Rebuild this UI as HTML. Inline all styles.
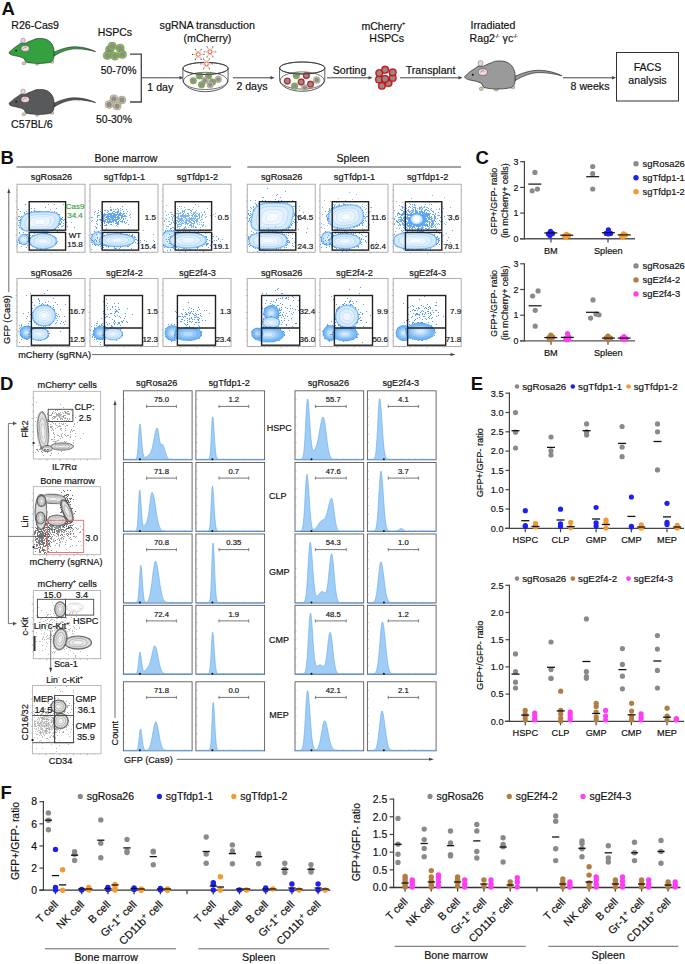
<!DOCTYPE html>
<html><head><meta charset="utf-8"><style>
html,body{margin:0;padding:0;background:#fff;}
svg{display:block;font-family:"Liberation Sans", sans-serif;}
</style></head><body>
<svg width="685" height="964" viewBox="0 0 685 964">
<defs><filter id="bl" x="-20%" y="-20%" width="140%" height="140%"><feGaussianBlur stdDeviation="0.7"/></filter></defs>
<rect width="685" height="964" fill="#fff"/>
<text x="1.4" y="14.5" font-size="18.5" text-anchor="start" fill="#111" font-weight="bold">A</text>
<g transform="translate(0,0)">
<path d="M53.5,52.4 C62,48.5 69,46.6 76,46.8 C84,47 90,49 95.6,51.6 C90,50.2 84,48.9 76,48.8 C69,48.8 62,51.2 54,56 Z" fill="#35a040" stroke="#222" stroke-width="0.6"/>
<ellipse cx="23.9" cy="63.3" rx="1.9" ry="1.5" fill="#d9c9a3" stroke="#666" stroke-width="0.4"/>
<ellipse cx="37.1" cy="63.8" rx="1.9" ry="1.5" fill="#d9c9a3" stroke="#666" stroke-width="0.4"/>
<ellipse cx="52" cy="61.8" rx="1.9" ry="1.5" fill="#d9c9a3" stroke="#666" stroke-width="0.4"/>
<path d="M9,52.3 C11,50.5 14,47.5 17,45.9 C18.5,45 19.8,44 20.7,43 C22.5,43.5 24,43.5 25.9,43 C28,42 29.5,41.3 31.5,40.6 C34,39.5 35.5,38.8 37.1,38.6 C39,38.4 40.5,38.4 42,38.5 C45,38.8 47,39.5 48.4,40.6 C50.5,42 51.8,43.5 52.4,45 C53.5,47 54,49 54,50.7 L54,56.3 C54,58 53.5,59.3 52.8,60.3 C51.5,62 50,62.5 48.4,62.7 C45,63.2 42,63.5 38.7,63.5 C35.5,63.5 33.5,63.3 31.5,63.1 C29,62.8 27.5,62.5 25.9,61.9 C25,61 24.6,59.6 24.3,58.7 C22.5,57.6 21,57.1 19.5,56.7 C17.5,56.2 15.5,55.9 13.8,55.5 C12,55.1 10.8,54.5 9.8,53.9 C9.3,53.5 8.9,52.9 9,52.3 Z" fill="#35a040" stroke="#222" stroke-width="0.6"/>
<ellipse cx="23.1" cy="40.4" rx="2.2" ry="2.3" fill="#f3d3da" stroke="#555" stroke-width="0.4"/>
<ellipse cx="25.2" cy="48.4" rx="4.1" ry="3" fill="#f3d3da" stroke="#444" stroke-width="0.45"/>
<path d="M23.2,48.8 C23.5,47.2 25.5,46.7 26.6,47.6" fill="none" stroke="#555" stroke-width="0.45"/>
<circle cx="16.2" cy="50.7" r="0.9" fill="#111"/>
</g>
<g transform="translate(0,51)">
<path d="M53.5,52.4 C62,48.5 69,46.6 76,46.8 C84,47 90,49 95.6,51.6 C90,50.2 84,48.9 76,48.8 C69,48.8 62,51.2 54,56 Z" fill="#58595b" stroke="#222" stroke-width="0.6"/>
<ellipse cx="23.9" cy="63.3" rx="1.9" ry="1.5" fill="#d9c9a3" stroke="#666" stroke-width="0.4"/>
<ellipse cx="37.1" cy="63.8" rx="1.9" ry="1.5" fill="#d9c9a3" stroke="#666" stroke-width="0.4"/>
<ellipse cx="52" cy="61.8" rx="1.9" ry="1.5" fill="#d9c9a3" stroke="#666" stroke-width="0.4"/>
<path d="M9,52.3 C11,50.5 14,47.5 17,45.9 C18.5,45 19.8,44 20.7,43 C22.5,43.5 24,43.5 25.9,43 C28,42 29.5,41.3 31.5,40.6 C34,39.5 35.5,38.8 37.1,38.6 C39,38.4 40.5,38.4 42,38.5 C45,38.8 47,39.5 48.4,40.6 C50.5,42 51.8,43.5 52.4,45 C53.5,47 54,49 54,50.7 L54,56.3 C54,58 53.5,59.3 52.8,60.3 C51.5,62 50,62.5 48.4,62.7 C45,63.2 42,63.5 38.7,63.5 C35.5,63.5 33.5,63.3 31.5,63.1 C29,62.8 27.5,62.5 25.9,61.9 C25,61 24.6,59.6 24.3,58.7 C22.5,57.6 21,57.1 19.5,56.7 C17.5,56.2 15.5,55.9 13.8,55.5 C12,55.1 10.8,54.5 9.8,53.9 C9.3,53.5 8.9,52.9 9,52.3 Z" fill="#58595b" stroke="#222" stroke-width="0.6"/>
<ellipse cx="23.1" cy="40.4" rx="2.2" ry="2.3" fill="#f3d3da" stroke="#555" stroke-width="0.4"/>
<ellipse cx="25.2" cy="48.4" rx="4.1" ry="3" fill="#f3d3da" stroke="#444" stroke-width="0.45"/>
<path d="M23.2,48.8 C23.5,47.2 25.5,46.7 26.6,47.6" fill="none" stroke="#555" stroke-width="0.45"/>
<circle cx="16.2" cy="50.7" r="0.9" fill="#111"/>
</g>
<g transform="translate(454.6,17.9) scale(1.12)">
<path d="M53.5,52.4 C62,48.5 69,46.6 76,46.8 C84,47 90,49 95.6,51.6 C90,50.2 84,48.9 76,48.8 C69,48.8 62,51.2 54,56 Z" fill="#9a9a9a" stroke="#222" stroke-width="0.6"/>
<ellipse cx="23.9" cy="63.3" rx="1.9" ry="1.5" fill="#d9c9a3" stroke="#666" stroke-width="0.4"/>
<ellipse cx="37.1" cy="63.8" rx="1.9" ry="1.5" fill="#d9c9a3" stroke="#666" stroke-width="0.4"/>
<ellipse cx="52" cy="61.8" rx="1.9" ry="1.5" fill="#d9c9a3" stroke="#666" stroke-width="0.4"/>
<path d="M9,52.3 C11,50.5 14,47.5 17,45.9 C18.5,45 19.8,44 20.7,43 C22.5,43.5 24,43.5 25.9,43 C28,42 29.5,41.3 31.5,40.6 C34,39.5 35.5,38.8 37.1,38.6 C39,38.4 40.5,38.4 42,38.5 C45,38.8 47,39.5 48.4,40.6 C50.5,42 51.8,43.5 52.4,45 C53.5,47 54,49 54,50.7 L54,56.3 C54,58 53.5,59.3 52.8,60.3 C51.5,62 50,62.5 48.4,62.7 C45,63.2 42,63.5 38.7,63.5 C35.5,63.5 33.5,63.3 31.5,63.1 C29,62.8 27.5,62.5 25.9,61.9 C25,61 24.6,59.6 24.3,58.7 C22.5,57.6 21,57.1 19.5,56.7 C17.5,56.2 15.5,55.9 13.8,55.5 C12,55.1 10.8,54.5 9.8,53.9 C9.3,53.5 8.9,52.9 9,52.3 Z" fill="#9a9a9a" stroke="#222" stroke-width="0.6"/>
<ellipse cx="23.1" cy="40.4" rx="2.2" ry="2.3" fill="#f3d3da" stroke="#555" stroke-width="0.4"/>
<ellipse cx="25.2" cy="48.4" rx="4.1" ry="3" fill="#f3d3da" stroke="#444" stroke-width="0.45"/>
<path d="M23.2,48.8 C23.5,47.2 25.5,46.7 26.6,47.6" fill="none" stroke="#555" stroke-width="0.45"/>
<circle cx="16.2" cy="50.7" r="0.9" fill="#111"/>
</g>
<circle cx="109.60" cy="49.70" r="4.10" fill="#86c440" stroke="#555" stroke-width="0.35"/>
<circle cx="109.60" cy="49.70" r="2.71" fill="#8c8d92" stroke="none" stroke-width="0"/>
<circle cx="120.10" cy="48.20" r="4.10" fill="#86c440" stroke="#555" stroke-width="0.35"/>
<circle cx="120.10" cy="48.20" r="2.71" fill="#8c8d92" stroke="none" stroke-width="0"/>
<circle cx="112.20" cy="46.20" r="4.10" fill="#86c440" stroke="#555" stroke-width="0.35"/>
<circle cx="112.20" cy="46.20" r="2.71" fill="#8c8d92" stroke="none" stroke-width="0"/>
<circle cx="107.30" cy="55.50" r="4.10" fill="#86c440" stroke="#555" stroke-width="0.35"/>
<circle cx="107.30" cy="55.50" r="2.71" fill="#8c8d92" stroke="none" stroke-width="0"/>
<circle cx="122.40" cy="54.40" r="4.10" fill="#86c440" stroke="#555" stroke-width="0.35"/>
<circle cx="122.40" cy="54.40" r="2.71" fill="#8c8d92" stroke="none" stroke-width="0"/>
<circle cx="114.90" cy="56.10" r="4.10" fill="#86c440" stroke="#555" stroke-width="0.35"/>
<circle cx="114.90" cy="56.10" r="2.71" fill="#8c8d92" stroke="none" stroke-width="0"/>
<circle cx="113.90" cy="98.80" r="4.00" fill="#d9cca6" stroke="#555" stroke-width="0.35"/>
<circle cx="113.90" cy="98.80" r="2.64" fill="#8c8d92" stroke="none" stroke-width="0"/>
<circle cx="121.90" cy="100.00" r="4.00" fill="#d9cca6" stroke="#555" stroke-width="0.35"/>
<circle cx="121.90" cy="100.00" r="2.64" fill="#8c8d92" stroke="none" stroke-width="0"/>
<circle cx="109.10" cy="104.50" r="4.00" fill="#d9cca6" stroke="#555" stroke-width="0.35"/>
<circle cx="109.10" cy="104.50" r="2.64" fill="#8c8d92" stroke="none" stroke-width="0"/>
<circle cx="117.10" cy="106.10" r="4.00" fill="#d9cca6" stroke="#555" stroke-width="0.35"/>
<circle cx="117.10" cy="106.10" r="2.64" fill="#8c8d92" stroke="none" stroke-width="0"/>
<text x="11.3" y="28.8" font-size="10.6" text-anchor="start" fill="#111" stroke="#111" stroke-width="0.18">R26-Cas9</text>
<text x="11.1" y="128.3" font-size="10.7" text-anchor="start" fill="#111" stroke="#111" stroke-width="0.18">C57BL/6</text>
<text x="114.9" y="36.0" font-size="10.5" text-anchor="middle" fill="#111" stroke="#111" stroke-width="0.18">HSPCs</text>
<text x="118.6" y="73.6" font-size="10.4" text-anchor="middle" fill="#111" stroke="#111" stroke-width="0.18">50-70%</text>
<text x="114.0" y="123.0" font-size="10.4" text-anchor="middle" fill="#111" stroke="#111" stroke-width="0.18">50-30%</text>
<path d="M130,54.2 L141.3,54.2 L141.3,102 L130,102" fill="none" stroke="#444" stroke-width="1.3"/>
<line x1="141.30" y1="77.80" x2="180.50" y2="77.80" stroke="#444" stroke-width="1.0"/>
<path d="M183.5,77.8 L179.5,76.0 L179.5,79.6 Z" fill="#444"/>
<text x="160.3" y="90.5" font-size="10.6" text-anchor="middle" fill="#111" stroke="#111" stroke-width="0.18">1 day</text>
<text x="207.2" y="29.1" font-size="10.8" text-anchor="middle" fill="#111" stroke="#111" stroke-width="0.18">sgRNA transduction</text>
<text x="207.4" y="41.8" font-size="10.6" text-anchor="middle" fill="#111" stroke="#111" stroke-width="0.18">(mCherry)</text>
<path d="M182.9,68.4 L182.9,79.9 A22.6,11.8 0 0 0 228.1,79.9 L228.1,68.4" fill="#fff" stroke="#333" stroke-width="0.8"/>
<ellipse cx="205.5" cy="80.9" rx="22" ry="8.6" fill="none" stroke="#333" stroke-width="0.7"/>
<ellipse cx="205.5" cy="68.4" rx="22.6" ry="6" fill="#fff" fill-opacity="0.0" stroke="#333" stroke-width="0.8"/>
<circle cx="199.50" cy="75.90" r="3.30" fill="#86c440" stroke="#555" stroke-width="0.35"/>
<circle cx="199.50" cy="75.90" r="2.18" fill="#8c8d92" stroke="none" stroke-width="0"/>
<circle cx="208.60" cy="75.90" r="3.30" fill="#86c440" stroke="#555" stroke-width="0.35"/>
<circle cx="208.60" cy="75.90" r="2.18" fill="#8c8d92" stroke="none" stroke-width="0"/>
<circle cx="193.30" cy="80.70" r="3.30" fill="#86c440" stroke="#555" stroke-width="0.35"/>
<circle cx="193.30" cy="80.70" r="2.18" fill="#8c8d92" stroke="none" stroke-width="0"/>
<circle cx="205.10" cy="80.30" r="3.30" fill="#d9cca6" stroke="#555" stroke-width="0.35"/>
<circle cx="205.10" cy="80.30" r="2.18" fill="#8c8d92" stroke="none" stroke-width="0"/>
<circle cx="218.30" cy="79.40" r="3.30" fill="#d9cca6" stroke="#555" stroke-width="0.35"/>
<circle cx="218.30" cy="79.40" r="2.18" fill="#8c8d92" stroke="none" stroke-width="0"/>
<circle cx="212.60" cy="82.00" r="3.30" fill="#86c440" stroke="#555" stroke-width="0.35"/>
<circle cx="212.60" cy="82.00" r="2.18" fill="#8c8d92" stroke="none" stroke-width="0"/>
<circle cx="201.60" cy="84.70" r="3.30" fill="#86c440" stroke="#555" stroke-width="0.35"/>
<circle cx="201.60" cy="84.70" r="2.18" fill="#8c8d92" stroke="none" stroke-width="0"/>
<circle cx="210.20" cy="84.70" r="3.30" fill="#d9cca6" stroke="#555" stroke-width="0.35"/>
<circle cx="210.20" cy="84.70" r="2.18" fill="#8c8d92" stroke="none" stroke-width="0"/>
<ellipse cx="205.5" cy="68.4" rx="22.6" ry="6" fill="none" stroke="#333" stroke-width="0.8"/>
<polygon points="201.50,54.40 199.90,57.17 196.70,57.17 195.10,54.40 196.70,51.63 199.90,51.63" fill="#fdf3ef" stroke="#c9a090" stroke-width="0.35"/>
<line x1="201.50" y1="54.40" x2="203.90" y2="54.40" stroke="#8a6a5a" stroke-width="0.45"/>
<circle cx="204.10" cy="54.40" r="0.60" fill="#6a4a40" stroke="none" stroke-width="0"/>
<line x1="199.90" y1="57.17" x2="201.10" y2="59.25" stroke="#8a6a5a" stroke-width="0.45"/>
<circle cx="201.20" cy="59.42" r="0.60" fill="#6a4a40" stroke="none" stroke-width="0"/>
<line x1="196.70" y1="57.17" x2="195.50" y2="59.25" stroke="#8a6a5a" stroke-width="0.45"/>
<circle cx="195.40" cy="59.42" r="0.60" fill="#6a4a40" stroke="none" stroke-width="0"/>
<line x1="195.10" y1="54.40" x2="192.70" y2="54.40" stroke="#8a6a5a" stroke-width="0.45"/>
<circle cx="192.50" cy="54.40" r="0.60" fill="#6a4a40" stroke="none" stroke-width="0"/>
<line x1="196.70" y1="51.63" x2="195.50" y2="49.55" stroke="#8a6a5a" stroke-width="0.45"/>
<circle cx="195.40" cy="49.38" r="0.60" fill="#6a4a40" stroke="none" stroke-width="0"/>
<line x1="199.90" y1="51.63" x2="201.10" y2="49.55" stroke="#8a6a5a" stroke-width="0.45"/>
<circle cx="201.20" cy="49.38" r="0.60" fill="#6a4a40" stroke="none" stroke-width="0"/>
<circle cx="198.30" cy="54.40" r="1.90" fill="#fff" stroke="#ee6a48" stroke-width="1.0"/>
<polygon points="213.20,51.80 211.60,54.57 208.40,54.57 206.80,51.80 208.40,49.03 211.60,49.03" fill="#fdf3ef" stroke="#c9a090" stroke-width="0.35"/>
<line x1="213.20" y1="51.80" x2="215.60" y2="51.80" stroke="#8a6a5a" stroke-width="0.45"/>
<circle cx="215.80" cy="51.80" r="0.60" fill="#6a4a40" stroke="none" stroke-width="0"/>
<line x1="211.60" y1="54.57" x2="212.80" y2="56.65" stroke="#8a6a5a" stroke-width="0.45"/>
<circle cx="212.90" cy="56.82" r="0.60" fill="#6a4a40" stroke="none" stroke-width="0"/>
<line x1="208.40" y1="54.57" x2="207.20" y2="56.65" stroke="#8a6a5a" stroke-width="0.45"/>
<circle cx="207.10" cy="56.82" r="0.60" fill="#6a4a40" stroke="none" stroke-width="0"/>
<line x1="206.80" y1="51.80" x2="204.40" y2="51.80" stroke="#8a6a5a" stroke-width="0.45"/>
<circle cx="204.20" cy="51.80" r="0.60" fill="#6a4a40" stroke="none" stroke-width="0"/>
<line x1="208.40" y1="49.03" x2="207.20" y2="46.95" stroke="#8a6a5a" stroke-width="0.45"/>
<circle cx="207.10" cy="46.78" r="0.60" fill="#6a4a40" stroke="none" stroke-width="0"/>
<line x1="211.60" y1="49.03" x2="212.80" y2="46.95" stroke="#8a6a5a" stroke-width="0.45"/>
<circle cx="212.90" cy="46.78" r="0.60" fill="#6a4a40" stroke="none" stroke-width="0"/>
<circle cx="210.00" cy="51.80" r="1.90" fill="#fff" stroke="#ee6a48" stroke-width="1.0"/>
<polygon points="209.70,63.80 208.10,66.57 204.90,66.57 203.30,63.80 204.90,61.03 208.10,61.03" fill="#fdf3ef" stroke="#c9a090" stroke-width="0.35"/>
<line x1="209.70" y1="63.80" x2="212.10" y2="63.80" stroke="#8a6a5a" stroke-width="0.45"/>
<circle cx="212.30" cy="63.80" r="0.60" fill="#6a4a40" stroke="none" stroke-width="0"/>
<line x1="208.10" y1="66.57" x2="209.30" y2="68.65" stroke="#8a6a5a" stroke-width="0.45"/>
<circle cx="209.40" cy="68.82" r="0.60" fill="#6a4a40" stroke="none" stroke-width="0"/>
<line x1="204.90" y1="66.57" x2="203.70" y2="68.65" stroke="#8a6a5a" stroke-width="0.45"/>
<circle cx="203.60" cy="68.82" r="0.60" fill="#6a4a40" stroke="none" stroke-width="0"/>
<line x1="203.30" y1="63.80" x2="200.90" y2="63.80" stroke="#8a6a5a" stroke-width="0.45"/>
<circle cx="200.70" cy="63.80" r="0.60" fill="#6a4a40" stroke="none" stroke-width="0"/>
<line x1="204.90" y1="61.03" x2="203.70" y2="58.95" stroke="#8a6a5a" stroke-width="0.45"/>
<circle cx="203.60" cy="58.78" r="0.60" fill="#6a4a40" stroke="none" stroke-width="0"/>
<line x1="208.10" y1="61.03" x2="209.30" y2="58.95" stroke="#8a6a5a" stroke-width="0.45"/>
<circle cx="209.40" cy="58.78" r="0.60" fill="#6a4a40" stroke="none" stroke-width="0"/>
<circle cx="206.50" cy="63.80" r="1.90" fill="#fff" stroke="#ee6a48" stroke-width="1.0"/>
<line x1="233.00" y1="77.80" x2="271.50" y2="77.80" stroke="#444" stroke-width="1.0"/>
<path d="M274.5,77.8 L270.5,76.0 L270.5,79.6 Z" fill="#444"/>
<text x="252.0" y="90.0" font-size="10.6" text-anchor="middle" fill="#111" stroke="#111" stroke-width="0.18">2 days</text>
<path d="M279.6,68.0 L279.6,79.5 A22.6,11.8 0 0 0 324.8,79.5 L324.8,68.0" fill="#fff" stroke="#333" stroke-width="0.8"/>
<ellipse cx="302.2" cy="80.5" rx="22" ry="8.6" fill="none" stroke="#333" stroke-width="0.7"/>
<ellipse cx="302.2" cy="68.0" rx="22.6" ry="6" fill="#fff" fill-opacity="0.0" stroke="#333" stroke-width="0.8"/>
<circle cx="296.30" cy="75.60" r="3.40" fill="#86c440" stroke="#555" stroke-width="0.35"/>
<circle cx="296.30" cy="75.60" r="2.24" fill="#8c8d92" stroke="none" stroke-width="0"/>
<circle cx="306.40" cy="75.60" r="3.40" fill="#e01818" stroke="#555" stroke-width="0.35"/>
<circle cx="306.40" cy="75.60" r="2.24" fill="#8c8d92" stroke="none" stroke-width="0"/>
<circle cx="287.30" cy="81.10" r="3.40" fill="#e01818" stroke="#555" stroke-width="0.35"/>
<circle cx="287.30" cy="81.10" r="2.24" fill="#8c8d92" stroke="none" stroke-width="0"/>
<circle cx="301.20" cy="82.00" r="3.40" fill="#e01818" stroke="#555" stroke-width="0.35"/>
<circle cx="301.20" cy="82.00" r="2.24" fill="#8c8d92" stroke="none" stroke-width="0"/>
<circle cx="316.70" cy="80.00" r="3.40" fill="#d9cca6" stroke="#555" stroke-width="0.35"/>
<circle cx="316.70" cy="80.00" r="2.24" fill="#8c8d92" stroke="none" stroke-width="0"/>
<circle cx="310.50" cy="84.20" r="3.40" fill="#e01818" stroke="#555" stroke-width="0.35"/>
<circle cx="310.50" cy="84.20" r="2.24" fill="#8c8d92" stroke="none" stroke-width="0"/>
<circle cx="294.60" cy="86.10" r="3.40" fill="#86c440" stroke="#555" stroke-width="0.35"/>
<circle cx="294.60" cy="86.10" r="2.24" fill="#8c8d92" stroke="none" stroke-width="0"/>
<circle cx="304.80" cy="87.80" r="3.40" fill="#d9cca6" stroke="#555" stroke-width="0.35"/>
<circle cx="304.80" cy="87.80" r="2.24" fill="#8c8d92" stroke="none" stroke-width="0"/>
<ellipse cx="302.2" cy="68" rx="22.6" ry="6" fill="none" stroke="#333" stroke-width="0.8"/>
<line x1="327.00" y1="77.80" x2="369.50" y2="77.80" stroke="#444" stroke-width="1.0"/>
<path d="M372.5,77.8 L368.5,76.0 L368.5,79.6 Z" fill="#444"/>
<text x="349.6" y="73.7" font-size="10.6" text-anchor="middle" fill="#111" stroke="#111" stroke-width="0.18">Sorting</text>
<circle cx="381.90" cy="85.70" r="3.90" fill="#e01818" stroke="#a00" stroke-width="0.35"/>
<circle cx="381.90" cy="85.70" r="2.57" fill="#8c8d92" stroke="none" stroke-width="0"/>
<circle cx="388.50" cy="83.10" r="3.90" fill="#e01818" stroke="#a00" stroke-width="0.35"/>
<circle cx="388.50" cy="83.10" r="2.57" fill="#8c8d92" stroke="none" stroke-width="0"/>
<circle cx="379.00" cy="79.40" r="3.90" fill="#e01818" stroke="#a00" stroke-width="0.35"/>
<circle cx="379.00" cy="79.40" r="2.57" fill="#8c8d92" stroke="none" stroke-width="0"/>
<circle cx="392.70" cy="77.90" r="3.90" fill="#e01818" stroke="#a00" stroke-width="0.35"/>
<circle cx="392.70" cy="77.90" r="2.57" fill="#8c8d92" stroke="none" stroke-width="0"/>
<circle cx="379.30" cy="73.10" r="3.90" fill="#e01818" stroke="#a00" stroke-width="0.35"/>
<circle cx="379.30" cy="73.10" r="2.57" fill="#8c8d92" stroke="none" stroke-width="0"/>
<circle cx="392.70" cy="72.30" r="3.90" fill="#e01818" stroke="#a00" stroke-width="0.35"/>
<circle cx="392.70" cy="72.30" r="2.57" fill="#8c8d92" stroke="none" stroke-width="0"/>
<circle cx="385.10" cy="69.70" r="3.90" fill="#e01818" stroke="#a00" stroke-width="0.35"/>
<circle cx="385.10" cy="69.70" r="2.57" fill="#8c8d92" stroke="none" stroke-width="0"/>
<circle cx="385.10" cy="78.90" r="3.90" fill="#e01818" stroke="#a00" stroke-width="0.35"/>
<circle cx="385.10" cy="78.90" r="2.57" fill="#8c8d92" stroke="none" stroke-width="0"/>
<text x="383.3" y="29.6" font-size="10.6" text-anchor="middle" fill="#111" stroke="#111" stroke-width="0.18">mCherry<tspan font-size="5.5" dy="-4.2">+</tspan></text>
<text x="386.7" y="42.2" font-size="10.6" text-anchor="middle" fill="#111" stroke="#111" stroke-width="0.18">HSPCs</text>
<line x1="400.00" y1="77.80" x2="459.50" y2="77.80" stroke="#444" stroke-width="1.0"/>
<path d="M462.5,77.8 L458.5,76.0 L458.5,79.6 Z" fill="#444"/>
<text x="430.6" y="73.7" font-size="10.6" text-anchor="middle" fill="#111" stroke="#111" stroke-width="0.18">Transplant</text>
<text x="493.0" y="29.2" font-size="10.6" text-anchor="middle" fill="#111" stroke="#111" stroke-width="0.18">Irradiated</text>
<text x="469.6" y="41.9" font-size="10.6" text-anchor="start" fill="#111" stroke="#111" stroke-width="0.18">Rag2<tspan font-size="5" dy="-4.3">-/-</tspan><tspan dy="4.3"> γc</tspan><tspan font-size="5" dy="-4.3">-/-</tspan></text>
<line x1="563.00" y1="77.80" x2="613.00" y2="77.80" stroke="#444" stroke-width="1.0"/>
<path d="M616.0,77.8 L612.0,76.0 L612.0,79.6 Z" fill="#444"/>
<text x="590.0" y="90.2" font-size="10.6" text-anchor="middle" fill="#111" stroke="#111" stroke-width="0.18">8 weeks</text>
<rect x="616.50" y="52.50" width="62.00" height="48.50" stroke="#333" stroke-width="1.0" fill="none"/>
<text x="647.5" y="71.3" font-size="10.6" text-anchor="middle" fill="#111" stroke="#111" stroke-width="0.18">FACS</text>
<text x="647.5" y="84.3" font-size="10.6" text-anchor="middle" fill="#111" stroke="#111" stroke-width="0.18">analysis</text>
<text x="0.6" y="163.8" font-size="18.5" text-anchor="start" fill="#111" font-weight="bold">B</text>
<rect x="17.00" y="184.20" width="68.00" height="68.00" stroke="#9a9a9a" stroke-width="0.8" fill="none"/>
<line x1="16.20" y1="189.87" x2="17.00" y2="189.87" stroke="#888" stroke-width="0.5"/>
<line x1="16.20" y1="195.53" x2="17.00" y2="195.53" stroke="#888" stroke-width="0.5"/>
<line x1="15.50" y1="201.20" x2="17.00" y2="201.20" stroke="#888" stroke-width="0.5"/>
<line x1="16.20" y1="206.87" x2="17.00" y2="206.87" stroke="#888" stroke-width="0.5"/>
<line x1="16.20" y1="212.53" x2="17.00" y2="212.53" stroke="#888" stroke-width="0.5"/>
<line x1="15.50" y1="218.20" x2="17.00" y2="218.20" stroke="#888" stroke-width="0.5"/>
<line x1="16.20" y1="223.87" x2="17.00" y2="223.87" stroke="#888" stroke-width="0.5"/>
<line x1="16.20" y1="229.53" x2="17.00" y2="229.53" stroke="#888" stroke-width="0.5"/>
<line x1="15.50" y1="235.20" x2="17.00" y2="235.20" stroke="#888" stroke-width="0.5"/>
<line x1="16.20" y1="240.87" x2="17.00" y2="240.87" stroke="#888" stroke-width="0.5"/>
<line x1="16.20" y1="246.53" x2="17.00" y2="246.53" stroke="#888" stroke-width="0.5"/>
<line x1="22.67" y1="252.20" x2="22.67" y2="253.00" stroke="#888" stroke-width="0.5"/>
<line x1="28.33" y1="252.20" x2="28.33" y2="253.00" stroke="#888" stroke-width="0.5"/>
<line x1="34.00" y1="252.20" x2="34.00" y2="253.70" stroke="#888" stroke-width="0.5"/>
<line x1="39.67" y1="252.20" x2="39.67" y2="253.00" stroke="#888" stroke-width="0.5"/>
<line x1="45.33" y1="252.20" x2="45.33" y2="253.00" stroke="#888" stroke-width="0.5"/>
<line x1="51.00" y1="252.20" x2="51.00" y2="253.70" stroke="#888" stroke-width="0.5"/>
<line x1="56.67" y1="252.20" x2="56.67" y2="253.00" stroke="#888" stroke-width="0.5"/>
<line x1="62.33" y1="252.20" x2="62.33" y2="253.00" stroke="#888" stroke-width="0.5"/>
<line x1="68.00" y1="252.20" x2="68.00" y2="253.70" stroke="#888" stroke-width="0.5"/>
<line x1="73.67" y1="252.20" x2="73.67" y2="253.00" stroke="#888" stroke-width="0.5"/>
<line x1="79.33" y1="252.20" x2="79.33" y2="253.00" stroke="#888" stroke-width="0.5"/>
<g clip-path="url(#cp17_184)">
<path d="M36 223h1v1h-1zM37 218h1v1h-1zM27 218h1v1h-1zM54 222h1v1h-1zM53 221h1v1h-1zM45 221h1v1h-1zM18 225h1v1h-1zM46 223h1v1h-1zM18 209h1v1h-1zM28 217h1v1h-1zM43 219h1v1h-1zM46 216h1v1h-1zM44 222h1v1h-1zM31 230h1v1h-1zM47 227h1v1h-1zM31 215h1v1h-1zM35 219h1v1h-1zM48 221h1v1h-1zM34 214h1v1h-1zM33 227h1v1h-1zM29 221h1v1h-1zM45 211h1v1h-1zM40 228h1v1h-1zM38 215h1v1h-1zM46 219h1v1h-1zM20 225h1v1h-1zM48 225h1v1h-1zM58 222h1v1h-1zM41 212h1v1h-1zM48 216h1v1h-1zM34 212h1v1h-1zM27 217h1v1h-1zM56 208h1v1h-1zM21 221h1v1h-1zM58 223h1v1h-1zM44 215h1v1h-1zM25 226h1v1h-1zM54 221h1v1h-1zM43 222h1v1h-1zM60 223h1v1h-1zM19 227h1v1h-1zM52 223h1v1h-1zM50 209h1v1h-1zM37 226h1v1h-1zM22 229h1v1h-1zM47 219h1v1h-1zM44 224h1v1h-1zM41 227h1v1h-1zM31 217h1v1h-1zM53 220h1v1h-1zM28 225h1v1h-1zM59 217h1v1h-1zM22 219h1v1h-1zM38 218h1v1h-1zM58 214h1v1h-1zM56 212h1v1h-1zM29 223h1v1h-1zM54 225h1v1h-1zM44 221h1v1h-1zM41 223h1v1h-1zM37 221h1v1h-1zM47 220h1v1h-1zM49 223h1v1h-1zM66 222h1v1h-1zM34 217h1v1h-1zM39 225h1v1h-1zM35 222h1v1h-1zM63 204h1v1h-1zM25 221h1v1h-1zM34 224h1v1h-1zM43 217h1v1h-1zM71 222h1v1h-1zM32 219h1v1h-1zM37 219h1v1h-1zM53 213h1v1h-1zM51 229h1v1h-1zM17 218h1v1h-1zM35 223h1v1h-1zM54 204h1v1h-1zM54 211h1v1h-1zM48 211h1v1h-1zM42 227h1v1h-1zM38 221h1v1h-1zM50 221h1v1h-1zM38 229h1v1h-1zM53 218h1v1h-1zM75 213h1v1h-1zM51 218h1v1h-1zM41 224h1v1h-1zM42 224h1v1h-1zM20 211h1v1h-1zM47 214h1v1h-1zM26 211h1v1h-1zM56 224h1v1h-1zM59 214h1v1h-1zM40 213h1v1h-1zM49 229h1v1h-1zM28 229h1v1h-1zM52 219h1v1h-1zM38 216h1v1h-1zM45 222h1v1h-1zM54 229h1v1h-1zM58 219h1v1h-1zM30 226h1v1h-1zM41 220h1v1h-1zM58 218h1v1h-1zM44 216h1v1h-1zM41 228h1v1h-1zM39 226h1v1h-1zM59 229h1v1h-1zM31 225h1v1h-1zM23 220h1v1h-1zM37 220h1v1h-1zM32 221h1v1h-1zM63 220h1v1h-1zM46 226h1v1h-1zM37 212h1v1h-1zM32 226h1v1h-1zM18 216h1v1h-1zM53 224h1v1h-1zM40 225h1v1h-1zM42 213h1v1h-1zM19 216h1v1h-1zM51 216h1v1h-1zM28 215h1v1h-1zM20 219h1v1h-1zM24 222h1v1h-1zM31 208h1v1h-1zM49 218h1v1h-1zM50 224h1v1h-1zM48 222h1v1h-1zM57 224h1v1h-1zM45 207h1v1h-1zM51 228h1v1h-1zM36 217h1v1h-1zM65 209h1v1h-1zM46 234h1v1h-1zM27 224h1v1h-1zM64 219h1v1h-1zM47 225h1v1h-1zM28 219h1v1h-1zM43 225h1v1h-1zM39 219h1v1h-1zM26 218h1v1h-1zM51 220h1v1h-1zM74 227h1v1h-1zM48 204h1v1h-1zM48 223h1v1h-1zM61 222h1v1h-1zM39 223h1v1h-1zM57 231h1v1h-1zM21 216h1v1h-1zM43 221h1v1h-1zM67 226h1v1h-1zM24 212h1v1h-1zM62 226h1v1h-1zM63 225h1v1h-1zM28 221h1v1h-1zM30 219h1v1h-1zM35 224h1v1h-1zM40 215h1v1h-1zM31 220h1v1h-1zM39 221h1v1h-1zM38 212h1v1h-1zM45 226h1v1h-1zM45 219h1v1h-1zM45 214h1v1h-1zM25 204h1v1h-1zM26 229h1v1h-1zM35 211h1v1h-1zM30 223h1v1h-1zM46 221h1v1h-1zM59 224h1v1h-1zM61 226h1v1h-1zM38 224h1v1h-1zM36 226h1v1h-1zM37 235h1v1h-1zM56 218h1v1h-1zM41 235h1v1h-1zM35 225h1v1h-1zM52 220h1v1h-1zM24 221h1v1h-1zM44 226h1v1h-1zM50 220h1v1h-1zM51 223h1v1h-1zM42 220h1v1h-1zM36 224h1v1h-1zM26 216h1v1h-1zM40 211h1v1h-1zM34 208h1v1h-1zM31 223h1v1h-1zM36 211h1v1h-1zM63 223h1v1h-1z" fill="#3d8ff0" fill-opacity="0.8"/>
<path d="M55 215h1v1h-1zM47 213h1v1h-1zM52 228h1v1h-1zM50 213h1v1h-1zM47 211h1v1h-1zM31 212h1v1h-1zM59 223h1v1h-1zM53 229h1v1h-1zM51 212h1v1h-1zM21 218h1v1h-1zM31 213h1v1h-1zM39 211h1v1h-1zM21 221h1v1h-1zM58 225h1v1h-1zM38 211h1v1h-1zM37 232h1v1h-1zM37 211h1v1h-1zM62 219h1v1h-1zM20 222h1v1h-1zM31 211h1v1h-1zM42 212h1v1h-1zM57 226h1v1h-1zM52 229h1v1h-1zM32 232h1v1h-1zM20 217h1v1h-1zM37 231h1v1h-1zM30 213h1v1h-1zM35 230h1v1h-1zM20 220h1v1h-1zM55 228h1v1h-1zM57 215h1v1h-1zM62 217h1v1h-1zM58 222h1v1h-1zM61 219h1v1h-1zM20 224h1v1h-1zM60 218h1v1h-1zM44 231h1v1h-1zM19 220h1v1h-1zM61 218h1v1h-1zM19 222h1v1h-1zM27 230h1v1h-1zM31 231h1v1h-1zM40 211h1v1h-1zM52 212h1v1h-1zM34 210h1v1h-1zM56 215h1v1h-1zM22 228h1v1h-1zM59 221h1v1h-1zM21 225h1v1h-1zM36 232h1v1h-1zM50 212h1v1h-1zM35 232h1v1h-1zM18 220h1v1h-1zM56 214h1v1h-1zM56 216h1v1h-1zM57 218h1v1h-1zM59 224h1v1h-1zM37 212h1v1h-1zM26 213h1v1h-1zM34 233h1v1h-1zM55 229h1v1h-1zM20 223h1v1h-1zM60 220h1v1h-1zM51 230h1v1h-1zM45 232h1v1h-1zM43 231h1v1h-1zM58 215h1v1h-1zM47 231h1v1h-1zM58 227h1v1h-1zM41 231h1v1h-1zM57 214h1v1h-1zM39 212h1v1h-1zM25 228h1v1h-1zM36 231h1v1h-1zM24 213h1v1h-1zM53 213h1v1h-1zM40 232h1v1h-1zM25 226h1v1h-1zM54 214h1v1h-1zM34 211h1v1h-1zM55 216h1v1h-1zM61 221h1v1h-1zM21 228h1v1h-1zM52 214h1v1h-1zM60 219h1v1h-1zM52 230h1v1h-1zM36 213h1v1h-1zM27 213h1v1h-1zM60 224h1v1h-1zM57 217h1v1h-1zM39 232h1v1h-1zM26 214h1v1h-1z" fill="#3d8ff0" fill-opacity="0.85"/>
<g>
<path d="M59.3,221.7 L58.2,225.0 L57.0,226.9 L55.4,228.3 L53.4,229.5 L50.9,230.4 L47.8,231.0 L44.1,231.4 L37.6,231.5 L31.1,231.4 L27.5,231.0 L24.8,230.4 L22.7,229.5 L21.3,228.3 L20.4,226.9 L20.1,225.0 L20.7,221.7 L21.8,218.4 L23.0,216.5 L24.6,215.1 L26.6,213.9 L29.1,213.0 L32.2,212.4 L35.9,212.0 L42.4,211.9 L48.9,212.0 L52.5,212.4 L55.2,213.0 L57.3,213.9 L58.7,215.1 L59.6,216.5 L59.9,218.4Z" fill="none" stroke="#5aa8f2" stroke-width="1.6" stroke-opacity="0.7" filter="url(#bl)"/>
<path d="M59.0,221.7 L58.0,224.9 L56.8,226.7 L55.2,228.1 L53.2,229.2 L50.7,230.1 L47.8,230.7 L44.0,231.1 L37.6,231.2 L31.3,231.1 L27.7,230.7 L25.1,230.1 L23.0,229.2 L21.6,228.1 L20.7,226.7 L20.4,224.9 L21.0,221.7 L22.0,218.5 L23.2,216.7 L24.8,215.3 L26.8,214.2 L29.3,213.3 L32.2,212.7 L36.0,212.3 L42.4,212.2 L48.7,212.3 L52.3,212.7 L54.9,213.3 L57.0,214.2 L58.4,215.3 L59.3,216.7 L59.6,218.5Z" fill="#d3e9fc" stroke="#6fb1f3" stroke-width="0.5"/>
<path d="M54.6,221.7 L53.8,224.2 L52.9,225.5 L51.7,226.6 L50.1,227.5 L48.2,228.1 L46.0,228.6 L43.1,228.9 L38.2,229.0 L33.3,228.9 L30.6,228.6 L28.5,228.1 L27.0,227.5 L25.9,226.6 L25.2,225.5 L25.0,224.2 L25.4,221.7 L26.2,219.2 L27.1,217.9 L28.3,216.8 L29.9,215.9 L31.8,215.3 L34.0,214.8 L36.9,214.5 L41.8,214.4 L46.7,214.5 L49.4,214.8 L51.5,215.3 L53.0,215.9 L54.1,216.8 L54.8,217.9 L55.0,219.2Z" fill="#e2f0fd" stroke="#93c6f6" stroke-width="0.5"/>
<path d="M50.2,221.7 L49.6,223.4 L49.0,224.4 L48.1,225.1 L47.1,225.7 L45.7,226.2 L44.2,226.5 L42.2,226.7 L38.7,226.8 L35.3,226.7 L33.4,226.5 L32.0,226.2 L30.9,225.7 L30.2,225.1 L29.7,224.4 L29.5,223.4 L29.8,221.7 L30.4,220.0 L31.0,219.0 L31.9,218.3 L32.9,217.7 L34.3,217.2 L35.8,216.9 L37.8,216.7 L41.3,216.6 L44.7,216.7 L46.6,216.9 L48.0,217.2 L49.1,217.7 L49.8,218.3 L50.3,219.0 L50.5,220.0Z" fill="#edf6fe" stroke="#a9d2f8" stroke-width="0.5"/>
<path d="M45.7,221.7 L45.4,222.7 L45.1,223.2 L44.6,223.6 L44.0,224.0 L43.2,224.2 L42.3,224.4 L41.2,224.5 L39.3,224.6 L37.4,224.5 L36.3,224.4 L35.5,224.2 L34.9,224.0 L34.4,223.6 L34.2,223.2 L34.1,222.7 L34.3,221.7 L34.6,220.7 L34.9,220.2 L35.4,219.8 L36.0,219.4 L36.8,219.2 L37.7,219.0 L38.8,218.9 L40.7,218.8 L42.6,218.9 L43.7,219.0 L44.5,219.2 L45.1,219.4 L45.6,219.8 L45.8,220.2 L45.9,220.7Z" fill="#f6fbff" stroke="#bddcf9" stroke-width="0.5"/>
</g>
<path d="M23 238h1v1h-1zM22 242h1v1h-1zM29 238h1v1h-1zM27 236h1v1h-1zM24 241h1v1h-1zM30 238h1v1h-1zM23 239h1v1h-1zM18 239h1v1h-1zM21 240h1v1h-1zM19 233h1v1h-1zM24 239h1v1h-1zM21 241h1v1h-1zM22 237h1v1h-1zM25 234h1v1h-1zM21 239h1v1h-1zM27 238h1v1h-1zM25 237h1v1h-1zM25 244h1v1h-1zM21 246h1v1h-1zM24 242h1v1h-1zM19 232h1v1h-1zM26 241h1v1h-1zM26 247h1v1h-1zM27 240h1v1h-1zM30 235h1v1h-1zM22 228h1v1h-1zM27 245h1v1h-1zM22 236h1v1h-1zM23 241h1v1h-1zM25 238h1v1h-1zM26 238h1v1h-1zM19 243h1v1h-1zM25 236h1v1h-1zM28 240h1v1h-1zM17 244h1v1h-1zM25 241h1v1h-1zM24 238h1v1h-1zM17 242h1v1h-1zM25 239h1v1h-1zM23 232h1v1h-1zM22 241h1v1h-1zM23 243h1v1h-1zM30 239h1v1h-1zM28 237h1v1h-1zM33 237h1v1h-1zM19 240h1v1h-1zM26 234h1v1h-1zM27 234h1v1h-1zM21 237h1v1h-1zM26 243h1v1h-1zM24 240h1v1h-1z" fill="#3d8ff0" fill-opacity="0.8"/>
<path d="M28 240h1v1h-1zM28 238h1v1h-1zM27 236h1v1h-1zM27 241h1v1h-1zM19 241h1v1h-1zM24 243h1v1h-1zM21 235h1v1h-1zM23 234h1v1h-1zM26 242h1v1h-1zM26 235h1v1h-1zM20 243h1v1h-1zM23 244h1v1h-1zM26 243h1v1h-1zM21 243h1v1h-1zM19 242h1v1h-1zM24 244h1v1h-1zM25 235h1v1h-1zM26 241h1v1h-1zM18 240h1v1h-1zM27 237h1v1h-1zM25 244h1v1h-1zM27 238h1v1h-1zM20 242h1v1h-1zM26 236h1v1h-1zM24 234h1v1h-1zM28 237h1v1h-1zM20 236h1v1h-1zM23 243h1v1h-1zM25 243h1v1h-1zM28 239h1v1h-1z" fill="#3d8ff0" fill-opacity="0.85"/>
<g>
<ellipse cx="23.8" cy="239.5" rx="4.90" ry="4.90" fill="none" stroke="#5aa8f2" stroke-width="1.6" stroke-opacity="0.7" filter="url(#bl)"/>
<ellipse cx="23.8" cy="239.5" rx="4.60" ry="4.60" fill="#d3e9fc" stroke="#6fb1f3" stroke-width="0.5"/>
<ellipse cx="23.8" cy="239.5" rx="3.53" ry="3.53" fill="#e2f0fd" stroke="#93c6f6" stroke-width="0.5"/>
<ellipse cx="23.8" cy="239.5" rx="2.46" ry="2.46" fill="#edf6fe" stroke="#a9d2f8" stroke-width="0.5"/>
<ellipse cx="23.8" cy="239.5" rx="1.39" ry="1.39" fill="#f6fbff" stroke="#bddcf9" stroke-width="0.5"/>
</g>
<path d="M37 248h1v1h-1zM28 238h1v1h-1zM55 244h1v1h-1zM29 238h1v1h-1zM34 235h1v1h-1zM38 234h1v1h-1zM31 245h1v1h-1zM56 238h1v1h-1zM38 247h1v1h-1zM31 244h1v1h-1zM52 235h1v1h-1zM47 248h1v1h-1zM41 233h1v1h-1zM53 236h1v1h-1zM30 244h1v1h-1zM52 236h1v1h-1zM30 242h1v1h-1zM30 238h1v1h-1zM33 236h1v1h-1zM34 246h1v1h-1zM40 248h1v1h-1zM29 240h1v1h-1zM29 241h1v1h-1zM47 233h1v1h-1zM52 246h1v1h-1zM55 243h1v1h-1zM53 238h1v1h-1zM32 235h1v1h-1zM49 234h1v1h-1zM45 249h1v1h-1zM47 247h1v1h-1zM45 247h1v1h-1zM32 246h1v1h-1zM54 236h1v1h-1zM54 242h1v1h-1zM55 242h1v1h-1zM50 234h1v1h-1zM30 237h1v1h-1zM31 243h1v1h-1zM44 248h1v1h-1zM44 233h1v1h-1zM48 247h1v1h-1zM29 242h1v1h-1zM53 244h1v1h-1zM56 243h1v1h-1zM33 235h1v1h-1zM45 233h1v1h-1zM28 240h1v1h-1zM33 246h1v1h-1zM57 241h1v1h-1zM55 240h1v1h-1zM27 241h1v1h-1zM49 247h1v1h-1zM46 233h1v1h-1zM35 247h1v1h-1zM43 233h1v1h-1zM40 249h1v1h-1zM48 234h1v1h-1zM55 237h1v1h-1zM46 248h1v1h-1zM36 248h1v1h-1zM56 242h1v1h-1zM55 238h1v1h-1zM37 234h1v1h-1zM45 234h1v1h-1zM51 245h1v1h-1zM51 236h1v1h-1z" fill="#3d8ff0" fill-opacity="0.85"/>
<g>
<ellipse cx="43.0" cy="241.2" rx="13.30" ry="7.50" fill="none" stroke="#5aa8f2" stroke-width="1.6" stroke-opacity="0.7" filter="url(#bl)"/>
<ellipse cx="43.0" cy="241.2" rx="13.00" ry="7.20" fill="#d3e9fc" stroke="#6fb1f3" stroke-width="0.5"/>
<ellipse cx="43.0" cy="241.2" rx="9.06" ry="5.02" fill="#e2f0fd" stroke="#93c6f6" stroke-width="0.5"/>
<ellipse cx="43.0" cy="241.2" rx="5.12" ry="2.84" fill="#edf6fe" stroke="#a9d2f8" stroke-width="0.5"/>
</g>
</g>
<clipPath id="cp17_184"><rect x="17" y="184.2" width="68" height="68"/></clipPath>
<rect x="29.20" y="201.70" width="36.40" height="28.50" stroke="#222" stroke-width="1.4" fill="none"/>
<rect x="29.20" y="232.40" width="36.40" height="17.70" stroke="#222" stroke-width="1.4" fill="none"/>
<rect x="17.00" y="278.50" width="68.00" height="68.00" stroke="#9a9a9a" stroke-width="0.8" fill="none"/>
<line x1="16.20" y1="284.17" x2="17.00" y2="284.17" stroke="#888" stroke-width="0.5"/>
<line x1="16.20" y1="289.83" x2="17.00" y2="289.83" stroke="#888" stroke-width="0.5"/>
<line x1="15.50" y1="295.50" x2="17.00" y2="295.50" stroke="#888" stroke-width="0.5"/>
<line x1="16.20" y1="301.17" x2="17.00" y2="301.17" stroke="#888" stroke-width="0.5"/>
<line x1="16.20" y1="306.83" x2="17.00" y2="306.83" stroke="#888" stroke-width="0.5"/>
<line x1="15.50" y1="312.50" x2="17.00" y2="312.50" stroke="#888" stroke-width="0.5"/>
<line x1="16.20" y1="318.17" x2="17.00" y2="318.17" stroke="#888" stroke-width="0.5"/>
<line x1="16.20" y1="323.83" x2="17.00" y2="323.83" stroke="#888" stroke-width="0.5"/>
<line x1="15.50" y1="329.50" x2="17.00" y2="329.50" stroke="#888" stroke-width="0.5"/>
<line x1="16.20" y1="335.17" x2="17.00" y2="335.17" stroke="#888" stroke-width="0.5"/>
<line x1="16.20" y1="340.83" x2="17.00" y2="340.83" stroke="#888" stroke-width="0.5"/>
<line x1="22.67" y1="346.50" x2="22.67" y2="347.30" stroke="#888" stroke-width="0.5"/>
<line x1="28.33" y1="346.50" x2="28.33" y2="347.30" stroke="#888" stroke-width="0.5"/>
<line x1="34.00" y1="346.50" x2="34.00" y2="348.00" stroke="#888" stroke-width="0.5"/>
<line x1="39.67" y1="346.50" x2="39.67" y2="347.30" stroke="#888" stroke-width="0.5"/>
<line x1="45.33" y1="346.50" x2="45.33" y2="347.30" stroke="#888" stroke-width="0.5"/>
<line x1="51.00" y1="346.50" x2="51.00" y2="348.00" stroke="#888" stroke-width="0.5"/>
<line x1="56.67" y1="346.50" x2="56.67" y2="347.30" stroke="#888" stroke-width="0.5"/>
<line x1="62.33" y1="346.50" x2="62.33" y2="347.30" stroke="#888" stroke-width="0.5"/>
<line x1="68.00" y1="346.50" x2="68.00" y2="348.00" stroke="#888" stroke-width="0.5"/>
<line x1="73.67" y1="346.50" x2="73.67" y2="347.30" stroke="#888" stroke-width="0.5"/>
<line x1="79.33" y1="346.50" x2="79.33" y2="347.30" stroke="#888" stroke-width="0.5"/>
<g clip-path="url(#cp17_278)">
<path d="M69 332h1v1h-1zM38 308h1v1h-1zM47 308h1v1h-1zM58 314h1v1h-1zM34 327h1v1h-1zM39 317h1v1h-1zM44 312h1v1h-1zM48 309h1v1h-1zM26 295h1v1h-1zM32 308h1v1h-1zM44 315h1v1h-1zM50 316h1v1h-1zM37 309h1v1h-1zM23 313h1v1h-1zM49 320h1v1h-1zM43 313h1v1h-1zM54 315h1v1h-1zM52 320h1v1h-1zM47 327h1v1h-1zM39 312h1v1h-1zM36 308h1v1h-1zM60 331h1v1h-1zM45 320h1v1h-1zM56 322h1v1h-1zM57 304h1v1h-1zM38 319h1v1h-1zM59 316h1v1h-1zM36 312h1v1h-1zM38 307h1v1h-1zM60 309h1v1h-1zM45 334h1v1h-1zM56 318h1v1h-1zM61 321h1v1h-1zM57 316h1v1h-1zM50 313h1v1h-1zM49 327h1v1h-1zM30 314h1v1h-1zM47 310h1v1h-1zM41 322h1v1h-1zM65 321h1v1h-1zM48 301h1v1h-1zM64 316h1v1h-1zM44 305h1v1h-1zM45 319h1v1h-1zM45 318h1v1h-1zM36 328h1v1h-1zM38 299h1v1h-1zM43 308h1v1h-1zM34 312h1v1h-1zM47 304h1v1h-1zM43 328h1v1h-1zM51 314h1v1h-1zM46 314h1v1h-1zM44 322h1v1h-1zM44 293h1v1h-1zM44 307h1v1h-1zM51 310h1v1h-1zM46 335h1v1h-1zM34 305h1v1h-1zM30 293h1v1h-1zM26 318h1v1h-1zM38 298h1v1h-1zM30 321h1v1h-1zM37 312h1v1h-1zM48 327h1v1h-1zM64 324h1v1h-1zM46 317h1v1h-1zM63 328h1v1h-1zM41 319h1v1h-1zM47 315h1v1h-1zM39 303h1v1h-1zM39 301h1v1h-1zM57 320h1v1h-1zM32 328h1v1h-1zM53 298h1v1h-1zM63 322h1v1h-1zM65 304h1v1h-1zM50 319h1v1h-1zM47 317h1v1h-1zM55 302h1v1h-1zM32 302h1v1h-1zM39 310h1v1h-1zM48 317h1v1h-1zM45 309h1v1h-1zM40 324h1v1h-1zM52 316h1v1h-1zM41 329h1v1h-1zM39 321h1v1h-1zM56 313h1v1h-1zM53 305h1v1h-1zM55 317h1v1h-1zM29 321h1v1h-1zM36 327h1v1h-1zM38 314h1v1h-1zM47 312h1v1h-1zM51 315h1v1h-1zM47 290h1v1h-1zM56 315h1v1h-1zM27 316h1v1h-1zM49 325h1v1h-1zM34 329h1v1h-1zM43 337h1v1h-1zM43 321h1v1h-1zM41 305h1v1h-1zM55 323h1v1h-1zM60 323h1v1h-1zM39 300h1v1h-1zM38 309h1v1h-1zM36 320h1v1h-1zM48 313h1v1h-1zM47 322h1v1h-1zM54 309h1v1h-1zM29 328h1v1h-1zM46 325h1v1h-1zM28 312h1v1h-1zM45 302h1v1h-1z" fill="#2f7ff0" fill-opacity="0.8"/>
<path d="M37 323h1v1h-1zM50 306h1v1h-1zM38 306h1v1h-1zM34 319h1v1h-1zM45 305h1v1h-1zM33 317h1v1h-1zM52 308h1v1h-1zM40 325h1v1h-1zM40 305h1v1h-1zM50 323h1v1h-1zM44 325h1v1h-1zM50 324h1v1h-1zM38 325h1v1h-1zM42 303h1v1h-1zM53 321h1v1h-1zM35 322h1v1h-1zM55 314h1v1h-1zM47 324h1v1h-1zM46 325h1v1h-1zM34 322h1v1h-1zM46 305h1v1h-1zM40 306h1v1h-1zM50 322h1v1h-1zM43 305h1v1h-1zM52 310h1v1h-1zM43 304h1v1h-1zM33 320h1v1h-1zM53 307h1v1h-1zM39 307h1v1h-1zM37 308h1v1h-1zM36 308h1v1h-1zM52 320h1v1h-1zM41 304h1v1h-1zM32 318h1v1h-1zM36 309h1v1h-1zM54 310h1v1h-1zM48 324h1v1h-1zM36 321h1v1h-1zM32 316h1v1h-1zM33 312h1v1h-1zM34 314h1v1h-1zM52 321h1v1h-1zM41 305h1v1h-1zM33 314h1v1h-1zM34 321h1v1h-1zM39 306h1v1h-1zM35 321h1v1h-1zM54 314h1v1h-1zM36 323h1v1h-1zM54 316h1v1h-1zM53 311h1v1h-1zM47 305h1v1h-1zM47 306h1v1h-1zM34 311h1v1h-1zM45 326h1v1h-1zM36 307h1v1h-1zM48 305h1v1h-1zM41 324h1v1h-1zM32 312h1v1h-1zM36 324h1v1h-1zM50 307h1v1h-1zM43 326h1v1h-1zM42 305h1v1h-1zM41 325h1v1h-1zM37 322h1v1h-1zM54 311h1v1h-1zM49 306h1v1h-1zM53 309h1v1h-1z" fill="#3d8ff0" fill-opacity="0.85"/>
<g>
<ellipse cx="44.0" cy="315.5" rx="11.30" ry="10.30" fill="none" stroke="#5aa8f2" stroke-width="1.6" stroke-opacity="0.7" filter="url(#bl)"/>
<ellipse cx="44.0" cy="315.5" rx="11.00" ry="10.00" fill="#d3e9fc" stroke="#6fb1f3" stroke-width="0.5"/>
<ellipse cx="44.0" cy="315.5" rx="8.44" ry="7.67" fill="#e2f0fd" stroke="#93c6f6" stroke-width="0.5"/>
<ellipse cx="44.0" cy="315.5" rx="5.88" ry="5.35" fill="#edf6fe" stroke="#a9d2f8" stroke-width="0.5"/>
<ellipse cx="44.0" cy="315.5" rx="3.33" ry="3.02" fill="#f6fbff" stroke="#bddcf9" stroke-width="0.5"/>
</g>
<path d="M25 331h1v1h-1zM38 333h1v1h-1zM24 329h1v1h-1zM28 333h1v1h-1zM27 339h1v1h-1zM24 334h1v1h-1zM33 328h1v1h-1zM31 339h1v1h-1zM19 328h1v1h-1zM21 325h1v1h-1zM28 325h1v1h-1zM28 338h1v1h-1zM18 331h1v1h-1zM22 331h1v1h-1zM26 334h1v1h-1zM24 332h1v1h-1zM23 332h1v1h-1zM20 332h1v1h-1zM36 332h1v1h-1zM20 333h1v1h-1zM22 335h1v1h-1zM28 332h1v1h-1zM21 328h1v1h-1zM33 333h1v1h-1zM21 324h1v1h-1zM19 342h1v1h-1zM27 331h1v1h-1zM25 327h1v1h-1zM21 339h1v1h-1zM27 336h1v1h-1zM20 334h1v1h-1zM28 329h1v1h-1zM28 328h1v1h-1zM22 332h1v1h-1zM21 326h1v1h-1zM24 335h1v1h-1zM24 337h1v1h-1zM20 327h1v1h-1zM34 334h1v1h-1zM31 329h1v1h-1zM30 333h1v1h-1zM29 332h1v1h-1zM32 329h1v1h-1zM24 327h1v1h-1zM25 329h1v1h-1zM23 328h1v1h-1zM26 330h1v1h-1zM27 333h1v1h-1zM28 323h1v1h-1zM23 329h1v1h-1zM30 326h1v1h-1zM24 336h1v1h-1zM19 325h1v1h-1zM32 334h1v1h-1zM28 327h1v1h-1zM31 330h1v1h-1zM31 332h1v1h-1zM32 331h1v1h-1zM24 333h1v1h-1zM24 330h1v1h-1zM34 332h1v1h-1zM35 339h1v1h-1zM35 336h1v1h-1z" fill="#3d8ff0" fill-opacity="0.8"/>
<path d="M25 326h1v1h-1zM27 326h1v1h-1zM31 335h1v1h-1zM22 328h1v1h-1zM31 330h1v1h-1zM26 339h1v1h-1zM32 332h1v1h-1zM32 333h1v1h-1zM24 338h1v1h-1zM30 328h1v1h-1zM20 333h1v1h-1zM20 329h1v1h-1zM20 334h1v1h-1zM28 326h1v1h-1zM22 336h1v1h-1zM21 335h1v1h-1zM21 336h1v1h-1zM27 327h1v1h-1zM20 330h1v1h-1zM32 331h1v1h-1zM24 326h1v1h-1zM21 328h1v1h-1zM24 337h1v1h-1zM20 335h1v1h-1zM24 327h1v1h-1zM25 338h1v1h-1zM29 326h1v1h-1zM29 327h1v1h-1zM30 327h1v1h-1zM31 329h1v1h-1zM22 337h1v1h-1zM28 338h1v1h-1zM27 337h1v1h-1zM28 337h1v1h-1zM26 338h1v1h-1zM21 333h1v1h-1z" fill="#3d8ff0" fill-opacity="0.85"/>
<g>
<ellipse cx="26.5" cy="332.5" rx="6.30" ry="6.30" fill="none" stroke="#5aa8f2" stroke-width="1.6" stroke-opacity="0.7" filter="url(#bl)"/>
<ellipse cx="26.5" cy="332.5" rx="6.00" ry="6.00" fill="#7dbcf5" stroke="#4a9ff0" stroke-width="0.5"/>
<ellipse cx="26.5" cy="332.5" rx="4.60" ry="4.60" fill="#98caf7" stroke="#6fb1f3" stroke-width="0.5"/>
<ellipse cx="26.5" cy="332.5" rx="3.21" ry="3.21" fill="#b8dbf9" stroke="#8cc3f6" stroke-width="0.5"/>
<ellipse cx="26.5" cy="332.5" rx="1.81" ry="1.81" fill="#d8ebfc" stroke="#a9d2f8" stroke-width="0.5"/>
</g>
<path d="M30 330h1v1h-1zM30 333h1v1h-1zM30 334h1v1h-1zM42 339h1v1h-1zM31 331h1v1h-1zM31 337h1v1h-1zM47 335h1v1h-1zM47 333h1v1h-1zM32 329h1v1h-1zM41 327h1v1h-1zM33 339h1v1h-1zM29 333h1v1h-1zM48 333h1v1h-1zM44 329h1v1h-1zM38 340h1v1h-1zM40 328h1v1h-1zM40 327h1v1h-1zM43 328h1v1h-1zM41 339h1v1h-1zM29 331h1v1h-1zM47 332h1v1h-1zM47 330h1v1h-1zM46 338h1v1h-1zM30 331h1v1h-1zM32 328h1v1h-1zM32 337h1v1h-1zM29 336h1v1h-1zM49 333h1v1h-1zM40 340h1v1h-1zM33 338h1v1h-1zM41 328h1v1h-1zM48 336h1v1h-1zM48 331h1v1h-1zM35 328h1v1h-1zM39 327h1v1h-1zM46 337h1v1h-1zM45 338h1v1h-1zM29 334h1v1h-1zM44 339h1v1h-1zM34 327h1v1h-1zM48 335h1v1h-1zM47 331h1v1h-1zM45 329h1v1h-1zM30 335h1v1h-1zM47 337h1v1h-1zM33 329h1v1h-1zM28 334h1v1h-1zM47 336h1v1h-1zM37 328h1v1h-1z" fill="#3d8ff0" fill-opacity="0.85"/>
<g>
<ellipse cx="39.0" cy="334.0" rx="9.30" ry="6.30" fill="none" stroke="#5aa8f2" stroke-width="1.6" stroke-opacity="0.7" filter="url(#bl)"/>
<ellipse cx="39.0" cy="334.0" rx="9.00" ry="6.00" fill="#d3e9fc" stroke="#6fb1f3" stroke-width="0.5"/>
<ellipse cx="39.0" cy="334.0" rx="6.27" ry="4.18" fill="#e2f0fd" stroke="#93c6f6" stroke-width="0.5"/>
<ellipse cx="39.0" cy="334.0" rx="3.55" ry="2.36" fill="#edf6fe" stroke="#a9d2f8" stroke-width="0.5"/>
</g>
</g>
<clipPath id="cp17_278"><rect x="17" y="278.5" width="68" height="68"/></clipPath>
<rect x="31.40" y="295.50" width="38.10" height="49.70" stroke="#222" stroke-width="1.4" fill="none"/>
<line x1="31.40" y1="328.00" x2="69.50" y2="328.00" stroke="#222" stroke-width="1.6"/>
<rect x="90.00" y="184.20" width="68.00" height="68.00" stroke="#9a9a9a" stroke-width="0.8" fill="none"/>
<line x1="89.20" y1="189.87" x2="90.00" y2="189.87" stroke="#888" stroke-width="0.5"/>
<line x1="89.20" y1="195.53" x2="90.00" y2="195.53" stroke="#888" stroke-width="0.5"/>
<line x1="88.50" y1="201.20" x2="90.00" y2="201.20" stroke="#888" stroke-width="0.5"/>
<line x1="89.20" y1="206.87" x2="90.00" y2="206.87" stroke="#888" stroke-width="0.5"/>
<line x1="89.20" y1="212.53" x2="90.00" y2="212.53" stroke="#888" stroke-width="0.5"/>
<line x1="88.50" y1="218.20" x2="90.00" y2="218.20" stroke="#888" stroke-width="0.5"/>
<line x1="89.20" y1="223.87" x2="90.00" y2="223.87" stroke="#888" stroke-width="0.5"/>
<line x1="89.20" y1="229.53" x2="90.00" y2="229.53" stroke="#888" stroke-width="0.5"/>
<line x1="88.50" y1="235.20" x2="90.00" y2="235.20" stroke="#888" stroke-width="0.5"/>
<line x1="89.20" y1="240.87" x2="90.00" y2="240.87" stroke="#888" stroke-width="0.5"/>
<line x1="89.20" y1="246.53" x2="90.00" y2="246.53" stroke="#888" stroke-width="0.5"/>
<line x1="95.67" y1="252.20" x2="95.67" y2="253.00" stroke="#888" stroke-width="0.5"/>
<line x1="101.33" y1="252.20" x2="101.33" y2="253.00" stroke="#888" stroke-width="0.5"/>
<line x1="107.00" y1="252.20" x2="107.00" y2="253.70" stroke="#888" stroke-width="0.5"/>
<line x1="112.67" y1="252.20" x2="112.67" y2="253.00" stroke="#888" stroke-width="0.5"/>
<line x1="118.33" y1="252.20" x2="118.33" y2="253.00" stroke="#888" stroke-width="0.5"/>
<line x1="124.00" y1="252.20" x2="124.00" y2="253.70" stroke="#888" stroke-width="0.5"/>
<line x1="129.67" y1="252.20" x2="129.67" y2="253.00" stroke="#888" stroke-width="0.5"/>
<line x1="135.33" y1="252.20" x2="135.33" y2="253.00" stroke="#888" stroke-width="0.5"/>
<line x1="141.00" y1="252.20" x2="141.00" y2="253.70" stroke="#888" stroke-width="0.5"/>
<line x1="146.67" y1="252.20" x2="146.67" y2="253.00" stroke="#888" stroke-width="0.5"/>
<line x1="152.33" y1="252.20" x2="152.33" y2="253.00" stroke="#888" stroke-width="0.5"/>
<g clip-path="url(#cp90_184)">
<path d="M111 221h1v1h-1zM115 219h1v1h-1zM115 214h1v1h-1zM116 221h1v1h-1zM104 225h1v1h-1zM128 224h1v1h-1zM127 220h1v1h-1zM109 214h1v1h-1zM105 217h1v1h-1zM111 219h1v1h-1zM95 226h1v1h-1zM130 217h1v1h-1zM117 219h1v1h-1zM114 216h1v1h-1zM111 213h1v1h-1zM113 217h1v1h-1zM114 213h1v1h-1zM112 217h1v1h-1zM116 212h1v1h-1zM115 221h1v1h-1zM116 215h1v1h-1zM108 216h1v1h-1zM117 223h1v1h-1zM110 214h1v1h-1zM115 218h1v1h-1zM104 214h1v1h-1zM102 213h1v1h-1zM115 212h1v1h-1zM112 218h1v1h-1zM111 215h1v1h-1zM120 210h1v1h-1zM110 217h1v1h-1zM119 214h1v1h-1zM116 214h1v1h-1zM117 224h1v1h-1zM108 218h1v1h-1zM104 221h1v1h-1zM121 217h1v1h-1zM102 218h1v1h-1zM121 221h1v1h-1zM118 209h1v1h-1zM106 222h1v1h-1zM102 221h1v1h-1zM120 215h1v1h-1zM102 216h1v1h-1zM117 216h1v1h-1zM113 218h1v1h-1zM111 224h1v1h-1zM115 217h1v1h-1zM122 217h1v1h-1zM103 214h1v1h-1zM110 215h1v1h-1zM120 212h1v1h-1zM102 217h1v1h-1zM98 212h1v1h-1zM118 221h1v1h-1zM111 214h1v1h-1zM120 208h1v1h-1zM105 219h1v1h-1zM117 213h1v1h-1zM96 223h1v1h-1zM113 213h1v1h-1zM112 220h1v1h-1zM91 221h1v1h-1zM117 208h1v1h-1zM118 210h1v1h-1zM121 218h1v1h-1zM130 214h1v1h-1zM112 221h1v1h-1zM106 214h1v1h-1zM109 216h1v1h-1zM103 219h1v1h-1zM116 217h1v1h-1zM125 215h1v1h-1zM122 215h1v1h-1zM113 216h1v1h-1zM108 214h1v1h-1zM94 214h1v1h-1zM107 215h1v1h-1zM103 216h1v1h-1zM118 216h1v1h-1zM108 222h1v1h-1zM119 220h1v1h-1zM121 215h1v1h-1zM110 221h1v1h-1zM107 216h1v1h-1zM109 221h1v1h-1zM110 220h1v1h-1zM120 219h1v1h-1zM117 212h1v1h-1zM101 214h1v1h-1zM115 223h1v1h-1zM105 214h1v1h-1zM109 219h1v1h-1zM113 221h1v1h-1zM104 220h1v1h-1zM119 217h1v1h-1zM103 215h1v1h-1zM106 228h1v1h-1zM108 223h1v1h-1zM117 214h1v1h-1zM119 218h1v1h-1zM99 219h1v1h-1zM116 219h1v1h-1zM124 215h1v1h-1zM116 220h1v1h-1zM100 211h1v1h-1zM111 210h1v1h-1zM112 212h1v1h-1zM114 211h1v1h-1zM115 216h1v1h-1zM112 216h1v1h-1zM113 211h1v1h-1zM91 217h1v1h-1zM104 215h1v1h-1zM115 209h1v1h-1zM103 218h1v1h-1zM110 213h1v1h-1zM106 219h1v1h-1zM103 217h1v1h-1zM114 220h1v1h-1zM118 215h1v1h-1zM96 221h1v1h-1zM114 217h1v1h-1zM124 213h1v1h-1zM108 213h1v1h-1zM105 221h1v1h-1zM100 225h1v1h-1zM107 212h1v1h-1zM118 219h1v1h-1zM103 220h1v1h-1zM97 213h1v1h-1zM121 216h1v1h-1zM101 219h1v1h-1zM97 215h1v1h-1zM115 220h1v1h-1zM126 216h1v1h-1zM108 217h1v1h-1zM121 213h1v1h-1zM122 206h1v1h-1zM118 214h1v1h-1zM113 219h1v1h-1zM104 213h1v1h-1zM96 227h1v1h-1zM110 216h1v1h-1zM100 220h1v1h-1zM107 222h1v1h-1zM118 217h1v1h-1zM101 217h1v1h-1zM110 222h1v1h-1zM112 215h1v1h-1zM97 216h1v1h-1zM101 212h1v1h-1zM112 213h1v1h-1zM126 222h1v1h-1zM105 215h1v1h-1zM104 218h1v1h-1zM94 212h1v1h-1zM126 213h1v1h-1zM105 225h1v1h-1zM114 214h1v1h-1zM95 211h1v1h-1zM92 217h1v1h-1zM106 224h1v1h-1zM97 217h1v1h-1zM112 219h1v1h-1zM108 219h1v1h-1zM104 216h1v1h-1zM109 218h1v1h-1zM122 222h1v1h-1zM118 222h1v1h-1zM117 218h1v1h-1zM114 215h1v1h-1zM97 219h1v1h-1zM113 214h1v1h-1zM104 222h1v1h-1zM97 224h1v1h-1zM117 226h1v1h-1zM106 217h1v1h-1zM107 217h1v1h-1zM120 214h1v1h-1zM107 219h1v1h-1zM110 224h1v1h-1zM103 221h1v1h-1zM118 224h1v1h-1zM105 220h1v1h-1zM111 218h1v1h-1zM120 221h1v1h-1zM123 213h1v1h-1zM123 211h1v1h-1zM123 218h1v1h-1zM101 220h1v1h-1zM108 215h1v1h-1zM125 223h1v1h-1zM110 210h1v1h-1zM114 219h1v1h-1zM109 220h1v1h-1zM118 218h1v1h-1zM100 219h1v1h-1zM111 217h1v1h-1zM118 211h1v1h-1zM118 212h1v1h-1zM122 221h1v1h-1zM116 225h1v1h-1zM109 213h1v1h-1zM111 209h1v1h-1zM119 215h1v1h-1zM123 214h1v1h-1zM110 209h1v1h-1zM123 219h1v1h-1zM107 210h1v1h-1zM111 222h1v1h-1zM123 216h1v1h-1zM106 216h1v1h-1zM107 218h1v1h-1zM110 219h1v1h-1zM108 211h1v1h-1zM106 225h1v1h-1zM104 223h1v1h-1zM99 215h1v1h-1zM117 222h1v1h-1zM113 209h1v1h-1zM116 223h1v1h-1zM107 221h1v1h-1zM125 216h1v1h-1zM122 220h1v1h-1zM122 216h1v1h-1zM122 214h1v1h-1zM98 210h1v1h-1zM125 218h1v1h-1zM116 222h1v1h-1zM122 209h1v1h-1zM118 223h1v1h-1zM101 222h1v1h-1zM117 211h1v1h-1zM127 211h1v1h-1zM92 220h1v1h-1zM111 216h1v1h-1zM109 222h1v1h-1zM107 220h1v1h-1zM104 210h1v1h-1zM115 215h1v1h-1zM108 221h1v1h-1zM129 215h1v1h-1zM126 209h1v1h-1zM113 215h1v1h-1zM107 214h1v1h-1zM102 224h1v1h-1zM117 217h1v1h-1zM119 213h1v1h-1zM124 222h1v1h-1zM113 222h1v1h-1zM97 220h1v1h-1zM124 216h1v1h-1zM124 221h1v1h-1zM113 220h1v1h-1zM120 213h1v1h-1zM105 210h1v1h-1zM110 207h1v1h-1zM98 215h1v1h-1z" fill="#3d8ff0" fill-opacity="0.8"/>
<path d="M96 235h1v1h-1zM99 242h1v1h-1zM101 234h1v1h-1zM98 239h1v1h-1zM104 243h1v1h-1zM100 243h1v1h-1zM96 244h1v1h-1zM95 240h1v1h-1zM102 235h1v1h-1zM94 231h1v1h-1zM98 238h1v1h-1zM96 240h1v1h-1zM98 237h1v1h-1zM101 245h1v1h-1zM95 235h1v1h-1zM94 239h1v1h-1zM100 235h1v1h-1zM102 234h1v1h-1zM101 240h1v1h-1zM100 246h1v1h-1zM96 238h1v1h-1zM100 242h1v1h-1zM91 239h1v1h-1zM94 241h1v1h-1zM104 238h1v1h-1zM97 239h1v1h-1zM100 239h1v1h-1zM97 243h1v1h-1zM99 238h1v1h-1zM103 233h1v1h-1zM93 234h1v1h-1zM95 241h1v1h-1zM100 230h1v1h-1zM104 236h1v1h-1zM95 245h1v1h-1zM97 233h1v1h-1zM94 235h1v1h-1zM93 237h1v1h-1zM102 240h1v1h-1zM91 249h1v1h-1zM93 239h1v1h-1zM98 241h1v1h-1zM108 239h1v1h-1zM92 239h1v1h-1zM94 237h1v1h-1zM96 241h1v1h-1zM96 233h1v1h-1zM102 237h1v1h-1zM103 236h1v1h-1zM92 244h1v1h-1zM103 240h1v1h-1zM101 236h1v1h-1zM99 241h1v1h-1zM96 236h1v1h-1zM95 236h1v1h-1zM96 228h1v1h-1zM96 237h1v1h-1zM101 231h1v1h-1zM100 237h1v1h-1zM94 244h1v1h-1zM104 240h1v1h-1zM94 242h1v1h-1zM94 236h1v1h-1zM97 238h1v1h-1zM91 234h1v1h-1zM99 240h1v1h-1zM98 236h1v1h-1z" fill="#3d8ff0" fill-opacity="0.8"/>
<path d="M100 233h1v1h-1zM92 235h1v1h-1zM92 236h1v1h-1zM95 243h1v1h-1zM97 232h1v1h-1zM98 231h1v1h-1zM98 232h1v1h-1zM104 237h1v1h-1zM92 240h1v1h-1zM104 235h1v1h-1zM102 243h1v1h-1zM94 233h1v1h-1zM98 233h1v1h-1zM98 245h1v1h-1zM103 240h1v1h-1zM100 243h1v1h-1zM103 236h1v1h-1zM100 244h1v1h-1zM103 239h1v1h-1zM90 238h1v1h-1zM94 234h1v1h-1zM91 240h1v1h-1zM95 244h1v1h-1zM101 234h1v1h-1zM103 235h1v1h-1zM97 244h1v1h-1zM99 244h1v1h-1zM103 238h1v1h-1zM101 233h1v1h-1zM102 233h1v1h-1zM100 232h1v1h-1zM96 244h1v1h-1zM102 234h1v1h-1zM101 243h1v1h-1z" fill="#3d8ff0" fill-opacity="0.85"/>
<g>
<ellipse cx="97.9" cy="238.4" rx="6.30" ry="6.30" fill="none" stroke="#5aa8f2" stroke-width="1.6" stroke-opacity="0.7" filter="url(#bl)"/>
<ellipse cx="97.9" cy="238.4" rx="6.00" ry="6.00" fill="#d3e9fc" stroke="#6fb1f3" stroke-width="0.5"/>
<ellipse cx="97.9" cy="238.4" rx="4.60" ry="4.60" fill="#e2f0fd" stroke="#93c6f6" stroke-width="0.5"/>
<ellipse cx="97.9" cy="238.4" rx="3.21" ry="3.21" fill="#edf6fe" stroke="#a9d2f8" stroke-width="0.5"/>
<ellipse cx="97.9" cy="238.4" rx="1.81" ry="1.81" fill="#f6fbff" stroke="#bddcf9" stroke-width="0.5"/>
</g>
<path d="M104 245h1v1h-1zM122 238h1v1h-1zM143 230h1v1h-1zM117 241h1v1h-1zM142 247h1v1h-1zM144 240h1v1h-1zM129 245h1v1h-1zM123 241h1v1h-1zM115 238h1v1h-1zM103 247h1v1h-1zM112 232h1v1h-1zM121 240h1v1h-1zM120 247h1v1h-1zM116 239h1v1h-1zM109 240h1v1h-1zM112 240h1v1h-1zM154 241h1v1h-1zM108 247h1v1h-1zM128 243h1v1h-1zM126 243h1v1h-1zM125 245h1v1h-1zM109 243h1v1h-1zM127 238h1v1h-1zM124 250h1v1h-1zM132 235h1v1h-1zM116 242h1v1h-1zM131 241h1v1h-1zM105 242h1v1h-1zM116 240h1v1h-1zM111 234h1v1h-1zM103 238h1v1h-1zM105 229h1v1h-1zM131 235h1v1h-1zM109 242h1v1h-1zM112 241h1v1h-1zM119 240h1v1h-1zM96 234h1v1h-1zM117 245h1v1h-1zM111 242h1v1h-1zM119 242h1v1h-1zM129 234h1v1h-1zM121 239h1v1h-1zM114 236h1v1h-1zM108 236h1v1h-1zM105 249h1v1h-1zM137 240h1v1h-1zM126 236h1v1h-1zM119 245h1v1h-1zM117 236h1v1h-1zM115 236h1v1h-1zM101 239h1v1h-1zM113 237h1v1h-1zM107 236h1v1h-1zM120 245h1v1h-1zM115 248h1v1h-1zM99 241h1v1h-1zM104 239h1v1h-1zM131 238h1v1h-1zM103 239h1v1h-1zM121 237h1v1h-1zM128 246h1v1h-1zM101 241h1v1h-1zM129 232h1v1h-1zM120 239h1v1h-1zM101 245h1v1h-1zM120 238h1v1h-1zM123 242h1v1h-1zM126 242h1v1h-1zM122 235h1v1h-1zM113 240h1v1h-1zM113 236h1v1h-1zM96 241h1v1h-1zM118 237h1v1h-1zM109 239h1v1h-1zM110 242h1v1h-1zM122 245h1v1h-1zM125 241h1v1h-1zM116 237h1v1h-1zM113 242h1v1h-1zM102 234h1v1h-1zM121 244h1v1h-1zM122 234h1v1h-1zM115 241h1v1h-1zM107 241h1v1h-1zM103 243h1v1h-1zM122 236h1v1h-1zM106 243h1v1h-1zM124 239h1v1h-1zM136 239h1v1h-1zM105 244h1v1h-1zM118 236h1v1h-1zM134 236h1v1h-1zM133 241h1v1h-1zM105 241h1v1h-1zM124 236h1v1h-1zM93 241h1v1h-1zM95 239h1v1h-1zM108 234h1v1h-1zM115 240h1v1h-1zM111 235h1v1h-1zM120 233h1v1h-1zM124 242h1v1h-1zM137 243h1v1h-1zM122 241h1v1h-1zM118 235h1v1h-1zM135 242h1v1h-1zM114 235h1v1h-1zM104 242h1v1h-1zM140 240h1v1h-1zM110 244h1v1h-1zM153 240h1v1h-1zM116 243h1v1h-1zM114 243h1v1h-1zM127 236h1v1h-1zM105 239h1v1h-1zM127 241h1v1h-1zM132 234h1v1h-1zM123 237h1v1h-1zM119 241h1v1h-1zM106 239h1v1h-1zM104 241h1v1h-1zM108 238h1v1h-1zM120 237h1v1h-1zM131 237h1v1h-1zM114 247h1v1h-1zM113 246h1v1h-1zM123 235h1v1h-1zM91 242h1v1h-1zM94 242h1v1h-1zM129 241h1v1h-1zM115 239h1v1h-1zM111 238h1v1h-1zM109 234h1v1h-1zM115 242h1v1h-1zM121 238h1v1h-1zM125 238h1v1h-1zM124 230h1v1h-1zM102 243h1v1h-1zM116 248h1v1h-1zM140 242h1v1h-1zM115 243h1v1h-1zM111 239h1v1h-1zM128 229h1v1h-1zM129 242h1v1h-1zM116 235h1v1h-1zM153 234h1v1h-1zM122 239h1v1h-1zM94 240h1v1h-1zM105 237h1v1h-1zM114 248h1v1h-1zM122 237h1v1h-1zM92 234h1v1h-1zM101 248h1v1h-1zM111 243h1v1h-1zM118 246h1v1h-1zM127 246h1v1h-1zM116 241h1v1h-1zM112 239h1v1h-1zM97 237h1v1h-1zM106 237h1v1h-1zM132 241h1v1h-1zM132 243h1v1h-1zM128 244h1v1h-1zM110 243h1v1h-1zM114 238h1v1h-1zM131 248h1v1h-1zM106 246h1v1h-1zM121 241h1v1h-1zM103 240h1v1h-1zM127 243h1v1h-1zM125 244h1v1h-1zM106 240h1v1h-1zM119 248h1v1h-1zM92 240h1v1h-1zM146 241h1v1h-1zM96 240h1v1h-1zM101 237h1v1h-1zM120 246h1v1h-1zM129 240h1v1h-1zM108 239h1v1h-1z" fill="#3d8ff0" fill-opacity="0.8"/>
<path d="M131 236h1v1h-1zM118 246h1v1h-1zM102 236h1v1h-1zM131 242h1v1h-1zM117 245h1v1h-1zM131 241h1v1h-1zM104 236h1v1h-1zM108 244h1v1h-1zM122 235h1v1h-1zM134 240h1v1h-1zM132 238h1v1h-1zM132 243h1v1h-1zM117 246h1v1h-1zM126 244h1v1h-1zM107 245h1v1h-1zM120 246h1v1h-1zM106 246h1v1h-1zM121 234h1v1h-1zM101 240h1v1h-1zM117 234h1v1h-1zM105 236h1v1h-1zM126 235h1v1h-1zM113 234h1v1h-1zM105 245h1v1h-1zM107 233h1v1h-1zM116 233h1v1h-1zM134 237h1v1h-1zM121 235h1v1h-1zM104 237h1v1h-1zM120 233h1v1h-1zM128 235h1v1h-1zM97 238h1v1h-1zM135 237h1v1h-1zM121 233h1v1h-1zM116 246h1v1h-1zM122 245h1v1h-1zM100 241h1v1h-1zM132 236h1v1h-1zM110 234h1v1h-1zM120 234h1v1h-1zM123 235h1v1h-1zM101 243h1v1h-1zM126 234h1v1h-1zM130 244h1v1h-1zM99 241h1v1h-1zM108 245h1v1h-1zM127 234h1v1h-1zM114 246h1v1h-1zM112 234h1v1h-1zM123 234h1v1h-1zM129 244h1v1h-1zM124 234h1v1h-1zM123 245h1v1h-1zM103 245h1v1h-1zM129 236h1v1h-1zM105 243h1v1h-1zM99 239h1v1h-1zM135 239h1v1h-1zM127 246h1v1h-1zM133 238h1v1h-1zM107 244h1v1h-1zM129 243h1v1h-1zM100 239h1v1h-1zM102 245h1v1h-1zM108 235h1v1h-1zM106 244h1v1h-1zM105 244h1v1h-1zM125 234h1v1h-1zM130 236h1v1h-1zM132 241h1v1h-1zM108 246h1v1h-1zM132 235h1v1h-1z" fill="#3d8ff0" fill-opacity="0.85"/>
<g>
<ellipse cx="117.0" cy="240.2" rx="17.30" ry="6.30" fill="none" stroke="#5aa8f2" stroke-width="1.6" stroke-opacity="0.7" filter="url(#bl)"/>
<ellipse cx="117.0" cy="240.2" rx="17.00" ry="6.00" fill="#d3e9fc" stroke="#6fb1f3" stroke-width="0.5"/>
<ellipse cx="117.0" cy="240.2" rx="11.85" ry="4.18" fill="#e2f0fd" stroke="#93c6f6" stroke-width="0.5"/>
<ellipse cx="117.0" cy="240.2" rx="6.70" ry="2.36" fill="#edf6fe" stroke="#a9d2f8" stroke-width="0.5"/>
</g>
</g>
<clipPath id="cp90_184"><rect x="90" y="184.2" width="68" height="68"/></clipPath>
<rect x="102.20" y="201.70" width="36.40" height="28.50" stroke="#222" stroke-width="1.4" fill="none"/>
<rect x="102.20" y="232.40" width="36.40" height="17.70" stroke="#222" stroke-width="1.4" fill="none"/>
<rect x="90.00" y="278.50" width="68.00" height="68.00" stroke="#9a9a9a" stroke-width="0.8" fill="none"/>
<line x1="89.20" y1="284.17" x2="90.00" y2="284.17" stroke="#888" stroke-width="0.5"/>
<line x1="89.20" y1="289.83" x2="90.00" y2="289.83" stroke="#888" stroke-width="0.5"/>
<line x1="88.50" y1="295.50" x2="90.00" y2="295.50" stroke="#888" stroke-width="0.5"/>
<line x1="89.20" y1="301.17" x2="90.00" y2="301.17" stroke="#888" stroke-width="0.5"/>
<line x1="89.20" y1="306.83" x2="90.00" y2="306.83" stroke="#888" stroke-width="0.5"/>
<line x1="88.50" y1="312.50" x2="90.00" y2="312.50" stroke="#888" stroke-width="0.5"/>
<line x1="89.20" y1="318.17" x2="90.00" y2="318.17" stroke="#888" stroke-width="0.5"/>
<line x1="89.20" y1="323.83" x2="90.00" y2="323.83" stroke="#888" stroke-width="0.5"/>
<line x1="88.50" y1="329.50" x2="90.00" y2="329.50" stroke="#888" stroke-width="0.5"/>
<line x1="89.20" y1="335.17" x2="90.00" y2="335.17" stroke="#888" stroke-width="0.5"/>
<line x1="89.20" y1="340.83" x2="90.00" y2="340.83" stroke="#888" stroke-width="0.5"/>
<line x1="95.67" y1="346.50" x2="95.67" y2="347.30" stroke="#888" stroke-width="0.5"/>
<line x1="101.33" y1="346.50" x2="101.33" y2="347.30" stroke="#888" stroke-width="0.5"/>
<line x1="107.00" y1="346.50" x2="107.00" y2="348.00" stroke="#888" stroke-width="0.5"/>
<line x1="112.67" y1="346.50" x2="112.67" y2="347.30" stroke="#888" stroke-width="0.5"/>
<line x1="118.33" y1="346.50" x2="118.33" y2="347.30" stroke="#888" stroke-width="0.5"/>
<line x1="124.00" y1="346.50" x2="124.00" y2="348.00" stroke="#888" stroke-width="0.5"/>
<line x1="129.67" y1="346.50" x2="129.67" y2="347.30" stroke="#888" stroke-width="0.5"/>
<line x1="135.33" y1="346.50" x2="135.33" y2="347.30" stroke="#888" stroke-width="0.5"/>
<line x1="141.00" y1="346.50" x2="141.00" y2="348.00" stroke="#888" stroke-width="0.5"/>
<line x1="146.67" y1="346.50" x2="146.67" y2="347.30" stroke="#888" stroke-width="0.5"/>
<line x1="152.33" y1="346.50" x2="152.33" y2="347.30" stroke="#888" stroke-width="0.5"/>
<g clip-path="url(#cp90_278)">
<path d="M105 326h1v1h-1zM111 313h1v1h-1zM115 311h1v1h-1zM107 316h1v1h-1zM125 316h1v1h-1zM118 307h1v1h-1zM101 332h1v1h-1zM112 306h1v1h-1zM114 323h1v1h-1zM103 311h1v1h-1zM116 311h1v1h-1zM120 325h1v1h-1zM117 315h1v1h-1zM114 313h1v1h-1zM114 320h1v1h-1zM112 326h1v1h-1zM132 314h1v1h-1zM117 324h1v1h-1zM119 316h1v1h-1zM111 326h1v1h-1zM119 322h1v1h-1zM109 323h1v1h-1zM120 317h1v1h-1zM119 335h1v1h-1zM102 323h1v1h-1zM107 307h1v1h-1zM113 322h1v1h-1zM115 309h1v1h-1zM105 314h1v1h-1zM115 312h1v1h-1zM104 332h1v1h-1zM109 317h1v1h-1zM115 316h1v1h-1zM119 309h1v1h-1zM104 333h1v1h-1zM114 324h1v1h-1zM122 322h1v1h-1zM115 306h1v1h-1zM104 326h1v1h-1zM103 301h1v1h-1zM107 309h1v1h-1zM116 310h1v1h-1zM125 313h1v1h-1zM111 325h1v1h-1zM117 311h1v1h-1zM120 333h1v1h-1zM106 316h1v1h-1zM107 303h1v1h-1zM119 323h1v1h-1zM121 321h1v1h-1zM101 318h1v1h-1zM110 309h1v1h-1zM107 324h1v1h-1zM112 333h1v1h-1zM118 303h1v1h-1zM121 328h1v1h-1zM127 308h1v1h-1zM114 303h1v1h-1zM106 305h1v1h-1zM122 327h1v1h-1zM112 307h1v1h-1zM114 321h1v1h-1zM104 309h1v1h-1zM115 322h1v1h-1zM106 299h1v1h-1zM114 315h1v1h-1zM118 312h1v1h-1zM124 318h1v1h-1zM118 323h1v1h-1zM122 321h1v1h-1zM103 313h1v1h-1zM127 322h1v1h-1zM118 322h1v1h-1zM110 313h1v1h-1zM110 327h1v1h-1zM117 332h1v1h-1zM118 333h1v1h-1zM118 309h1v1h-1zM126 321h1v1h-1zM123 320h1v1h-1zM112 319h1v1h-1zM108 314h1v1h-1zM105 317h1v1h-1zM117 334h1v1h-1z" fill="#2f7ff0" fill-opacity="0.8"/>
<path d="M107 332h1v1h-1zM103 332h1v1h-1zM101 332h1v1h-1zM97 333h1v1h-1zM94 334h1v1h-1zM98 328h1v1h-1zM98 335h1v1h-1zM97 334h1v1h-1zM102 339h1v1h-1zM95 332h1v1h-1zM102 338h1v1h-1zM101 335h1v1h-1zM94 330h1v1h-1zM106 331h1v1h-1zM108 330h1v1h-1zM98 326h1v1h-1zM102 334h1v1h-1zM107 333h1v1h-1zM99 327h1v1h-1zM99 336h1v1h-1zM102 337h1v1h-1zM102 333h1v1h-1zM94 339h1v1h-1zM101 328h1v1h-1zM101 334h1v1h-1zM103 338h1v1h-1zM106 329h1v1h-1zM92 334h1v1h-1zM95 331h1v1h-1zM100 335h1v1h-1zM108 334h1v1h-1zM97 323h1v1h-1zM104 332h1v1h-1zM99 329h1v1h-1zM102 325h1v1h-1zM100 333h1v1h-1zM101 338h1v1h-1zM99 333h1v1h-1zM103 326h1v1h-1zM98 333h1v1h-1zM103 329h1v1h-1zM103 334h1v1h-1zM94 327h1v1h-1zM94 333h1v1h-1zM103 330h1v1h-1zM104 336h1v1h-1zM95 328h1v1h-1zM99 331h1v1h-1zM96 333h1v1h-1zM97 327h1v1h-1zM100 338h1v1h-1zM105 339h1v1h-1zM98 332h1v1h-1zM100 344h1v1h-1zM100 336h1v1h-1zM101 325h1v1h-1zM101 333h1v1h-1zM107 331h1v1h-1zM100 342h1v1h-1zM105 330h1v1h-1zM102 331h1v1h-1zM100 331h1v1h-1zM105 337h1v1h-1zM106 327h1v1h-1zM93 330h1v1h-1zM94 332h1v1h-1zM94 328h1v1h-1zM96 332h1v1h-1zM99 332h1v1h-1zM98 330h1v1h-1zM98 334h1v1h-1zM99 325h1v1h-1zM101 331h1v1h-1zM97 335h1v1h-1zM100 330h1v1h-1zM91 326h1v1h-1zM100 332h1v1h-1zM98 327h1v1h-1zM95 336h1v1h-1zM94 325h1v1h-1zM96 325h1v1h-1zM92 336h1v1h-1zM104 341h1v1h-1zM94 335h1v1h-1zM103 335h1v1h-1zM105 332h1v1h-1zM106 330h1v1h-1zM106 322h1v1h-1zM100 329h1v1h-1zM100 337h1v1h-1zM96 339h1v1h-1zM101 324h1v1h-1zM97 338h1v1h-1zM96 336h1v1h-1zM102 332h1v1h-1zM94 331h1v1h-1zM90 330h1v1h-1zM92 337h1v1h-1zM96 323h1v1h-1zM97 341h1v1h-1zM103 333h1v1h-1zM97 321h1v1h-1zM101 336h1v1h-1zM99 326h1v1h-1zM106 334h1v1h-1zM105 331h1v1h-1zM95 329h1v1h-1zM94 329h1v1h-1zM99 334h1v1h-1zM103 336h1v1h-1z" fill="#3d8ff0" fill-opacity="0.8"/>
<path d="M99 339h1v1h-1zM104 336h1v1h-1zM98 338h1v1h-1zM93 335h1v1h-1zM99 326h1v1h-1zM96 338h1v1h-1zM103 327h1v1h-1zM100 339h1v1h-1zM103 328h1v1h-1zM99 338h1v1h-1zM106 333h1v1h-1zM103 338h1v1h-1zM96 328h1v1h-1zM102 338h1v1h-1zM104 338h1v1h-1zM94 337h1v1h-1zM105 335h1v1h-1zM105 331h1v1h-1zM96 337h1v1h-1zM101 327h1v1h-1zM104 337h1v1h-1zM95 336h1v1h-1zM100 326h1v1h-1zM101 339h1v1h-1zM93 334h1v1h-1zM104 328h1v1h-1zM94 334h1v1h-1zM93 333h1v1h-1zM94 335h1v1h-1zM105 330h1v1h-1zM101 338h1v1h-1zM99 327h1v1h-1zM104 327h1v1h-1zM93 331h1v1h-1z" fill="#3d8ff0" fill-opacity="0.85"/>
<g>
<ellipse cx="100.0" cy="333.0" rx="6.30" ry="6.30" fill="none" stroke="#5aa8f2" stroke-width="1.6" stroke-opacity="0.7" filter="url(#bl)"/>
<ellipse cx="100.0" cy="333.0" rx="6.00" ry="6.00" fill="#7dbcf5" stroke="#4a9ff0" stroke-width="0.5"/>
<ellipse cx="100.0" cy="333.0" rx="4.60" ry="4.60" fill="#98caf7" stroke="#6fb1f3" stroke-width="0.5"/>
<ellipse cx="100.0" cy="333.0" rx="3.21" ry="3.21" fill="#b8dbf9" stroke="#8cc3f6" stroke-width="0.5"/>
<ellipse cx="100.0" cy="333.0" rx="1.81" ry="1.81" fill="#d8ebfc" stroke="#a9d2f8" stroke-width="0.5"/>
</g>
<path d="M120 336h1v1h-1zM102 335h1v1h-1zM111 328h1v1h-1zM109 339h1v1h-1zM115 339h1v1h-1zM119 337h1v1h-1zM121 333h1v1h-1zM122 334h1v1h-1zM107 329h1v1h-1zM103 335h1v1h-1zM112 328h1v1h-1zM103 334h1v1h-1zM105 330h1v1h-1zM115 328h1v1h-1zM121 332h1v1h-1zM107 337h1v1h-1zM120 330h1v1h-1zM122 335h1v1h-1zM104 336h1v1h-1zM104 331h1v1h-1zM109 329h1v1h-1zM104 334h1v1h-1zM103 333h1v1h-1zM106 330h1v1h-1zM116 340h1v1h-1zM122 332h1v1h-1zM109 338h1v1h-1zM108 328h1v1h-1zM121 334h1v1h-1zM117 328h1v1h-1zM104 335h1v1h-1zM113 339h1v1h-1zM118 338h1v1h-1zM105 333h1v1h-1zM120 335h1v1h-1zM104 337h1v1h-1zM118 329h1v1h-1zM121 335h1v1h-1zM110 339h1v1h-1zM120 329h1v1h-1zM106 336h1v1h-1zM116 328h1v1h-1z" fill="#3d8ff0" fill-opacity="0.85"/>
<g>
<ellipse cx="113.0" cy="334.0" rx="9.30" ry="5.80" fill="none" stroke="#5aa8f2" stroke-width="1.6" stroke-opacity="0.7" filter="url(#bl)"/>
<ellipse cx="113.0" cy="334.0" rx="9.00" ry="5.50" fill="#d3e9fc" stroke="#6fb1f3" stroke-width="0.5"/>
<ellipse cx="113.0" cy="334.0" rx="6.27" ry="3.83" fill="#e2f0fd" stroke="#93c6f6" stroke-width="0.5"/>
<ellipse cx="113.0" cy="334.0" rx="3.55" ry="2.17" fill="#edf6fe" stroke="#a9d2f8" stroke-width="0.5"/>
</g>
</g>
<clipPath id="cp90_278"><rect x="90" y="278.5" width="68" height="68"/></clipPath>
<rect x="104.40" y="295.50" width="38.10" height="49.70" stroke="#222" stroke-width="1.4" fill="none"/>
<line x1="104.40" y1="328.00" x2="142.50" y2="328.00" stroke="#222" stroke-width="1.6"/>
<rect x="163.00" y="184.20" width="68.00" height="68.00" stroke="#9a9a9a" stroke-width="0.8" fill="none"/>
<line x1="162.20" y1="189.87" x2="163.00" y2="189.87" stroke="#888" stroke-width="0.5"/>
<line x1="162.20" y1="195.53" x2="163.00" y2="195.53" stroke="#888" stroke-width="0.5"/>
<line x1="161.50" y1="201.20" x2="163.00" y2="201.20" stroke="#888" stroke-width="0.5"/>
<line x1="162.20" y1="206.87" x2="163.00" y2="206.87" stroke="#888" stroke-width="0.5"/>
<line x1="162.20" y1="212.53" x2="163.00" y2="212.53" stroke="#888" stroke-width="0.5"/>
<line x1="161.50" y1="218.20" x2="163.00" y2="218.20" stroke="#888" stroke-width="0.5"/>
<line x1="162.20" y1="223.87" x2="163.00" y2="223.87" stroke="#888" stroke-width="0.5"/>
<line x1="162.20" y1="229.53" x2="163.00" y2="229.53" stroke="#888" stroke-width="0.5"/>
<line x1="161.50" y1="235.20" x2="163.00" y2="235.20" stroke="#888" stroke-width="0.5"/>
<line x1="162.20" y1="240.87" x2="163.00" y2="240.87" stroke="#888" stroke-width="0.5"/>
<line x1="162.20" y1="246.53" x2="163.00" y2="246.53" stroke="#888" stroke-width="0.5"/>
<line x1="168.67" y1="252.20" x2="168.67" y2="253.00" stroke="#888" stroke-width="0.5"/>
<line x1="174.33" y1="252.20" x2="174.33" y2="253.00" stroke="#888" stroke-width="0.5"/>
<line x1="180.00" y1="252.20" x2="180.00" y2="253.70" stroke="#888" stroke-width="0.5"/>
<line x1="185.67" y1="252.20" x2="185.67" y2="253.00" stroke="#888" stroke-width="0.5"/>
<line x1="191.33" y1="252.20" x2="191.33" y2="253.00" stroke="#888" stroke-width="0.5"/>
<line x1="197.00" y1="252.20" x2="197.00" y2="253.70" stroke="#888" stroke-width="0.5"/>
<line x1="202.67" y1="252.20" x2="202.67" y2="253.00" stroke="#888" stroke-width="0.5"/>
<line x1="208.33" y1="252.20" x2="208.33" y2="253.00" stroke="#888" stroke-width="0.5"/>
<line x1="214.00" y1="252.20" x2="214.00" y2="253.70" stroke="#888" stroke-width="0.5"/>
<line x1="219.67" y1="252.20" x2="219.67" y2="253.00" stroke="#888" stroke-width="0.5"/>
<line x1="225.33" y1="252.20" x2="225.33" y2="253.00" stroke="#888" stroke-width="0.5"/>
<g clip-path="url(#cp163_184)">
<path d="M179 213h1v1h-1zM192 209h1v1h-1zM191 218h1v1h-1zM203 224h1v1h-1zM181 217h1v1h-1zM183 215h1v1h-1zM186 223h1v1h-1zM172 218h1v1h-1zM199 222h1v1h-1zM178 215h1v1h-1zM178 211h1v1h-1zM196 219h1v1h-1zM180 212h1v1h-1zM182 216h1v1h-1zM201 216h1v1h-1zM187 224h1v1h-1zM192 218h1v1h-1zM166 226h1v1h-1zM191 217h1v1h-1zM185 214h1v1h-1zM190 221h1v1h-1zM187 223h1v1h-1zM190 219h1v1h-1zM178 222h1v1h-1zM196 222h1v1h-1zM197 216h1v1h-1zM177 225h1v1h-1zM181 220h1v1h-1zM184 219h1v1h-1zM183 216h1v1h-1zM170 228h1v1h-1zM187 209h1v1h-1zM178 213h1v1h-1zM179 206h1v1h-1zM191 227h1v1h-1zM184 222h1v1h-1zM191 213h1v1h-1zM196 210h1v1h-1zM197 219h1v1h-1zM185 215h1v1h-1zM186 219h1v1h-1zM192 226h1v1h-1zM192 219h1v1h-1zM184 227h1v1h-1zM187 219h1v1h-1zM202 226h1v1h-1zM180 224h1v1h-1zM182 223h1v1h-1zM179 219h1v1h-1zM189 219h1v1h-1zM188 221h1v1h-1zM176 213h1v1h-1zM184 228h1v1h-1zM180 219h1v1h-1zM196 216h1v1h-1zM191 220h1v1h-1zM183 214h1v1h-1zM184 215h1v1h-1zM190 210h1v1h-1zM191 226h1v1h-1zM191 210h1v1h-1zM186 221h1v1h-1zM180 213h1v1h-1zM182 218h1v1h-1zM181 216h1v1h-1zM185 224h1v1h-1zM172 217h1v1h-1zM200 220h1v1h-1zM177 213h1v1h-1zM171 212h1v1h-1zM188 223h1v1h-1zM182 215h1v1h-1zM189 222h1v1h-1zM188 209h1v1h-1zM181 206h1v1h-1zM188 215h1v1h-1zM180 226h1v1h-1zM197 221h1v1h-1zM188 220h1v1h-1zM181 218h1v1h-1zM202 214h1v1h-1zM194 223h1v1h-1zM177 218h1v1h-1zM183 213h1v1h-1zM186 216h1v1h-1zM194 221h1v1h-1zM181 224h1v1h-1zM182 210h1v1h-1zM179 223h1v1h-1zM205 214h1v1h-1zM183 217h1v1h-1zM173 221h1v1h-1zM185 220h1v1h-1zM205 217h1v1h-1zM193 223h1v1h-1zM180 216h1v1h-1zM187 213h1v1h-1zM193 221h1v1h-1zM205 226h1v1h-1zM193 220h1v1h-1zM191 224h1v1h-1zM188 216h1v1h-1zM193 226h1v1h-1zM178 221h1v1h-1zM190 218h1v1h-1zM185 227h1v1h-1zM201 212h1v1h-1zM164 221h1v1h-1zM172 220h1v1h-1zM185 216h1v1h-1zM194 231h1v1h-1zM199 224h1v1h-1zM182 222h1v1h-1zM191 219h1v1h-1zM191 215h1v1h-1zM183 221h1v1h-1zM171 223h1v1h-1zM193 214h1v1h-1zM201 219h1v1h-1zM193 217h1v1h-1zM195 211h1v1h-1zM185 223h1v1h-1zM180 222h1v1h-1zM183 220h1v1h-1zM189 230h1v1h-1zM175 222h1v1h-1zM197 213h1v1h-1zM186 230h1v1h-1zM195 204h1v1h-1zM184 210h1v1h-1zM181 215h1v1h-1zM178 218h1v1h-1zM189 215h1v1h-1zM189 217h1v1h-1zM199 216h1v1h-1zM203 222h1v1h-1zM176 217h1v1h-1zM177 226h1v1h-1zM189 209h1v1h-1zM189 220h1v1h-1zM177 220h1v1h-1zM193 207h1v1h-1zM181 225h1v1h-1zM194 215h1v1h-1zM198 214h1v1h-1zM179 228h1v1h-1zM171 214h1v1h-1zM175 218h1v1h-1zM170 224h1v1h-1zM199 217h1v1h-1zM200 227h1v1h-1zM197 220h1v1h-1zM173 222h1v1h-1zM182 220h1v1h-1zM169 217h1v1h-1zM188 214h1v1h-1zM188 227h1v1h-1zM207 208h1v1h-1zM181 208h1v1h-1zM179 226h1v1h-1zM190 225h1v1h-1zM172 219h1v1h-1zM200 229h1v1h-1zM187 216h1v1h-1zM195 215h1v1h-1zM173 227h1v1h-1zM186 220h1v1h-1zM166 219h1v1h-1zM204 211h1v1h-1zM165 218h1v1h-1zM175 212h1v1h-1zM176 222h1v1h-1zM182 219h1v1h-1zM194 219h1v1h-1zM183 211h1v1h-1zM180 218h1v1h-1zM170 212h1v1h-1zM189 225h1v1h-1zM182 211h1v1h-1zM183 228h1v1h-1zM188 218h1v1h-1zM195 217h1v1h-1zM190 212h1v1h-1zM192 223h1v1h-1zM166 205h1v1h-1zM178 226h1v1h-1zM186 222h1v1h-1zM191 223h1v1h-1zM190 224h1v1h-1zM163 224h1v1h-1zM164 220h1v1h-1zM187 220h1v1h-1zM179 221h1v1h-1zM182 214h1v1h-1zM196 227h1v1h-1zM185 218h1v1h-1zM194 212h1v1h-1zM178 224h1v1h-1zM194 216h1v1h-1zM179 220h1v1h-1zM173 216h1v1h-1zM184 207h1v1h-1zM191 222h1v1h-1zM195 212h1v1h-1zM174 215h1v1h-1zM174 229h1v1h-1zM177 217h1v1h-1zM199 213h1v1h-1zM175 219h1v1h-1zM179 224h1v1h-1zM178 219h1v1h-1zM176 223h1v1h-1zM187 215h1v1h-1zM179 218h1v1h-1zM177 227h1v1h-1zM193 225h1v1h-1zM201 222h1v1h-1zM190 222h1v1h-1zM192 220h1v1h-1zM184 211h1v1h-1zM204 212h1v1h-1zM166 215h1v1h-1zM203 225h1v1h-1zM180 220h1v1h-1zM185 209h1v1h-1zM196 213h1v1h-1zM165 211h1v1h-1zM182 212h1v1h-1zM191 225h1v1h-1zM175 207h1v1h-1zM170 229h1v1h-1zM177 221h1v1h-1zM215 216h1v1h-1zM184 216h1v1h-1zM196 221h1v1h-1zM171 222h1v1h-1zM177 216h1v1h-1zM195 214h1v1h-1zM181 223h1v1h-1zM202 215h1v1h-1zM196 215h1v1h-1zM189 221h1v1h-1zM175 224h1v1h-1zM202 219h1v1h-1zM188 213h1v1h-1zM174 223h1v1h-1zM173 215h1v1h-1zM167 226h1v1h-1zM206 216h1v1h-1zM181 221h1v1h-1zM199 214h1v1h-1zM199 218h1v1h-1zM185 226h1v1h-1zM195 227h1v1h-1zM189 218h1v1h-1zM199 215h1v1h-1zM195 226h1v1h-1zM168 214h1v1h-1zM178 216h1v1h-1zM185 221h1v1h-1zM192 215h1v1h-1zM184 212h1v1h-1zM194 222h1v1h-1zM172 227h1v1h-1zM215 213h1v1h-1zM191 211h1v1h-1zM168 221h1v1h-1zM168 226h1v1h-1zM181 219h1v1h-1zM184 217h1v1h-1zM197 218h1v1h-1zM180 215h1v1h-1zM186 228h1v1h-1zM196 220h1v1h-1zM201 224h1v1h-1zM176 220h1v1h-1zM174 228h1v1h-1zM195 216h1v1h-1zM201 217h1v1h-1zM178 214h1v1h-1zM192 214h1v1h-1zM202 225h1v1h-1zM169 221h1v1h-1zM175 220h1v1h-1zM171 216h1v1h-1zM192 216h1v1h-1zM210 215h1v1h-1zM193 224h1v1h-1zM194 218h1v1h-1zM178 217h1v1h-1zM171 228h1v1h-1zM194 213h1v1h-1zM178 231h1v1h-1zM187 232h1v1h-1zM193 212h1v1h-1zM177 208h1v1h-1zM186 218h1v1h-1zM195 220h1v1h-1zM193 218h1v1h-1zM169 224h1v1h-1zM193 227h1v1h-1zM184 229h1v1h-1zM195 218h1v1h-1zM185 217h1v1h-1zM198 206h1v1h-1zM197 224h1v1h-1zM185 222h1v1h-1zM177 224h1v1h-1zM213 214h1v1h-1zM198 218h1v1h-1zM172 214h1v1h-1zM175 216h1v1h-1zM186 215h1v1h-1zM177 210h1v1h-1zM197 223h1v1h-1zM183 223h1v1h-1zM198 215h1v1h-1zM193 213h1v1h-1z" fill="#5aa5f2" fill-opacity="0.8"/>
<path d="M176 241h1v1h-1zM168 241h1v1h-1zM169 231h1v1h-1zM166 238h1v1h-1zM166 234h1v1h-1zM168 237h1v1h-1zM170 238h1v1h-1zM171 244h1v1h-1zM170 241h1v1h-1zM167 242h1v1h-1zM167 236h1v1h-1zM166 240h1v1h-1zM183 238h1v1h-1zM175 242h1v1h-1zM166 239h1v1h-1zM171 235h1v1h-1zM180 235h1v1h-1zM166 232h1v1h-1zM179 241h1v1h-1zM170 236h1v1h-1zM169 240h1v1h-1zM164 245h1v1h-1zM163 245h1v1h-1zM169 239h1v1h-1zM178 243h1v1h-1zM175 233h1v1h-1zM176 247h1v1h-1zM169 236h1v1h-1zM171 239h1v1h-1zM175 239h1v1h-1zM178 234h1v1h-1zM175 234h1v1h-1zM178 237h1v1h-1zM177 237h1v1h-1zM172 244h1v1h-1zM164 239h1v1h-1zM164 243h1v1h-1zM166 237h1v1h-1zM168 245h1v1h-1zM163 239h1v1h-1zM168 236h1v1h-1zM165 238h1v1h-1zM171 231h1v1h-1zM171 233h1v1h-1zM170 250h1v1h-1zM164 238h1v1h-1zM168 244h1v1h-1zM167 230h1v1h-1zM166 242h1v1h-1zM169 235h1v1h-1zM171 247h1v1h-1zM164 233h1v1h-1zM163 233h1v1h-1zM172 231h1v1h-1zM169 244h1v1h-1zM166 228h1v1h-1zM177 231h1v1h-1zM164 241h1v1h-1zM163 251h1v1h-1zM171 241h1v1h-1zM167 250h1v1h-1zM173 235h1v1h-1zM177 230h1v1h-1zM170 234h1v1h-1zM179 246h1v1h-1zM165 245h1v1h-1zM178 240h1v1h-1zM166 236h1v1h-1zM173 248h1v1h-1zM173 237h1v1h-1zM166 245h1v1h-1zM164 235h1v1h-1zM172 241h1v1h-1zM167 244h1v1h-1zM183 248h1v1h-1zM170 249h1v1h-1zM170 245h1v1h-1zM168 240h1v1h-1zM173 230h1v1h-1zM168 247h1v1h-1z" fill="#3d8ff0" fill-opacity="0.8"/>
<path d="M177 241h1v1h-1zM163 233h1v1h-1zM171 230h1v1h-1zM164 244h1v1h-1zM172 231h1v1h-1zM169 230h1v1h-1zM171 247h1v1h-1zM176 243h1v1h-1zM167 247h1v1h-1zM167 232h1v1h-1zM173 246h1v1h-1zM175 232h1v1h-1zM165 245h1v1h-1zM163 234h1v1h-1zM177 236h1v1h-1zM165 232h1v1h-1zM174 232h1v1h-1zM166 245h1v1h-1zM164 245h1v1h-1zM165 231h1v1h-1zM171 231h1v1h-1zM169 231h1v1h-1zM178 240h1v1h-1zM165 230h1v1h-1zM166 232h1v1h-1zM172 246h1v1h-1zM173 245h1v1h-1zM169 246h1v1h-1zM164 232h1v1h-1zM175 245h1v1h-1zM166 246h1v1h-1zM174 231h1v1h-1zM178 237h1v1h-1zM175 243h1v1h-1zM168 231h1v1h-1zM173 247h1v1h-1zM173 232h1v1h-1zM176 234h1v1h-1zM164 247h1v1h-1zM177 240h1v1h-1zM177 242h1v1h-1z" fill="#3d8ff0" fill-opacity="0.85"/>
<g>
<ellipse cx="169.8" cy="239.2" rx="8.30" ry="8.30" fill="none" stroke="#5aa8f2" stroke-width="1.6" stroke-opacity="0.7" filter="url(#bl)"/>
<ellipse cx="169.8" cy="239.2" rx="8.00" ry="8.00" fill="#d3e9fc" stroke="#6fb1f3" stroke-width="0.5"/>
<ellipse cx="169.8" cy="239.2" rx="6.14" ry="6.14" fill="#e2f0fd" stroke="#93c6f6" stroke-width="0.5"/>
<ellipse cx="169.8" cy="239.2" rx="4.28" ry="4.28" fill="#edf6fe" stroke="#a9d2f8" stroke-width="0.5"/>
<ellipse cx="169.8" cy="239.2" rx="2.42" ry="2.42" fill="#f6fbff" stroke="#bddcf9" stroke-width="0.5"/>
</g>
<path d="M186 238h1v1h-1zM196 243h1v1h-1zM185 251h1v1h-1zM212 234h1v1h-1zM204 239h1v1h-1zM193 236h1v1h-1zM212 236h1v1h-1zM189 236h1v1h-1zM215 246h1v1h-1zM174 237h1v1h-1zM195 238h1v1h-1zM186 234h1v1h-1zM194 234h1v1h-1zM186 248h1v1h-1zM195 236h1v1h-1zM186 235h1v1h-1zM192 243h1v1h-1zM202 238h1v1h-1zM175 239h1v1h-1zM212 241h1v1h-1zM190 229h1v1h-1zM185 242h1v1h-1zM178 246h1v1h-1zM183 235h1v1h-1zM183 239h1v1h-1zM203 237h1v1h-1zM168 239h1v1h-1zM197 247h1v1h-1zM176 247h1v1h-1zM199 242h1v1h-1zM181 235h1v1h-1zM178 244h1v1h-1zM193 245h1v1h-1zM214 240h1v1h-1zM190 249h1v1h-1zM174 238h1v1h-1zM192 236h1v1h-1zM205 233h1v1h-1zM180 231h1v1h-1zM173 243h1v1h-1zM199 239h1v1h-1zM201 243h1v1h-1zM183 240h1v1h-1zM195 250h1v1h-1zM197 246h1v1h-1zM196 245h1v1h-1zM177 238h1v1h-1zM166 239h1v1h-1zM220 241h1v1h-1zM192 241h1v1h-1zM192 233h1v1h-1zM182 239h1v1h-1zM180 244h1v1h-1zM208 243h1v1h-1zM188 237h1v1h-1zM170 237h1v1h-1zM210 245h1v1h-1zM193 239h1v1h-1zM191 242h1v1h-1zM190 242h1v1h-1zM181 240h1v1h-1zM186 245h1v1h-1zM175 246h1v1h-1zM189 237h1v1h-1zM191 240h1v1h-1zM188 242h1v1h-1zM183 231h1v1h-1zM199 240h1v1h-1zM212 242h1v1h-1zM165 246h1v1h-1zM182 242h1v1h-1zM219 245h1v1h-1zM177 239h1v1h-1zM170 243h1v1h-1zM198 235h1v1h-1zM196 244h1v1h-1zM201 236h1v1h-1zM182 234h1v1h-1zM174 241h1v1h-1zM191 246h1v1h-1zM194 238h1v1h-1zM172 247h1v1h-1zM193 240h1v1h-1zM178 235h1v1h-1zM199 235h1v1h-1zM198 243h1v1h-1zM186 232h1v1h-1zM196 247h1v1h-1zM180 234h1v1h-1zM204 240h1v1h-1zM183 246h1v1h-1zM187 242h1v1h-1zM185 236h1v1h-1zM168 237h1v1h-1zM206 245h1v1h-1zM218 245h1v1h-1zM211 241h1v1h-1zM178 243h1v1h-1zM185 241h1v1h-1zM180 239h1v1h-1zM203 239h1v1h-1zM182 241h1v1h-1zM202 239h1v1h-1zM176 232h1v1h-1zM173 245h1v1h-1zM189 242h1v1h-1zM204 241h1v1h-1zM197 237h1v1h-1zM189 243h1v1h-1zM216 236h1v1h-1zM192 246h1v1h-1zM188 240h1v1h-1zM163 244h1v1h-1zM185 246h1v1h-1zM189 238h1v1h-1zM196 239h1v1h-1zM184 247h1v1h-1zM203 240h1v1h-1zM201 244h1v1h-1zM198 240h1v1h-1zM198 241h1v1h-1zM196 235h1v1h-1zM190 243h1v1h-1zM193 238h1v1h-1zM190 237h1v1h-1zM203 238h1v1h-1zM169 234h1v1h-1zM194 241h1v1h-1zM184 233h1v1h-1zM182 240h1v1h-1zM181 241h1v1h-1zM181 238h1v1h-1zM188 247h1v1h-1zM211 244h1v1h-1zM202 244h1v1h-1zM170 240h1v1h-1zM181 243h1v1h-1zM199 237h1v1h-1zM218 238h1v1h-1zM222 239h1v1h-1zM189 249h1v1h-1zM184 238h1v1h-1zM209 240h1v1h-1zM197 234h1v1h-1zM213 244h1v1h-1zM195 243h1v1h-1zM171 242h1v1h-1zM206 244h1v1h-1zM202 243h1v1h-1zM179 234h1v1h-1zM199 241h1v1h-1zM179 242h1v1h-1zM183 232h1v1h-1zM183 236h1v1h-1zM176 237h1v1h-1zM203 251h1v1h-1zM212 238h1v1h-1zM205 239h1v1h-1zM196 237h1v1h-1zM190 232h1v1h-1zM213 236h1v1h-1zM198 237h1v1h-1zM186 244h1v1h-1zM198 231h1v1h-1zM201 234h1v1h-1zM194 242h1v1h-1zM182 238h1v1h-1zM202 246h1v1h-1zM195 249h1v1h-1zM178 248h1v1h-1zM187 243h1v1h-1zM189 240h1v1h-1zM216 240h1v1h-1zM190 240h1v1h-1zM200 239h1v1h-1zM190 241h1v1h-1zM207 244h1v1h-1zM177 237h1v1h-1zM191 244h1v1h-1zM218 239h1v1h-1zM208 247h1v1h-1zM198 233h1v1h-1zM200 245h1v1h-1zM189 245h1v1h-1zM198 247h1v1h-1zM170 236h1v1h-1zM211 235h1v1h-1zM180 238h1v1h-1zM200 242h1v1h-1zM182 229h1v1h-1zM211 236h1v1h-1zM177 242h1v1h-1zM191 235h1v1h-1zM204 244h1v1h-1zM194 236h1v1h-1zM179 230h1v1h-1zM195 242h1v1h-1zM179 240h1v1h-1zM169 243h1v1h-1z" fill="#3d8ff0" fill-opacity="0.8"/>
<path d="M174 234h1v1h-1zM197 248h1v1h-1zM204 243h1v1h-1zM169 241h1v1h-1zM171 244h1v1h-1zM198 234h1v1h-1zM191 233h1v1h-1zM181 247h1v1h-1zM171 240h1v1h-1zM168 239h1v1h-1zM181 245h1v1h-1zM192 246h1v1h-1zM178 246h1v1h-1zM205 242h1v1h-1zM170 243h1v1h-1zM204 238h1v1h-1zM196 234h1v1h-1zM205 240h1v1h-1zM174 245h1v1h-1zM206 243h1v1h-1zM171 238h1v1h-1zM172 244h1v1h-1zM202 244h1v1h-1zM174 236h1v1h-1zM200 244h1v1h-1zM204 239h1v1h-1zM189 231h1v1h-1zM178 233h1v1h-1zM184 248h1v1h-1zM201 235h1v1h-1zM188 247h1v1h-1zM182 247h1v1h-1zM189 232h1v1h-1zM202 237h1v1h-1zM172 237h1v1h-1zM207 239h1v1h-1zM170 237h1v1h-1zM185 231h1v1h-1zM170 241h1v1h-1zM177 235h1v1h-1zM204 237h1v1h-1zM207 243h1v1h-1zM193 232h1v1h-1zM189 247h1v1h-1zM182 232h1v1h-1zM170 238h1v1h-1zM172 236h1v1h-1zM206 237h1v1h-1zM188 246h1v1h-1zM170 239h1v1h-1zM194 232h1v1h-1zM195 246h1v1h-1zM206 241h1v1h-1zM206 236h1v1h-1zM197 246h1v1h-1zM205 236h1v1h-1zM198 246h1v1h-1zM199 245h1v1h-1zM170 236h1v1h-1zM201 245h1v1h-1zM198 245h1v1h-1zM196 233h1v1h-1zM194 233h1v1h-1zM200 234h1v1h-1zM197 232h1v1h-1zM190 232h1v1h-1zM174 233h1v1h-1zM180 245h1v1h-1zM197 233h1v1h-1zM180 233h1v1h-1zM180 232h1v1h-1zM185 247h1v1h-1zM187 247h1v1h-1zM199 234h1v1h-1zM202 235h1v1h-1zM178 232h1v1h-1zM182 246h1v1h-1zM167 241h1v1h-1zM195 233h1v1h-1zM177 246h1v1h-1zM201 234h1v1h-1zM188 232h1v1h-1zM203 244h1v1h-1zM171 242h1v1h-1zM205 241h1v1h-1zM192 232h1v1h-1zM183 232h1v1h-1zM182 233h1v1h-1zM200 245h1v1h-1zM184 247h1v1h-1zM186 232h1v1h-1z" fill="#3d8ff0" fill-opacity="0.85"/>
<g>
<ellipse cx="188.0" cy="240.2" rx="18.30" ry="7.80" fill="none" stroke="#5aa8f2" stroke-width="1.6" stroke-opacity="0.7" filter="url(#bl)"/>
<ellipse cx="188.0" cy="240.2" rx="18.00" ry="7.50" fill="#d3e9fc" stroke="#6fb1f3" stroke-width="0.5"/>
<ellipse cx="188.0" cy="240.2" rx="12.55" ry="5.23" fill="#e2f0fd" stroke="#93c6f6" stroke-width="0.5"/>
<ellipse cx="188.0" cy="240.2" rx="7.09" ry="2.95" fill="#edf6fe" stroke="#a9d2f8" stroke-width="0.5"/>
</g>
</g>
<clipPath id="cp163_184"><rect x="163" y="184.2" width="68" height="68"/></clipPath>
<rect x="175.20" y="201.70" width="36.40" height="28.50" stroke="#222" stroke-width="1.4" fill="none"/>
<rect x="175.20" y="232.40" width="36.40" height="17.70" stroke="#222" stroke-width="1.4" fill="none"/>
<rect x="163.00" y="278.50" width="68.00" height="68.00" stroke="#9a9a9a" stroke-width="0.8" fill="none"/>
<line x1="162.20" y1="284.17" x2="163.00" y2="284.17" stroke="#888" stroke-width="0.5"/>
<line x1="162.20" y1="289.83" x2="163.00" y2="289.83" stroke="#888" stroke-width="0.5"/>
<line x1="161.50" y1="295.50" x2="163.00" y2="295.50" stroke="#888" stroke-width="0.5"/>
<line x1="162.20" y1="301.17" x2="163.00" y2="301.17" stroke="#888" stroke-width="0.5"/>
<line x1="162.20" y1="306.83" x2="163.00" y2="306.83" stroke="#888" stroke-width="0.5"/>
<line x1="161.50" y1="312.50" x2="163.00" y2="312.50" stroke="#888" stroke-width="0.5"/>
<line x1="162.20" y1="318.17" x2="163.00" y2="318.17" stroke="#888" stroke-width="0.5"/>
<line x1="162.20" y1="323.83" x2="163.00" y2="323.83" stroke="#888" stroke-width="0.5"/>
<line x1="161.50" y1="329.50" x2="163.00" y2="329.50" stroke="#888" stroke-width="0.5"/>
<line x1="162.20" y1="335.17" x2="163.00" y2="335.17" stroke="#888" stroke-width="0.5"/>
<line x1="162.20" y1="340.83" x2="163.00" y2="340.83" stroke="#888" stroke-width="0.5"/>
<line x1="168.67" y1="346.50" x2="168.67" y2="347.30" stroke="#888" stroke-width="0.5"/>
<line x1="174.33" y1="346.50" x2="174.33" y2="347.30" stroke="#888" stroke-width="0.5"/>
<line x1="180.00" y1="346.50" x2="180.00" y2="348.00" stroke="#888" stroke-width="0.5"/>
<line x1="185.67" y1="346.50" x2="185.67" y2="347.30" stroke="#888" stroke-width="0.5"/>
<line x1="191.33" y1="346.50" x2="191.33" y2="347.30" stroke="#888" stroke-width="0.5"/>
<line x1="197.00" y1="346.50" x2="197.00" y2="348.00" stroke="#888" stroke-width="0.5"/>
<line x1="202.67" y1="346.50" x2="202.67" y2="347.30" stroke="#888" stroke-width="0.5"/>
<line x1="208.33" y1="346.50" x2="208.33" y2="347.30" stroke="#888" stroke-width="0.5"/>
<line x1="214.00" y1="346.50" x2="214.00" y2="348.00" stroke="#888" stroke-width="0.5"/>
<line x1="219.67" y1="346.50" x2="219.67" y2="347.30" stroke="#888" stroke-width="0.5"/>
<line x1="225.33" y1="346.50" x2="225.33" y2="347.30" stroke="#888" stroke-width="0.5"/>
<g clip-path="url(#cp163_278)">
<path d="M197 310h1v1h-1zM182 319h1v1h-1zM206 310h1v1h-1zM180 321h1v1h-1zM193 314h1v1h-1zM189 321h1v1h-1zM176 318h1v1h-1zM194 324h1v1h-1zM199 318h1v1h-1zM178 327h1v1h-1zM196 314h1v1h-1zM198 325h1v1h-1zM188 302h1v1h-1zM186 313h1v1h-1zM183 317h1v1h-1zM181 321h1v1h-1zM204 310h1v1h-1zM198 314h1v1h-1zM194 317h1v1h-1zM200 313h1v1h-1zM195 313h1v1h-1zM191 318h1v1h-1zM198 307h1v1h-1zM179 327h1v1h-1zM193 329h1v1h-1zM181 319h1v1h-1zM194 330h1v1h-1zM189 315h1v1h-1zM195 317h1v1h-1zM184 323h1v1h-1zM175 311h1v1h-1zM200 315h1v1h-1zM187 320h1v1h-1zM198 322h1v1h-1zM182 314h1v1h-1zM198 317h1v1h-1zM185 324h1v1h-1zM198 333h1v1h-1zM181 313h1v1h-1zM184 320h1v1h-1zM186 325h1v1h-1zM168 324h1v1h-1zM184 316h1v1h-1zM194 319h1v1h-1zM182 328h1v1h-1zM194 315h1v1h-1zM191 311h1v1h-1zM180 316h1v1h-1zM192 319h1v1h-1zM183 309h1v1h-1zM176 329h1v1h-1zM192 313h1v1h-1zM199 322h1v1h-1zM186 314h1v1h-1zM198 320h1v1h-1zM202 320h1v1h-1zM185 314h1v1h-1zM191 322h1v1h-1zM193 311h1v1h-1zM188 312h1v1h-1zM193 309h1v1h-1zM185 312h1v1h-1zM185 316h1v1h-1zM201 316h1v1h-1zM178 316h1v1h-1zM195 322h1v1h-1zM191 331h1v1h-1zM198 319h1v1h-1zM199 309h1v1h-1zM191 329h1v1h-1zM186 329h1v1h-1zM176 312h1v1h-1zM197 317h1v1h-1zM191 317h1v1h-1zM182 316h1v1h-1zM190 312h1v1h-1zM193 330h1v1h-1zM177 314h1v1h-1zM187 318h1v1h-1zM190 313h1v1h-1zM189 318h1v1h-1zM189 328h1v1h-1zM191 308h1v1h-1zM177 322h1v1h-1zM187 314h1v1h-1zM179 316h1v1h-1zM189 313h1v1h-1zM187 324h1v1h-1zM196 322h1v1h-1zM188 309h1v1h-1zM196 328h1v1h-1zM199 326h1v1h-1zM192 321h1v1h-1zM189 326h1v1h-1zM187 332h1v1h-1zM196 316h1v1h-1zM189 307h1v1h-1zM209 313h1v1h-1zM197 319h1v1h-1zM187 322h1v1h-1zM174 324h1v1h-1zM205 320h1v1h-1zM189 319h1v1h-1zM195 315h1v1h-1zM190 321h1v1h-1z" fill="#2f7ff0" fill-opacity="0.8"/>
<path d="M167 338h1v1h-1zM172 340h1v1h-1zM166 329h1v1h-1zM165 331h1v1h-1zM173 326h1v1h-1zM178 329h1v1h-1zM174 326h1v1h-1zM169 339h1v1h-1zM177 338h1v1h-1zM177 336h1v1h-1zM170 326h1v1h-1zM172 339h1v1h-1zM168 338h1v1h-1zM165 333h1v1h-1zM167 328h1v1h-1zM165 336h1v1h-1zM179 334h1v1h-1zM176 338h1v1h-1zM179 337h1v1h-1zM167 327h1v1h-1zM173 339h1v1h-1zM173 327h1v1h-1zM168 339h1v1h-1zM166 337h1v1h-1zM179 331h1v1h-1zM178 328h1v1h-1zM179 330h1v1h-1zM178 338h1v1h-1zM172 326h1v1h-1zM165 328h1v1h-1zM178 337h1v1h-1zM169 326h1v1h-1zM166 336h1v1h-1zM178 330h1v1h-1zM167 337h1v1h-1zM175 326h1v1h-1zM170 339h1v1h-1zM179 336h1v1h-1zM166 335h1v1h-1zM180 331h1v1h-1zM178 336h1v1h-1zM178 333h1v1h-1zM171 341h1v1h-1zM171 340h1v1h-1zM180 335h1v1h-1zM171 324h1v1h-1zM174 340h1v1h-1zM168 326h1v1h-1z" fill="#3d8ff0" fill-opacity="0.85"/>
<g>
<ellipse cx="172.5" cy="333.0" rx="7.30" ry="7.30" fill="none" stroke="#5aa8f2" stroke-width="1.6" stroke-opacity="0.7" filter="url(#bl)"/>
<ellipse cx="172.5" cy="333.0" rx="7.00" ry="7.00" fill="#7dbcf5" stroke="#4a9ff0" stroke-width="0.5"/>
<ellipse cx="172.5" cy="333.0" rx="5.37" ry="5.37" fill="#98caf7" stroke="#6fb1f3" stroke-width="0.5"/>
<ellipse cx="172.5" cy="333.0" rx="3.74" ry="3.74" fill="#b8dbf9" stroke="#8cc3f6" stroke-width="0.5"/>
<ellipse cx="172.5" cy="333.0" rx="2.12" ry="2.12" fill="#d8ebfc" stroke="#a9d2f8" stroke-width="0.5"/>
</g>
<path d="M175 330h1v1h-1zM201 331h1v1h-1zM200 334h1v1h-1zM201 333h1v1h-1zM199 338h1v1h-1zM186 328h1v1h-1zM200 335h1v1h-1zM175 334h1v1h-1zM195 338h1v1h-1zM196 338h1v1h-1zM196 329h1v1h-1zM188 340h1v1h-1zM175 335h1v1h-1zM197 330h1v1h-1zM177 333h1v1h-1zM190 339h1v1h-1zM197 338h1v1h-1zM174 337h1v1h-1zM174 334h1v1h-1zM197 329h1v1h-1zM188 328h1v1h-1zM183 339h1v1h-1zM176 332h1v1h-1zM176 330h1v1h-1zM180 338h1v1h-1zM194 328h1v1h-1zM196 337h1v1h-1zM191 340h1v1h-1zM187 327h1v1h-1zM179 329h1v1h-1zM176 331h1v1h-1zM198 331h1v1h-1zM177 331h1v1h-1zM176 336h1v1h-1zM175 331h1v1h-1zM179 338h1v1h-1zM178 338h1v1h-1zM201 332h1v1h-1zM185 327h1v1h-1zM178 337h1v1h-1zM189 340h1v1h-1zM200 331h1v1h-1zM185 339h1v1h-1zM200 336h1v1h-1zM198 330h1v1h-1zM187 339h1v1h-1zM183 328h1v1h-1zM195 329h1v1h-1zM185 328h1v1h-1zM174 335h1v1h-1zM186 327h1v1h-1zM176 334h1v1h-1zM199 329h1v1h-1zM198 337h1v1h-1zM177 330h1v1h-1zM180 339h1v1h-1zM193 327h1v1h-1zM193 339h1v1h-1zM199 332h1v1h-1zM200 332h1v1h-1zM177 337h1v1h-1zM181 338h1v1h-1zM201 335h1v1h-1zM194 339h1v1h-1z" fill="#3d8ff0" fill-opacity="0.85"/>
<g>
<ellipse cx="188.0" cy="334.0" rx="13.30" ry="6.30" fill="none" stroke="#5aa8f2" stroke-width="1.6" stroke-opacity="0.7" filter="url(#bl)"/>
<ellipse cx="188.0" cy="334.0" rx="13.00" ry="6.00" fill="#7dbcf5" stroke="#4a9ff0" stroke-width="0.5"/>
<ellipse cx="188.0" cy="334.0" rx="9.06" ry="4.18" fill="#98caf7" stroke="#6fb1f3" stroke-width="0.5"/>
<ellipse cx="188.0" cy="334.0" rx="5.12" ry="2.36" fill="#b8dbf9" stroke="#8cc3f6" stroke-width="0.5"/>
</g>
</g>
<clipPath id="cp163_278"><rect x="163" y="278.5" width="68" height="68"/></clipPath>
<rect x="177.40" y="295.50" width="38.10" height="49.70" stroke="#222" stroke-width="1.4" fill="none"/>
<line x1="177.40" y1="328.00" x2="215.50" y2="328.00" stroke="#222" stroke-width="1.6"/>
<rect x="247.20" y="184.20" width="68.00" height="68.00" stroke="#9a9a9a" stroke-width="0.8" fill="none"/>
<line x1="246.40" y1="189.87" x2="247.20" y2="189.87" stroke="#888" stroke-width="0.5"/>
<line x1="246.40" y1="195.53" x2="247.20" y2="195.53" stroke="#888" stroke-width="0.5"/>
<line x1="245.70" y1="201.20" x2="247.20" y2="201.20" stroke="#888" stroke-width="0.5"/>
<line x1="246.40" y1="206.87" x2="247.20" y2="206.87" stroke="#888" stroke-width="0.5"/>
<line x1="246.40" y1="212.53" x2="247.20" y2="212.53" stroke="#888" stroke-width="0.5"/>
<line x1="245.70" y1="218.20" x2="247.20" y2="218.20" stroke="#888" stroke-width="0.5"/>
<line x1="246.40" y1="223.87" x2="247.20" y2="223.87" stroke="#888" stroke-width="0.5"/>
<line x1="246.40" y1="229.53" x2="247.20" y2="229.53" stroke="#888" stroke-width="0.5"/>
<line x1="245.70" y1="235.20" x2="247.20" y2="235.20" stroke="#888" stroke-width="0.5"/>
<line x1="246.40" y1="240.87" x2="247.20" y2="240.87" stroke="#888" stroke-width="0.5"/>
<line x1="246.40" y1="246.53" x2="247.20" y2="246.53" stroke="#888" stroke-width="0.5"/>
<line x1="252.87" y1="252.20" x2="252.87" y2="253.00" stroke="#888" stroke-width="0.5"/>
<line x1="258.53" y1="252.20" x2="258.53" y2="253.00" stroke="#888" stroke-width="0.5"/>
<line x1="264.20" y1="252.20" x2="264.20" y2="253.70" stroke="#888" stroke-width="0.5"/>
<line x1="269.87" y1="252.20" x2="269.87" y2="253.00" stroke="#888" stroke-width="0.5"/>
<line x1="275.53" y1="252.20" x2="275.53" y2="253.00" stroke="#888" stroke-width="0.5"/>
<line x1="281.20" y1="252.20" x2="281.20" y2="253.70" stroke="#888" stroke-width="0.5"/>
<line x1="286.87" y1="252.20" x2="286.87" y2="253.00" stroke="#888" stroke-width="0.5"/>
<line x1="292.53" y1="252.20" x2="292.53" y2="253.00" stroke="#888" stroke-width="0.5"/>
<line x1="298.20" y1="252.20" x2="298.20" y2="253.70" stroke="#888" stroke-width="0.5"/>
<line x1="303.87" y1="252.20" x2="303.87" y2="253.00" stroke="#888" stroke-width="0.5"/>
<line x1="309.53" y1="252.20" x2="309.53" y2="253.00" stroke="#888" stroke-width="0.5"/>
<g clip-path="url(#cp247_184)">
<path d="M265 230h1v1h-1zM285 210h1v1h-1zM271 230h1v1h-1zM268 234h1v1h-1zM278 223h1v1h-1zM276 222h1v1h-1zM278 222h1v1h-1zM265 225h1v1h-1zM273 207h1v1h-1zM258 218h1v1h-1zM276 195h1v1h-1zM272 244h1v1h-1zM251 214h1v1h-1zM264 222h1v1h-1zM291 232h1v1h-1zM258 229h1v1h-1zM255 220h1v1h-1zM274 223h1v1h-1zM261 230h1v1h-1zM271 217h1v1h-1zM268 206h1v1h-1zM282 220h1v1h-1zM278 235h1v1h-1zM260 214h1v1h-1zM272 225h1v1h-1zM269 226h1v1h-1zM278 200h1v1h-1zM262 197h1v1h-1zM268 213h1v1h-1zM280 218h1v1h-1zM271 229h1v1h-1zM280 205h1v1h-1zM262 220h1v1h-1zM295 215h1v1h-1zM269 219h1v1h-1zM282 216h1v1h-1zM276 213h1v1h-1zM264 209h1v1h-1zM281 211h1v1h-1zM279 221h1v1h-1zM285 191h1v1h-1zM259 205h1v1h-1zM269 225h1v1h-1zM306 232h1v1h-1zM290 220h1v1h-1zM266 222h1v1h-1zM272 223h1v1h-1zM258 206h1v1h-1zM263 216h1v1h-1zM276 223h1v1h-1zM256 216h1v1h-1zM250 211h1v1h-1zM284 210h1v1h-1zM297 222h1v1h-1zM284 218h1v1h-1zM284 227h1v1h-1zM273 212h1v1h-1zM264 235h1v1h-1zM269 212h1v1h-1zM262 200h1v1h-1zM265 220h1v1h-1zM265 209h1v1h-1zM277 221h1v1h-1zM266 220h1v1h-1zM258 225h1v1h-1zM258 213h1v1h-1zM274 213h1v1h-1zM256 237h1v1h-1zM292 200h1v1h-1zM273 204h1v1h-1zM276 204h1v1h-1zM280 222h1v1h-1zM295 228h1v1h-1zM265 226h1v1h-1zM265 216h1v1h-1zM265 200h1v1h-1zM280 197h1v1h-1zM268 222h1v1h-1zM273 201h1v1h-1zM263 223h1v1h-1zM287 232h1v1h-1zM265 224h1v1h-1zM249 215h1v1h-1zM281 210h1v1h-1zM267 207h1v1h-1zM287 204h1v1h-1zM259 213h1v1h-1zM267 237h1v1h-1zM275 209h1v1h-1zM280 220h1v1h-1zM276 216h1v1h-1zM278 205h1v1h-1zM255 213h1v1h-1zM257 224h1v1h-1zM298 229h1v1h-1zM278 220h1v1h-1zM262 204h1v1h-1zM279 202h1v1h-1zM276 215h1v1h-1zM282 217h1v1h-1zM273 211h1v1h-1zM248 213h1v1h-1zM281 227h1v1h-1zM291 207h1v1h-1zM259 224h1v1h-1zM265 242h1v1h-1zM276 202h1v1h-1zM264 232h1v1h-1zM253 232h1v1h-1zM266 207h1v1h-1zM248 210h1v1h-1zM302 218h1v1h-1zM268 205h1v1h-1zM276 212h1v1h-1zM260 230h1v1h-1zM278 208h1v1h-1zM292 216h1v1h-1zM279 218h1v1h-1zM288 223h1v1h-1zM267 224h1v1h-1zM266 218h1v1h-1zM294 206h1v1h-1zM265 229h1v1h-1zM250 239h1v1h-1zM293 212h1v1h-1zM281 223h1v1h-1zM282 224h1v1h-1zM298 215h1v1h-1zM281 215h1v1h-1zM272 219h1v1h-1zM271 220h1v1h-1zM260 215h1v1h-1zM263 205h1v1h-1zM262 212h1v1h-1zM270 201h1v1h-1zM261 219h1v1h-1zM287 219h1v1h-1zM265 212h1v1h-1zM290 201h1v1h-1zM287 202h1v1h-1zM263 217h1v1h-1zM269 233h1v1h-1zM278 216h1v1h-1zM285 217h1v1h-1zM261 228h1v1h-1zM292 229h1v1h-1zM256 235h1v1h-1zM266 224h1v1h-1zM288 240h1v1h-1zM250 207h1v1h-1zM288 222h1v1h-1zM267 188h1v1h-1zM278 215h1v1h-1zM282 214h1v1h-1zM299 210h1v1h-1zM271 235h1v1h-1zM286 218h1v1h-1zM259 226h1v1h-1zM274 232h1v1h-1zM267 208h1v1h-1zM275 220h1v1h-1zM297 216h1v1h-1zM248 221h1v1h-1zM303 212h1v1h-1zM261 215h1v1h-1zM269 202h1v1h-1zM280 208h1v1h-1zM280 235h1v1h-1zM289 219h1v1h-1zM265 214h1v1h-1zM285 212h1v1h-1zM277 226h1v1h-1zM259 211h1v1h-1zM278 217h1v1h-1zM270 212h1v1h-1zM272 218h1v1h-1zM272 203h1v1h-1zM270 218h1v1h-1zM273 221h1v1h-1zM274 227h1v1h-1zM284 216h1v1h-1zM265 227h1v1h-1zM279 225h1v1h-1zM268 208h1v1h-1zM274 211h1v1h-1zM287 225h1v1h-1zM290 227h1v1h-1zM265 208h1v1h-1zM285 227h1v1h-1zM273 205h1v1h-1zM251 219h1v1h-1zM260 210h1v1h-1zM278 227h1v1h-1zM290 216h1v1h-1zM267 223h1v1h-1zM256 205h1v1h-1zM272 232h1v1h-1zM286 217h1v1h-1zM286 213h1v1h-1zM255 200h1v1h-1zM275 226h1v1h-1zM277 216h1v1h-1zM266 227h1v1h-1zM271 203h1v1h-1zM291 210h1v1h-1zM277 217h1v1h-1zM286 219h1v1h-1zM281 209h1v1h-1zM284 214h1v1h-1zM259 208h1v1h-1zM270 234h1v1h-1zM259 235h1v1h-1zM268 217h1v1h-1zM266 230h1v1h-1zM274 212h1v1h-1zM274 207h1v1h-1zM257 215h1v1h-1zM299 206h1v1h-1zM274 219h1v1h-1zM282 204h1v1h-1zM263 210h1v1h-1zM268 239h1v1h-1zM269 216h1v1h-1zM307 228h1v1h-1zM293 206h1v1h-1zM289 227h1v1h-1zM281 200h1v1h-1zM286 201h1v1h-1zM262 216h1v1h-1zM286 216h1v1h-1zM275 199h1v1h-1zM277 194h1v1h-1zM272 210h1v1h-1zM266 225h1v1h-1zM265 219h1v1h-1zM288 217h1v1h-1zM267 205h1v1h-1zM273 208h1v1h-1zM252 225h1v1h-1zM263 197h1v1h-1zM262 235h1v1h-1zM270 204h1v1h-1zM277 219h1v1h-1zM269 221h1v1h-1zM293 221h1v1h-1zM269 203h1v1h-1zM278 232h1v1h-1zM281 204h1v1h-1zM274 229h1v1h-1zM263 222h1v1h-1zM288 233h1v1h-1zM250 200h1v1h-1zM277 224h1v1h-1zM267 216h1v1h-1zM266 228h1v1h-1zM254 210h1v1h-1zM251 208h1v1h-1zM296 215h1v1h-1zM276 220h1v1h-1zM275 231h1v1h-1zM274 218h1v1h-1zM270 217h1v1h-1zM271 226h1v1h-1zM272 217h1v1h-1zM271 224h1v1h-1zM264 224h1v1h-1zM298 219h1v1h-1zM270 205h1v1h-1z" fill="#3d8ff0" fill-opacity="0.8"/>
<path d="M278 232h1v1h-1zM285 226h1v1h-1zM250 217h1v1h-1zM263 230h1v1h-1zM256 207h1v1h-1zM257 207h1v1h-1zM256 227h1v1h-1zM283 204h1v1h-1zM287 205h1v1h-1zM274 202h1v1h-1zM282 230h1v1h-1zM286 205h1v1h-1zM281 203h1v1h-1zM291 211h1v1h-1zM270 230h1v1h-1zM274 231h1v1h-1zM254 228h1v1h-1zM281 231h1v1h-1zM286 228h1v1h-1zM256 204h1v1h-1zM248 214h1v1h-1zM277 230h1v1h-1zM250 213h1v1h-1zM286 229h1v1h-1zM290 223h1v1h-1zM258 203h1v1h-1zM291 225h1v1h-1zM295 219h1v1h-1zM253 207h1v1h-1zM291 224h1v1h-1zM254 209h1v1h-1zM252 214h1v1h-1zM252 227h1v1h-1zM255 223h1v1h-1zM293 216h1v1h-1zM274 203h1v1h-1zM258 206h1v1h-1zM295 212h1v1h-1zM276 231h1v1h-1zM253 211h1v1h-1zM276 202h1v1h-1zM253 223h1v1h-1zM266 203h1v1h-1zM289 217h1v1h-1zM278 203h1v1h-1zM247 217h1v1h-1zM291 212h1v1h-1zM294 219h1v1h-1zM251 219h1v1h-1zM289 226h1v1h-1zM249 218h1v1h-1zM251 222h1v1h-1zM260 228h1v1h-1zM255 226h1v1h-1zM288 229h1v1h-1zM294 214h1v1h-1zM268 231h1v1h-1zM271 201h1v1h-1zM254 227h1v1h-1zM291 214h1v1h-1zM294 213h1v1h-1zM259 206h1v1h-1zM261 229h1v1h-1zM295 220h1v1h-1zM253 209h1v1h-1zM292 223h1v1h-1zM267 232h1v1h-1zM289 207h1v1h-1zM294 215h1v1h-1zM278 202h1v1h-1zM289 223h1v1h-1zM266 201h1v1h-1zM278 201h1v1h-1zM257 230h1v1h-1zM279 205h1v1h-1zM249 219h1v1h-1zM271 232h1v1h-1zM294 222h1v1h-1zM284 230h1v1h-1zM285 206h1v1h-1zM284 228h1v1h-1zM270 233h1v1h-1zM251 216h1v1h-1zM253 206h1v1h-1zM256 209h1v1h-1zM293 221h1v1h-1zM273 231h1v1h-1zM285 227h1v1h-1zM251 220h1v1h-1zM249 220h1v1h-1zM248 213h1v1h-1zM263 232h1v1h-1zM288 211h1v1h-1zM295 215h1v1h-1zM250 221h1v1h-1zM284 226h1v1h-1zM251 221h1v1h-1zM288 225h1v1h-1zM277 202h1v1h-1zM280 230h1v1h-1zM298 218h1v1h-1zM251 224h1v1h-1zM292 210h1v1h-1zM275 234h1v1h-1zM292 214h1v1h-1zM250 215h1v1h-1zM253 210h1v1h-1zM252 221h1v1h-1zM263 201h1v1h-1zM288 227h1v1h-1zM270 232h1v1h-1zM255 203h1v1h-1zM286 206h1v1h-1zM288 228h1v1h-1zM252 219h1v1h-1zM286 227h1v1h-1z" fill="#3d8ff0" fill-opacity="0.85"/>
<g>
<path d="M292.5,217.2 L291.2,222.3 L290.0,225.0 L288.3,227.1 L286.2,228.7 L283.7,229.9 L280.6,230.8 L276.7,231.3 L269.3,231.5 L262.1,231.3 L258.3,230.8 L255.6,229.9 L253.6,228.7 L252.1,227.1 L251.3,225.0 L251.1,222.3 L251.9,217.2 L253.2,212.1 L254.4,209.4 L256.1,207.3 L258.2,205.7 L260.7,204.5 L263.8,203.6 L267.7,203.1 L275.1,202.9 L282.3,203.1 L286.1,203.6 L288.8,204.5 L290.8,205.7 L292.3,207.3 L293.1,209.4 L293.3,212.1Z" fill="none" stroke="#5aa8f2" stroke-width="1.6" stroke-opacity="0.7" filter="url(#bl)"/>
<path d="M292.2,217.2 L291.0,222.2 L289.7,224.9 L288.1,226.9 L286.1,228.5 L283.6,229.7 L280.5,230.5 L276.6,231.0 L269.4,231.2 L262.2,231.0 L258.6,230.5 L255.9,229.7 L253.8,228.5 L252.4,226.9 L251.6,224.9 L251.4,222.2 L252.2,217.2 L253.4,212.2 L254.7,209.5 L256.3,207.5 L258.3,205.9 L260.8,204.7 L263.9,203.9 L267.8,203.4 L275.0,203.2 L282.2,203.4 L285.8,203.9 L288.5,204.7 L290.6,205.9 L292.0,207.5 L292.8,209.5 L293.0,212.2Z" fill="#d3e9fc" stroke="#6fb1f3" stroke-width="0.5"/>
<path d="M287.5,217.2 L286.6,221.1 L285.6,223.1 L284.4,224.6 L282.8,225.9 L280.9,226.8 L278.6,227.4 L275.6,227.8 L270.1,227.9 L264.6,227.8 L261.7,227.4 L259.7,226.8 L258.1,225.9 L257.0,224.6 L256.4,223.1 L256.3,221.1 L256.9,217.2 L257.8,213.3 L258.8,211.3 L260.0,209.8 L261.6,208.5 L263.5,207.6 L265.8,207.0 L268.8,206.6 L274.3,206.5 L279.8,206.6 L282.7,207.0 L284.7,207.6 L286.3,208.5 L287.4,209.8 L288.0,211.3 L288.1,213.3Z" fill="#e2f0fd" stroke="#93c6f6" stroke-width="0.5"/>
<path d="M282.9,217.2 L282.2,219.9 L281.6,221.3 L280.7,222.4 L279.6,223.2 L278.3,223.9 L276.6,224.3 L274.6,224.6 L270.7,224.7 L266.9,224.6 L264.9,224.3 L263.5,223.9 L262.4,223.2 L261.6,222.4 L261.2,221.3 L261.1,219.9 L261.5,217.2 L262.2,214.5 L262.8,213.1 L263.7,212.0 L264.8,211.2 L266.1,210.5 L267.8,210.1 L269.8,209.8 L273.7,209.7 L277.5,209.8 L279.5,210.1 L280.9,210.5 L282.0,211.2 L282.8,212.0 L283.2,213.1 L283.3,214.5Z" fill="#edf6fe" stroke="#a9d2f8" stroke-width="0.5"/>
<path d="M278.2,217.2 L277.9,218.7 L277.5,219.5 L277.0,220.1 L276.4,220.6 L275.6,221.0 L274.7,221.2 L273.5,221.4 L271.4,221.4 L269.2,221.4 L268.1,221.2 L267.3,221.0 L266.6,220.6 L266.2,220.1 L266.0,219.5 L265.9,218.7 L266.2,217.2 L266.5,215.7 L266.9,214.9 L267.4,214.3 L268.0,213.8 L268.8,213.4 L269.7,213.2 L270.9,213.0 L273.0,213.0 L275.2,213.0 L276.3,213.2 L277.1,213.4 L277.8,213.8 L278.2,214.3 L278.4,214.9 L278.5,215.7Z" fill="#f6fbff" stroke="#bddcf9" stroke-width="0.5"/>
</g>
<path d="M286 247h1v1h-1zM281 235h1v1h-1zM266 239h1v1h-1zM252 235h1v1h-1zM269 233h1v1h-1zM274 242h1v1h-1zM263 238h1v1h-1zM275 243h1v1h-1zM272 232h1v1h-1zM258 238h1v1h-1zM257 244h1v1h-1zM261 237h1v1h-1zM256 237h1v1h-1zM283 241h1v1h-1zM259 247h1v1h-1zM273 234h1v1h-1zM259 236h1v1h-1zM266 247h1v1h-1zM257 239h1v1h-1zM268 233h1v1h-1zM260 243h1v1h-1zM282 229h1v1h-1zM276 238h1v1h-1zM285 243h1v1h-1zM294 242h1v1h-1zM261 235h1v1h-1zM274 245h1v1h-1zM272 231h1v1h-1zM261 238h1v1h-1zM269 244h1v1h-1zM286 241h1v1h-1zM250 241h1v1h-1zM264 246h1v1h-1zM282 237h1v1h-1zM280 240h1v1h-1zM273 248h1v1h-1zM251 239h1v1h-1zM288 235h1v1h-1zM270 240h1v1h-1zM261 232h1v1h-1zM257 234h1v1h-1zM282 241h1v1h-1zM276 233h1v1h-1zM274 241h1v1h-1zM278 248h1v1h-1zM292 234h1v1h-1zM251 231h1v1h-1zM280 243h1v1h-1zM271 235h1v1h-1zM284 249h1v1h-1zM283 243h1v1h-1zM285 237h1v1h-1zM271 238h1v1h-1zM259 238h1v1h-1zM263 243h1v1h-1zM263 240h1v1h-1zM256 232h1v1h-1zM286 234h1v1h-1zM292 245h1v1h-1zM261 240h1v1h-1zM264 236h1v1h-1zM284 239h1v1h-1zM280 236h1v1h-1zM257 248h1v1h-1zM263 233h1v1h-1zM264 235h1v1h-1zM276 245h1v1h-1zM264 238h1v1h-1zM264 250h1v1h-1zM265 242h1v1h-1zM267 238h1v1h-1zM258 239h1v1h-1zM264 237h1v1h-1zM257 251h1v1h-1zM251 237h1v1h-1zM253 245h1v1h-1zM312 245h1v1h-1zM284 235h1v1h-1zM282 250h1v1h-1zM261 250h1v1h-1zM256 233h1v1h-1zM266 235h1v1h-1zM268 228h1v1h-1zM266 246h1v1h-1zM263 242h1v1h-1zM282 233h1v1h-1zM249 240h1v1h-1zM253 247h1v1h-1zM251 238h1v1h-1zM266 244h1v1h-1zM295 235h1v1h-1zM278 239h1v1h-1zM260 239h1v1h-1zM268 234h1v1h-1zM292 243h1v1h-1zM270 238h1v1h-1zM286 237h1v1h-1zM255 244h1v1h-1zM253 235h1v1h-1zM287 230h1v1h-1zM266 240h1v1h-1zM270 231h1v1h-1zM293 246h1v1h-1zM256 245h1v1h-1zM276 239h1v1h-1zM280 248h1v1h-1zM292 238h1v1h-1zM275 226h1v1h-1z" fill="#3d8ff0" fill-opacity="0.8"/>
<path d="M264 233h1v1h-1zM274 233h1v1h-1zM254 234h1v1h-1zM257 247h1v1h-1zM257 248h1v1h-1zM263 247h1v1h-1zM288 240h1v1h-1zM258 247h1v1h-1zM287 244h1v1h-1zM252 245h1v1h-1zM279 234h1v1h-1zM249 243h1v1h-1zM248 239h1v1h-1zM274 232h1v1h-1zM286 237h1v1h-1zM281 246h1v1h-1zM256 234h1v1h-1zM280 247h1v1h-1zM268 231h1v1h-1zM250 243h1v1h-1zM263 249h1v1h-1zM249 238h1v1h-1zM289 242h1v1h-1zM259 233h1v1h-1zM260 249h1v1h-1zM258 234h1v1h-1zM262 249h1v1h-1zM250 242h1v1h-1zM248 244h1v1h-1zM276 248h1v1h-1zM255 248h1v1h-1zM285 236h1v1h-1zM280 246h1v1h-1zM267 248h1v1h-1zM275 233h1v1h-1zM253 235h1v1h-1zM256 233h1v1h-1zM254 246h1v1h-1zM285 238h1v1h-1zM286 245h1v1h-1zM271 232h1v1h-1zM282 246h1v1h-1zM261 234h1v1h-1zM287 238h1v1h-1zM284 234h1v1h-1zM287 241h1v1h-1zM284 247h1v1h-1zM254 235h1v1h-1zM248 238h1v1h-1zM282 234h1v1h-1zM248 236h1v1h-1zM250 236h1v1h-1zM264 248h1v1h-1zM248 237h1v1h-1zM275 247h1v1h-1zM260 248h1v1h-1zM281 245h1v1h-1zM251 245h1v1h-1zM250 237h1v1h-1zM288 242h1v1h-1zM282 235h1v1h-1zM263 248h1v1h-1zM276 249h1v1h-1zM253 246h1v1h-1zM252 235h1v1h-1zM287 242h1v1h-1zM266 232h1v1h-1zM289 241h1v1h-1zM251 234h1v1h-1zM287 240h1v1h-1zM286 241h1v1h-1zM277 233h1v1h-1zM250 245h1v1h-1zM285 244h1v1h-1zM262 232h1v1h-1zM277 247h1v1h-1zM263 233h1v1h-1zM286 238h1v1h-1zM249 246h1v1h-1zM284 235h1v1h-1zM253 236h1v1h-1zM266 250h1v1h-1z" fill="#3d8ff0" fill-opacity="0.85"/>
<g>
<path d="M286.9,240.6 L286.6,242.9 L285.8,244.4 L284.4,245.7 L282.5,246.7 L280.0,247.5 L277.0,248.1 L273.4,248.5 L268.0,248.6 L262.6,248.5 L259.0,248.1 L256.0,247.5 L253.5,246.7 L251.6,245.7 L250.2,244.4 L249.4,242.9 L249.1,240.6 L249.4,238.3 L250.2,236.8 L251.6,235.5 L253.5,234.5 L256.0,233.7 L259.0,233.1 L262.6,232.7 L268.0,232.6 L273.4,232.7 L277.0,233.1 L280.0,233.7 L282.5,234.5 L284.4,235.5 L285.8,236.8 L286.6,238.3Z" fill="none" stroke="#5aa8f2" stroke-width="1.6" stroke-opacity="0.7" filter="url(#bl)"/>
<path d="M286.6,240.6 L286.3,242.8 L285.5,244.3 L284.1,245.5 L282.2,246.5 L279.8,247.3 L276.9,247.8 L273.3,248.2 L268.0,248.3 L262.7,248.2 L259.1,247.8 L256.2,247.3 L253.8,246.5 L251.9,245.5 L250.5,244.3 L249.7,242.8 L249.4,240.6 L249.7,238.4 L250.5,236.9 L251.9,235.7 L253.8,234.7 L256.2,233.9 L259.1,233.4 L262.7,233.0 L268.0,232.9 L273.3,233.0 L276.9,233.4 L279.8,233.9 L282.2,234.7 L284.1,235.7 L285.5,236.9 L286.3,238.4Z" fill="#d3e9fc" stroke="#6fb1f3" stroke-width="0.5"/>
<path d="M282.3,240.6 L282.1,242.3 L281.4,243.4 L280.4,244.4 L278.9,245.1 L277.1,245.7 L274.8,246.2 L272.1,246.4 L268.0,246.5 L263.9,246.4 L261.2,246.2 L258.9,245.7 L257.1,245.1 L255.6,244.4 L254.6,243.4 L253.9,242.3 L253.7,240.6 L253.9,238.9 L254.6,237.8 L255.6,236.8 L257.1,236.1 L258.9,235.5 L261.2,235.0 L263.9,234.8 L268.0,234.7 L272.1,234.8 L274.8,235.0 L277.1,235.5 L278.9,236.1 L280.4,236.8 L281.4,237.8 L282.1,238.9Z" fill="#e2f0fd" stroke="#93c6f6" stroke-width="0.5"/>
<path d="M277.9,240.6 L277.8,241.8 L277.4,242.6 L276.6,243.2 L275.6,243.8 L274.3,244.2 L272.8,244.5 L270.8,244.7 L268.0,244.7 L265.2,244.7 L263.2,244.5 L261.7,244.2 L260.4,243.8 L259.4,243.2 L258.6,242.6 L258.2,241.8 L258.1,240.6 L258.2,239.4 L258.6,238.6 L259.4,238.0 L260.4,237.4 L261.7,237.0 L263.2,236.7 L265.2,236.5 L268.0,236.5 L270.8,236.5 L272.8,236.7 L274.3,237.0 L275.6,237.4 L276.6,238.0 L277.4,238.6 L277.8,239.4Z" fill="#edf6fe" stroke="#a9d2f8" stroke-width="0.5"/>
<path d="M273.6,240.6 L273.5,241.3 L273.3,241.7 L272.9,242.1 L272.3,242.4 L271.6,242.6 L270.7,242.8 L269.6,242.9 L268.0,242.9 L266.4,242.9 L265.3,242.8 L264.4,242.6 L263.7,242.4 L263.1,242.1 L262.7,241.7 L262.5,241.3 L262.4,240.6 L262.5,239.9 L262.7,239.5 L263.1,239.1 L263.7,238.8 L264.4,238.6 L265.3,238.4 L266.4,238.3 L268.0,238.3 L269.6,238.3 L270.7,238.4 L271.6,238.6 L272.3,238.8 L272.9,239.1 L273.3,239.5 L273.5,239.9Z" fill="#f6fbff" stroke="#bddcf9" stroke-width="0.5"/>
</g>
</g>
<clipPath id="cp247_184"><rect x="247.2" y="184.2" width="68" height="68"/></clipPath>
<rect x="259.40" y="201.70" width="36.40" height="28.50" stroke="#222" stroke-width="1.4" fill="none"/>
<rect x="259.40" y="232.40" width="36.40" height="17.70" stroke="#222" stroke-width="1.4" fill="none"/>
<rect x="247.20" y="278.50" width="68.00" height="68.00" stroke="#9a9a9a" stroke-width="0.8" fill="none"/>
<line x1="246.40" y1="284.17" x2="247.20" y2="284.17" stroke="#888" stroke-width="0.5"/>
<line x1="246.40" y1="289.83" x2="247.20" y2="289.83" stroke="#888" stroke-width="0.5"/>
<line x1="245.70" y1="295.50" x2="247.20" y2="295.50" stroke="#888" stroke-width="0.5"/>
<line x1="246.40" y1="301.17" x2="247.20" y2="301.17" stroke="#888" stroke-width="0.5"/>
<line x1="246.40" y1="306.83" x2="247.20" y2="306.83" stroke="#888" stroke-width="0.5"/>
<line x1="245.70" y1="312.50" x2="247.20" y2="312.50" stroke="#888" stroke-width="0.5"/>
<line x1="246.40" y1="318.17" x2="247.20" y2="318.17" stroke="#888" stroke-width="0.5"/>
<line x1="246.40" y1="323.83" x2="247.20" y2="323.83" stroke="#888" stroke-width="0.5"/>
<line x1="245.70" y1="329.50" x2="247.20" y2="329.50" stroke="#888" stroke-width="0.5"/>
<line x1="246.40" y1="335.17" x2="247.20" y2="335.17" stroke="#888" stroke-width="0.5"/>
<line x1="246.40" y1="340.83" x2="247.20" y2="340.83" stroke="#888" stroke-width="0.5"/>
<line x1="252.87" y1="346.50" x2="252.87" y2="347.30" stroke="#888" stroke-width="0.5"/>
<line x1="258.53" y1="346.50" x2="258.53" y2="347.30" stroke="#888" stroke-width="0.5"/>
<line x1="264.20" y1="346.50" x2="264.20" y2="348.00" stroke="#888" stroke-width="0.5"/>
<line x1="269.87" y1="346.50" x2="269.87" y2="347.30" stroke="#888" stroke-width="0.5"/>
<line x1="275.53" y1="346.50" x2="275.53" y2="347.30" stroke="#888" stroke-width="0.5"/>
<line x1="281.20" y1="346.50" x2="281.20" y2="348.00" stroke="#888" stroke-width="0.5"/>
<line x1="286.87" y1="346.50" x2="286.87" y2="347.30" stroke="#888" stroke-width="0.5"/>
<line x1="292.53" y1="346.50" x2="292.53" y2="347.30" stroke="#888" stroke-width="0.5"/>
<line x1="298.20" y1="346.50" x2="298.20" y2="348.00" stroke="#888" stroke-width="0.5"/>
<line x1="303.87" y1="346.50" x2="303.87" y2="347.30" stroke="#888" stroke-width="0.5"/>
<line x1="309.53" y1="346.50" x2="309.53" y2="347.30" stroke="#888" stroke-width="0.5"/>
<g clip-path="url(#cp247_278)">
<path d="M266 322h1v1h-1zM276 320h1v1h-1zM266 323h1v1h-1zM265 303h1v1h-1zM281 317h1v1h-1zM266 293h1v1h-1zM274 315h1v1h-1zM279 309h1v1h-1zM280 315h1v1h-1zM275 318h1v1h-1zM274 324h1v1h-1zM290 308h1v1h-1zM270 303h1v1h-1zM272 324h1v1h-1zM275 302h1v1h-1zM276 300h1v1h-1zM286 325h1v1h-1zM288 328h1v1h-1zM272 304h1v1h-1zM276 317h1v1h-1zM281 293h1v1h-1zM274 317h1v1h-1zM274 313h1v1h-1zM262 293h1v1h-1zM286 297h1v1h-1zM277 305h1v1h-1zM281 320h1v1h-1zM272 307h1v1h-1zM282 297h1v1h-1zM280 303h1v1h-1zM289 311h1v1h-1zM279 321h1v1h-1zM277 289h1v1h-1zM272 314h1v1h-1zM282 315h1v1h-1zM284 320h1v1h-1zM270 321h1v1h-1zM281 307h1v1h-1zM278 305h1v1h-1zM297 306h1v1h-1zM281 309h1v1h-1zM276 299h1v1h-1zM277 324h1v1h-1zM285 307h1v1h-1zM293 297h1v1h-1zM266 308h1v1h-1zM275 319h1v1h-1zM292 314h1v1h-1zM276 306h1v1h-1zM282 293h1v1h-1zM282 298h1v1h-1zM273 314h1v1h-1zM271 306h1v1h-1zM273 301h1v1h-1zM280 310h1v1h-1zM274 316h1v1h-1zM274 305h1v1h-1zM295 323h1v1h-1zM278 316h1v1h-1zM278 319h1v1h-1zM277 330h1v1h-1zM282 322h1v1h-1zM291 318h1v1h-1zM279 310h1v1h-1zM282 304h1v1h-1zM280 312h1v1h-1zM268 332h1v1h-1zM275 324h1v1h-1zM296 323h1v1h-1zM278 310h1v1h-1zM284 318h1v1h-1zM290 305h1v1h-1zM292 296h1v1h-1zM271 330h1v1h-1zM288 299h1v1h-1zM278 314h1v1h-1zM293 300h1v1h-1zM287 308h1v1h-1zM276 308h1v1h-1zM293 327h1v1h-1zM280 298h1v1h-1zM275 308h1v1h-1zM288 297h1v1h-1zM281 324h1v1h-1zM283 312h1v1h-1zM291 313h1v1h-1zM285 315h1v1h-1zM298 300h1v1h-1zM293 312h1v1h-1zM272 312h1v1h-1zM278 326h1v1h-1zM273 322h1v1h-1zM286 298h1v1h-1zM279 308h1v1h-1zM298 310h1v1h-1zM276 322h1v1h-1zM262 308h1v1h-1zM292 326h1v1h-1zM264 330h1v1h-1zM286 313h1v1h-1zM295 309h1v1h-1zM269 328h1v1h-1zM269 338h1v1h-1zM278 298h1v1h-1zM272 308h1v1h-1zM271 301h1v1h-1zM279 315h1v1h-1zM286 324h1v1h-1zM264 308h1v1h-1zM266 300h1v1h-1zM278 312h1v1h-1zM278 288h1v1h-1zM287 316h1v1h-1zM288 320h1v1h-1zM282 314h1v1h-1zM277 318h1v1h-1zM263 318h1v1h-1zM274 322h1v1h-1zM275 290h1v1h-1zM285 298h1v1h-1zM275 314h1v1h-1zM279 313h1v1h-1zM283 316h1v1h-1zM273 328h1v1h-1zM292 308h1v1h-1zM289 330h1v1h-1z" fill="#2f7ff0" fill-opacity="0.8"/>
<path d="M268 307h1v1h-1zM267 319h1v1h-1zM270 305h1v1h-1zM264 310h1v1h-1zM263 314h1v1h-1zM278 313h1v1h-1zM276 318h1v1h-1zM277 308h1v1h-1zM273 305h1v1h-1zM268 318h1v1h-1zM266 308h1v1h-1zM265 318h1v1h-1zM278 311h1v1h-1zM268 319h1v1h-1zM266 307h1v1h-1zM276 308h1v1h-1zM278 312h1v1h-1zM270 307h1v1h-1zM276 317h1v1h-1zM265 308h1v1h-1zM277 315h1v1h-1zM265 317h1v1h-1zM264 309h1v1h-1zM274 320h1v1h-1zM277 318h1v1h-1zM275 317h1v1h-1zM266 319h1v1h-1zM277 312h1v1h-1zM271 320h1v1h-1zM263 313h1v1h-1zM264 314h1v1h-1zM268 306h1v1h-1zM277 317h1v1h-1zM273 306h1v1h-1zM276 307h1v1h-1zM275 307h1v1h-1zM267 307h1v1h-1zM278 317h1v1h-1zM278 315h1v1h-1zM277 309h1v1h-1zM271 305h1v1h-1zM275 318h1v1h-1zM271 319h1v1h-1zM265 307h1v1h-1zM272 306h1v1h-1zM264 313h1v1h-1zM271 306h1v1h-1z" fill="#3d8ff0" fill-opacity="0.85"/>
<g>
<ellipse cx="271.2" cy="313.2" rx="7.30" ry="7.30" fill="none" stroke="#5aa8f2" stroke-width="1.6" stroke-opacity="0.7" filter="url(#bl)"/>
<ellipse cx="271.2" cy="313.2" rx="7.00" ry="7.00" fill="#7dbcf5" stroke="#4a9ff0" stroke-width="0.5"/>
<ellipse cx="271.2" cy="313.2" rx="5.37" ry="5.37" fill="#98caf7" stroke="#6fb1f3" stroke-width="0.5"/>
<ellipse cx="271.2" cy="313.2" rx="3.74" ry="3.74" fill="#b8dbf9" stroke="#8cc3f6" stroke-width="0.5"/>
<ellipse cx="271.2" cy="313.2" rx="2.12" ry="2.12" fill="#d8ebfc" stroke="#a9d2f8" stroke-width="0.5"/>
</g>
<path d="M263 321h1v1h-1zM273 327h1v1h-1zM276 318h1v1h-1zM269 317h1v1h-1zM263 319h1v1h-1zM264 320h1v1h-1zM268 317h1v1h-1zM276 319h1v1h-1zM267 317h1v1h-1zM277 325h1v1h-1zM265 326h1v1h-1zM263 322h1v1h-1zM270 316h1v1h-1zM274 326h1v1h-1zM265 318h1v1h-1zM273 317h1v1h-1zM274 317h1v1h-1zM264 324h1v1h-1zM270 317h1v1h-1zM278 319h1v1h-1zM266 326h1v1h-1zM266 318h1v1h-1zM264 325h1v1h-1zM266 327h1v1h-1zM279 323h1v1h-1zM269 327h1v1h-1zM276 326h1v1h-1zM278 321h1v1h-1zM278 324h1v1h-1zM269 326h1v1h-1zM271 316h1v1h-1zM271 327h1v1h-1zM278 323h1v1h-1zM274 327h1v1h-1zM275 327h1v1h-1zM279 321h1v1h-1zM262 321h1v1h-1zM269 318h1v1h-1z" fill="#3d8ff0" fill-opacity="0.85"/>
<g>
<ellipse cx="271.2" cy="322.5" rx="8.30" ry="5.30" fill="none" stroke="#5aa8f2" stroke-width="1.6" stroke-opacity="0.7" filter="url(#bl)"/>
<ellipse cx="271.2" cy="322.5" rx="8.00" ry="5.00" fill="#d3e9fc" stroke="#6fb1f3" stroke-width="0.5"/>
<ellipse cx="271.2" cy="322.5" rx="5.58" ry="3.48" fill="#e2f0fd" stroke="#93c6f6" stroke-width="0.5"/>
<ellipse cx="271.2" cy="322.5" rx="3.15" ry="1.97" fill="#edf6fe" stroke="#a9d2f8" stroke-width="0.5"/>
</g>
<path d="M273 341h1v1h-1zM265 341h1v1h-1zM263 326h1v1h-1zM276 340h1v1h-1zM253 335h1v1h-1zM267 341h1v1h-1zM262 328h1v1h-1zM262 327h1v1h-1zM284 334h1v1h-1zM259 339h1v1h-1zM254 333h1v1h-1zM260 329h1v1h-1zM252 333h1v1h-1zM281 335h1v1h-1zM254 332h1v1h-1zM255 339h1v1h-1zM270 341h1v1h-1zM280 329h1v1h-1zM253 336h1v1h-1zM253 333h1v1h-1zM267 327h1v1h-1zM275 340h1v1h-1zM281 332h1v1h-1zM260 340h1v1h-1zM279 338h1v1h-1zM279 330h1v1h-1zM260 328h1v1h-1zM268 327h1v1h-1zM279 340h1v1h-1zM255 330h1v1h-1zM274 341h1v1h-1zM265 327h1v1h-1zM270 326h1v1h-1zM258 328h1v1h-1zM270 327h1v1h-1zM282 335h1v1h-1zM281 337h1v1h-1zM255 337h1v1h-1zM280 337h1v1h-1zM252 334h1v1h-1zM282 331h1v1h-1zM277 340h1v1h-1zM270 340h1v1h-1zM283 331h1v1h-1zM252 331h1v1h-1zM259 328h1v1h-1zM283 334h1v1h-1zM278 339h1v1h-1zM273 327h1v1h-1zM261 328h1v1h-1zM254 338h1v1h-1zM257 339h1v1h-1zM282 337h1v1h-1zM255 332h1v1h-1zM256 330h1v1h-1zM254 337h1v1h-1zM282 333h1v1h-1zM274 327h1v1h-1zM264 328h1v1h-1zM272 341h1v1h-1zM274 340h1v1h-1zM284 335h1v1h-1zM280 328h1v1h-1zM284 332h1v1h-1zM255 329h1v1h-1zM255 336h1v1h-1zM278 328h1v1h-1zM254 331h1v1h-1zM283 333h1v1h-1z" fill="#3d8ff0" fill-opacity="0.85"/>
<g>
<ellipse cx="268.2" cy="334.5" rx="15.30" ry="7.30" fill="none" stroke="#5aa8f2" stroke-width="1.6" stroke-opacity="0.7" filter="url(#bl)"/>
<ellipse cx="268.2" cy="334.5" rx="15.00" ry="7.00" fill="#7dbcf5" stroke="#4a9ff0" stroke-width="0.5"/>
<ellipse cx="268.2" cy="334.5" rx="11.51" ry="5.37" fill="#98caf7" stroke="#6fb1f3" stroke-width="0.5"/>
<ellipse cx="268.2" cy="334.5" rx="8.02" ry="3.74" fill="#b8dbf9" stroke="#8cc3f6" stroke-width="0.5"/>
<ellipse cx="268.2" cy="334.5" rx="4.53" ry="2.12" fill="#d8ebfc" stroke="#a9d2f8" stroke-width="0.5"/>
</g>
<path d="M252 334h1v1h-1zM260 337h1v1h-1zM259 338h1v1h-1zM260 330h1v1h-1zM251 331h1v1h-1zM261 330h1v1h-1zM252 335h1v1h-1zM257 338h1v1h-1zM259 329h1v1h-1zM261 334h1v1h-1zM254 337h1v1h-1zM262 332h1v1h-1zM252 331h1v1h-1zM258 338h1v1h-1zM257 328h1v1h-1zM261 331h1v1h-1zM252 332h1v1h-1zM261 335h1v1h-1zM253 329h1v1h-1zM256 328h1v1h-1zM253 331h1v1h-1zM262 333h1v1h-1zM254 338h1v1h-1zM258 329h1v1h-1zM252 333h1v1h-1zM260 336h1v1h-1zM261 336h1v1h-1z" fill="#3d8ff0" fill-opacity="0.85"/>
<g>
<ellipse cx="257.2" cy="333.5" rx="5.30" ry="5.30" fill="none" stroke="#5aa8f2" stroke-width="1.6" stroke-opacity="0.7" filter="url(#bl)"/>
<ellipse cx="257.2" cy="333.5" rx="5.00" ry="5.00" fill="#7dbcf5" stroke="#4a9ff0" stroke-width="0.5"/>
<ellipse cx="257.2" cy="333.5" rx="3.48" ry="3.48" fill="#98caf7" stroke="#6fb1f3" stroke-width="0.5"/>
<ellipse cx="257.2" cy="333.5" rx="1.97" ry="1.97" fill="#b8dbf9" stroke="#8cc3f6" stroke-width="0.5"/>
</g>
</g>
<clipPath id="cp247_278"><rect x="247.2" y="278.5" width="68" height="68"/></clipPath>
<rect x="261.60" y="295.50" width="38.10" height="49.70" stroke="#222" stroke-width="1.4" fill="none"/>
<line x1="261.60" y1="328.00" x2="299.70" y2="328.00" stroke="#222" stroke-width="1.6"/>
<rect x="320.00" y="184.20" width="68.00" height="68.00" stroke="#9a9a9a" stroke-width="0.8" fill="none"/>
<line x1="319.20" y1="189.87" x2="320.00" y2="189.87" stroke="#888" stroke-width="0.5"/>
<line x1="319.20" y1="195.53" x2="320.00" y2="195.53" stroke="#888" stroke-width="0.5"/>
<line x1="318.50" y1="201.20" x2="320.00" y2="201.20" stroke="#888" stroke-width="0.5"/>
<line x1="319.20" y1="206.87" x2="320.00" y2="206.87" stroke="#888" stroke-width="0.5"/>
<line x1="319.20" y1="212.53" x2="320.00" y2="212.53" stroke="#888" stroke-width="0.5"/>
<line x1="318.50" y1="218.20" x2="320.00" y2="218.20" stroke="#888" stroke-width="0.5"/>
<line x1="319.20" y1="223.87" x2="320.00" y2="223.87" stroke="#888" stroke-width="0.5"/>
<line x1="319.20" y1="229.53" x2="320.00" y2="229.53" stroke="#888" stroke-width="0.5"/>
<line x1="318.50" y1="235.20" x2="320.00" y2="235.20" stroke="#888" stroke-width="0.5"/>
<line x1="319.20" y1="240.87" x2="320.00" y2="240.87" stroke="#888" stroke-width="0.5"/>
<line x1="319.20" y1="246.53" x2="320.00" y2="246.53" stroke="#888" stroke-width="0.5"/>
<line x1="325.67" y1="252.20" x2="325.67" y2="253.00" stroke="#888" stroke-width="0.5"/>
<line x1="331.33" y1="252.20" x2="331.33" y2="253.00" stroke="#888" stroke-width="0.5"/>
<line x1="337.00" y1="252.20" x2="337.00" y2="253.70" stroke="#888" stroke-width="0.5"/>
<line x1="342.67" y1="252.20" x2="342.67" y2="253.00" stroke="#888" stroke-width="0.5"/>
<line x1="348.33" y1="252.20" x2="348.33" y2="253.00" stroke="#888" stroke-width="0.5"/>
<line x1="354.00" y1="252.20" x2="354.00" y2="253.70" stroke="#888" stroke-width="0.5"/>
<line x1="359.67" y1="252.20" x2="359.67" y2="253.00" stroke="#888" stroke-width="0.5"/>
<line x1="365.33" y1="252.20" x2="365.33" y2="253.00" stroke="#888" stroke-width="0.5"/>
<line x1="371.00" y1="252.20" x2="371.00" y2="253.70" stroke="#888" stroke-width="0.5"/>
<line x1="376.67" y1="252.20" x2="376.67" y2="253.00" stroke="#888" stroke-width="0.5"/>
<line x1="382.33" y1="252.20" x2="382.33" y2="253.00" stroke="#888" stroke-width="0.5"/>
<g clip-path="url(#cp320_184)">
<path d="M332 223h1v1h-1zM368 220h1v1h-1zM349 192h1v1h-1zM352 219h1v1h-1zM354 217h1v1h-1zM336 217h1v1h-1zM345 216h1v1h-1zM357 218h1v1h-1zM342 209h1v1h-1zM324 228h1v1h-1zM343 223h1v1h-1zM351 216h1v1h-1zM352 216h1v1h-1zM366 212h1v1h-1zM344 215h1v1h-1zM351 226h1v1h-1zM338 198h1v1h-1zM352 220h1v1h-1zM354 209h1v1h-1zM335 204h1v1h-1zM344 210h1v1h-1zM345 207h1v1h-1zM321 223h1v1h-1zM351 223h1v1h-1zM362 204h1v1h-1zM356 207h1v1h-1zM339 228h1v1h-1zM343 214h1v1h-1zM351 218h1v1h-1zM344 230h1v1h-1zM334 207h1v1h-1zM322 207h1v1h-1zM334 212h1v1h-1zM342 226h1v1h-1zM356 212h1v1h-1zM348 211h1v1h-1zM343 215h1v1h-1zM371 207h1v1h-1zM333 219h1v1h-1zM335 209h1v1h-1zM350 208h1v1h-1zM363 220h1v1h-1zM340 215h1v1h-1zM338 226h1v1h-1zM347 217h1v1h-1zM336 227h1v1h-1zM346 211h1v1h-1zM365 218h1v1h-1zM341 222h1v1h-1zM358 207h1v1h-1zM351 208h1v1h-1zM333 213h1v1h-1zM335 217h1v1h-1zM345 217h1v1h-1zM348 208h1v1h-1zM342 217h1v1h-1zM361 218h1v1h-1zM347 230h1v1h-1zM341 225h1v1h-1zM354 207h1v1h-1zM346 221h1v1h-1zM332 226h1v1h-1zM340 219h1v1h-1zM343 218h1v1h-1zM337 227h1v1h-1zM356 216h1v1h-1zM342 207h1v1h-1zM336 207h1v1h-1zM334 208h1v1h-1zM359 221h1v1h-1zM340 208h1v1h-1zM344 219h1v1h-1zM338 214h1v1h-1zM358 213h1v1h-1zM341 224h1v1h-1zM345 215h1v1h-1zM334 223h1v1h-1zM349 213h1v1h-1zM344 225h1v1h-1zM345 214h1v1h-1zM347 216h1v1h-1zM357 213h1v1h-1zM341 210h1v1h-1zM347 206h1v1h-1zM339 204h1v1h-1zM344 214h1v1h-1zM343 211h1v1h-1zM365 217h1v1h-1zM364 229h1v1h-1zM347 208h1v1h-1zM351 209h1v1h-1zM365 214h1v1h-1zM374 215h1v1h-1zM356 210h1v1h-1zM341 235h1v1h-1zM335 219h1v1h-1zM353 219h1v1h-1zM364 218h1v1h-1zM343 219h1v1h-1zM347 214h1v1h-1zM352 210h1v1h-1zM351 213h1v1h-1zM345 213h1v1h-1zM341 205h1v1h-1zM331 219h1v1h-1zM342 223h1v1h-1zM369 212h1v1h-1zM327 225h1v1h-1zM353 227h1v1h-1zM349 217h1v1h-1zM347 225h1v1h-1zM346 212h1v1h-1zM354 223h1v1h-1zM353 223h1v1h-1zM346 210h1v1h-1zM350 213h1v1h-1zM351 210h1v1h-1zM354 222h1v1h-1zM328 223h1v1h-1zM323 224h1v1h-1zM342 215h1v1h-1zM347 209h1v1h-1zM345 238h1v1h-1zM347 210h1v1h-1zM373 222h1v1h-1zM348 218h1v1h-1zM329 212h1v1h-1zM334 227h1v1h-1zM359 216h1v1h-1zM333 204h1v1h-1zM338 208h1v1h-1zM347 204h1v1h-1zM348 215h1v1h-1zM335 213h1v1h-1zM336 229h1v1h-1zM330 217h1v1h-1zM335 211h1v1h-1zM357 214h1v1h-1zM345 200h1v1h-1zM339 229h1v1h-1zM356 194h1v1h-1zM328 214h1v1h-1zM328 216h1v1h-1zM334 226h1v1h-1zM362 224h1v1h-1zM333 217h1v1h-1zM360 209h1v1h-1zM345 208h1v1h-1zM344 231h1v1h-1zM343 221h1v1h-1zM365 209h1v1h-1zM357 205h1v1h-1zM339 212h1v1h-1zM364 207h1v1h-1zM362 206h1v1h-1zM347 221h1v1h-1zM346 231h1v1h-1zM344 223h1v1h-1zM324 200h1v1h-1zM370 207h1v1h-1zM359 219h1v1h-1zM337 210h1v1h-1zM352 212h1v1h-1zM357 217h1v1h-1zM343 228h1v1h-1zM345 206h1v1h-1zM340 212h1v1h-1zM366 221h1v1h-1zM338 211h1v1h-1zM370 211h1v1h-1zM336 213h1v1h-1zM347 212h1v1h-1zM343 210h1v1h-1zM366 208h1v1h-1zM362 216h1v1h-1zM335 229h1v1h-1zM351 207h1v1h-1zM341 212h1v1h-1zM333 216h1v1h-1zM346 225h1v1h-1zM343 203h1v1h-1zM361 223h1v1h-1zM337 225h1v1h-1zM355 218h1v1h-1zM341 219h1v1h-1zM338 216h1v1h-1zM350 220h1v1h-1zM352 199h1v1h-1zM341 218h1v1h-1zM355 209h1v1h-1zM359 209h1v1h-1zM361 217h1v1h-1zM349 206h1v1h-1zM337 217h1v1h-1zM349 214h1v1h-1zM343 225h1v1h-1zM338 220h1v1h-1zM357 219h1v1h-1zM348 207h1v1h-1zM366 226h1v1h-1zM336 210h1v1h-1zM334 205h1v1h-1zM345 209h1v1h-1zM347 219h1v1h-1zM338 207h1v1h-1zM357 222h1v1h-1zM344 209h1v1h-1zM351 217h1v1h-1zM339 210h1v1h-1zM348 205h1v1h-1zM337 222h1v1h-1zM356 220h1v1h-1zM362 214h1v1h-1zM339 216h1v1h-1zM357 209h1v1h-1zM369 224h1v1h-1zM331 210h1v1h-1zM345 212h1v1h-1zM351 219h1v1h-1zM338 213h1v1h-1zM347 213h1v1h-1zM337 216h1v1h-1zM363 231h1v1h-1zM355 214h1v1h-1zM333 214h1v1h-1zM350 204h1v1h-1zM340 218h1v1h-1zM334 218h1v1h-1zM335 230h1v1h-1zM344 212h1v1h-1zM340 220h1v1h-1zM329 218h1v1h-1zM346 215h1v1h-1zM345 219h1v1h-1zM366 205h1v1h-1zM330 218h1v1h-1zM353 212h1v1h-1zM348 220h1v1h-1zM360 208h1v1h-1zM350 224h1v1h-1zM348 216h1v1h-1zM349 212h1v1h-1zM351 212h1v1h-1zM348 214h1v1h-1zM322 214h1v1h-1zM330 201h1v1h-1zM349 222h1v1h-1zM362 228h1v1h-1zM332 220h1v1h-1zM336 202h1v1h-1zM353 220h1v1h-1zM348 226h1v1h-1zM368 213h1v1h-1zM357 226h1v1h-1zM344 213h1v1h-1zM345 230h1v1h-1zM354 227h1v1h-1z" fill="#6ab0f3" fill-opacity="0.8"/>
<path d="M329 209h1v1h-1zM341 228h1v1h-1zM363 215h1v1h-1zM325 211h1v1h-1zM333 224h1v1h-1zM339 205h1v1h-1zM362 218h1v1h-1zM338 205h1v1h-1zM360 223h1v1h-1zM362 221h1v1h-1zM356 207h1v1h-1zM328 223h1v1h-1zM329 221h1v1h-1zM353 226h1v1h-1zM358 207h1v1h-1zM360 209h1v1h-1zM336 206h1v1h-1zM339 206h1v1h-1zM352 206h1v1h-1zM332 208h1v1h-1zM363 212h1v1h-1zM333 207h1v1h-1zM339 228h1v1h-1zM327 217h1v1h-1zM326 216h1v1h-1zM343 206h1v1h-1zM358 209h1v1h-1zM345 205h1v1h-1zM349 228h1v1h-1zM334 206h1v1h-1zM334 226h1v1h-1zM330 224h1v1h-1zM345 206h1v1h-1zM331 219h1v1h-1zM361 211h1v1h-1zM329 208h1v1h-1zM365 220h1v1h-1zM359 224h1v1h-1zM346 205h1v1h-1zM367 216h1v1h-1zM334 205h1v1h-1zM327 218h1v1h-1zM355 205h1v1h-1zM361 222h1v1h-1zM333 225h1v1h-1zM354 226h1v1h-1zM327 220h1v1h-1zM362 223h1v1h-1zM343 204h1v1h-1zM362 225h1v1h-1zM333 208h1v1h-1zM328 213h1v1h-1zM328 218h1v1h-1zM355 206h1v1h-1zM336 226h1v1h-1zM360 207h1v1h-1zM326 215h1v1h-1zM328 221h1v1h-1zM356 206h1v1h-1zM328 219h1v1h-1zM363 222h1v1h-1zM351 226h1v1h-1zM337 228h1v1h-1zM346 206h1v1h-1zM364 216h1v1h-1zM328 211h1v1h-1zM337 206h1v1h-1zM359 225h1v1h-1zM363 220h1v1h-1zM363 216h1v1h-1zM344 204h1v1h-1zM349 205h1v1h-1zM362 210h1v1h-1zM331 208h1v1h-1zM366 216h1v1h-1zM327 219h1v1h-1zM327 214h1v1h-1zM331 210h1v1h-1zM338 227h1v1h-1zM331 222h1v1h-1zM356 226h1v1h-1zM330 212h1v1h-1zM345 204h1v1h-1zM352 205h1v1h-1zM337 229h1v1h-1zM361 214h1v1h-1zM329 210h1v1h-1zM351 207h1v1h-1zM350 229h1v1h-1zM362 219h1v1h-1zM331 223h1v1h-1zM350 206h1v1h-1zM336 227h1v1h-1zM357 207h1v1h-1zM357 225h1v1h-1z" fill="#3d8ff0" fill-opacity="0.85"/>
<g transform="rotate(-8 346.0 216.7)">
<path d="M363.3,216.7 L363.0,219.9 L362.3,222.1 L361.0,223.9 L359.3,225.4 L357.0,226.5 L354.3,227.3 L350.9,227.8 L346.0,228.0 L341.1,227.8 L337.7,227.3 L335.0,226.5 L332.7,225.4 L331.0,223.9 L329.7,222.1 L329.0,219.9 L328.7,216.7 L329.0,213.5 L329.7,211.3 L331.0,209.5 L332.7,208.0 L335.0,206.9 L337.7,206.1 L341.1,205.6 L346.0,205.4 L350.9,205.6 L354.3,206.1 L357.0,206.9 L359.3,208.0 L361.0,209.5 L362.3,211.3 L363.0,213.5Z" fill="none" stroke="#5aa8f2" stroke-width="1.6" stroke-opacity="0.7" filter="url(#bl)"/>
<path d="M363.0,216.7 L362.7,219.8 L362.0,222.0 L360.8,223.7 L359.0,225.1 L356.8,226.2 L354.1,227.1 L350.8,227.5 L346.0,227.7 L341.2,227.5 L337.9,227.1 L335.2,226.2 L333.0,225.1 L331.2,223.7 L330.0,222.0 L329.3,219.8 L329.0,216.7 L329.3,213.6 L330.0,211.4 L331.2,209.7 L333.0,208.3 L335.2,207.2 L337.9,206.3 L341.2,205.9 L346.0,205.7 L350.8,205.9 L354.1,206.3 L356.8,207.2 L359.0,208.3 L360.8,209.7 L362.0,211.4 L362.7,213.6Z" fill="#d3e9fc" stroke="#6fb1f3" stroke-width="0.5"/>
<path d="M359.0,216.7 L358.9,219.1 L358.3,220.7 L357.3,222.1 L356.0,223.2 L354.3,224.0 L352.2,224.6 L349.7,225.0 L346.0,225.1 L342.3,225.0 L339.8,224.6 L337.7,224.0 L336.0,223.2 L334.7,222.1 L333.7,220.7 L333.1,219.1 L333.0,216.7 L333.1,214.3 L333.7,212.7 L334.7,211.3 L336.0,210.2 L337.7,209.4 L339.8,208.8 L342.3,208.4 L346.0,208.3 L349.7,208.4 L352.2,208.8 L354.3,209.4 L356.0,210.2 L357.3,211.3 L358.3,212.7 L358.9,214.3Z" fill="#e2f0fd" stroke="#93c6f6" stroke-width="0.5"/>
<path d="M355.1,216.7 L355.0,218.4 L354.6,219.5 L353.9,220.4 L353.0,221.2 L351.8,221.8 L350.3,222.2 L348.6,222.5 L346.0,222.6 L343.4,222.5 L341.7,222.2 L340.2,221.8 L339.0,221.2 L338.1,220.4 L337.4,219.5 L337.0,218.4 L336.9,216.7 L337.0,215.0 L337.4,213.9 L338.1,213.0 L339.0,212.2 L340.2,211.6 L341.7,211.2 L343.4,210.9 L346.0,210.8 L348.6,210.9 L350.3,211.2 L351.8,211.6 L353.0,212.2 L353.9,213.0 L354.6,213.9 L355.0,215.0Z" fill="#edf6fe" stroke="#a9d2f8" stroke-width="0.5"/>
<path d="M351.1,216.7 L351.1,217.6 L350.8,218.3 L350.5,218.8 L349.9,219.2 L349.3,219.6 L348.5,219.8 L347.5,220.0 L346.0,220.0 L344.5,220.0 L343.5,219.8 L342.7,219.6 L342.1,219.2 L341.5,218.8 L341.2,218.3 L340.9,217.6 L340.9,216.7 L340.9,215.8 L341.2,215.1 L341.5,214.6 L342.1,214.2 L342.7,213.8 L343.5,213.6 L344.5,213.4 L346.0,213.4 L347.5,213.4 L348.5,213.6 L349.3,213.8 L349.9,214.2 L350.5,214.6 L350.8,215.1 L351.1,215.8Z" fill="#f6fbff" stroke="#bddcf9" stroke-width="0.5"/>
</g>
<path d="M326 244h1v1h-1zM327 237h1v1h-1zM332 230h1v1h-1zM326 245h1v1h-1zM334 235h1v1h-1zM322 234h1v1h-1zM330 232h1v1h-1zM332 232h1v1h-1zM330 239h1v1h-1zM326 247h1v1h-1zM329 240h1v1h-1zM336 235h1v1h-1zM330 242h1v1h-1zM328 237h1v1h-1zM327 241h1v1h-1zM328 243h1v1h-1zM322 238h1v1h-1zM333 232h1v1h-1zM331 237h1v1h-1zM332 235h1v1h-1zM327 232h1v1h-1zM331 236h1v1h-1zM327 235h1v1h-1zM333 238h1v1h-1zM332 234h1v1h-1zM326 241h1v1h-1zM337 246h1v1h-1zM332 242h1v1h-1zM331 234h1v1h-1zM326 232h1v1h-1zM320 237h1v1h-1zM337 232h1v1h-1zM323 235h1v1h-1zM330 236h1v1h-1zM321 240h1v1h-1zM326 234h1v1h-1zM334 241h1v1h-1zM324 238h1v1h-1zM325 235h1v1h-1zM324 237h1v1h-1zM324 239h1v1h-1zM325 244h1v1h-1zM335 233h1v1h-1zM328 241h1v1h-1zM328 238h1v1h-1zM322 243h1v1h-1zM321 227h1v1h-1zM324 242h1v1h-1zM328 236h1v1h-1zM327 239h1v1h-1zM330 235h1v1h-1zM321 247h1v1h-1zM334 240h1v1h-1zM330 237h1v1h-1zM332 229h1v1h-1zM328 242h1v1h-1zM332 243h1v1h-1z" fill="#3d8ff0" fill-opacity="0.8"/>
<path d="M322 239h1v1h-1zM333 240h1v1h-1zM321 241h1v1h-1zM323 242h1v1h-1zM324 233h1v1h-1zM325 232h1v1h-1zM331 233h1v1h-1zM327 244h1v1h-1zM322 236h1v1h-1zM323 241h1v1h-1zM325 231h1v1h-1zM333 238h1v1h-1zM323 243h1v1h-1zM331 234h1v1h-1zM330 244h1v1h-1zM333 236h1v1h-1zM333 235h1v1h-1zM323 233h1v1h-1zM321 237h1v1h-1zM324 244h1v1h-1zM332 235h1v1h-1zM322 238h1v1h-1zM334 240h1v1h-1zM323 235h1v1h-1zM321 239h1v1h-1zM323 234h1v1h-1zM332 234h1v1h-1zM334 238h1v1h-1zM330 233h1v1h-1zM333 239h1v1h-1zM333 242h1v1h-1zM325 243h1v1h-1zM328 244h1v1h-1zM324 234h1v1h-1zM332 241h1v1h-1zM326 244h1v1h-1z" fill="#3d8ff0" fill-opacity="0.85"/>
<g>
<ellipse cx="327.9" cy="238.4" rx="6.30" ry="6.30" fill="none" stroke="#5aa8f2" stroke-width="1.6" stroke-opacity="0.7" filter="url(#bl)"/>
<ellipse cx="327.9" cy="238.4" rx="6.00" ry="6.00" fill="#d3e9fc" stroke="#6fb1f3" stroke-width="0.5"/>
<ellipse cx="327.9" cy="238.4" rx="4.18" ry="4.18" fill="#e2f0fd" stroke="#93c6f6" stroke-width="0.5"/>
<ellipse cx="327.9" cy="238.4" rx="2.36" ry="2.36" fill="#edf6fe" stroke="#a9d2f8" stroke-width="0.5"/>
</g>
<path d="M350 241h1v1h-1zM347 242h1v1h-1zM335 240h1v1h-1zM323 241h1v1h-1zM342 232h1v1h-1zM332 236h1v1h-1zM332 232h1v1h-1zM355 236h1v1h-1zM342 235h1v1h-1zM345 244h1v1h-1zM361 244h1v1h-1zM329 246h1v1h-1zM345 241h1v1h-1zM338 233h1v1h-1zM344 236h1v1h-1zM342 248h1v1h-1zM346 244h1v1h-1zM359 233h1v1h-1zM342 251h1v1h-1zM365 241h1v1h-1zM320 244h1v1h-1zM362 235h1v1h-1zM357 239h1v1h-1zM333 246h1v1h-1zM340 233h1v1h-1zM348 247h1v1h-1zM365 236h1v1h-1zM366 242h1v1h-1zM349 238h1v1h-1zM340 238h1v1h-1zM347 239h1v1h-1zM325 240h1v1h-1zM339 247h1v1h-1zM349 248h1v1h-1zM354 230h1v1h-1zM336 244h1v1h-1zM329 243h1v1h-1zM332 240h1v1h-1zM349 239h1v1h-1zM327 237h1v1h-1zM334 230h1v1h-1zM352 239h1v1h-1zM349 249h1v1h-1zM323 238h1v1h-1zM347 235h1v1h-1zM345 234h1v1h-1zM358 241h1v1h-1zM376 242h1v1h-1zM354 242h1v1h-1zM337 240h1v1h-1zM335 236h1v1h-1zM352 241h1v1h-1zM335 241h1v1h-1zM347 233h1v1h-1zM352 229h1v1h-1zM336 248h1v1h-1zM343 240h1v1h-1zM357 245h1v1h-1zM349 241h1v1h-1zM334 243h1v1h-1zM358 246h1v1h-1zM334 245h1v1h-1zM353 242h1v1h-1zM366 236h1v1h-1zM351 244h1v1h-1zM337 227h1v1h-1zM355 239h1v1h-1zM359 238h1v1h-1zM336 237h1v1h-1zM335 244h1v1h-1zM331 240h1v1h-1zM329 239h1v1h-1zM333 244h1v1h-1zM354 240h1v1h-1zM346 241h1v1h-1zM330 233h1v1h-1zM347 243h1v1h-1zM347 240h1v1h-1zM341 245h1v1h-1zM334 250h1v1h-1zM340 237h1v1h-1zM351 233h1v1h-1zM353 233h1v1h-1zM343 232h1v1h-1zM343 234h1v1h-1zM345 230h1v1h-1zM358 247h1v1h-1zM343 239h1v1h-1zM342 230h1v1h-1zM333 241h1v1h-1zM365 240h1v1h-1zM363 239h1v1h-1zM360 241h1v1h-1zM341 244h1v1h-1zM332 241h1v1h-1zM355 233h1v1h-1zM338 242h1v1h-1zM349 242h1v1h-1zM361 234h1v1h-1zM356 240h1v1h-1zM333 238h1v1h-1zM341 235h1v1h-1zM334 241h1v1h-1zM362 249h1v1h-1zM369 230h1v1h-1zM336 239h1v1h-1zM328 235h1v1h-1zM357 241h1v1h-1zM326 243h1v1h-1zM375 245h1v1h-1zM328 239h1v1h-1zM351 241h1v1h-1zM358 243h1v1h-1zM342 237h1v1h-1zM346 251h1v1h-1zM347 238h1v1h-1zM352 245h1v1h-1zM325 244h1v1h-1zM340 243h1v1h-1zM347 237h1v1h-1zM332 235h1v1h-1zM358 242h1v1h-1zM361 238h1v1h-1zM348 241h1v1h-1z" fill="#3d8ff0" fill-opacity="0.8"/>
<path d="M349 234h1v1h-1zM345 234h1v1h-1zM349 248h1v1h-1zM354 246h1v1h-1zM331 238h1v1h-1zM334 246h1v1h-1zM346 233h1v1h-1zM329 244h1v1h-1zM354 247h1v1h-1zM347 248h1v1h-1zM347 233h1v1h-1zM361 242h1v1h-1zM352 235h1v1h-1zM331 244h1v1h-1zM343 248h1v1h-1zM355 236h1v1h-1zM353 234h1v1h-1zM359 237h1v1h-1zM339 247h1v1h-1zM329 239h1v1h-1zM330 238h1v1h-1zM334 235h1v1h-1zM352 247h1v1h-1zM333 244h1v1h-1zM356 245h1v1h-1zM341 234h1v1h-1zM345 248h1v1h-1zM342 233h1v1h-1zM332 237h1v1h-1zM347 247h1v1h-1zM339 248h1v1h-1zM333 236h1v1h-1zM356 246h1v1h-1zM331 245h1v1h-1zM331 236h1v1h-1zM333 235h1v1h-1zM346 234h1v1h-1zM357 246h1v1h-1zM333 237h1v1h-1zM351 235h1v1h-1zM330 242h1v1h-1zM355 237h1v1h-1zM328 240h1v1h-1zM359 242h1v1h-1zM332 244h1v1h-1zM346 248h1v1h-1zM353 235h1v1h-1zM357 238h1v1h-1zM335 247h1v1h-1zM334 245h1v1h-1zM341 248h1v1h-1zM339 234h1v1h-1zM357 237h1v1h-1zM344 248h1v1h-1zM340 234h1v1h-1zM337 246h1v1h-1zM359 241h1v1h-1zM360 243h1v1h-1zM356 244h1v1h-1zM361 239h1v1h-1zM334 247h1v1h-1zM342 247h1v1h-1zM333 245h1v1h-1zM346 235h1v1h-1zM331 243h1v1h-1zM330 243h1v1h-1zM356 235h1v1h-1zM343 249h1v1h-1zM332 238h1v1h-1z" fill="#3d8ff0" fill-opacity="0.85"/>
<g>
<ellipse cx="345.0" cy="241.2" rx="15.30" ry="7.30" fill="none" stroke="#5aa8f2" stroke-width="1.6" stroke-opacity="0.7" filter="url(#bl)"/>
<ellipse cx="345.0" cy="241.2" rx="15.00" ry="7.00" fill="#d3e9fc" stroke="#6fb1f3" stroke-width="0.5"/>
<ellipse cx="345.0" cy="241.2" rx="10.45" ry="4.88" fill="#e2f0fd" stroke="#93c6f6" stroke-width="0.5"/>
<ellipse cx="345.0" cy="241.2" rx="5.91" ry="2.76" fill="#edf6fe" stroke="#a9d2f8" stroke-width="0.5"/>
</g>
</g>
<clipPath id="cp320_184"><rect x="320" y="184.2" width="68" height="68"/></clipPath>
<rect x="332.20" y="201.70" width="36.40" height="28.50" stroke="#222" stroke-width="1.4" fill="none"/>
<rect x="332.20" y="232.40" width="36.40" height="17.70" stroke="#222" stroke-width="1.4" fill="none"/>
<rect x="320.00" y="278.50" width="68.00" height="68.00" stroke="#9a9a9a" stroke-width="0.8" fill="none"/>
<line x1="319.20" y1="284.17" x2="320.00" y2="284.17" stroke="#888" stroke-width="0.5"/>
<line x1="319.20" y1="289.83" x2="320.00" y2="289.83" stroke="#888" stroke-width="0.5"/>
<line x1="318.50" y1="295.50" x2="320.00" y2="295.50" stroke="#888" stroke-width="0.5"/>
<line x1="319.20" y1="301.17" x2="320.00" y2="301.17" stroke="#888" stroke-width="0.5"/>
<line x1="319.20" y1="306.83" x2="320.00" y2="306.83" stroke="#888" stroke-width="0.5"/>
<line x1="318.50" y1="312.50" x2="320.00" y2="312.50" stroke="#888" stroke-width="0.5"/>
<line x1="319.20" y1="318.17" x2="320.00" y2="318.17" stroke="#888" stroke-width="0.5"/>
<line x1="319.20" y1="323.83" x2="320.00" y2="323.83" stroke="#888" stroke-width="0.5"/>
<line x1="318.50" y1="329.50" x2="320.00" y2="329.50" stroke="#888" stroke-width="0.5"/>
<line x1="319.20" y1="335.17" x2="320.00" y2="335.17" stroke="#888" stroke-width="0.5"/>
<line x1="319.20" y1="340.83" x2="320.00" y2="340.83" stroke="#888" stroke-width="0.5"/>
<line x1="325.67" y1="346.50" x2="325.67" y2="347.30" stroke="#888" stroke-width="0.5"/>
<line x1="331.33" y1="346.50" x2="331.33" y2="347.30" stroke="#888" stroke-width="0.5"/>
<line x1="337.00" y1="346.50" x2="337.00" y2="348.00" stroke="#888" stroke-width="0.5"/>
<line x1="342.67" y1="346.50" x2="342.67" y2="347.30" stroke="#888" stroke-width="0.5"/>
<line x1="348.33" y1="346.50" x2="348.33" y2="347.30" stroke="#888" stroke-width="0.5"/>
<line x1="354.00" y1="346.50" x2="354.00" y2="348.00" stroke="#888" stroke-width="0.5"/>
<line x1="359.67" y1="346.50" x2="359.67" y2="347.30" stroke="#888" stroke-width="0.5"/>
<line x1="365.33" y1="346.50" x2="365.33" y2="347.30" stroke="#888" stroke-width="0.5"/>
<line x1="371.00" y1="346.50" x2="371.00" y2="348.00" stroke="#888" stroke-width="0.5"/>
<line x1="376.67" y1="346.50" x2="376.67" y2="347.30" stroke="#888" stroke-width="0.5"/>
<line x1="382.33" y1="346.50" x2="382.33" y2="347.30" stroke="#888" stroke-width="0.5"/>
<g clip-path="url(#cp320_278)">
<path d="M350 328h1v1h-1zM327 324h1v1h-1zM348 326h1v1h-1zM345 301h1v1h-1zM366 322h1v1h-1zM336 315h1v1h-1zM354 319h1v1h-1zM357 321h1v1h-1zM362 313h1v1h-1zM356 323h1v1h-1zM343 317h1v1h-1zM350 314h1v1h-1zM349 314h1v1h-1zM349 302h1v1h-1zM352 309h1v1h-1zM348 330h1v1h-1zM327 325h1v1h-1zM328 325h1v1h-1zM348 306h1v1h-1zM347 317h1v1h-1zM344 318h1v1h-1zM360 287h1v1h-1zM341 316h1v1h-1zM350 300h1v1h-1zM363 326h1v1h-1zM356 301h1v1h-1zM338 310h1v1h-1zM362 342h1v1h-1zM342 308h1v1h-1zM346 307h1v1h-1zM336 310h1v1h-1zM336 304h1v1h-1zM360 312h1v1h-1zM355 326h1v1h-1zM357 320h1v1h-1zM357 313h1v1h-1zM359 293h1v1h-1zM363 304h1v1h-1zM347 306h1v1h-1zM338 307h1v1h-1zM349 319h1v1h-1zM354 326h1v1h-1zM352 312h1v1h-1zM347 316h1v1h-1zM339 308h1v1h-1zM342 320h1v1h-1zM335 325h1v1h-1zM358 314h1v1h-1zM366 311h1v1h-1zM355 345h1v1h-1zM356 322h1v1h-1zM355 319h1v1h-1zM348 307h1v1h-1zM355 309h1v1h-1zM334 325h1v1h-1zM348 322h1v1h-1zM353 324h1v1h-1zM350 301h1v1h-1zM335 322h1v1h-1zM341 313h1v1h-1zM352 323h1v1h-1zM352 313h1v1h-1zM347 298h1v1h-1zM349 324h1v1h-1zM350 304h1v1h-1zM357 315h1v1h-1zM334 308h1v1h-1zM353 308h1v1h-1zM342 327h1v1h-1zM344 303h1v1h-1zM342 304h1v1h-1zM351 309h1v1h-1zM338 325h1v1h-1zM349 289h1v1h-1zM350 321h1v1h-1zM338 314h1v1h-1zM355 307h1v1h-1zM353 303h1v1h-1zM351 328h1v1h-1zM343 316h1v1h-1zM352 301h1v1h-1zM352 305h1v1h-1zM357 314h1v1h-1zM348 327h1v1h-1zM353 330h1v1h-1zM342 309h1v1h-1zM352 326h1v1h-1zM360 317h1v1h-1zM340 323h1v1h-1zM354 311h1v1h-1zM333 299h1v1h-1zM362 314h1v1h-1zM351 322h1v1h-1zM370 315h1v1h-1zM345 314h1v1h-1zM359 314h1v1h-1zM350 327h1v1h-1zM344 316h1v1h-1zM352 295h1v1h-1zM339 312h1v1h-1zM330 326h1v1h-1zM339 324h1v1h-1zM353 307h1v1h-1zM344 317h1v1h-1zM353 326h1v1h-1zM338 313h1v1h-1zM360 320h1v1h-1zM345 311h1v1h-1zM344 331h1v1h-1zM339 325h1v1h-1zM349 301h1v1h-1zM343 326h1v1h-1zM343 304h1v1h-1zM331 296h1v1h-1zM359 318h1v1h-1zM342 306h1v1h-1zM361 320h1v1h-1zM356 318h1v1h-1zM354 345h1v1h-1zM331 321h1v1h-1zM339 316h1v1h-1zM334 305h1v1h-1zM354 321h1v1h-1z" fill="#2f7ff0" fill-opacity="0.8"/>
<path d="M340 326h1v1h-1zM340 325h1v1h-1zM347 327h1v1h-1zM355 308h1v1h-1zM348 307h1v1h-1zM350 325h1v1h-1zM350 305h1v1h-1zM348 326h1v1h-1zM358 317h1v1h-1zM337 319h1v1h-1zM337 311h1v1h-1zM356 322h1v1h-1zM346 305h1v1h-1zM348 306h1v1h-1zM352 307h1v1h-1zM356 314h1v1h-1zM358 319h1v1h-1zM348 305h1v1h-1zM346 304h1v1h-1zM357 322h1v1h-1zM345 305h1v1h-1zM345 328h1v1h-1zM350 306h1v1h-1zM351 327h1v1h-1zM337 308h1v1h-1zM336 319h1v1h-1zM338 310h1v1h-1zM343 326h1v1h-1zM343 307h1v1h-1zM336 316h1v1h-1zM339 306h1v1h-1zM357 312h1v1h-1zM345 326h1v1h-1zM357 319h1v1h-1zM338 322h1v1h-1zM356 319h1v1h-1zM345 327h1v1h-1zM357 314h1v1h-1zM336 315h1v1h-1zM338 307h1v1h-1zM341 325h1v1h-1zM351 326h1v1h-1zM354 309h1v1h-1zM349 327h1v1h-1zM335 318h1v1h-1zM336 309h1v1h-1zM338 323h1v1h-1zM342 306h1v1h-1zM338 324h1v1h-1zM335 319h1v1h-1zM337 322h1v1h-1zM348 328h1v1h-1zM339 307h1v1h-1zM355 323h1v1h-1zM337 309h1v1h-1zM338 308h1v1h-1zM351 304h1v1h-1zM358 309h1v1h-1zM340 324h1v1h-1zM341 326h1v1h-1zM339 324h1v1h-1zM337 320h1v1h-1zM336 311h1v1h-1zM343 327h1v1h-1zM351 325h1v1h-1zM336 314h1v1h-1zM357 315h1v1h-1zM349 328h1v1h-1zM343 305h1v1h-1zM339 323h1v1h-1zM347 328h1v1h-1zM337 312h1v1h-1z" fill="#3d8ff0" fill-opacity="0.85"/>
<g>
<ellipse cx="347.0" cy="316.5" rx="11.30" ry="11.30" fill="none" stroke="#5aa8f2" stroke-width="1.6" stroke-opacity="0.7" filter="url(#bl)"/>
<ellipse cx="347.0" cy="316.5" rx="11.00" ry="11.00" fill="#d3e9fc" stroke="#6fb1f3" stroke-width="0.5"/>
<ellipse cx="347.0" cy="316.5" rx="7.67" ry="7.67" fill="#e2f0fd" stroke="#93c6f6" stroke-width="0.5"/>
<ellipse cx="347.0" cy="316.5" rx="4.33" ry="4.33" fill="#edf6fe" stroke="#a9d2f8" stroke-width="0.5"/>
</g>
<path d="M323 331h1v1h-1zM338 332h1v1h-1zM330 339h1v1h-1zM336 337h1v1h-1zM327 326h1v1h-1zM333 339h1v1h-1zM336 336h1v1h-1zM335 328h1v1h-1zM337 331h1v1h-1zM332 325h1v1h-1zM324 338h1v1h-1zM323 334h1v1h-1zM328 340h1v1h-1zM329 340h1v1h-1zM323 330h1v1h-1zM334 338h1v1h-1zM338 330h1v1h-1zM327 338h1v1h-1zM334 326h1v1h-1zM325 337h1v1h-1zM328 327h1v1h-1zM332 326h1v1h-1zM336 329h1v1h-1zM337 333h1v1h-1zM323 333h1v1h-1zM323 335h1v1h-1zM331 340h1v1h-1zM322 331h1v1h-1zM329 341h1v1h-1zM329 338h1v1h-1zM333 326h1v1h-1zM337 335h1v1h-1zM325 338h1v1h-1zM337 334h1v1h-1zM334 327h1v1h-1zM326 326h1v1h-1zM329 339h1v1h-1zM324 329h1v1h-1zM332 339h1v1h-1zM326 338h1v1h-1zM330 326h1v1h-1z" fill="#3d8ff0" fill-opacity="0.85"/>
<g>
<ellipse cx="330.6" cy="333.0" rx="7.30" ry="7.30" fill="none" stroke="#5aa8f2" stroke-width="1.6" stroke-opacity="0.7" filter="url(#bl)"/>
<ellipse cx="330.6" cy="333.0" rx="7.00" ry="7.00" fill="#7dbcf5" stroke="#4a9ff0" stroke-width="0.5"/>
<ellipse cx="330.6" cy="333.0" rx="5.37" ry="5.37" fill="#98caf7" stroke="#6fb1f3" stroke-width="0.5"/>
<ellipse cx="330.6" cy="333.0" rx="3.74" ry="3.74" fill="#b8dbf9" stroke="#8cc3f6" stroke-width="0.5"/>
<ellipse cx="330.6" cy="333.0" rx="2.12" ry="2.12" fill="#d8ebfc" stroke="#a9d2f8" stroke-width="0.5"/>
</g>
<path d="M343 341h1v1h-1zM342 327h1v1h-1zM333 336h1v1h-1zM358 334h1v1h-1zM356 337h1v1h-1zM335 337h1v1h-1zM355 331h1v1h-1zM348 340h1v1h-1zM334 330h1v1h-1zM334 329h1v1h-1zM344 327h1v1h-1zM347 327h1v1h-1zM352 338h1v1h-1zM334 337h1v1h-1zM346 327h1v1h-1zM354 337h1v1h-1zM351 339h1v1h-1zM355 332h1v1h-1zM336 330h1v1h-1zM333 331h1v1h-1zM336 338h1v1h-1zM347 340h1v1h-1zM355 330h1v1h-1zM346 340h1v1h-1zM342 326h1v1h-1zM334 336h1v1h-1zM352 339h1v1h-1zM357 337h1v1h-1zM348 328h1v1h-1zM333 337h1v1h-1zM353 339h1v1h-1zM345 340h1v1h-1zM344 340h1v1h-1zM332 332h1v1h-1zM330 334h1v1h-1zM356 334h1v1h-1zM337 328h1v1h-1zM354 330h1v1h-1zM343 340h1v1h-1zM333 333h1v1h-1zM332 334h1v1h-1zM345 328h1v1h-1zM333 332h1v1h-1zM355 329h1v1h-1zM353 329h1v1h-1zM350 327h1v1h-1zM331 334h1v1h-1zM351 328h1v1h-1zM348 327h1v1h-1zM338 339h1v1h-1zM335 329h1v1h-1zM356 336h1v1h-1zM350 339h1v1h-1z" fill="#3d8ff0" fill-opacity="0.85"/>
<g>
<ellipse cx="345.0" cy="334.0" rx="12.30" ry="6.80" fill="none" stroke="#5aa8f2" stroke-width="1.6" stroke-opacity="0.7" filter="url(#bl)"/>
<ellipse cx="345.0" cy="334.0" rx="12.00" ry="6.50" fill="#7dbcf5" stroke="#4a9ff0" stroke-width="0.5"/>
<ellipse cx="345.0" cy="334.0" rx="9.21" ry="4.99" fill="#98caf7" stroke="#6fb1f3" stroke-width="0.5"/>
<ellipse cx="345.0" cy="334.0" rx="6.42" ry="3.48" fill="#b8dbf9" stroke="#8cc3f6" stroke-width="0.5"/>
<ellipse cx="345.0" cy="334.0" rx="3.63" ry="1.97" fill="#d8ebfc" stroke="#a9d2f8" stroke-width="0.5"/>
</g>
</g>
<clipPath id="cp320_278"><rect x="320" y="278.5" width="68" height="68"/></clipPath>
<rect x="334.40" y="295.50" width="38.10" height="49.70" stroke="#222" stroke-width="1.4" fill="none"/>
<line x1="334.40" y1="328.00" x2="372.50" y2="328.00" stroke="#222" stroke-width="1.6"/>
<rect x="393.20" y="184.20" width="68.00" height="68.00" stroke="#9a9a9a" stroke-width="0.8" fill="none"/>
<line x1="392.40" y1="189.87" x2="393.20" y2="189.87" stroke="#888" stroke-width="0.5"/>
<line x1="392.40" y1="195.53" x2="393.20" y2="195.53" stroke="#888" stroke-width="0.5"/>
<line x1="391.70" y1="201.20" x2="393.20" y2="201.20" stroke="#888" stroke-width="0.5"/>
<line x1="392.40" y1="206.87" x2="393.20" y2="206.87" stroke="#888" stroke-width="0.5"/>
<line x1="392.40" y1="212.53" x2="393.20" y2="212.53" stroke="#888" stroke-width="0.5"/>
<line x1="391.70" y1="218.20" x2="393.20" y2="218.20" stroke="#888" stroke-width="0.5"/>
<line x1="392.40" y1="223.87" x2="393.20" y2="223.87" stroke="#888" stroke-width="0.5"/>
<line x1="392.40" y1="229.53" x2="393.20" y2="229.53" stroke="#888" stroke-width="0.5"/>
<line x1="391.70" y1="235.20" x2="393.20" y2="235.20" stroke="#888" stroke-width="0.5"/>
<line x1="392.40" y1="240.87" x2="393.20" y2="240.87" stroke="#888" stroke-width="0.5"/>
<line x1="392.40" y1="246.53" x2="393.20" y2="246.53" stroke="#888" stroke-width="0.5"/>
<line x1="398.87" y1="252.20" x2="398.87" y2="253.00" stroke="#888" stroke-width="0.5"/>
<line x1="404.53" y1="252.20" x2="404.53" y2="253.00" stroke="#888" stroke-width="0.5"/>
<line x1="410.20" y1="252.20" x2="410.20" y2="253.70" stroke="#888" stroke-width="0.5"/>
<line x1="415.87" y1="252.20" x2="415.87" y2="253.00" stroke="#888" stroke-width="0.5"/>
<line x1="421.53" y1="252.20" x2="421.53" y2="253.00" stroke="#888" stroke-width="0.5"/>
<line x1="427.20" y1="252.20" x2="427.20" y2="253.70" stroke="#888" stroke-width="0.5"/>
<line x1="432.87" y1="252.20" x2="432.87" y2="253.00" stroke="#888" stroke-width="0.5"/>
<line x1="438.53" y1="252.20" x2="438.53" y2="253.00" stroke="#888" stroke-width="0.5"/>
<line x1="444.20" y1="252.20" x2="444.20" y2="253.70" stroke="#888" stroke-width="0.5"/>
<line x1="449.87" y1="252.20" x2="449.87" y2="253.00" stroke="#888" stroke-width="0.5"/>
<line x1="455.53" y1="252.20" x2="455.53" y2="253.00" stroke="#888" stroke-width="0.5"/>
<g clip-path="url(#cp393_184)">
<path d="M415 216h1v1h-1zM416 215h1v1h-1zM425 224h1v1h-1zM422 223h1v1h-1zM406 224h1v1h-1zM425 221h1v1h-1zM419 225h1v1h-1zM417 221h1v1h-1zM423 227h1v1h-1zM429 224h1v1h-1zM427 221h1v1h-1zM407 214h1v1h-1zM412 222h1v1h-1zM404 226h1v1h-1zM423 223h1v1h-1zM424 221h1v1h-1zM426 214h1v1h-1zM404 218h1v1h-1zM419 207h1v1h-1zM422 211h1v1h-1zM412 219h1v1h-1zM403 232h1v1h-1zM409 218h1v1h-1zM400 221h1v1h-1zM422 217h1v1h-1zM405 225h1v1h-1zM404 217h1v1h-1zM421 217h1v1h-1zM413 214h1v1h-1zM416 212h1v1h-1zM424 214h1v1h-1zM407 230h1v1h-1zM423 215h1v1h-1zM397 213h1v1h-1zM408 226h1v1h-1zM407 218h1v1h-1zM414 227h1v1h-1zM418 222h1v1h-1zM409 220h1v1h-1zM426 224h1v1h-1zM404 221h1v1h-1zM421 221h1v1h-1zM431 219h1v1h-1zM435 216h1v1h-1zM419 216h1v1h-1zM419 220h1v1h-1zM415 214h1v1h-1zM421 222h1v1h-1zM418 230h1v1h-1zM415 209h1v1h-1zM425 228h1v1h-1zM405 210h1v1h-1zM415 207h1v1h-1zM402 224h1v1h-1zM434 219h1v1h-1zM406 221h1v1h-1zM410 213h1v1h-1zM424 223h1v1h-1zM415 223h1v1h-1zM405 223h1v1h-1zM413 213h1v1h-1zM400 225h1v1h-1zM407 223h1v1h-1zM405 215h1v1h-1zM414 204h1v1h-1zM413 220h1v1h-1zM415 217h1v1h-1zM422 221h1v1h-1zM411 219h1v1h-1zM410 211h1v1h-1zM437 224h1v1h-1zM425 217h1v1h-1zM431 226h1v1h-1zM422 218h1v1h-1zM439 215h1v1h-1zM428 232h1v1h-1zM420 211h1v1h-1zM401 219h1v1h-1zM413 218h1v1h-1zM407 222h1v1h-1zM434 216h1v1h-1zM409 226h1v1h-1zM422 222h1v1h-1zM419 222h1v1h-1zM418 219h1v1h-1zM409 223h1v1h-1zM416 221h1v1h-1zM402 214h1v1h-1zM407 225h1v1h-1zM429 225h1v1h-1zM411 220h1v1h-1zM420 218h1v1h-1zM440 217h1v1h-1zM423 217h1v1h-1zM401 218h1v1h-1zM418 227h1v1h-1zM407 219h1v1h-1zM410 226h1v1h-1zM413 234h1v1h-1zM421 218h1v1h-1zM411 224h1v1h-1zM408 218h1v1h-1zM415 221h1v1h-1zM432 222h1v1h-1zM417 225h1v1h-1zM421 225h1v1h-1zM428 210h1v1h-1zM421 231h1v1h-1zM424 220h1v1h-1zM408 223h1v1h-1zM413 216h1v1h-1zM411 218h1v1h-1zM409 211h1v1h-1zM423 220h1v1h-1zM412 220h1v1h-1zM422 220h1v1h-1zM403 217h1v1h-1zM400 219h1v1h-1zM427 224h1v1h-1zM421 220h1v1h-1zM429 217h1v1h-1zM418 225h1v1h-1zM424 222h1v1h-1zM404 224h1v1h-1zM399 213h1v1h-1zM410 221h1v1h-1zM418 215h1v1h-1zM421 209h1v1h-1zM410 217h1v1h-1zM435 221h1v1h-1zM411 216h1v1h-1zM413 222h1v1h-1zM419 219h1v1h-1zM417 229h1v1h-1zM419 226h1v1h-1zM403 220h1v1h-1zM417 222h1v1h-1zM409 214h1v1h-1zM428 214h1v1h-1zM415 220h1v1h-1zM420 216h1v1h-1zM397 222h1v1h-1zM418 214h1v1h-1zM415 212h1v1h-1zM417 218h1v1h-1zM421 210h1v1h-1zM405 211h1v1h-1zM433 222h1v1h-1zM426 209h1v1h-1zM421 214h1v1h-1zM408 207h1v1h-1zM414 217h1v1h-1zM420 221h1v1h-1zM422 231h1v1h-1zM430 209h1v1h-1zM411 212h1v1h-1zM435 214h1v1h-1zM398 225h1v1h-1zM416 210h1v1h-1zM424 215h1v1h-1zM419 214h1v1h-1zM432 214h1v1h-1zM426 218h1v1h-1zM401 217h1v1h-1zM404 222h1v1h-1zM403 212h1v1h-1zM415 219h1v1h-1zM425 216h1v1h-1zM403 227h1v1h-1zM423 222h1v1h-1zM422 230h1v1h-1zM430 213h1v1h-1zM411 230h1v1h-1zM423 219h1v1h-1zM432 220h1v1h-1zM428 218h1v1h-1zM410 223h1v1h-1zM422 216h1v1h-1zM420 225h1v1h-1zM426 213h1v1h-1zM406 214h1v1h-1zM435 213h1v1h-1zM414 218h1v1h-1zM412 215h1v1h-1zM424 212h1v1h-1zM424 210h1v1h-1zM426 225h1v1h-1zM431 210h1v1h-1zM422 215h1v1h-1zM394 218h1v1h-1zM422 226h1v1h-1zM410 207h1v1h-1zM427 220h1v1h-1zM423 214h1v1h-1zM417 215h1v1h-1zM425 225h1v1h-1zM409 229h1v1h-1zM410 218h1v1h-1zM416 225h1v1h-1zM409 225h1v1h-1zM427 213h1v1h-1zM414 224h1v1h-1zM424 211h1v1h-1zM410 220h1v1h-1zM414 221h1v1h-1zM407 224h1v1h-1zM421 219h1v1h-1zM417 224h1v1h-1zM416 226h1v1h-1zM431 204h1v1h-1zM409 206h1v1h-1zM408 222h1v1h-1zM418 221h1v1h-1zM403 218h1v1h-1zM421 211h1v1h-1zM447 215h1v1h-1zM415 222h1v1h-1zM429 222h1v1h-1zM414 219h1v1h-1zM419 217h1v1h-1zM426 220h1v1h-1zM414 207h1v1h-1zM419 215h1v1h-1zM411 214h1v1h-1zM420 220h1v1h-1zM424 225h1v1h-1zM426 216h1v1h-1zM406 218h1v1h-1zM401 215h1v1h-1zM419 224h1v1h-1zM410 225h1v1h-1zM402 219h1v1h-1zM412 208h1v1h-1zM404 213h1v1h-1zM418 229h1v1h-1zM411 226h1v1h-1zM410 219h1v1h-1zM419 231h1v1h-1zM419 208h1v1h-1zM411 223h1v1h-1zM414 223h1v1h-1zM423 232h1v1h-1zM402 223h1v1h-1zM427 226h1v1h-1zM411 221h1v1h-1zM412 206h1v1h-1zM415 210h1v1h-1zM409 221h1v1h-1zM407 216h1v1h-1zM403 213h1v1h-1zM420 223h1v1h-1zM399 224h1v1h-1zM411 215h1v1h-1zM403 221h1v1h-1zM416 223h1v1h-1zM426 219h1v1h-1zM408 225h1v1h-1zM422 214h1v1h-1zM433 212h1v1h-1zM426 215h1v1h-1zM429 227h1v1h-1zM401 221h1v1h-1zM420 212h1v1h-1zM410 222h1v1h-1zM423 221h1v1h-1zM422 213h1v1h-1zM423 225h1v1h-1zM408 215h1v1h-1zM431 227h1v1h-1zM417 226h1v1h-1zM417 219h1v1h-1zM410 214h1v1h-1zM398 213h1v1h-1zM399 214h1v1h-1zM397 221h1v1h-1zM394 219h1v1h-1zM430 219h1v1h-1zM434 217h1v1h-1zM424 233h1v1h-1zM405 219h1v1h-1zM408 220h1v1h-1zM413 221h1v1h-1zM416 217h1v1h-1zM409 222h1v1h-1zM422 224h1v1h-1zM419 233h1v1h-1zM402 220h1v1h-1zM416 216h1v1h-1zM401 220h1v1h-1zM419 228h1v1h-1zM414 222h1v1h-1zM412 216h1v1h-1zM418 224h1v1h-1zM422 208h1v1h-1zM412 224h1v1h-1zM414 215h1v1h-1zM405 221h1v1h-1zM429 221h1v1h-1zM412 221h1v1h-1zM426 221h1v1h-1zM427 225h1v1h-1zM413 211h1v1h-1zM411 228h1v1h-1zM398 217h1v1h-1zM413 219h1v1h-1zM420 215h1v1h-1zM423 212h1v1h-1zM398 212h1v1h-1zM431 221h1v1h-1zM416 213h1v1h-1zM417 214h1v1h-1zM421 228h1v1h-1zM405 217h1v1h-1zM438 223h1v1h-1zM425 214h1v1h-1zM417 223h1v1h-1zM412 210h1v1h-1zM413 225h1v1h-1zM417 211h1v1h-1zM402 215h1v1h-1zM400 217h1v1h-1zM411 222h1v1h-1zM402 206h1v1h-1zM425 220h1v1h-1zM416 232h1v1h-1zM426 228h1v1h-1zM431 208h1v1h-1zM415 218h1v1h-1zM428 217h1v1h-1zM428 229h1v1h-1zM438 212h1v1h-1zM406 227h1v1h-1zM403 214h1v1h-1zM434 215h1v1h-1zM429 223h1v1h-1zM444 216h1v1h-1zM403 225h1v1h-1zM417 236h1v1h-1zM441 225h1v1h-1zM424 216h1v1h-1zM415 225h1v1h-1zM418 213h1v1h-1zM416 219h1v1h-1zM427 217h1v1h-1zM409 219h1v1h-1zM421 215h1v1h-1zM429 219h1v1h-1zM413 217h1v1h-1zM407 226h1v1h-1zM398 222h1v1h-1zM428 226h1v1h-1zM439 220h1v1h-1zM420 224h1v1h-1zM421 223h1v1h-1zM418 216h1v1h-1zM420 214h1v1h-1zM424 206h1v1h-1zM414 225h1v1h-1zM420 213h1v1h-1zM424 218h1v1h-1zM407 215h1v1h-1zM409 228h1v1h-1zM416 224h1v1h-1zM418 217h1v1h-1zM407 217h1v1h-1zM430 226h1v1h-1zM428 219h1v1h-1zM408 214h1v1h-1zM408 217h1v1h-1zM409 224h1v1h-1zM440 221h1v1h-1zM435 217h1v1h-1zM412 226h1v1h-1zM421 224h1v1h-1zM433 223h1v1h-1zM417 232h1v1h-1zM420 208h1v1h-1zM416 220h1v1h-1zM401 210h1v1h-1zM425 226h1v1h-1zM430 222h1v1h-1zM436 231h1v1h-1zM430 232h1v1h-1zM414 220h1v1h-1zM419 211h1v1h-1zM434 220h1v1h-1zM408 219h1v1h-1zM415 213h1v1h-1zM414 230h1v1h-1zM425 209h1v1h-1zM424 224h1v1h-1zM409 215h1v1h-1zM433 211h1v1h-1zM431 223h1v1h-1zM409 212h1v1h-1zM405 206h1v1h-1zM407 213h1v1h-1zM418 223h1v1h-1zM418 218h1v1h-1zM414 213h1v1h-1zM419 213h1v1h-1zM408 221h1v1h-1zM427 229h1v1h-1zM406 217h1v1h-1zM408 210h1v1h-1zM410 215h1v1h-1zM428 221h1v1h-1zM401 214h1v1h-1zM405 213h1v1h-1zM417 216h1v1h-1zM424 219h1v1h-1zM423 229h1v1h-1zM435 218h1v1h-1zM408 230h1v1h-1zM432 221h1v1h-1zM422 219h1v1h-1zM420 217h1v1h-1zM431 224h1v1h-1zM432 218h1v1h-1zM415 211h1v1h-1zM425 215h1v1h-1zM432 223h1v1h-1zM414 226h1v1h-1zM433 220h1v1h-1zM411 225h1v1h-1zM422 227h1v1h-1zM425 219h1v1h-1zM435 226h1v1h-1zM408 211h1v1h-1zM425 213h1v1h-1zM413 209h1v1h-1zM422 228h1v1h-1zM419 209h1v1h-1zM396 220h1v1h-1zM432 224h1v1h-1zM402 213h1v1h-1zM415 228h1v1h-1zM412 204h1v1h-1zM405 224h1v1h-1zM429 214h1v1h-1zM412 232h1v1h-1zM427 214h1v1h-1zM421 229h1v1h-1zM416 218h1v1h-1zM404 220h1v1h-1zM414 216h1v1h-1zM422 225h1v1h-1zM426 230h1v1h-1zM418 228h1v1h-1zM427 216h1v1h-1zM396 221h1v1h-1zM406 223h1v1h-1zM434 225h1v1h-1zM425 218h1v1h-1zM431 225h1v1h-1zM433 226h1v1h-1zM413 226h1v1h-1zM410 227h1v1h-1zM431 218h1v1h-1zM431 220h1v1h-1zM402 210h1v1h-1zM419 218h1v1h-1zM399 219h1v1h-1zM412 212h1v1h-1zM402 222h1v1h-1zM420 219h1v1h-1zM400 209h1v1h-1zM417 212h1v1h-1zM427 215h1v1h-1zM429 218h1v1h-1zM415 208h1v1h-1zM402 207h1v1h-1zM394 224h1v1h-1zM431 216h1v1h-1zM415 215h1v1h-1zM429 216h1v1h-1zM412 218h1v1h-1zM413 230h1v1h-1zM423 231h1v1h-1zM407 228h1v1h-1zM427 210h1v1h-1zM404 216h1v1h-1zM409 217h1v1h-1zM407 210h1v1h-1zM428 215h1v1h-1zM404 219h1v1h-1zM404 228h1v1h-1zM412 227h1v1h-1zM439 224h1v1h-1zM402 231h1v1h-1zM426 212h1v1h-1zM413 224h1v1h-1zM417 228h1v1h-1zM432 225h1v1h-1zM416 211h1v1h-1zM420 226h1v1h-1zM421 207h1v1h-1zM424 217h1v1h-1zM420 231h1v1h-1zM412 214h1v1h-1zM422 212h1v1h-1zM423 224h1v1h-1zM417 213h1v1h-1zM428 213h1v1h-1zM419 212h1v1h-1zM428 208h1v1h-1zM411 213h1v1h-1zM408 209h1v1h-1zM418 220h1v1h-1zM406 211h1v1h-1zM418 226h1v1h-1zM429 211h1v1h-1zM410 204h1v1h-1zM421 227h1v1h-1zM399 217h1v1h-1z" fill="#3d8ff0" fill-opacity="0.8"/>
<path d="M418 215h1v1h-1zM410 221h1v1h-1zM436 223h1v1h-1zM416 214h1v1h-1zM403 223h1v1h-1zM435 224h1v1h-1zM426 209h1v1h-1zM401 234h1v1h-1zM416 222h1v1h-1zM432 211h1v1h-1zM406 212h1v1h-1zM409 220h1v1h-1zM435 227h1v1h-1zM402 208h1v1h-1zM433 224h1v1h-1zM399 228h1v1h-1zM416 221h1v1h-1zM408 201h1v1h-1zM439 209h1v1h-1zM421 206h1v1h-1zM402 202h1v1h-1zM424 216h1v1h-1zM404 214h1v1h-1zM409 227h1v1h-1zM421 225h1v1h-1zM419 230h1v1h-1zM424 213h1v1h-1zM428 228h1v1h-1zM430 217h1v1h-1zM435 226h1v1h-1zM426 220h1v1h-1zM414 220h1v1h-1zM400 220h1v1h-1zM444 223h1v1h-1zM399 221h1v1h-1zM418 226h1v1h-1zM445 224h1v1h-1zM410 230h1v1h-1zM422 224h1v1h-1zM442 231h1v1h-1zM405 221h1v1h-1zM394 223h1v1h-1zM405 218h1v1h-1zM414 216h1v1h-1zM403 233h1v1h-1zM414 207h1v1h-1zM422 209h1v1h-1zM407 224h1v1h-1zM417 218h1v1h-1zM436 228h1v1h-1zM407 219h1v1h-1zM398 222h1v1h-1zM424 207h1v1h-1zM406 208h1v1h-1zM426 215h1v1h-1zM426 223h1v1h-1zM428 215h1v1h-1zM413 220h1v1h-1zM415 218h1v1h-1zM404 225h1v1h-1zM412 231h1v1h-1zM419 208h1v1h-1zM433 214h1v1h-1zM404 212h1v1h-1zM400 216h1v1h-1zM402 223h1v1h-1zM418 216h1v1h-1zM419 211h1v1h-1zM414 215h1v1h-1zM437 218h1v1h-1zM411 198h1v1h-1zM425 216h1v1h-1zM425 222h1v1h-1zM425 204h1v1h-1zM416 219h1v1h-1zM398 219h1v1h-1zM418 221h1v1h-1zM411 219h1v1h-1zM427 224h1v1h-1zM403 224h1v1h-1zM404 224h1v1h-1zM419 221h1v1h-1zM421 223h1v1h-1zM425 225h1v1h-1zM420 222h1v1h-1zM409 203h1v1h-1zM415 232h1v1h-1zM418 217h1v1h-1zM415 230h1v1h-1zM402 235h1v1h-1zM436 209h1v1h-1zM408 219h1v1h-1zM419 215h1v1h-1zM396 220h1v1h-1zM419 213h1v1h-1zM411 210h1v1h-1zM438 215h1v1h-1zM396 201h1v1h-1zM403 207h1v1h-1zM419 225h1v1h-1zM420 216h1v1h-1zM429 215h1v1h-1zM416 218h1v1h-1zM412 219h1v1h-1zM433 226h1v1h-1zM418 223h1v1h-1zM397 215h1v1h-1zM422 219h1v1h-1zM423 207h1v1h-1zM410 223h1v1h-1zM439 208h1v1h-1zM401 230h1v1h-1zM410 215h1v1h-1zM407 218h1v1h-1zM429 223h1v1h-1zM444 197h1v1h-1zM412 211h1v1h-1zM399 205h1v1h-1zM450 207h1v1h-1zM427 207h1v1h-1zM427 222h1v1h-1zM423 213h1v1h-1zM405 220h1v1h-1zM414 205h1v1h-1zM425 219h1v1h-1zM404 211h1v1h-1zM415 222h1v1h-1zM442 221h1v1h-1zM426 207h1v1h-1zM409 215h1v1h-1zM404 217h1v1h-1zM425 214h1v1h-1zM417 217h1v1h-1zM422 222h1v1h-1zM431 217h1v1h-1zM422 221h1v1h-1zM413 213h1v1h-1zM422 225h1v1h-1zM420 207h1v1h-1zM423 218h1v1h-1zM429 228h1v1h-1zM405 213h1v1h-1zM419 223h1v1h-1zM442 212h1v1h-1zM427 225h1v1h-1zM418 219h1v1h-1zM425 228h1v1h-1zM437 215h1v1h-1zM432 225h1v1h-1zM443 208h1v1h-1zM415 221h1v1h-1zM401 206h1v1h-1zM417 208h1v1h-1zM419 217h1v1h-1zM423 222h1v1h-1zM450 217h1v1h-1zM415 223h1v1h-1zM432 195h1v1h-1zM413 221h1v1h-1zM413 227h1v1h-1zM429 213h1v1h-1zM395 216h1v1h-1zM436 202h1v1h-1zM397 214h1v1h-1zM432 227h1v1h-1zM399 217h1v1h-1zM409 223h1v1h-1zM426 218h1v1h-1zM413 217h1v1h-1zM411 221h1v1h-1zM410 224h1v1h-1zM413 232h1v1h-1zM429 204h1v1h-1zM401 218h1v1h-1zM423 212h1v1h-1zM395 231h1v1h-1zM394 218h1v1h-1zM404 209h1v1h-1zM400 214h1v1h-1zM420 221h1v1h-1zM405 216h1v1h-1zM403 217h1v1h-1zM406 229h1v1h-1zM425 210h1v1h-1zM420 228h1v1h-1zM403 211h1v1h-1zM422 215h1v1h-1zM412 215h1v1h-1zM433 229h1v1h-1zM449 220h1v1h-1zM407 217h1v1h-1zM419 219h1v1h-1zM407 225h1v1h-1zM398 220h1v1h-1zM400 219h1v1h-1zM420 218h1v1h-1zM415 205h1v1h-1zM414 224h1v1h-1zM427 214h1v1h-1zM414 222h1v1h-1zM433 221h1v1h-1zM446 222h1v1h-1zM410 225h1v1h-1zM418 218h1v1h-1zM414 225h1v1h-1zM413 207h1v1h-1zM421 212h1v1h-1zM418 214h1v1h-1zM412 226h1v1h-1zM420 224h1v1h-1zM405 224h1v1h-1zM420 220h1v1h-1zM428 214h1v1h-1zM434 218h1v1h-1zM412 228h1v1h-1zM435 229h1v1h-1zM400 224h1v1h-1zM434 229h1v1h-1zM425 221h1v1h-1zM441 224h1v1h-1zM404 216h1v1h-1zM408 217h1v1h-1zM418 229h1v1h-1zM420 225h1v1h-1zM413 210h1v1h-1zM412 229h1v1h-1zM454 220h1v1h-1zM443 235h1v1h-1zM400 221h1v1h-1zM419 218h1v1h-1zM429 218h1v1h-1zM405 234h1v1h-1zM431 225h1v1h-1zM429 202h1v1h-1zM394 210h1v1h-1zM429 224h1v1h-1zM424 238h1v1h-1zM399 223h1v1h-1zM430 209h1v1h-1zM426 214h1v1h-1zM411 225h1v1h-1zM406 221h1v1h-1zM396 228h1v1h-1zM404 219h1v1h-1zM420 223h1v1h-1zM442 206h1v1h-1zM407 223h1v1h-1z" fill="#5aa5f2" fill-opacity="0.8"/>
<path d="M410 217h1v1h-1zM413 214h1v1h-1zM421 215h1v1h-1zM422 221h1v1h-1zM415 214h1v1h-1zM411 216h1v1h-1zM417 224h1v1h-1zM410 218h1v1h-1zM415 224h1v1h-1zM421 222h1v1h-1zM422 217h1v1h-1zM411 222h1v1h-1zM422 215h1v1h-1zM412 222h1v1h-1zM422 219h1v1h-1zM414 224h1v1h-1zM412 215h1v1h-1zM412 223h1v1h-1zM422 220h1v1h-1zM410 219h1v1h-1zM411 221h1v1h-1zM422 218h1v1h-1zM418 214h1v1h-1zM423 216h1v1h-1zM410 220h1v1h-1zM414 223h1v1h-1zM420 222h1v1h-1zM416 214h1v1h-1zM423 218h1v1h-1zM411 220h1v1h-1zM409 218h1v1h-1z" fill="#3d8ff0" fill-opacity="0.85"/>
<g>
<ellipse cx="416.7" cy="219.2" rx="6.30" ry="5.30" fill="none" stroke="#5aa8f2" stroke-width="1.6" stroke-opacity="0.7" filter="url(#bl)"/>
<ellipse cx="416.7" cy="219.2" rx="6.00" ry="5.00" fill="#d3e9fc" stroke="#6fb1f3" stroke-width="0.5"/>
</g>
<circle cx="416.70" cy="219.20" r="3.25" fill="#fff" stroke="none" stroke-width="0"/>
<path d="M427 241h1v1h-1zM415 239h1v1h-1zM411 241h1v1h-1zM430 243h1v1h-1zM409 247h1v1h-1zM407 249h1v1h-1zM402 248h1v1h-1zM404 232h1v1h-1zM408 245h1v1h-1zM430 237h1v1h-1zM425 239h1v1h-1zM420 243h1v1h-1zM416 246h1v1h-1zM417 246h1v1h-1zM448 237h1v1h-1zM431 239h1v1h-1zM447 244h1v1h-1zM415 241h1v1h-1zM439 233h1v1h-1zM436 238h1v1h-1zM422 238h1v1h-1zM416 243h1v1h-1zM410 242h1v1h-1zM431 234h1v1h-1zM420 238h1v1h-1zM407 242h1v1h-1zM415 242h1v1h-1zM426 236h1v1h-1zM446 233h1v1h-1zM417 241h1v1h-1zM436 230h1v1h-1zM425 243h1v1h-1zM414 241h1v1h-1zM410 237h1v1h-1zM420 235h1v1h-1zM403 241h1v1h-1zM418 233h1v1h-1zM419 235h1v1h-1zM424 235h1v1h-1zM397 238h1v1h-1zM400 244h1v1h-1zM441 243h1v1h-1zM417 242h1v1h-1zM433 238h1v1h-1zM410 233h1v1h-1zM413 239h1v1h-1zM409 239h1v1h-1zM403 238h1v1h-1zM397 242h1v1h-1zM398 244h1v1h-1zM424 242h1v1h-1zM418 240h1v1h-1zM418 241h1v1h-1zM418 243h1v1h-1zM413 234h1v1h-1zM456 244h1v1h-1zM408 235h1v1h-1zM415 234h1v1h-1zM431 245h1v1h-1zM411 236h1v1h-1zM423 239h1v1h-1zM413 250h1v1h-1zM395 240h1v1h-1zM422 241h1v1h-1zM404 240h1v1h-1zM425 236h1v1h-1zM426 243h1v1h-1zM447 240h1v1h-1zM402 240h1v1h-1zM427 234h1v1h-1zM428 242h1v1h-1zM420 231h1v1h-1zM440 232h1v1h-1zM421 242h1v1h-1zM400 234h1v1h-1zM433 230h1v1h-1zM452 230h1v1h-1zM417 236h1v1h-1zM400 241h1v1h-1zM410 239h1v1h-1zM432 241h1v1h-1zM406 240h1v1h-1zM408 236h1v1h-1zM428 238h1v1h-1zM397 244h1v1h-1zM396 235h1v1h-1zM427 232h1v1h-1zM434 239h1v1h-1zM424 240h1v1h-1zM426 242h1v1h-1zM393 240h1v1h-1zM430 250h1v1h-1zM434 234h1v1h-1zM448 247h1v1h-1zM419 248h1v1h-1zM402 237h1v1h-1zM450 242h1v1h-1zM407 236h1v1h-1zM432 239h1v1h-1zM425 241h1v1h-1zM409 236h1v1h-1zM403 230h1v1h-1zM420 239h1v1h-1zM439 244h1v1h-1zM401 241h1v1h-1zM411 239h1v1h-1zM442 241h1v1h-1zM404 235h1v1h-1zM408 239h1v1h-1zM400 236h1v1h-1zM438 238h1v1h-1zM401 239h1v1h-1zM403 236h1v1h-1zM415 237h1v1h-1zM428 243h1v1h-1z" fill="#3d8ff0" fill-opacity="0.8"/>
<path d="M400 247h1v1h-1zM406 247h1v1h-1zM428 233h1v1h-1zM408 249h1v1h-1zM432 234h1v1h-1zM416 232h1v1h-1zM399 244h1v1h-1zM426 248h1v1h-1zM417 231h1v1h-1zM434 244h1v1h-1zM420 249h1v1h-1zM395 238h1v1h-1zM417 249h1v1h-1zM438 242h1v1h-1zM439 240h1v1h-1zM433 236h1v1h-1zM429 247h1v1h-1zM407 231h1v1h-1zM403 247h1v1h-1zM410 249h1v1h-1zM430 248h1v1h-1zM438 239h1v1h-1zM436 239h1v1h-1zM421 249h1v1h-1zM433 246h1v1h-1zM422 232h1v1h-1zM421 247h1v1h-1zM438 240h1v1h-1zM434 236h1v1h-1zM407 233h1v1h-1zM402 233h1v1h-1zM423 248h1v1h-1zM395 245h1v1h-1zM398 235h1v1h-1zM420 248h1v1h-1zM394 234h1v1h-1zM408 248h1v1h-1zM420 232h1v1h-1zM422 248h1v1h-1zM395 241h1v1h-1zM431 245h1v1h-1zM429 246h1v1h-1zM398 246h1v1h-1zM424 247h1v1h-1zM436 244h1v1h-1zM394 238h1v1h-1zM405 232h1v1h-1zM400 246h1v1h-1zM437 236h1v1h-1zM406 250h1v1h-1zM403 249h1v1h-1zM426 232h1v1h-1zM437 243h1v1h-1zM394 240h1v1h-1zM437 239h1v1h-1zM412 249h1v1h-1zM397 235h1v1h-1zM439 238h1v1h-1zM429 234h1v1h-1zM394 241h1v1h-1zM397 236h1v1h-1zM425 248h1v1h-1zM393 243h1v1h-1zM436 243h1v1h-1zM425 233h1v1h-1zM438 241h1v1h-1zM436 238h1v1h-1zM403 248h1v1h-1zM416 249h1v1h-1zM423 233h1v1h-1zM395 236h1v1h-1zM419 249h1v1h-1zM411 248h1v1h-1zM441 241h1v1h-1zM397 245h1v1h-1zM426 234h1v1h-1zM432 236h1v1h-1zM404 248h1v1h-1zM397 246h1v1h-1zM433 237h1v1h-1zM434 235h1v1h-1zM436 237h1v1h-1zM437 237h1v1h-1zM434 243h1v1h-1zM401 233h1v1h-1zM428 247h1v1h-1z" fill="#3d8ff0" fill-opacity="0.85"/>
<g>
<path d="M436.5,240.7 L436.2,243.1 L435.2,244.7 L433.7,246.0 L431.5,247.1 L428.8,247.9 L425.4,248.5 L421.3,248.9 L415.2,249.0 L409.1,248.9 L405.0,248.5 L401.6,247.9 L398.9,247.1 L396.7,246.0 L395.2,244.7 L394.2,243.1 L393.9,240.7 L394.2,238.3 L395.2,236.7 L396.7,235.4 L398.9,234.3 L401.6,233.5 L405.0,232.9 L409.1,232.5 L415.2,232.4 L421.3,232.5 L425.4,232.9 L428.8,233.5 L431.5,234.3 L433.7,235.4 L435.2,236.7 L436.2,238.3Z" fill="none" stroke="#5aa8f2" stroke-width="1.6" stroke-opacity="0.7" filter="url(#bl)"/>
<path d="M436.2,240.7 L435.9,243.0 L435.0,244.5 L433.4,245.8 L431.3,246.8 L428.6,247.6 L425.2,248.2 L421.2,248.6 L415.2,248.7 L409.2,248.6 L405.2,248.2 L401.8,247.6 L399.1,246.8 L397.0,245.8 L395.4,244.5 L394.5,243.0 L394.2,240.7 L394.5,238.4 L395.4,236.9 L397.0,235.6 L399.1,234.6 L401.8,233.8 L405.2,233.2 L409.2,232.8 L415.2,232.7 L421.2,232.8 L425.2,233.2 L428.6,233.8 L431.3,234.6 L433.4,235.6 L435.0,236.9 L435.9,238.4Z" fill="#d3e9fc" stroke="#6fb1f3" stroke-width="0.5"/>
<path d="M431.3,240.7 L431.1,242.4 L430.4,243.6 L429.2,244.6 L427.5,245.4 L425.5,246.0 L422.9,246.5 L419.8,246.7 L415.2,246.8 L410.6,246.7 L407.5,246.5 L404.9,246.0 L402.9,245.4 L401.2,244.6 L400.0,243.6 L399.3,242.4 L399.1,240.7 L399.3,239.0 L400.0,237.8 L401.2,236.8 L402.9,236.0 L404.9,235.4 L407.5,234.9 L410.6,234.7 L415.2,234.6 L419.8,234.7 L422.9,234.9 L425.5,235.4 L427.5,236.0 L429.2,236.8 L430.4,237.8 L431.1,239.0Z" fill="#e2f0fd" stroke="#93c6f6" stroke-width="0.5"/>
<path d="M426.4,240.7 L426.3,241.9 L425.8,242.7 L424.9,243.4 L423.8,244.0 L422.3,244.4 L420.6,244.7 L418.4,244.9 L415.2,245.0 L412.0,244.9 L409.8,244.7 L408.1,244.4 L406.6,244.0 L405.5,243.4 L404.6,242.7 L404.1,241.9 L404.0,240.7 L404.1,239.5 L404.6,238.7 L405.5,238.0 L406.6,237.4 L408.1,237.0 L409.8,236.7 L412.0,236.5 L415.2,236.4 L418.4,236.5 L420.6,236.7 L422.3,237.0 L423.8,237.4 L424.9,238.0 L425.8,238.7 L426.3,239.5Z" fill="#edf6fe" stroke="#a9d2f8" stroke-width="0.5"/>
<path d="M421.5,240.7 L421.5,241.4 L421.2,241.9 L420.7,242.2 L420.1,242.6 L419.2,242.8 L418.2,243.0 L417.0,243.1 L415.2,243.1 L413.4,243.1 L412.2,243.0 L411.2,242.8 L410.3,242.6 L409.7,242.2 L409.2,241.9 L408.9,241.4 L408.9,240.7 L408.9,240.0 L409.2,239.5 L409.7,239.2 L410.3,238.8 L411.2,238.6 L412.2,238.4 L413.4,238.3 L415.2,238.3 L417.0,238.3 L418.2,238.4 L419.2,238.6 L420.1,238.8 L420.7,239.2 L421.2,239.5 L421.5,240.0Z" fill="#f6fbff" stroke="#bddcf9" stroke-width="0.5"/>
</g>
</g>
<clipPath id="cp393_184"><rect x="393.2" y="184.2" width="68" height="68"/></clipPath>
<rect x="405.40" y="201.70" width="36.40" height="28.50" stroke="#222" stroke-width="1.4" fill="none"/>
<rect x="405.40" y="232.40" width="36.40" height="17.70" stroke="#222" stroke-width="1.4" fill="none"/>
<rect x="393.20" y="278.50" width="68.00" height="68.00" stroke="#9a9a9a" stroke-width="0.8" fill="none"/>
<line x1="392.40" y1="284.17" x2="393.20" y2="284.17" stroke="#888" stroke-width="0.5"/>
<line x1="392.40" y1="289.83" x2="393.20" y2="289.83" stroke="#888" stroke-width="0.5"/>
<line x1="391.70" y1="295.50" x2="393.20" y2="295.50" stroke="#888" stroke-width="0.5"/>
<line x1="392.40" y1="301.17" x2="393.20" y2="301.17" stroke="#888" stroke-width="0.5"/>
<line x1="392.40" y1="306.83" x2="393.20" y2="306.83" stroke="#888" stroke-width="0.5"/>
<line x1="391.70" y1="312.50" x2="393.20" y2="312.50" stroke="#888" stroke-width="0.5"/>
<line x1="392.40" y1="318.17" x2="393.20" y2="318.17" stroke="#888" stroke-width="0.5"/>
<line x1="392.40" y1="323.83" x2="393.20" y2="323.83" stroke="#888" stroke-width="0.5"/>
<line x1="391.70" y1="329.50" x2="393.20" y2="329.50" stroke="#888" stroke-width="0.5"/>
<line x1="392.40" y1="335.17" x2="393.20" y2="335.17" stroke="#888" stroke-width="0.5"/>
<line x1="392.40" y1="340.83" x2="393.20" y2="340.83" stroke="#888" stroke-width="0.5"/>
<line x1="398.87" y1="346.50" x2="398.87" y2="347.30" stroke="#888" stroke-width="0.5"/>
<line x1="404.53" y1="346.50" x2="404.53" y2="347.30" stroke="#888" stroke-width="0.5"/>
<line x1="410.20" y1="346.50" x2="410.20" y2="348.00" stroke="#888" stroke-width="0.5"/>
<line x1="415.87" y1="346.50" x2="415.87" y2="347.30" stroke="#888" stroke-width="0.5"/>
<line x1="421.53" y1="346.50" x2="421.53" y2="347.30" stroke="#888" stroke-width="0.5"/>
<line x1="427.20" y1="346.50" x2="427.20" y2="348.00" stroke="#888" stroke-width="0.5"/>
<line x1="432.87" y1="346.50" x2="432.87" y2="347.30" stroke="#888" stroke-width="0.5"/>
<line x1="438.53" y1="346.50" x2="438.53" y2="347.30" stroke="#888" stroke-width="0.5"/>
<line x1="444.20" y1="346.50" x2="444.20" y2="348.00" stroke="#888" stroke-width="0.5"/>
<line x1="449.87" y1="346.50" x2="449.87" y2="347.30" stroke="#888" stroke-width="0.5"/>
<line x1="455.53" y1="346.50" x2="455.53" y2="347.30" stroke="#888" stroke-width="0.5"/>
<g clip-path="url(#cp393_278)">
<path d="M422 310h1v1h-1zM424 314h1v1h-1zM429 306h1v1h-1zM412 305h1v1h-1zM427 304h1v1h-1zM413 313h1v1h-1zM406 320h1v1h-1zM422 322h1v1h-1zM432 321h1v1h-1zM438 312h1v1h-1zM425 313h1v1h-1zM415 310h1v1h-1zM428 309h1v1h-1zM413 309h1v1h-1zM407 322h1v1h-1zM418 308h1v1h-1zM425 307h1v1h-1zM435 305h1v1h-1zM417 318h1v1h-1zM408 319h1v1h-1zM414 310h1v1h-1zM403 303h1v1h-1zM422 313h1v1h-1zM426 319h1v1h-1zM412 322h1v1h-1zM418 314h1v1h-1zM425 318h1v1h-1zM430 312h1v1h-1zM409 324h1v1h-1zM425 312h1v1h-1zM414 320h1v1h-1zM416 314h1v1h-1zM417 310h1v1h-1zM435 310h1v1h-1zM408 314h1v1h-1zM419 315h1v1h-1zM419 314h1v1h-1zM428 311h1v1h-1zM421 311h1v1h-1zM423 311h1v1h-1zM428 322h1v1h-1zM431 318h1v1h-1zM422 319h1v1h-1zM415 319h1v1h-1zM418 307h1v1h-1zM419 299h1v1h-1zM436 305h1v1h-1zM430 308h1v1h-1zM420 322h1v1h-1zM404 322h1v1h-1zM422 314h1v1h-1zM410 306h1v1h-1zM429 318h1v1h-1zM438 315h1v1h-1zM412 316h1v1h-1zM410 311h1v1h-1zM415 315h1v1h-1zM421 305h1v1h-1zM430 313h1v1h-1zM436 316h1v1h-1zM416 313h1v1h-1zM429 316h1v1h-1zM408 307h1v1h-1zM430 315h1v1h-1zM413 306h1v1h-1zM407 316h1v1h-1zM431 314h1v1h-1zM419 308h1v1h-1zM428 307h1v1h-1zM424 316h1v1h-1zM417 313h1v1h-1zM428 317h1v1h-1zM429 327h1v1h-1zM443 316h1v1h-1zM430 307h1v1h-1zM413 322h1v1h-1zM433 312h1v1h-1zM423 306h1v1h-1zM426 308h1v1h-1zM432 310h1v1h-1zM436 324h1v1h-1zM424 308h1v1h-1zM419 317h1v1h-1zM432 317h1v1h-1zM424 296h1v1h-1zM436 302h1v1h-1zM436 310h1v1h-1zM409 321h1v1h-1zM415 314h1v1h-1zM411 317h1v1h-1zM403 328h1v1h-1zM421 322h1v1h-1zM423 323h1v1h-1zM427 311h1v1h-1zM423 316h1v1h-1zM416 308h1v1h-1zM417 314h1v1h-1zM412 310h1v1h-1zM420 312h1v1h-1zM428 313h1v1h-1z" fill="#2f7ff0" fill-opacity="0.8"/>
<path d="M407 338h1v1h-1zM410 331h1v1h-1zM408 327h1v1h-1zM403 326h1v1h-1zM397 331h1v1h-1zM408 338h1v1h-1zM396 334h1v1h-1zM396 330h1v1h-1zM409 336h1v1h-1zM408 336h1v1h-1zM405 325h1v1h-1zM410 334h1v1h-1zM404 339h1v1h-1zM400 339h1v1h-1zM404 340h1v1h-1zM399 338h1v1h-1zM402 326h1v1h-1zM402 340h1v1h-1zM405 338h1v1h-1zM397 328h1v1h-1zM402 325h1v1h-1zM401 326h1v1h-1zM410 332h1v1h-1zM410 333h1v1h-1zM409 330h1v1h-1zM410 330h1v1h-1zM399 327h1v1h-1zM408 337h1v1h-1zM401 339h1v1h-1zM410 335h1v1h-1zM403 340h1v1h-1zM404 326h1v1h-1zM398 327h1v1h-1zM403 339h1v1h-1zM406 340h1v1h-1zM410 329h1v1h-1zM409 337h1v1h-1zM407 327h1v1h-1zM396 332h1v1h-1zM396 336h1v1h-1zM406 327h1v1h-1zM396 333h1v1h-1z" fill="#3d8ff0" fill-opacity="0.85"/>
<g>
<ellipse cx="403.6" cy="333.0" rx="7.30" ry="7.30" fill="none" stroke="#5aa8f2" stroke-width="1.6" stroke-opacity="0.7" filter="url(#bl)"/>
<ellipse cx="403.6" cy="333.0" rx="7.00" ry="7.00" fill="#7dbcf5" stroke="#4a9ff0" stroke-width="0.5"/>
<ellipse cx="403.6" cy="333.0" rx="5.37" ry="5.37" fill="#98caf7" stroke="#6fb1f3" stroke-width="0.5"/>
<ellipse cx="403.6" cy="333.0" rx="3.74" ry="3.74" fill="#b8dbf9" stroke="#8cc3f6" stroke-width="0.5"/>
<ellipse cx="403.6" cy="333.0" rx="2.12" ry="2.12" fill="#d8ebfc" stroke="#a9d2f8" stroke-width="0.5"/>
</g>
<path d="M433 331h1v1h-1zM407 332h1v1h-1zM417 339h1v1h-1zM434 330h1v1h-1zM410 337h1v1h-1zM431 326h1v1h-1zM422 323h1v1h-1zM430 333h1v1h-1zM414 323h1v1h-1zM408 335h1v1h-1zM424 339h1v1h-1zM426 324h1v1h-1zM420 338h1v1h-1zM412 337h1v1h-1zM418 340h1v1h-1zM407 336h1v1h-1zM430 337h1v1h-1zM407 326h1v1h-1zM410 338h1v1h-1zM427 325h1v1h-1zM432 328h1v1h-1zM409 324h1v1h-1zM405 328h1v1h-1zM412 325h1v1h-1zM434 331h1v1h-1zM418 324h1v1h-1zM419 339h1v1h-1zM435 332h1v1h-1zM432 336h1v1h-1zM406 334h1v1h-1zM424 338h1v1h-1zM426 325h1v1h-1zM406 329h1v1h-1zM415 338h1v1h-1zM420 339h1v1h-1zM431 336h1v1h-1zM412 339h1v1h-1zM408 327h1v1h-1zM423 339h1v1h-1zM423 323h1v1h-1zM426 338h1v1h-1zM431 325h1v1h-1zM407 330h1v1h-1zM415 339h1v1h-1zM407 328h1v1h-1zM432 334h1v1h-1zM407 327h1v1h-1zM434 329h1v1h-1zM418 322h1v1h-1zM421 323h1v1h-1zM428 325h1v1h-1zM418 339h1v1h-1zM410 336h1v1h-1zM426 339h1v1h-1zM422 340h1v1h-1zM421 340h1v1h-1zM422 339h1v1h-1zM406 331h1v1h-1zM424 323h1v1h-1zM417 322h1v1h-1zM412 323h1v1h-1zM407 334h1v1h-1zM420 324h1v1h-1zM406 328h1v1h-1zM428 338h1v1h-1zM405 329h1v1h-1zM434 335h1v1h-1zM411 337h1v1h-1z" fill="#3d8ff0" fill-opacity="0.85"/>
<g>
<ellipse cx="420.2" cy="331.5" rx="14.30" ry="8.30" fill="none" stroke="#5aa8f2" stroke-width="1.6" stroke-opacity="0.7" filter="url(#bl)"/>
<ellipse cx="420.2" cy="331.5" rx="14.00" ry="8.00" fill="#7dbcf5" stroke="#4a9ff0" stroke-width="0.5"/>
<ellipse cx="420.2" cy="331.5" rx="10.74" ry="6.14" fill="#98caf7" stroke="#6fb1f3" stroke-width="0.5"/>
<ellipse cx="420.2" cy="331.5" rx="7.49" ry="4.28" fill="#b8dbf9" stroke="#8cc3f6" stroke-width="0.5"/>
<ellipse cx="420.2" cy="331.5" rx="4.23" ry="2.42" fill="#d8ebfc" stroke="#a9d2f8" stroke-width="0.5"/>
</g>
</g>
<clipPath id="cp393_278"><rect x="393.2" y="278.5" width="68" height="68"/></clipPath>
<rect x="407.60" y="295.50" width="38.10" height="49.70" stroke="#222" stroke-width="1.4" fill="none"/>
<line x1="407.60" y1="328.00" x2="445.70" y2="328.00" stroke="#222" stroke-width="1.6"/>
<text x="51.5" y="179.8" font-size="9.2" text-anchor="middle" fill="#111" stroke="#111" stroke-width="0.18">sgRosa26</text>
<text x="51.5" y="275.5" font-size="9.2" text-anchor="middle" fill="#111" stroke="#111" stroke-width="0.18">sgRosa26</text>
<text x="124.5" y="179.8" font-size="9.2" text-anchor="middle" fill="#111" stroke="#111" stroke-width="0.18">sgTfdp1-1</text>
<text x="124.5" y="275.5" font-size="9.2" text-anchor="middle" fill="#111" stroke="#111" stroke-width="0.18">sgE2f4-2</text>
<text x="197.5" y="179.8" font-size="9.2" text-anchor="middle" fill="#111" stroke="#111" stroke-width="0.18">sgTfdp1-2</text>
<text x="197.5" y="275.5" font-size="9.2" text-anchor="middle" fill="#111" stroke="#111" stroke-width="0.18">sgE2f4-3</text>
<text x="281.7" y="179.8" font-size="9.2" text-anchor="middle" fill="#111" stroke="#111" stroke-width="0.18">sgRosa26</text>
<text x="281.7" y="275.5" font-size="9.2" text-anchor="middle" fill="#111" stroke="#111" stroke-width="0.18">sgRosa26</text>
<text x="354.5" y="179.8" font-size="9.2" text-anchor="middle" fill="#111" stroke="#111" stroke-width="0.18">sgTfdp1-1</text>
<text x="354.5" y="275.5" font-size="9.2" text-anchor="middle" fill="#111" stroke="#111" stroke-width="0.18">sgE2f4-2</text>
<text x="427.7" y="179.8" font-size="9.2" text-anchor="middle" fill="#111" stroke="#111" stroke-width="0.18">sgTfdp1-2</text>
<text x="427.7" y="275.5" font-size="9.2" text-anchor="middle" fill="#111" stroke="#111" stroke-width="0.18">sgE2f4-3</text>
<text x="155.9" y="220.0" font-size="8" text-anchor="end" fill="#111" stroke="#111" stroke-width="0.18">1.5</text>
<text x="155.9" y="248.8" font-size="8" text-anchor="end" fill="#111" stroke="#111" stroke-width="0.18">15.4</text>
<text x="228.9" y="220.0" font-size="8" text-anchor="end" fill="#111" stroke="#111" stroke-width="0.18">0.5</text>
<text x="228.9" y="248.8" font-size="8" text-anchor="end" fill="#111" stroke="#111" stroke-width="0.18">19.1</text>
<text x="313.1" y="220.0" font-size="8" text-anchor="end" fill="#111" stroke="#111" stroke-width="0.18">64.5</text>
<text x="313.1" y="248.8" font-size="8" text-anchor="end" fill="#111" stroke="#111" stroke-width="0.18">24.3</text>
<text x="385.9" y="220.0" font-size="8" text-anchor="end" fill="#111" stroke="#111" stroke-width="0.18">11.6</text>
<text x="385.9" y="248.8" font-size="8" text-anchor="end" fill="#111" stroke="#111" stroke-width="0.18">62.4</text>
<text x="459.1" y="220.0" font-size="8" text-anchor="end" fill="#111" stroke="#111" stroke-width="0.18">3.6</text>
<text x="459.1" y="248.8" font-size="8" text-anchor="end" fill="#111" stroke="#111" stroke-width="0.18">79.1</text>
<text x="75.0" y="209.0" font-size="8" text-anchor="middle" fill="#3aa040" stroke="#3aa040" stroke-width="0.18">Cas9</text>
<text x="75.0" y="218.2" font-size="8" text-anchor="middle" fill="#3aa040" stroke="#3aa040" stroke-width="0.18">34.4</text>
<text x="75.0" y="238.0" font-size="8" text-anchor="middle" fill="#111" stroke="#111" stroke-width="0.18">WT</text>
<text x="75.0" y="247.2" font-size="8" text-anchor="middle" fill="#111" stroke="#111" stroke-width="0.18">15.8</text>
<text x="85.0" y="314.0" font-size="8" text-anchor="end" fill="#111" stroke="#111" stroke-width="0.18">16.7</text>
<text x="85.0" y="341.7" font-size="8" text-anchor="end" fill="#111" stroke="#111" stroke-width="0.18">12.5</text>
<text x="158.0" y="314.0" font-size="8" text-anchor="end" fill="#111" stroke="#111" stroke-width="0.18">1.5</text>
<text x="158.0" y="341.7" font-size="8" text-anchor="end" fill="#111" stroke="#111" stroke-width="0.18">12.3</text>
<text x="231.0" y="314.0" font-size="8" text-anchor="end" fill="#111" stroke="#111" stroke-width="0.18">1.3</text>
<text x="231.0" y="341.7" font-size="8" text-anchor="end" fill="#111" stroke="#111" stroke-width="0.18">23.4</text>
<text x="315.2" y="314.0" font-size="8" text-anchor="end" fill="#111" stroke="#111" stroke-width="0.18">32.4</text>
<text x="315.2" y="341.7" font-size="8" text-anchor="end" fill="#111" stroke="#111" stroke-width="0.18">36.0</text>
<text x="388.0" y="314.0" font-size="8" text-anchor="end" fill="#111" stroke="#111" stroke-width="0.18">9.9</text>
<text x="388.0" y="341.7" font-size="8" text-anchor="end" fill="#111" stroke="#111" stroke-width="0.18">50.6</text>
<text x="461.2" y="314.0" font-size="8" text-anchor="end" fill="#111" stroke="#111" stroke-width="0.18">7.9</text>
<text x="461.2" y="341.7" font-size="8" text-anchor="end" fill="#111" stroke="#111" stroke-width="0.18">71.8</text>
<text x="126.0" y="161.8" font-size="10.6" text-anchor="middle" fill="#111" stroke="#111" stroke-width="0.18">Bone marrow</text>
<line x1="16.50" y1="167.00" x2="231.00" y2="167.00" stroke="#333" stroke-width="0.9"/>
<text x="353.0" y="161.8" font-size="10.6" text-anchor="middle" fill="#111" stroke="#111" stroke-width="0.18">Spleen</text>
<line x1="247.30" y1="167.00" x2="461.00" y2="167.00" stroke="#333" stroke-width="0.9"/>
<line x1="8.80" y1="192.00" x2="8.80" y2="292.00" stroke="#444" stroke-width="0.8"/>
<path d="M8.8,188.2 L7.3,193 L10.3,193 Z" fill="#444"/>
<text x="10.3" y="319.5" font-size="9.2" text-anchor="middle" fill="#111" stroke="#111" stroke-width="0.18" transform="rotate(-90 10.3 319.5)">GFP (Cas9)</text>
<text x="18.2" y="358.3" font-size="9.2" text-anchor="start" fill="#111" stroke="#111" stroke-width="0.18">mCherry (sgRNA)</text>
<line x1="92.00" y1="354.60" x2="452.00" y2="354.60" stroke="#444" stroke-width="0.8"/>
<path d="M455.5,354.6 L450.5,353.1 L450.5,356.1 Z" fill="#444"/>
<text x="475.4" y="163.5" font-size="18.5" text-anchor="start" fill="#111" font-weight="bold">C</text>
<line x1="524.40" y1="161.10" x2="524.40" y2="239.40" stroke="#444" stroke-width="1.2"/>
<line x1="520.20" y1="161.70" x2="524.40" y2="161.70" stroke="#444" stroke-width="1.2"/>
<text x="518.4" y="164.9" font-size="8.9" text-anchor="end" fill="#111" stroke="#111" stroke-width="0.18">3</text>
<line x1="520.20" y1="187.40" x2="524.40" y2="187.40" stroke="#444" stroke-width="1.2"/>
<text x="518.4" y="190.6" font-size="8.9" text-anchor="end" fill="#111" stroke="#111" stroke-width="0.18">2</text>
<line x1="520.20" y1="213.10" x2="524.40" y2="213.10" stroke="#444" stroke-width="1.2"/>
<text x="518.4" y="216.3" font-size="8.9" text-anchor="end" fill="#111" stroke="#111" stroke-width="0.18">1</text>
<line x1="520.20" y1="238.80" x2="524.40" y2="238.80" stroke="#444" stroke-width="1.2"/>
<text x="518.4" y="242.0" font-size="8.9" text-anchor="end" fill="#111" stroke="#111" stroke-width="0.18">0</text>
<line x1="520.00" y1="238.80" x2="635.00" y2="238.80" stroke="#555" stroke-width="1.4"/>
<line x1="551.00" y1="238.80" x2="551.00" y2="242.60" stroke="#444" stroke-width="1.2"/>
<line x1="608.00" y1="238.80" x2="608.00" y2="242.60" stroke="#444" stroke-width="1.2"/>
<text x="550.8" y="254.2" font-size="9.2" text-anchor="middle" fill="#111" stroke="#111" stroke-width="0.18">BM</text>
<text x="608.2" y="254.2" font-size="9.2" text-anchor="middle" fill="#111" stroke="#111" stroke-width="0.18">Spleen</text>
<text x="497.3" y="201.2" font-size="8.9" text-anchor="middle" fill="#111" stroke="#111" stroke-width="0.18" transform="rotate(-90 497.3 201.25)">GFP+/GFP- ratio</text>
<text x="507.5" y="200.8" font-size="8.9" text-anchor="middle" fill="#111" stroke="#111" stroke-width="0.18" transform="rotate(-90 507.5 200.75)">(in mCherry+ cells)</text>
<circle cx="534.90" cy="172.40" r="2.60" fill="#8a8a8a" stroke="none" stroke-width="0"/>
<circle cx="532.20" cy="190.80" r="2.60" fill="#8a8a8a" stroke="none" stroke-width="0"/>
<circle cx="537.40" cy="189.10" r="2.60" fill="#8a8a8a" stroke="none" stroke-width="0"/>
<line x1="528.30" y1="184.10" x2="541.30" y2="184.10" stroke="#111" stroke-width="1.2"/>
<circle cx="548.50" cy="233.90" r="2.60" fill="#1f1ff5" stroke="none" stroke-width="0"/>
<circle cx="552.50" cy="233.40" r="2.60" fill="#1f1ff5" stroke="none" stroke-width="0"/>
<circle cx="550.50" cy="231.40" r="2.60" fill="#1f1ff5" stroke="none" stroke-width="0"/>
<circle cx="550.00" cy="235.40" r="2.60" fill="#1f1ff5" stroke="none" stroke-width="0"/>
<line x1="544.30" y1="232.90" x2="557.30" y2="232.90" stroke="#111" stroke-width="1.2"/>
<circle cx="564.50" cy="235.90" r="2.60" fill="#f39a30" stroke="none" stroke-width="0"/>
<circle cx="568.50" cy="235.40" r="2.60" fill="#f39a30" stroke="none" stroke-width="0"/>
<circle cx="566.50" cy="234.40" r="2.60" fill="#f39a30" stroke="none" stroke-width="0"/>
<circle cx="566.00" cy="236.90" r="2.60" fill="#f39a30" stroke="none" stroke-width="0"/>
<line x1="560.30" y1="235.20" x2="573.30" y2="235.20" stroke="#111" stroke-width="1.2"/>
<circle cx="592.70" cy="166.50" r="2.60" fill="#8a8a8a" stroke="none" stroke-width="0"/>
<circle cx="592.70" cy="173.70" r="2.60" fill="#8a8a8a" stroke="none" stroke-width="0"/>
<circle cx="592.70" cy="189.00" r="2.60" fill="#8a8a8a" stroke="none" stroke-width="0"/>
<line x1="586.20" y1="176.70" x2="599.20" y2="176.70" stroke="#111" stroke-width="1.2"/>
<circle cx="606.20" cy="233.40" r="2.60" fill="#1f1ff5" stroke="none" stroke-width="0"/>
<circle cx="610.60" cy="233.40" r="2.60" fill="#1f1ff5" stroke="none" stroke-width="0"/>
<circle cx="608.40" cy="229.90" r="2.60" fill="#1f1ff5" stroke="none" stroke-width="0"/>
<circle cx="608.40" cy="233.90" r="2.60" fill="#1f1ff5" stroke="none" stroke-width="0"/>
<line x1="601.90" y1="232.70" x2="614.90" y2="232.70" stroke="#111" stroke-width="1.2"/>
<circle cx="621.50" cy="235.90" r="2.60" fill="#f39a30" stroke="none" stroke-width="0"/>
<circle cx="625.50" cy="234.90" r="2.60" fill="#f39a30" stroke="none" stroke-width="0"/>
<circle cx="623.50" cy="233.90" r="2.60" fill="#f39a30" stroke="none" stroke-width="0"/>
<circle cx="623.00" cy="236.90" r="2.60" fill="#f39a30" stroke="none" stroke-width="0"/>
<line x1="617.70" y1="234.90" x2="630.70" y2="234.90" stroke="#111" stroke-width="1.2"/>
<circle cx="636.00" cy="163.80" r="2.70" fill="#8a8a8a" stroke="none" stroke-width="0"/>
<text x="642.6" y="166.9" font-size="9.4" text-anchor="start" fill="#111" stroke="#111" stroke-width="0.18">sgRosa26</text>
<circle cx="636.00" cy="177.80" r="2.70" fill="#1f1ff5" stroke="none" stroke-width="0"/>
<text x="642.6" y="180.9" font-size="9.4" text-anchor="start" fill="#111" stroke="#111" stroke-width="0.18">sgTfdp1-1</text>
<circle cx="636.00" cy="191.80" r="2.70" fill="#f39a30" stroke="none" stroke-width="0"/>
<text x="642.6" y="194.9" font-size="9.4" text-anchor="start" fill="#111" stroke="#111" stroke-width="0.18">sgTfdp1-2</text>
<line x1="524.40" y1="263.20" x2="524.40" y2="341.50" stroke="#444" stroke-width="1.2"/>
<line x1="520.20" y1="263.80" x2="524.40" y2="263.80" stroke="#444" stroke-width="1.2"/>
<text x="518.4" y="267.0" font-size="8.9" text-anchor="end" fill="#111" stroke="#111" stroke-width="0.18">3</text>
<line x1="520.20" y1="289.50" x2="524.40" y2="289.50" stroke="#444" stroke-width="1.2"/>
<text x="518.4" y="292.7" font-size="8.9" text-anchor="end" fill="#111" stroke="#111" stroke-width="0.18">2</text>
<line x1="520.20" y1="315.20" x2="524.40" y2="315.20" stroke="#444" stroke-width="1.2"/>
<text x="518.4" y="318.4" font-size="8.9" text-anchor="end" fill="#111" stroke="#111" stroke-width="0.18">1</text>
<line x1="520.20" y1="340.90" x2="524.40" y2="340.90" stroke="#444" stroke-width="1.2"/>
<text x="518.4" y="344.1" font-size="8.9" text-anchor="end" fill="#111" stroke="#111" stroke-width="0.18">0</text>
<line x1="520.00" y1="340.90" x2="635.00" y2="340.90" stroke="#555" stroke-width="1.4"/>
<line x1="551.00" y1="340.90" x2="551.00" y2="344.70" stroke="#444" stroke-width="1.2"/>
<line x1="608.00" y1="340.90" x2="608.00" y2="344.70" stroke="#444" stroke-width="1.2"/>
<text x="550.8" y="356.3" font-size="9.2" text-anchor="middle" fill="#111" stroke="#111" stroke-width="0.18">BM</text>
<text x="608.2" y="356.3" font-size="9.2" text-anchor="middle" fill="#111" stroke="#111" stroke-width="0.18">Spleen</text>
<text x="497.3" y="303.4" font-size="8.9" text-anchor="middle" fill="#111" stroke="#111" stroke-width="0.18" transform="rotate(-90 497.3 303.35)">GFP+/GFP- ratio</text>
<text x="507.5" y="302.9" font-size="8.9" text-anchor="middle" fill="#111" stroke="#111" stroke-width="0.18" transform="rotate(-90 507.5 302.85)">(in mCherry+ cells)</text>
<circle cx="538.10" cy="290.90" r="2.60" fill="#8a8a8a" stroke="none" stroke-width="0"/>
<circle cx="532.60" cy="296.00" r="2.60" fill="#8a8a8a" stroke="none" stroke-width="0"/>
<circle cx="535.20" cy="310.30" r="2.60" fill="#8a8a8a" stroke="none" stroke-width="0"/>
<circle cx="535.20" cy="326.20" r="2.60" fill="#8a8a8a" stroke="none" stroke-width="0"/>
<line x1="528.60" y1="305.80" x2="541.60" y2="305.80" stroke="#111" stroke-width="1.2"/>
<circle cx="548.80" cy="337.60" r="2.60" fill="#b07d42" stroke="none" stroke-width="0"/>
<circle cx="552.80" cy="337.10" r="2.60" fill="#b07d42" stroke="none" stroke-width="0"/>
<circle cx="550.80" cy="335.10" r="2.60" fill="#b07d42" stroke="none" stroke-width="0"/>
<circle cx="551.00" cy="339.10" r="2.60" fill="#b07d42" stroke="none" stroke-width="0"/>
<circle cx="549.50" cy="339.60" r="2.60" fill="#b07d42" stroke="none" stroke-width="0"/>
<line x1="544.30" y1="337.60" x2="557.30" y2="337.60" stroke="#111" stroke-width="1.2"/>
<circle cx="566.00" cy="338.10" r="2.60" fill="#ff3df5" stroke="none" stroke-width="0"/>
<circle cx="569.00" cy="337.10" r="2.60" fill="#ff3df5" stroke="none" stroke-width="0"/>
<circle cx="567.50" cy="333.60" r="2.60" fill="#ff3df5" stroke="none" stroke-width="0"/>
<circle cx="566.00" cy="339.60" r="2.60" fill="#ff3df5" stroke="none" stroke-width="0"/>
<circle cx="568.50" cy="339.60" r="2.60" fill="#ff3df5" stroke="none" stroke-width="0"/>
<line x1="560.80" y1="337.40" x2="573.80" y2="337.40" stroke="#111" stroke-width="1.2"/>
<circle cx="593.00" cy="299.90" r="2.60" fill="#8a8a8a" stroke="none" stroke-width="0"/>
<circle cx="599.00" cy="314.80" r="2.60" fill="#8a8a8a" stroke="none" stroke-width="0"/>
<circle cx="590.60" cy="318.10" r="2.60" fill="#8a8a8a" stroke="none" stroke-width="0"/>
<circle cx="596.00" cy="314.10" r="2.60" fill="#8a8a8a" stroke="none" stroke-width="0"/>
<line x1="586.00" y1="312.30" x2="599.00" y2="312.30" stroke="#111" stroke-width="1.2"/>
<circle cx="606.00" cy="338.10" r="2.60" fill="#b07d42" stroke="none" stroke-width="0"/>
<circle cx="610.50" cy="338.10" r="2.60" fill="#b07d42" stroke="none" stroke-width="0"/>
<circle cx="608.00" cy="336.10" r="2.60" fill="#b07d42" stroke="none" stroke-width="0"/>
<circle cx="608.30" cy="339.60" r="2.60" fill="#b07d42" stroke="none" stroke-width="0"/>
<line x1="601.90" y1="338.10" x2="614.90" y2="338.10" stroke="#111" stroke-width="1.2"/>
<circle cx="622.00" cy="338.10" r="2.60" fill="#ff3df5" stroke="none" stroke-width="0"/>
<circle cx="626.00" cy="338.60" r="2.60" fill="#ff3df5" stroke="none" stroke-width="0"/>
<circle cx="624.00" cy="336.60" r="2.60" fill="#ff3df5" stroke="none" stroke-width="0"/>
<circle cx="624.00" cy="339.60" r="2.60" fill="#ff3df5" stroke="none" stroke-width="0"/>
<line x1="617.70" y1="338.10" x2="630.70" y2="338.10" stroke="#111" stroke-width="1.2"/>
<circle cx="636.00" cy="265.90" r="2.70" fill="#8a8a8a" stroke="none" stroke-width="0"/>
<text x="642.6" y="269.0" font-size="9.4" text-anchor="start" fill="#111" stroke="#111" stroke-width="0.18">sgRosa26</text>
<circle cx="636.00" cy="279.90" r="2.70" fill="#b07d42" stroke="none" stroke-width="0"/>
<text x="642.6" y="283.0" font-size="9.4" text-anchor="start" fill="#111" stroke="#111" stroke-width="0.18">sgE2f4-2</text>
<circle cx="636.00" cy="293.90" r="2.70" fill="#ff3df5" stroke="none" stroke-width="0"/>
<text x="642.6" y="297.0" font-size="9.4" text-anchor="start" fill="#111" stroke="#111" stroke-width="0.18">sgE2f4-3</text>
<text x="0.0" y="390.1" font-size="18.5" text-anchor="start" fill="#111" font-weight="bold">D</text>
<rect x="33.30" y="391.30" width="67.40" height="67.70" stroke="#aaa" stroke-width="0.8" fill="none"/>
<line x1="32.50" y1="398.07" x2="33.30" y2="398.07" stroke="#777" stroke-width="0.5"/>
<line x1="31.70" y1="404.84" x2="33.30" y2="404.84" stroke="#777" stroke-width="0.5"/>
<line x1="32.50" y1="411.61" x2="33.30" y2="411.61" stroke="#777" stroke-width="0.5"/>
<line x1="31.70" y1="418.38" x2="33.30" y2="418.38" stroke="#777" stroke-width="0.5"/>
<line x1="32.50" y1="425.15" x2="33.30" y2="425.15" stroke="#777" stroke-width="0.5"/>
<line x1="31.70" y1="431.92" x2="33.30" y2="431.92" stroke="#777" stroke-width="0.5"/>
<line x1="32.50" y1="438.69" x2="33.30" y2="438.69" stroke="#777" stroke-width="0.5"/>
<line x1="31.70" y1="445.46" x2="33.30" y2="445.46" stroke="#777" stroke-width="0.5"/>
<line x1="32.50" y1="452.23" x2="33.30" y2="452.23" stroke="#777" stroke-width="0.5"/>
<line x1="40.04" y1="459.00" x2="40.04" y2="459.80" stroke="#777" stroke-width="0.5"/>
<line x1="46.78" y1="459.00" x2="46.78" y2="460.60" stroke="#777" stroke-width="0.5"/>
<line x1="53.52" y1="459.00" x2="53.52" y2="459.80" stroke="#777" stroke-width="0.5"/>
<line x1="60.26" y1="459.00" x2="60.26" y2="460.60" stroke="#777" stroke-width="0.5"/>
<line x1="67.00" y1="459.00" x2="67.00" y2="459.80" stroke="#777" stroke-width="0.5"/>
<line x1="73.74" y1="459.00" x2="73.74" y2="460.60" stroke="#777" stroke-width="0.5"/>
<line x1="80.48" y1="459.00" x2="80.48" y2="459.80" stroke="#777" stroke-width="0.5"/>
<line x1="87.22" y1="459.00" x2="87.22" y2="460.60" stroke="#777" stroke-width="0.5"/>
<line x1="93.96" y1="459.00" x2="93.96" y2="459.80" stroke="#777" stroke-width="0.5"/>
<path d="M42 411h1v1h-1zM73 442h1v1h-1zM52 428h1v1h-1zM65 430h1v1h-1zM57 427h1v1h-1zM54 437h1v1h-1zM71 429h1v1h-1zM61 443h1v1h-1zM72 417h1v1h-1zM70 431h1v1h-1zM59 423h1v1h-1zM70 432h1v1h-1zM64 441h1v1h-1zM59 425h1v1h-1zM51 439h1v1h-1zM59 447h1v1h-1zM62 424h1v1h-1zM43 437h1v1h-1zM63 423h1v1h-1zM61 436h1v1h-1zM63 443h1v1h-1zM62 433h1v1h-1zM61 446h1v1h-1zM67 425h1v1h-1zM53 433h1v1h-1zM57 409h1v1h-1zM70 437h1v1h-1zM61 421h1v1h-1zM61 451h1v1h-1zM67 435h1v1h-1zM48 419h1v1h-1zM65 417h1v1h-1zM74 423h1v1h-1zM59 415h1v1h-1zM52 422h1v1h-1zM60 415h1v1h-1zM56 441h1v1h-1zM77 422h1v1h-1zM65 413h1v1h-1zM58 435h1v1h-1zM60 426h1v1h-1zM61 435h1v1h-1zM68 444h1v1h-1zM52 429h1v1h-1zM72 431h1v1h-1zM59 416h1v1h-1zM65 442h1v1h-1zM38 445h1v1h-1zM61 423h1v1h-1zM66 436h1v1h-1zM51 414h1v1h-1zM55 441h1v1h-1zM51 426h1v1h-1zM59 426h1v1h-1zM64 434h1v1h-1zM46 441h1v1h-1zM68 447h1v1h-1zM47 424h1v1h-1zM66 420h1v1h-1zM58 453h1v1h-1zM35 452h1v1h-1zM73 426h1v1h-1zM65 423h1v1h-1zM54 439h1v1h-1zM83 433h1v1h-1zM63 415h1v1h-1zM70 436h1v1h-1zM50 427h1v1h-1zM62 437h1v1h-1zM45 435h1v1h-1zM73 440h1v1h-1zM54 434h1v1h-1zM74 424h1v1h-1zM53 441h1v1h-1zM60 429h1v1h-1zM54 413h1v1h-1zM61 428h1v1h-1zM63 424h1v1h-1zM47 413h1v1h-1zM47 422h1v1h-1zM67 411h1v1h-1zM65 428h1v1h-1zM65 418h1v1h-1zM54 445h1v1h-1zM35 421h1v1h-1zM48 432h1v1h-1zM60 438h1v1h-1zM54 441h1v1h-1zM44 443h1v1h-1zM48 428h1v1h-1zM43 455h1v1h-1zM52 439h1v1h-1zM54 436h1v1h-1zM58 440h1v1h-1zM76 405h1v1h-1zM53 430h1v1h-1zM62 445h1v1h-1zM75 436h1v1h-1zM51 430h1v1h-1zM57 440h1v1h-1zM57 435h1v1h-1zM69 419h1v1h-1zM61 430h1v1h-1zM52 413h1v1h-1zM71 430h1v1h-1zM50 424h1v1h-1zM68 435h1v1h-1zM55 428h1v1h-1zM50 448h1v1h-1zM55 442h1v1h-1zM55 423h1v1h-1zM61 434h1v1h-1zM72 415h1v1h-1zM53 432h1v1h-1zM36 417h1v1h-1zM57 419h1v1h-1zM58 426h1v1h-1zM66 425h1v1h-1zM69 418h1v1h-1zM63 416h1v1h-1zM36 402h1v1h-1zM46 425h1v1h-1zM71 421h1v1h-1zM55 424h1v1h-1zM59 436h1v1h-1zM50 426h1v1h-1zM66 441h1v1h-1zM57 421h1v1h-1zM60 428h1v1h-1zM74 430h1v1h-1zM66 421h1v1h-1zM48 445h1v1h-1zM40 428h1v1h-1zM52 426h1v1h-1zM56 425h1v1h-1zM64 420h1v1h-1zM40 423h1v1h-1zM67 419h1v1h-1zM48 426h1v1h-1zM65 426h1v1h-1zM53 416h1v1h-1zM60 404h1v1h-1zM51 427h1v1h-1zM65 412h1v1h-1zM70 434h1v1h-1zM65 435h1v1h-1zM73 445h1v1h-1zM47 420h1v1h-1zM73 430h1v1h-1zM80 438h1v1h-1zM75 433h1v1h-1zM48 423h1v1h-1z" fill="#777" fill-opacity="0.6"/>
<path d="M58 414h1v1h-1zM58 413h1v1h-1zM42 411h1v1h-1zM62 412h1v1h-1zM56 416h1v1h-1zM57 410h1v1h-1zM60 414h1v1h-1zM54 418h1v1h-1zM67 418h1v1h-1zM69 421h1v1h-1zM61 416h1v1h-1zM52 419h1v1h-1zM52 413h1v1h-1zM55 416h1v1h-1zM61 418h1v1h-1zM65 412h1v1h-1zM43 412h1v1h-1zM64 418h1v1h-1zM50 415h1v1h-1zM59 417h1v1h-1zM57 415h1v1h-1zM55 410h1v1h-1zM56 414h1v1h-1zM49 420h1v1h-1zM68 420h1v1h-1zM64 411h1v1h-1zM56 415h1v1h-1zM72 415h1v1h-1zM54 417h1v1h-1zM56 413h1v1h-1zM63 416h1v1h-1zM60 417h1v1h-1zM66 413h1v1h-1zM60 418h1v1h-1zM55 412h1v1h-1zM59 409h1v1h-1zM67 411h1v1h-1zM63 417h1v1h-1zM57 414h1v1h-1zM62 419h1v1h-1zM49 415h1v1h-1zM52 417h1v1h-1zM65 418h1v1h-1zM53 423h1v1h-1zM57 419h1v1h-1zM61 414h1v1h-1zM59 414h1v1h-1zM60 419h1v1h-1zM64 415h1v1h-1zM53 416h1v1h-1zM68 414h1v1h-1zM75 417h1v1h-1zM60 412h1v1h-1zM63 413h1v1h-1zM69 413h1v1h-1zM53 418h1v1h-1zM62 416h1v1h-1zM58 416h1v1h-1zM58 415h1v1h-1zM47 414h1v1h-1zM66 412h1v1h-1zM68 413h1v1h-1zM67 413h1v1h-1zM55 417h1v1h-1zM67 414h1v1h-1zM65 411h1v1h-1zM54 416h1v1h-1zM59 413h1v1h-1zM62 418h1v1h-1zM52 412h1v1h-1zM69 414h1v1h-1zM68 411h1v1h-1zM51 415h1v1h-1zM71 410h1v1h-1zM57 418h1v1h-1zM65 415h1v1h-1zM53 411h1v1h-1zM63 407h1v1h-1z" fill="#777" fill-opacity="0.6"/>
<g>
<ellipse cx="62.0" cy="446.5" rx="11.40" ry="3.60" fill="none" stroke="#444" stroke-width="0.91" stroke-opacity="0.8" filter="url(#bl)"/>
<ellipse cx="62.0" cy="446.5" rx="11.00" ry="3.20" fill="#dedede" stroke="#6a6a6a" stroke-width="0.55"/>
<ellipse cx="62.0" cy="446.5" rx="7.67" ry="2.23" fill="#e9e9e9" stroke="#8a8a8a" stroke-width="0.55"/>
<ellipse cx="62.0" cy="446.5" rx="4.33" ry="1.26" fill="#f2f2f2" stroke="#a0a0a0" stroke-width="0.55"/>
</g>
<g transform="rotate(-4 43.0 431.0)">
<ellipse cx="43.0" cy="431.0" rx="5.40" ry="18.90" fill="none" stroke="#444" stroke-width="1.04" stroke-opacity="0.8" filter="url(#bl)"/>
<ellipse cx="43.0" cy="431.0" rx="5.00" ry="18.50" fill="#dedede" stroke="#6a6a6a" stroke-width="0.55"/>
<ellipse cx="43.0" cy="431.0" rx="3.48" ry="12.89" fill="#e9e9e9" stroke="#8a8a8a" stroke-width="0.55"/>
<ellipse cx="43.0" cy="431.0" rx="1.97" ry="7.29" fill="#f2f2f2" stroke="#a0a0a0" stroke-width="0.55"/>
</g>
<g>
<ellipse cx="47.0" cy="448.5" rx="5.40" ry="2.90" fill="none" stroke="#444" stroke-width="0.91" stroke-opacity="0.8" filter="url(#bl)"/>
<ellipse cx="47.0" cy="448.5" rx="5.00" ry="2.50" fill="#dedede" stroke="#6a6a6a" stroke-width="0.55"/>
<ellipse cx="47.0" cy="448.5" rx="2.83" ry="1.41" fill="#e9e9e9" stroke="#8a8a8a" stroke-width="0.55"/>
</g>
<path d="M38 451h1v1h-1zM37 449h1v1h-1zM45 449h1v1h-1zM40 449h1v1h-1zM37 450h1v1h-1zM42 448h1v1h-1zM44 449h1v1h-1zM47 451h1v1h-1zM39 449h1v1h-1zM43 447h1v1h-1zM41 451h1v1h-1zM47 449h1v1h-1zM50 455h1v1h-1zM50 446h1v1h-1zM51 453h1v1h-1zM45 451h1v1h-1zM40 448h1v1h-1zM48 449h1v1h-1zM47 452h1v1h-1zM40 447h1v1h-1zM44 450h1v1h-1zM36 449h1v1h-1zM42 452h1v1h-1z" fill="#666" fill-opacity="0.7"/>
<rect x="48.20" y="409.30" width="24.70" height="12.20" stroke="#444" stroke-width="0.9" fill="none"/>
<circle cx="33.60" cy="443.00" r="1.10" fill="#111" stroke="none" stroke-width="0"/>
<text x="67.2" y="388.4" font-size="9.2" text-anchor="middle" fill="#111" stroke="#111" stroke-width="0.18">mCherry<tspan font-size="5.5" dy="-3.5">+</tspan><tspan dy="3.5"> cells</tspan></text>
<text x="84.6" y="409.6" font-size="9" text-anchor="middle" fill="#111" stroke="#111" stroke-width="0.18">CLP:</text>
<text x="85.1" y="420.7" font-size="9" text-anchor="middle" fill="#111" stroke="#111" stroke-width="0.18">2.5</text>
<text x="28.4" y="429.1" font-size="9.2" text-anchor="middle" fill="#111" stroke="#111" stroke-width="0.18" transform="rotate(-90 28.4 429.1)">Flk2</text>
<text x="64.4" y="469.9" font-size="9.2" text-anchor="middle" fill="#111" stroke="#111" stroke-width="0.18">IL7Rα</text>
<rect x="33.30" y="486.70" width="67.40" height="68.00" stroke="#aaa" stroke-width="0.8" fill="none"/>
<line x1="32.50" y1="493.50" x2="33.30" y2="493.50" stroke="#777" stroke-width="0.5"/>
<line x1="31.70" y1="500.30" x2="33.30" y2="500.30" stroke="#777" stroke-width="0.5"/>
<line x1="32.50" y1="507.10" x2="33.30" y2="507.10" stroke="#777" stroke-width="0.5"/>
<line x1="31.70" y1="513.90" x2="33.30" y2="513.90" stroke="#777" stroke-width="0.5"/>
<line x1="32.50" y1="520.70" x2="33.30" y2="520.70" stroke="#777" stroke-width="0.5"/>
<line x1="31.70" y1="527.50" x2="33.30" y2="527.50" stroke="#777" stroke-width="0.5"/>
<line x1="32.50" y1="534.30" x2="33.30" y2="534.30" stroke="#777" stroke-width="0.5"/>
<line x1="31.70" y1="541.10" x2="33.30" y2="541.10" stroke="#777" stroke-width="0.5"/>
<line x1="32.50" y1="547.90" x2="33.30" y2="547.90" stroke="#777" stroke-width="0.5"/>
<line x1="40.04" y1="554.70" x2="40.04" y2="555.50" stroke="#777" stroke-width="0.5"/>
<line x1="46.78" y1="554.70" x2="46.78" y2="556.30" stroke="#777" stroke-width="0.5"/>
<line x1="53.52" y1="554.70" x2="53.52" y2="555.50" stroke="#777" stroke-width="0.5"/>
<line x1="60.26" y1="554.70" x2="60.26" y2="556.30" stroke="#777" stroke-width="0.5"/>
<line x1="67.00" y1="554.70" x2="67.00" y2="555.50" stroke="#777" stroke-width="0.5"/>
<line x1="73.74" y1="554.70" x2="73.74" y2="556.30" stroke="#777" stroke-width="0.5"/>
<line x1="80.48" y1="554.70" x2="80.48" y2="555.50" stroke="#777" stroke-width="0.5"/>
<line x1="87.22" y1="554.70" x2="87.22" y2="556.30" stroke="#777" stroke-width="0.5"/>
<line x1="93.96" y1="554.70" x2="93.96" y2="555.50" stroke="#777" stroke-width="0.5"/>
<path d="M40 543h1v1h-1zM42 537h1v1h-1zM38 522h1v1h-1zM46 540h1v1h-1zM40 531h1v1h-1zM36 539h1v1h-1zM43 520h1v1h-1zM40 532h1v1h-1zM48 551h1v1h-1zM48 543h1v1h-1zM39 535h1v1h-1zM46 544h1v1h-1zM43 549h1v1h-1zM48 537h1v1h-1zM38 532h1v1h-1zM36 530h1v1h-1zM39 528h1v1h-1zM39 534h1v1h-1zM46 543h1v1h-1zM48 540h1v1h-1zM38 531h1v1h-1zM39 539h1v1h-1zM43 550h1v1h-1zM43 542h1v1h-1zM45 532h1v1h-1zM41 530h1v1h-1zM39 540h1v1h-1zM49 525h1v1h-1zM49 530h1v1h-1zM37 544h1v1h-1zM42 535h1v1h-1zM42 550h1v1h-1zM47 545h1v1h-1zM46 538h1v1h-1zM48 533h1v1h-1zM44 531h1v1h-1zM43 546h1v1h-1zM40 547h1v1h-1zM47 544h1v1h-1zM49 540h1v1h-1zM41 541h1v1h-1zM35 537h1v1h-1zM37 527h1v1h-1zM49 544h1v1h-1zM39 550h1v1h-1zM37 535h1v1h-1zM37 536h1v1h-1zM46 534h1v1h-1zM36 538h1v1h-1zM44 539h1v1h-1zM38 542h1v1h-1zM51 529h1v1h-1zM40 536h1v1h-1zM42 548h1v1h-1zM42 541h1v1h-1zM39 541h1v1h-1zM41 527h1v1h-1zM45 550h1v1h-1zM41 531h1v1h-1zM43 540h1v1h-1zM47 535h1v1h-1zM47 530h1v1h-1zM39 531h1v1h-1zM42 547h1v1h-1zM44 536h1v1h-1zM39 547h1v1h-1zM40 551h1v1h-1zM38 541h1v1h-1zM39 536h1v1h-1zM50 546h1v1h-1zM40 552h1v1h-1zM37 542h1v1h-1zM40 529h1v1h-1zM47 525h1v1h-1zM46 527h1v1h-1zM55 540h1v1h-1zM43 528h1v1h-1zM41 539h1v1h-1zM41 540h1v1h-1zM45 524h1v1h-1zM45 534h1v1h-1zM38 527h1v1h-1zM47 534h1v1h-1zM41 536h1v1h-1zM42 532h1v1h-1zM40 541h1v1h-1zM43 530h1v1h-1zM44 549h1v1h-1zM38 537h1v1h-1zM44 523h1v1h-1zM50 524h1v1h-1zM51 542h1v1h-1zM35 530h1v1h-1zM45 545h1v1h-1zM38 529h1v1h-1zM39 551h1v1h-1zM43 551h1v1h-1zM48 548h1v1h-1zM49 528h1v1h-1zM36 548h1v1h-1zM44 519h1v1h-1zM43 533h1v1h-1zM41 550h1v1h-1zM46 523h1v1h-1zM44 543h1v1h-1zM48 527h1v1h-1zM44 546h1v1h-1zM47 540h1v1h-1zM56 533h1v1h-1zM42 540h1v1h-1zM34 534h1v1h-1zM40 540h1v1h-1zM46 545h1v1h-1zM42 536h1v1h-1zM36 544h1v1h-1zM45 535h1v1h-1zM35 531h1v1h-1zM44 525h1v1h-1zM35 532h1v1h-1zM43 537h1v1h-1zM40 544h1v1h-1zM49 531h1v1h-1zM43 519h1v1h-1zM42 533h1v1h-1zM38 543h1v1h-1zM40 548h1v1h-1zM46 542h1v1h-1zM46 539h1v1h-1zM45 552h1v1h-1zM38 547h1v1h-1zM37 523h1v1h-1zM36 545h1v1h-1zM45 546h1v1h-1zM46 532h1v1h-1zM35 551h1v1h-1zM43 545h1v1h-1zM34 532h1v1h-1zM35 536h1v1h-1zM45 538h1v1h-1zM39 542h1v1h-1zM50 541h1v1h-1zM40 546h1v1h-1zM39 545h1v1h-1zM49 527h1v1h-1zM37 532h1v1h-1zM34 548h1v1h-1zM35 518h1v1h-1zM42 543h1v1h-1zM48 529h1v1h-1zM42 528h1v1h-1zM44 524h1v1h-1zM50 538h1v1h-1zM46 541h1v1h-1zM39 543h1v1h-1zM36 546h1v1h-1zM42 534h1v1h-1zM46 520h1v1h-1zM43 525h1v1h-1zM48 534h1v1h-1zM49 543h1v1h-1zM47 537h1v1h-1zM52 532h1v1h-1zM51 550h1v1h-1zM54 532h1v1h-1zM49 545h1v1h-1zM42 526h1v1h-1zM40 537h1v1h-1zM41 535h1v1h-1zM45 521h1v1h-1zM42 542h1v1h-1zM54 529h1v1h-1zM36 542h1v1h-1zM47 538h1v1h-1zM40 538h1v1h-1zM42 515h1v1h-1zM39 544h1v1h-1zM44 527h1v1h-1zM39 552h1v1h-1zM42 539h1v1h-1zM37 548h1v1h-1zM38 535h1v1h-1zM42 531h1v1h-1zM44 542h1v1h-1zM36 528h1v1h-1zM41 542h1v1h-1zM48 536h1v1h-1zM37 528h1v1h-1zM41 526h1v1h-1zM44 530h1v1h-1zM39 532h1v1h-1zM42 538h1v1h-1zM52 536h1v1h-1zM36 541h1v1h-1zM43 544h1v1h-1zM35 540h1v1h-1zM37 534h1v1h-1zM39 538h1v1h-1zM41 533h1v1h-1zM48 541h1v1h-1zM34 544h1v1h-1zM45 533h1v1h-1zM51 538h1v1h-1zM41 544h1v1h-1zM46 519h1v1h-1zM45 536h1v1h-1zM37 545h1v1h-1zM48 544h1v1h-1zM42 544h1v1h-1zM44 553h1v1h-1zM35 548h1v1h-1zM46 553h1v1h-1zM44 552h1v1h-1zM48 546h1v1h-1zM43 532h1v1h-1zM39 549h1v1h-1zM37 530h1v1h-1zM37 529h1v1h-1zM47 539h1v1h-1zM40 533h1v1h-1zM43 535h1v1h-1zM43 543h1v1h-1zM46 517h1v1h-1zM37 533h1v1h-1zM44 535h1v1h-1zM42 549h1v1h-1zM41 538h1v1h-1zM50 536h1v1h-1zM39 537h1v1h-1zM47 531h1v1h-1zM41 537h1v1h-1zM41 534h1v1h-1zM37 539h1v1h-1zM37 538h1v1h-1zM36 522h1v1h-1zM47 536h1v1h-1zM43 538h1v1h-1zM38 540h1v1h-1zM44 540h1v1h-1zM34 533h1v1h-1zM47 532h1v1h-1zM40 534h1v1h-1zM35 527h1v1h-1zM43 534h1v1h-1zM35 539h1v1h-1zM40 524h1v1h-1zM44 516h1v1h-1zM35 533h1v1h-1zM40 535h1v1h-1zM44 550h1v1h-1zM38 536h1v1h-1zM42 518h1v1h-1zM45 519h1v1h-1zM41 515h1v1h-1zM49 536h1v1h-1z" fill="#222" fill-opacity="0.6"/>
<path d="M57 525h1v1h-1zM61 530h1v1h-1zM51 527h1v1h-1zM52 524h1v1h-1zM54 530h1v1h-1zM56 524h1v1h-1zM43 525h1v1h-1zM66 524h1v1h-1zM38 526h1v1h-1zM50 529h1v1h-1zM34 531h1v1h-1zM45 533h1v1h-1zM65 519h1v1h-1zM54 529h1v1h-1zM51 537h1v1h-1zM56 528h1v1h-1zM51 518h1v1h-1zM58 522h1v1h-1zM47 528h1v1h-1zM53 525h1v1h-1zM57 532h1v1h-1zM51 526h1v1h-1zM70 531h1v1h-1zM49 529h1v1h-1zM52 521h1v1h-1zM66 531h1v1h-1zM39 526h1v1h-1zM61 531h1v1h-1zM60 529h1v1h-1zM48 529h1v1h-1zM49 520h1v1h-1zM56 531h1v1h-1zM36 524h1v1h-1zM60 527h1v1h-1zM39 527h1v1h-1zM47 531h1v1h-1zM43 523h1v1h-1zM50 526h1v1h-1zM45 527h1v1h-1zM43 524h1v1h-1zM59 524h1v1h-1zM53 526h1v1h-1zM65 530h1v1h-1zM70 523h1v1h-1zM52 528h1v1h-1zM59 525h1v1h-1zM56 522h1v1h-1zM73 536h1v1h-1zM47 533h1v1h-1zM50 533h1v1h-1zM51 524h1v1h-1zM56 520h1v1h-1zM37 538h1v1h-1zM45 520h1v1h-1zM58 534h1v1h-1zM53 532h1v1h-1zM41 518h1v1h-1zM48 521h1v1h-1zM65 524h1v1h-1zM56 530h1v1h-1zM41 523h1v1h-1zM47 526h1v1h-1zM69 523h1v1h-1zM43 527h1v1h-1zM52 529h1v1h-1zM38 527h1v1h-1zM55 529h1v1h-1zM49 516h1v1h-1zM50 528h1v1h-1zM62 535h1v1h-1zM59 530h1v1h-1zM47 527h1v1h-1zM40 526h1v1h-1zM51 525h1v1h-1zM65 529h1v1h-1zM45 525h1v1h-1zM45 523h1v1h-1zM60 524h1v1h-1zM53 523h1v1h-1zM56 523h1v1h-1zM58 535h1v1h-1zM58 524h1v1h-1zM51 523h1v1h-1zM63 532h1v1h-1zM50 525h1v1h-1zM62 524h1v1h-1zM63 530h1v1h-1zM58 519h1v1h-1zM46 529h1v1h-1zM67 522h1v1h-1zM41 531h1v1h-1zM57 531h1v1h-1zM64 525h1v1h-1zM48 536h1v1h-1zM57 527h1v1h-1zM48 523h1v1h-1zM59 520h1v1h-1zM46 515h1v1h-1zM54 531h1v1h-1zM64 524h1v1h-1zM57 524h1v1h-1zM60 521h1v1h-1zM40 520h1v1h-1zM62 526h1v1h-1zM52 531h1v1h-1zM39 523h1v1h-1zM46 537h1v1h-1zM41 525h1v1h-1zM52 523h1v1h-1zM53 521h1v1h-1zM56 527h1v1h-1zM54 518h1v1h-1zM51 539h1v1h-1zM53 524h1v1h-1zM61 524h1v1h-1zM51 534h1v1h-1zM48 531h1v1h-1zM53 529h1v1h-1zM57 521h1v1h-1zM38 530h1v1h-1zM58 526h1v1h-1zM56 526h1v1h-1zM46 523h1v1h-1zM54 525h1v1h-1zM40 527h1v1h-1zM63 518h1v1h-1zM71 527h1v1h-1zM72 521h1v1h-1zM45 519h1v1h-1zM54 522h1v1h-1zM42 532h1v1h-1zM49 528h1v1h-1zM64 523h1v1h-1zM70 533h1v1h-1zM62 531h1v1h-1zM51 529h1v1h-1zM63 529h1v1h-1zM58 529h1v1h-1zM47 530h1v1h-1zM47 525h1v1h-1zM62 519h1v1h-1zM70 529h1v1h-1zM55 528h1v1h-1zM63 525h1v1h-1zM56 519h1v1h-1zM55 521h1v1h-1zM63 519h1v1h-1zM62 529h1v1h-1zM58 530h1v1h-1zM66 529h1v1h-1zM46 524h1v1h-1zM49 525h1v1h-1zM39 517h1v1h-1zM50 523h1v1h-1zM58 531h1v1h-1zM54 527h1v1h-1zM40 522h1v1h-1zM52 518h1v1h-1zM51 528h1v1h-1zM54 523h1v1h-1zM59 540h1v1h-1zM43 529h1v1h-1zM59 532h1v1h-1zM52 530h1v1h-1zM60 535h1v1h-1zM55 527h1v1h-1zM52 526h1v1h-1zM42 517h1v1h-1zM67 523h1v1h-1zM56 517h1v1h-1zM59 526h1v1h-1zM67 528h1v1h-1zM60 528h1v1h-1zM43 528h1v1h-1zM44 533h1v1h-1zM69 521h1v1h-1zM47 523h1v1h-1zM39 531h1v1h-1zM37 528h1v1h-1zM48 526h1v1h-1zM46 527h1v1h-1zM52 527h1v1h-1zM57 534h1v1h-1zM50 521h1v1h-1zM62 523h1v1h-1zM64 522h1v1h-1zM50 518h1v1h-1zM52 520h1v1h-1zM61 519h1v1h-1zM45 529h1v1h-1zM58 528h1v1h-1zM70 522h1v1h-1zM50 522h1v1h-1zM54 532h1v1h-1zM52 525h1v1h-1zM61 529h1v1h-1zM44 526h1v1h-1zM44 535h1v1h-1zM46 531h1v1h-1zM62 534h1v1h-1zM49 522h1v1h-1zM51 530h1v1h-1zM57 528h1v1h-1zM44 522h1v1h-1zM63 522h1v1h-1zM70 527h1v1h-1zM59 529h1v1h-1zM73 529h1v1h-1zM64 527h1v1h-1zM63 526h1v1h-1zM45 534h1v1h-1zM44 528h1v1h-1zM59 531h1v1h-1zM57 530h1v1h-1zM60 526h1v1h-1zM72 528h1v1h-1zM46 525h1v1h-1zM53 534h1v1h-1zM58 527h1v1h-1zM59 527h1v1h-1zM49 535h1v1h-1zM46 516h1v1h-1zM37 525h1v1h-1zM42 523h1v1h-1zM66 528h1v1h-1zM42 527h1v1h-1zM56 525h1v1h-1zM59 522h1v1h-1zM58 525h1v1h-1zM48 534h1v1h-1zM40 528h1v1h-1zM48 527h1v1h-1zM51 520h1v1h-1zM62 525h1v1h-1zM54 535h1v1h-1zM68 527h1v1h-1zM50 524h1v1h-1z" fill="#333" fill-opacity="0.55"/>
<path d="M80 531h1v1h-1zM54 538h1v1h-1zM68 528h1v1h-1zM73 524h1v1h-1zM47 530h1v1h-1zM52 522h1v1h-1zM61 537h1v1h-1zM64 525h1v1h-1zM61 539h1v1h-1zM58 531h1v1h-1zM70 525h1v1h-1zM49 542h1v1h-1zM69 528h1v1h-1zM49 535h1v1h-1zM58 533h1v1h-1zM53 539h1v1h-1zM59 545h1v1h-1zM45 530h1v1h-1zM60 530h1v1h-1zM71 539h1v1h-1zM59 527h1v1h-1zM68 520h1v1h-1zM60 541h1v1h-1zM65 544h1v1h-1zM69 525h1v1h-1zM49 534h1v1h-1zM58 536h1v1h-1zM63 539h1v1h-1zM77 529h1v1h-1zM56 530h1v1h-1zM54 531h1v1h-1zM72 531h1v1h-1zM66 533h1v1h-1zM58 516h1v1h-1zM53 541h1v1h-1zM46 541h1v1h-1zM80 541h1v1h-1zM64 532h1v1h-1zM78 541h1v1h-1zM63 527h1v1h-1zM64 534h1v1h-1zM62 541h1v1h-1zM59 542h1v1h-1zM80 532h1v1h-1zM46 542h1v1h-1zM56 520h1v1h-1zM71 528h1v1h-1zM64 527h1v1h-1zM56 536h1v1h-1zM43 535h1v1h-1zM60 525h1v1h-1zM60 542h1v1h-1zM66 549h1v1h-1zM64 536h1v1h-1zM70 539h1v1h-1zM58 529h1v1h-1zM50 532h1v1h-1zM61 538h1v1h-1zM82 529h1v1h-1zM69 532h1v1h-1zM64 531h1v1h-1zM47 542h1v1h-1zM62 527h1v1h-1zM42 541h1v1h-1zM55 545h1v1h-1zM60 524h1v1h-1zM58 538h1v1h-1zM73 519h1v1h-1zM60 538h1v1h-1zM63 538h1v1h-1zM72 545h1v1h-1zM62 521h1v1h-1zM74 536h1v1h-1zM81 545h1v1h-1zM70 546h1v1h-1zM58 535h1v1h-1zM70 537h1v1h-1zM56 543h1v1h-1zM59 546h1v1h-1zM73 534h1v1h-1zM49 543h1v1h-1zM64 515h1v1h-1zM65 542h1v1h-1zM69 527h1v1h-1zM75 527h1v1h-1zM66 523h1v1h-1zM66 534h1v1h-1zM72 530h1v1h-1zM75 537h1v1h-1zM88 541h1v1h-1zM67 533h1v1h-1zM49 532h1v1h-1zM71 533h1v1h-1zM54 541h1v1h-1zM43 542h1v1h-1zM76 536h1v1h-1zM76 545h1v1h-1zM55 540h1v1h-1zM57 532h1v1h-1zM76 528h1v1h-1zM70 531h1v1h-1zM60 535h1v1h-1zM68 533h1v1h-1zM58 532h1v1h-1zM83 524h1v1h-1zM62 529h1v1h-1zM68 531h1v1h-1zM53 540h1v1h-1zM61 532h1v1h-1zM54 532h1v1h-1zM79 532h1v1h-1zM70 526h1v1h-1zM78 528h1v1h-1zM69 538h1v1h-1zM68 536h1v1h-1zM67 522h1v1h-1zM59 539h1v1h-1zM57 539h1v1h-1zM48 540h1v1h-1zM66 540h1v1h-1zM83 534h1v1h-1zM56 551h1v1h-1zM57 533h1v1h-1zM71 525h1v1h-1zM63 536h1v1h-1zM57 543h1v1h-1zM54 516h1v1h-1zM80 526h1v1h-1zM77 553h1v1h-1zM59 544h1v1h-1zM62 537h1v1h-1z" fill="#555" fill-opacity="0.5"/>
<path d="M61 506h1v1h-1zM70 525h1v1h-1zM64 504h1v1h-1zM71 517h1v1h-1zM68 502h1v1h-1zM65 523h1v1h-1zM67 498h1v1h-1zM64 511h1v1h-1zM67 522h1v1h-1zM68 516h1v1h-1zM67 500h1v1h-1zM67 507h1v1h-1zM65 499h1v1h-1zM66 517h1v1h-1zM73 533h1v1h-1zM63 509h1v1h-1zM67 502h1v1h-1zM60 505h1v1h-1zM69 514h1v1h-1zM63 496h1v1h-1zM64 491h1v1h-1zM66 494h1v1h-1zM65 521h1v1h-1zM67 519h1v1h-1zM65 505h1v1h-1zM63 513h1v1h-1zM66 508h1v1h-1zM68 528h1v1h-1zM61 512h1v1h-1zM69 510h1v1h-1zM71 508h1v1h-1zM64 515h1v1h-1zM64 500h1v1h-1zM67 535h1v1h-1zM68 507h1v1h-1zM69 518h1v1h-1zM66 526h1v1h-1zM70 498h1v1h-1zM69 508h1v1h-1zM68 513h1v1h-1zM72 495h1v1h-1zM65 508h1v1h-1zM63 507h1v1h-1zM65 514h1v1h-1zM69 513h1v1h-1zM65 513h1v1h-1zM61 509h1v1h-1zM65 522h1v1h-1zM70 510h1v1h-1zM67 496h1v1h-1zM64 517h1v1h-1zM62 502h1v1h-1zM65 517h1v1h-1zM66 523h1v1h-1zM68 526h1v1h-1zM68 495h1v1h-1zM62 500h1v1h-1zM62 505h1v1h-1zM73 499h1v1h-1zM65 495h1v1h-1zM70 501h1v1h-1zM64 496h1v1h-1zM63 516h1v1h-1zM66 495h1v1h-1zM64 505h1v1h-1zM70 499h1v1h-1zM67 509h1v1h-1zM67 518h1v1h-1zM64 514h1v1h-1zM68 505h1v1h-1zM68 523h1v1h-1zM70 504h1v1h-1zM67 494h1v1h-1zM66 515h1v1h-1zM64 510h1v1h-1zM67 499h1v1h-1zM66 521h1v1h-1zM64 508h1v1h-1zM68 517h1v1h-1zM63 508h1v1h-1zM69 509h1v1h-1zM62 506h1v1h-1zM69 517h1v1h-1zM66 503h1v1h-1zM60 504h1v1h-1zM71 498h1v1h-1zM74 513h1v1h-1zM68 506h1v1h-1zM68 504h1v1h-1zM65 503h1v1h-1zM63 526h1v1h-1zM66 511h1v1h-1zM64 530h1v1h-1zM62 507h1v1h-1zM64 506h1v1h-1zM68 527h1v1h-1zM62 504h1v1h-1zM60 507h1v1h-1zM68 494h1v1h-1zM63 503h1v1h-1zM64 502h1v1h-1zM67 490h1v1h-1zM71 522h1v1h-1zM65 507h1v1h-1zM61 534h1v1h-1zM70 511h1v1h-1zM67 520h1v1h-1zM64 525h1v1h-1zM71 513h1v1h-1zM71 527h1v1h-1zM68 501h1v1h-1zM70 520h1v1h-1zM70 534h1v1h-1zM68 500h1v1h-1zM71 515h1v1h-1zM63 490h1v1h-1zM61 492h1v1h-1zM67 515h1v1h-1zM66 525h1v1h-1zM65 519h1v1h-1zM72 525h1v1h-1zM64 507h1v1h-1zM60 518h1v1h-1zM69 527h1v1h-1zM70 518h1v1h-1zM69 502h1v1h-1zM65 506h1v1h-1zM68 518h1v1h-1zM70 514h1v1h-1zM67 528h1v1h-1zM66 501h1v1h-1zM68 534h1v1h-1zM66 497h1v1h-1zM67 503h1v1h-1zM70 490h1v1h-1zM63 500h1v1h-1zM66 512h1v1h-1zM67 524h1v1h-1zM62 510h1v1h-1zM65 498h1v1h-1zM66 507h1v1h-1zM61 517h1v1h-1zM66 500h1v1h-1zM72 508h1v1h-1zM65 511h1v1h-1zM60 512h1v1h-1zM66 520h1v1h-1zM63 512h1v1h-1zM70 531h1v1h-1zM70 519h1v1h-1zM62 516h1v1h-1zM67 521h1v1h-1zM64 518h1v1h-1zM69 498h1v1h-1zM69 507h1v1h-1zM69 515h1v1h-1zM75 511h1v1h-1zM61 511h1v1h-1zM64 495h1v1h-1zM63 519h1v1h-1zM69 519h1v1h-1zM63 506h1v1h-1zM68 509h1v1h-1zM65 504h1v1h-1z" fill="#222" fill-opacity="0.65"/>
<g>
<ellipse cx="57.0" cy="520.5" rx="9.40" ry="5.40" fill="none" stroke="#444" stroke-width="1.17" stroke-opacity="0.8" filter="url(#bl)"/>
<ellipse cx="57.0" cy="520.5" rx="9.00" ry="5.00" fill="#dedede" stroke="#6a6a6a" stroke-width="0.55"/>
<ellipse cx="57.0" cy="520.5" rx="6.27" ry="3.48" fill="#e9e9e9" stroke="#8a8a8a" stroke-width="0.55"/>
<ellipse cx="57.0" cy="520.5" rx="3.55" ry="1.97" fill="#f2f2f2" stroke="#a0a0a0" stroke-width="0.55"/>
</g>
<g transform="rotate(3 53.0 499.0)">
<ellipse cx="53.0" cy="499.0" rx="12.90" ry="4.60" fill="none" stroke="#444" stroke-width="1.17" stroke-opacity="0.8" filter="url(#bl)"/>
<ellipse cx="53.0" cy="499.0" rx="12.50" ry="4.20" fill="#dedede" stroke="#6a6a6a" stroke-width="0.55"/>
<ellipse cx="53.0" cy="499.0" rx="8.71" ry="2.93" fill="#e9e9e9" stroke="#8a8a8a" stroke-width="0.55"/>
<ellipse cx="53.0" cy="499.0" rx="4.92" ry="1.65" fill="#f2f2f2" stroke="#a0a0a0" stroke-width="0.55"/>
</g>
<g transform="rotate(-22 67.0 511.0)">
<ellipse cx="67.0" cy="511.0" rx="4.00" ry="11.40" fill="none" stroke="#444" stroke-width="2.08" stroke-opacity="0.8" filter="url(#bl)"/>
<ellipse cx="67.0" cy="511.0" rx="3.60" ry="11.00" fill="#dedede" stroke="#6a6a6a" stroke-width="0.55"/>
<ellipse cx="67.0" cy="511.0" rx="2.03" ry="6.22" fill="#e9e9e9" stroke="#8a8a8a" stroke-width="0.55"/>
</g>
<g>
<ellipse cx="41.0" cy="512.0" rx="5.90" ry="17.40" fill="none" stroke="#444" stroke-width="1.17" stroke-opacity="0.8" filter="url(#bl)"/>
<ellipse cx="41.0" cy="512.0" rx="5.50" ry="17.00" fill="#dedede" stroke="#6a6a6a" stroke-width="0.55"/>
</g>
<g>
<ellipse cx="41.5" cy="501.0" rx="4.20" ry="5.20" fill="none" stroke="#444" stroke-width="1.43" stroke-opacity="0.8" filter="url(#bl)"/>
<ellipse cx="41.5" cy="501.0" rx="3.80" ry="4.80" fill="#dedede" stroke="#6a6a6a" stroke-width="0.55"/>
<ellipse cx="41.5" cy="501.0" rx="2.65" ry="3.35" fill="#e9e9e9" stroke="#8a8a8a" stroke-width="0.55"/>
<ellipse cx="41.5" cy="501.0" rx="1.50" ry="1.89" fill="#f2f2f2" stroke="#a0a0a0" stroke-width="0.55"/>
</g>
<g>
<ellipse cx="40.5" cy="518.0" rx="4.20" ry="5.90" fill="none" stroke="#444" stroke-width="1.43" stroke-opacity="0.8" filter="url(#bl)"/>
<ellipse cx="40.5" cy="518.0" rx="3.80" ry="5.50" fill="#dedede" stroke="#6a6a6a" stroke-width="0.55"/>
<ellipse cx="40.5" cy="518.0" rx="2.65" ry="3.83" fill="#e9e9e9" stroke="#8a8a8a" stroke-width="0.55"/>
<ellipse cx="40.5" cy="518.0" rx="1.50" ry="2.17" fill="#f2f2f2" stroke="#a0a0a0" stroke-width="0.55"/>
</g>
<ellipse cx="53.5" cy="509" rx="6.5" ry="4.8" fill="#fff"/>
<rect x="47.40" y="520.30" width="36.30" height="32.20" stroke="#e46a6a" stroke-width="0.9" fill="none"/>
<circle cx="33.60" cy="547.00" r="1.10" fill="#111" stroke="none" stroke-width="0"/>
<text x="67.5" y="484.2" font-size="9.2" text-anchor="middle" fill="#111" stroke="#111" stroke-width="0.18">Bone marrow</text>
<text x="91.7" y="541.3" font-size="9.2" text-anchor="middle" fill="#111" stroke="#111" stroke-width="0.18">3.0</text>
<text x="28.4" y="521.6" font-size="9.2" text-anchor="middle" fill="#111" stroke="#111" stroke-width="0.18" transform="rotate(-90 28.4 521.6)">Lin</text>
<text x="66.0" y="565.3" font-size="9.2" text-anchor="middle" fill="#111" stroke="#111" stroke-width="0.18">mCherry (sgRNA)</text>
<rect x="33.30" y="590.40" width="67.40" height="68.30" stroke="#aaa" stroke-width="0.8" fill="none"/>
<line x1="32.50" y1="597.23" x2="33.30" y2="597.23" stroke="#777" stroke-width="0.5"/>
<line x1="31.70" y1="604.06" x2="33.30" y2="604.06" stroke="#777" stroke-width="0.5"/>
<line x1="32.50" y1="610.89" x2="33.30" y2="610.89" stroke="#777" stroke-width="0.5"/>
<line x1="31.70" y1="617.72" x2="33.30" y2="617.72" stroke="#777" stroke-width="0.5"/>
<line x1="32.50" y1="624.55" x2="33.30" y2="624.55" stroke="#777" stroke-width="0.5"/>
<line x1="31.70" y1="631.38" x2="33.30" y2="631.38" stroke="#777" stroke-width="0.5"/>
<line x1="32.50" y1="638.21" x2="33.30" y2="638.21" stroke="#777" stroke-width="0.5"/>
<line x1="31.70" y1="645.04" x2="33.30" y2="645.04" stroke="#777" stroke-width="0.5"/>
<line x1="32.50" y1="651.87" x2="33.30" y2="651.87" stroke="#777" stroke-width="0.5"/>
<line x1="40.04" y1="658.70" x2="40.04" y2="659.50" stroke="#777" stroke-width="0.5"/>
<line x1="46.78" y1="658.70" x2="46.78" y2="660.30" stroke="#777" stroke-width="0.5"/>
<line x1="53.52" y1="658.70" x2="53.52" y2="659.50" stroke="#777" stroke-width="0.5"/>
<line x1="60.26" y1="658.70" x2="60.26" y2="660.30" stroke="#777" stroke-width="0.5"/>
<line x1="67.00" y1="658.70" x2="67.00" y2="659.50" stroke="#777" stroke-width="0.5"/>
<line x1="73.74" y1="658.70" x2="73.74" y2="660.30" stroke="#777" stroke-width="0.5"/>
<line x1="80.48" y1="658.70" x2="80.48" y2="659.50" stroke="#777" stroke-width="0.5"/>
<line x1="87.22" y1="658.70" x2="87.22" y2="660.30" stroke="#777" stroke-width="0.5"/>
<line x1="93.96" y1="658.70" x2="93.96" y2="659.50" stroke="#777" stroke-width="0.5"/>
<path d="M55 617h1v1h-1zM54 628h1v1h-1zM53 627h1v1h-1zM73 634h1v1h-1zM63 616h1v1h-1zM55 625h1v1h-1zM65 615h1v1h-1zM57 644h1v1h-1zM71 636h1v1h-1zM51 619h1v1h-1zM47 638h1v1h-1zM82 647h1v1h-1zM70 628h1v1h-1zM77 621h1v1h-1zM41 633h1v1h-1zM47 614h1v1h-1zM64 628h1v1h-1zM45 620h1v1h-1zM72 646h1v1h-1zM66 614h1v1h-1zM69 629h1v1h-1zM61 627h1v1h-1zM47 635h1v1h-1zM59 647h1v1h-1zM53 635h1v1h-1zM61 618h1v1h-1zM53 648h1v1h-1zM62 613h1v1h-1zM57 633h1v1h-1zM58 631h1v1h-1zM57 618h1v1h-1zM57 643h1v1h-1zM46 636h1v1h-1zM63 636h1v1h-1zM49 621h1v1h-1zM51 627h1v1h-1zM69 622h1v1h-1zM49 625h1v1h-1zM68 654h1v1h-1zM36 615h1v1h-1zM72 612h1v1h-1zM58 610h1v1h-1zM56 616h1v1h-1zM89 638h1v1h-1zM75 656h1v1h-1zM71 642h1v1h-1zM69 647h1v1h-1zM74 627h1v1h-1zM57 648h1v1h-1zM55 651h1v1h-1zM34 619h1v1h-1zM50 624h1v1h-1zM44 632h1v1h-1zM58 634h1v1h-1zM42 638h1v1h-1zM48 627h1v1h-1zM80 645h1v1h-1zM46 612h1v1h-1zM54 620h1v1h-1zM66 648h1v1h-1zM65 636h1v1h-1zM46 625h1v1h-1zM37 628h1v1h-1zM50 614h1v1h-1zM63 634h1v1h-1zM56 639h1v1h-1zM50 620h1v1h-1zM55 626h1v1h-1zM45 629h1v1h-1zM73 653h1v1h-1zM41 610h1v1h-1zM53 651h1v1h-1zM48 614h1v1h-1zM42 645h1v1h-1zM69 630h1v1h-1zM73 641h1v1h-1zM63 606h1v1h-1zM53 613h1v1h-1zM41 626h1v1h-1zM62 624h1v1h-1zM76 625h1v1h-1zM55 636h1v1h-1zM77 646h1v1h-1zM52 602h1v1h-1zM54 630h1v1h-1zM38 607h1v1h-1zM51 629h1v1h-1zM61 639h1v1h-1zM76 616h1v1h-1zM61 638h1v1h-1zM38 616h1v1h-1zM51 616h1v1h-1zM76 637h1v1h-1zM57 629h1v1h-1zM80 622h1v1h-1zM36 641h1v1h-1zM68 629h1v1h-1zM58 624h1v1h-1zM54 608h1v1h-1zM74 631h1v1h-1zM45 649h1v1h-1zM76 613h1v1h-1zM64 623h1v1h-1zM62 621h1v1h-1zM57 627h1v1h-1zM48 654h1v1h-1zM65 601h1v1h-1zM78 646h1v1h-1zM70 639h1v1h-1zM49 623h1v1h-1zM61 610h1v1h-1zM58 605h1v1h-1zM59 628h1v1h-1zM66 618h1v1h-1zM65 634h1v1h-1zM58 637h1v1h-1zM64 642h1v1h-1zM56 618h1v1h-1zM87 655h1v1h-1zM40 619h1v1h-1zM72 631h1v1h-1zM54 641h1v1h-1zM61 628h1v1h-1zM73 626h1v1h-1zM69 613h1v1h-1zM58 623h1v1h-1zM67 614h1v1h-1zM49 630h1v1h-1zM39 641h1v1h-1zM66 617h1v1h-1zM42 650h1v1h-1zM46 616h1v1h-1zM47 629h1v1h-1zM74 623h1v1h-1zM66 638h1v1h-1zM90 643h1v1h-1zM57 637h1v1h-1zM48 638h1v1h-1zM50 610h1v1h-1zM56 606h1v1h-1zM41 630h1v1h-1zM43 621h1v1h-1zM66 606h1v1h-1zM64 643h1v1h-1zM60 629h1v1h-1zM52 636h1v1h-1zM46 639h1v1h-1zM51 635h1v1h-1zM72 637h1v1h-1zM36 636h1v1h-1zM71 617h1v1h-1zM46 646h1v1h-1zM68 647h1v1h-1zM50 637h1v1h-1zM68 644h1v1h-1zM50 641h1v1h-1zM63 624h1v1h-1zM54 615h1v1h-1zM58 626h1v1h-1zM49 637h1v1h-1zM71 639h1v1h-1zM73 610h1v1h-1zM73 638h1v1h-1zM72 630h1v1h-1zM70 612h1v1h-1zM55 629h1v1h-1zM52 631h1v1h-1zM65 633h1v1h-1zM52 624h1v1h-1zM49 639h1v1h-1zM56 624h1v1h-1zM58 647h1v1h-1zM72 633h1v1h-1zM50 639h1v1h-1zM57 628h1v1h-1zM67 631h1v1h-1zM75 657h1v1h-1zM59 646h1v1h-1zM52 630h1v1h-1zM64 649h1v1h-1zM50 626h1v1h-1zM36 632h1v1h-1zM61 621h1v1h-1zM57 623h1v1h-1zM75 655h1v1h-1zM69 644h1v1h-1zM65 638h1v1h-1zM52 622h1v1h-1zM56 646h1v1h-1zM69 643h1v1h-1zM50 642h1v1h-1zM52 619h1v1h-1zM34 641h1v1h-1zM76 629h1v1h-1zM70 650h1v1h-1zM79 628h1v1h-1zM70 640h1v1h-1zM47 615h1v1h-1zM49 635h1v1h-1zM44 639h1v1h-1zM51 634h1v1h-1zM57 638h1v1h-1zM43 637h1v1h-1zM52 652h1v1h-1zM63 642h1v1h-1zM43 636h1v1h-1zM74 628h1v1h-1zM55 613h1v1h-1zM55 643h1v1h-1zM83 619h1v1h-1zM69 625h1v1h-1zM70 645h1v1h-1zM56 621h1v1h-1zM60 622h1v1h-1zM50 646h1v1h-1zM75 648h1v1h-1zM46 642h1v1h-1zM54 652h1v1h-1zM44 626h1v1h-1zM60 628h1v1h-1zM54 653h1v1h-1zM42 639h1v1h-1zM51 639h1v1h-1zM63 646h1v1h-1zM80 651h1v1h-1zM44 634h1v1h-1zM66 637h1v1h-1zM74 648h1v1h-1zM65 620h1v1h-1zM58 644h1v1h-1zM64 645h1v1h-1zM40 629h1v1h-1zM47 643h1v1h-1zM77 645h1v1h-1zM65 626h1v1h-1zM61 617h1v1h-1zM40 641h1v1h-1zM55 627h1v1h-1zM69 639h1v1h-1zM57 625h1v1h-1zM79 627h1v1h-1zM53 605h1v1h-1zM41 618h1v1h-1zM80 608h1v1h-1zM57 634h1v1h-1zM47 619h1v1h-1zM54 646h1v1h-1zM72 613h1v1h-1zM61 643h1v1h-1zM69 614h1v1h-1zM63 614h1v1h-1zM60 638h1v1h-1zM61 634h1v1h-1zM60 631h1v1h-1zM58 635h1v1h-1z" fill="#888" fill-opacity="0.55"/>
<rect x="33.6" y="636" width="1.9" height="15" fill="#333" filter="url(#bl)"/>
<ellipse cx="75" cy="607.5" rx="8" ry="4.5" fill="none" stroke="#bbb" stroke-width="0.6"/><ellipse cx="75" cy="607.5" rx="5" ry="2.8" fill="none" stroke="#ccc" stroke-width="0.5"/>
<g>
<ellipse cx="78.0" cy="642.6" rx="13.40" ry="6.40" fill="none" stroke="#444" stroke-width="1.30" stroke-opacity="0.8" filter="url(#bl)"/>
<ellipse cx="78.0" cy="642.6" rx="13.00" ry="6.00" fill="#dedede" stroke="#6a6a6a" stroke-width="0.55"/>
<ellipse cx="78.0" cy="642.6" rx="9.06" ry="4.18" fill="#e9e9e9" stroke="#8a8a8a" stroke-width="0.55"/>
<ellipse cx="78.0" cy="642.6" rx="5.12" ry="2.36" fill="#f2f2f2" stroke="#a0a0a0" stroke-width="0.55"/>
</g>
<g transform="rotate(10 60.2 639.3)">
<ellipse cx="60.2" cy="639.3" rx="6.40" ry="10.40" fill="none" stroke="#444" stroke-width="1.69" stroke-opacity="0.8" filter="url(#bl)"/>
<ellipse cx="60.2" cy="639.3" rx="6.00" ry="10.00" fill="#dedede" stroke="#6a6a6a" stroke-width="0.55"/>
<ellipse cx="60.2" cy="639.3" rx="4.18" ry="6.97" fill="#e9e9e9" stroke="#8a8a8a" stroke-width="0.55"/>
<ellipse cx="60.2" cy="639.3" rx="2.36" ry="3.94" fill="#f2f2f2" stroke="#a0a0a0" stroke-width="0.55"/>
</g>
<g>
<ellipse cx="60.2" cy="609.3" rx="5.40" ry="7.40" fill="none" stroke="#444" stroke-width="1.43" stroke-opacity="0.8" filter="url(#bl)"/>
<ellipse cx="60.2" cy="609.3" rx="5.00" ry="7.00" fill="#dedede" stroke="#6a6a6a" stroke-width="0.55"/>
<ellipse cx="60.2" cy="609.3" rx="3.48" ry="4.88" fill="#e9e9e9" stroke="#8a8a8a" stroke-width="0.55"/>
<ellipse cx="60.2" cy="609.3" rx="1.97" ry="2.76" fill="#f2f2f2" stroke="#a0a0a0" stroke-width="0.55"/>
</g>
<rect x="37.40" y="599.30" width="28.10" height="18.30" stroke="#444" stroke-width="0.9" fill="none"/>
<rect x="65.50" y="599.30" width="28.20" height="15.80" stroke="#444" stroke-width="0.9" fill="none"/>
<text x="67.2" y="586.9" font-size="9.2" text-anchor="middle" fill="#111" stroke="#111" stroke-width="0.18">mCherry<tspan font-size="5.5" dy="-3.5">+</tspan><tspan dy="3.5"> cells</tspan></text>
<text x="52.4" y="597.6" font-size="9.2" text-anchor="middle" fill="#111" stroke="#111" stroke-width="0.18">15.0</text>
<text x="81.8" y="597.6" font-size="9.2" text-anchor="middle" fill="#111" stroke="#111" stroke-width="0.18">3.4</text>
<text x="85.7" y="623.7" font-size="9.2" text-anchor="middle" fill="#111" stroke="#111" stroke-width="0.18">HSPC</text>
<text x="51.6" y="628.7" font-size="9.2" text-anchor="middle" fill="#111" stroke="#111" stroke-width="0.18">Lin<tspan font-size="5.5" dy="-3.5">-</tspan><tspan dy="3.5">c-Kit</tspan><tspan font-size="5.5" dy="-3.5">+</tspan></text>
<text x="28.4" y="626.3" font-size="9.2" text-anchor="middle" fill="#111" stroke="#111" stroke-width="0.18" transform="rotate(-90 28.4 626.3)">c-Kit</text>
<text x="65.9" y="667.0" font-size="9.2" text-anchor="middle" fill="#111" stroke="#111" stroke-width="0.18">Sca-1</text>
<line x1="50.70" y1="630.40" x2="50.70" y2="668.50" stroke="#555" stroke-width="0.8"/>
<path d="M50.7,672.5 L49.1,667.8 L52.3,667.8 Z" fill="#444"/>
<rect x="32.40" y="685.50" width="68.60" height="68.30" stroke="#aaa" stroke-width="0.8" fill="none"/>
<line x1="31.60" y1="692.33" x2="32.40" y2="692.33" stroke="#777" stroke-width="0.5"/>
<line x1="30.80" y1="699.16" x2="32.40" y2="699.16" stroke="#777" stroke-width="0.5"/>
<line x1="31.60" y1="705.99" x2="32.40" y2="705.99" stroke="#777" stroke-width="0.5"/>
<line x1="30.80" y1="712.82" x2="32.40" y2="712.82" stroke="#777" stroke-width="0.5"/>
<line x1="31.60" y1="719.65" x2="32.40" y2="719.65" stroke="#777" stroke-width="0.5"/>
<line x1="30.80" y1="726.48" x2="32.40" y2="726.48" stroke="#777" stroke-width="0.5"/>
<line x1="31.60" y1="733.31" x2="32.40" y2="733.31" stroke="#777" stroke-width="0.5"/>
<line x1="30.80" y1="740.14" x2="32.40" y2="740.14" stroke="#777" stroke-width="0.5"/>
<line x1="31.60" y1="746.97" x2="32.40" y2="746.97" stroke="#777" stroke-width="0.5"/>
<line x1="39.26" y1="753.80" x2="39.26" y2="754.60" stroke="#777" stroke-width="0.5"/>
<line x1="46.12" y1="753.80" x2="46.12" y2="755.40" stroke="#777" stroke-width="0.5"/>
<line x1="52.98" y1="753.80" x2="52.98" y2="754.60" stroke="#777" stroke-width="0.5"/>
<line x1="59.84" y1="753.80" x2="59.84" y2="755.40" stroke="#777" stroke-width="0.5"/>
<line x1="66.70" y1="753.80" x2="66.70" y2="754.60" stroke="#777" stroke-width="0.5"/>
<line x1="73.56" y1="753.80" x2="73.56" y2="755.40" stroke="#777" stroke-width="0.5"/>
<line x1="80.42" y1="753.80" x2="80.42" y2="754.60" stroke="#777" stroke-width="0.5"/>
<line x1="87.28" y1="753.80" x2="87.28" y2="755.40" stroke="#777" stroke-width="0.5"/>
<line x1="94.14" y1="753.80" x2="94.14" y2="754.60" stroke="#777" stroke-width="0.5"/>
<path d="M54 727h1v1h-1zM45 715h1v1h-1zM53 726h1v1h-1zM53 720h1v1h-1zM50 737h1v1h-1zM47 728h1v1h-1zM40 733h1v1h-1zM48 729h1v1h-1zM50 725h1v1h-1zM34 737h1v1h-1zM34 720h1v1h-1zM58 716h1v1h-1zM37 731h1v1h-1zM53 735h1v1h-1zM37 738h1v1h-1zM39 732h1v1h-1zM49 732h1v1h-1zM34 714h1v1h-1zM46 717h1v1h-1zM51 717h1v1h-1zM54 719h1v1h-1zM43 730h1v1h-1zM57 714h1v1h-1zM41 715h1v1h-1zM44 731h1v1h-1zM45 716h1v1h-1zM44 717h1v1h-1zM41 721h1v1h-1zM47 718h1v1h-1zM54 712h1v1h-1zM35 731h1v1h-1zM48 724h1v1h-1zM55 741h1v1h-1zM45 733h1v1h-1zM56 722h1v1h-1zM57 725h1v1h-1zM56 709h1v1h-1zM57 708h1v1h-1zM43 723h1v1h-1zM56 716h1v1h-1zM44 722h1v1h-1zM46 728h1v1h-1zM52 718h1v1h-1zM35 723h1v1h-1zM42 728h1v1h-1zM66 727h1v1h-1zM50 714h1v1h-1zM42 736h1v1h-1zM41 699h1v1h-1zM55 731h1v1h-1zM52 725h1v1h-1zM55 737h1v1h-1zM62 724h1v1h-1zM47 719h1v1h-1zM35 726h1v1h-1zM47 714h1v1h-1zM33 715h1v1h-1zM42 718h1v1h-1zM42 748h1v1h-1zM45 723h1v1h-1zM59 724h1v1h-1zM35 721h1v1h-1zM54 733h1v1h-1zM59 689h1v1h-1zM41 729h1v1h-1zM70 717h1v1h-1zM36 726h1v1h-1zM48 719h1v1h-1zM46 719h1v1h-1zM41 735h1v1h-1zM39 741h1v1h-1zM51 721h1v1h-1zM40 714h1v1h-1zM40 731h1v1h-1zM42 725h1v1h-1zM42 719h1v1h-1zM60 713h1v1h-1zM59 718h1v1h-1zM56 720h1v1h-1zM42 731h1v1h-1zM50 712h1v1h-1zM51 744h1v1h-1zM56 726h1v1h-1zM48 739h1v1h-1zM57 721h1v1h-1zM35 712h1v1h-1zM40 732h1v1h-1zM44 723h1v1h-1zM44 726h1v1h-1zM47 702h1v1h-1zM56 729h1v1h-1zM53 721h1v1h-1zM54 725h1v1h-1zM54 728h1v1h-1zM45 731h1v1h-1zM49 697h1v1h-1zM50 729h1v1h-1zM34 726h1v1h-1zM45 712h1v1h-1zM36 734h1v1h-1zM33 711h1v1h-1zM57 729h1v1h-1zM42 724h1v1h-1zM36 748h1v1h-1zM44 716h1v1h-1zM41 725h1v1h-1zM46 716h1v1h-1zM51 729h1v1h-1zM49 733h1v1h-1zM34 721h1v1h-1zM49 741h1v1h-1zM37 725h1v1h-1zM39 723h1v1h-1zM45 721h1v1h-1zM51 735h1v1h-1zM55 716h1v1h-1zM48 726h1v1h-1zM52 724h1v1h-1zM43 722h1v1h-1zM34 724h1v1h-1zM59 740h1v1h-1zM38 722h1v1h-1zM38 728h1v1h-1zM40 740h1v1h-1zM45 728h1v1h-1zM56 730h1v1h-1zM50 722h1v1h-1zM51 707h1v1h-1zM50 720h1v1h-1zM62 720h1v1h-1zM53 732h1v1h-1zM37 709h1v1h-1zM57 727h1v1h-1zM50 716h1v1h-1zM38 717h1v1h-1zM40 722h1v1h-1zM39 730h1v1h-1zM53 733h1v1h-1zM54 704h1v1h-1zM64 707h1v1h-1zM48 728h1v1h-1zM34 722h1v1h-1zM42 743h1v1h-1zM44 725h1v1h-1zM53 727h1v1h-1zM52 733h1v1h-1zM52 729h1v1h-1zM37 723h1v1h-1zM58 723h1v1h-1zM45 730h1v1h-1zM45 708h1v1h-1zM44 719h1v1h-1zM46 742h1v1h-1zM46 731h1v1h-1zM46 738h1v1h-1zM56 732h1v1h-1zM51 726h1v1h-1zM45 700h1v1h-1zM45 732h1v1h-1zM43 710h1v1h-1zM42 737h1v1h-1zM52 710h1v1h-1zM46 725h1v1h-1zM39 725h1v1h-1zM49 724h1v1h-1zM43 733h1v1h-1zM46 732h1v1h-1zM49 729h1v1h-1zM61 720h1v1h-1zM40 734h1v1h-1zM47 724h1v1h-1zM41 741h1v1h-1zM66 714h1v1h-1zM39 719h1v1h-1zM64 718h1v1h-1zM53 713h1v1h-1zM64 712h1v1h-1zM40 723h1v1h-1zM42 711h1v1h-1zM36 742h1v1h-1zM46 733h1v1h-1zM44 735h1v1h-1zM47 716h1v1h-1zM46 721h1v1h-1zM37 714h1v1h-1zM47 725h1v1h-1zM34 710h1v1h-1zM57 697h1v1h-1zM48 717h1v1h-1zM48 722h1v1h-1zM41 732h1v1h-1zM37 719h1v1h-1zM50 715h1v1h-1zM60 729h1v1h-1zM39 726h1v1h-1zM70 732h1v1h-1zM48 712h1v1h-1zM53 737h1v1h-1zM47 709h1v1h-1zM51 728h1v1h-1zM58 729h1v1h-1zM46 722h1v1h-1zM49 728h1v1h-1zM34 728h1v1h-1zM37 721h1v1h-1zM42 713h1v1h-1zM41 718h1v1h-1zM55 712h1v1h-1zM38 730h1v1h-1zM34 723h1v1h-1zM61 726h1v1h-1zM38 725h1v1h-1zM48 723h1v1h-1zM43 718h1v1h-1zM54 723h1v1h-1zM42 717h1v1h-1zM57 715h1v1h-1zM55 732h1v1h-1zM53 736h1v1h-1zM46 724h1v1h-1zM56 751h1v1h-1zM46 713h1v1h-1zM46 730h1v1h-1zM51 722h1v1h-1zM47 738h1v1h-1zM42 721h1v1h-1zM58 707h1v1h-1z" fill="#888" fill-opacity="0.5"/>
<path d="M61 715h1v1h-1zM77 712h1v1h-1zM50 698h1v1h-1zM55 738h1v1h-1zM62 706h1v1h-1zM60 701h1v1h-1zM68 715h1v1h-1zM55 687h1v1h-1zM73 725h1v1h-1zM62 732h1v1h-1zM56 700h1v1h-1zM59 732h1v1h-1zM64 711h1v1h-1zM62 719h1v1h-1zM59 695h1v1h-1zM62 702h1v1h-1zM58 713h1v1h-1zM54 710h1v1h-1zM53 736h1v1h-1zM57 718h1v1h-1zM74 703h1v1h-1zM62 718h1v1h-1zM63 722h1v1h-1zM61 700h1v1h-1zM66 729h1v1h-1zM53 742h1v1h-1zM56 720h1v1h-1zM55 729h1v1h-1zM62 691h1v1h-1zM74 742h1v1h-1zM62 710h1v1h-1zM70 712h1v1h-1zM52 717h1v1h-1zM46 729h1v1h-1zM69 736h1v1h-1zM58 700h1v1h-1zM54 726h1v1h-1zM65 711h1v1h-1zM64 722h1v1h-1zM57 721h1v1h-1zM73 690h1v1h-1zM56 725h1v1h-1zM73 692h1v1h-1zM67 705h1v1h-1zM55 710h1v1h-1zM62 709h1v1h-1zM59 721h1v1h-1zM56 708h1v1h-1zM66 686h1v1h-1zM62 723h1v1h-1zM63 700h1v1h-1zM57 724h1v1h-1zM53 705h1v1h-1zM50 704h1v1h-1zM65 715h1v1h-1zM63 731h1v1h-1zM57 731h1v1h-1zM69 703h1v1h-1zM63 716h1v1h-1zM54 705h1v1h-1zM48 710h1v1h-1zM56 728h1v1h-1zM68 705h1v1h-1zM55 728h1v1h-1zM56 721h1v1h-1zM59 730h1v1h-1zM42 717h1v1h-1zM64 703h1v1h-1zM61 709h1v1h-1zM58 719h1v1h-1zM60 722h1v1h-1zM64 717h1v1h-1zM51 722h1v1h-1zM68 744h1v1h-1zM58 726h1v1h-1zM68 734h1v1h-1zM67 706h1v1h-1zM68 725h1v1h-1zM56 712h1v1h-1zM62 705h1v1h-1zM50 711h1v1h-1zM57 708h1v1h-1zM62 717h1v1h-1zM52 709h1v1h-1zM65 719h1v1h-1zM57 735h1v1h-1zM71 709h1v1h-1zM63 703h1v1h-1zM72 724h1v1h-1zM52 701h1v1h-1zM58 698h1v1h-1zM73 709h1v1h-1zM62 704h1v1h-1zM56 702h1v1h-1zM75 707h1v1h-1zM53 720h1v1h-1zM57 727h1v1h-1zM77 729h1v1h-1zM67 712h1v1h-1zM63 732h1v1h-1zM56 710h1v1h-1zM64 709h1v1h-1zM48 713h1v1h-1zM61 704h1v1h-1zM67 707h1v1h-1zM71 705h1v1h-1zM60 707h1v1h-1zM58 705h1v1h-1zM41 714h1v1h-1zM64 706h1v1h-1zM65 721h1v1h-1zM69 705h1v1h-1zM59 726h1v1h-1zM55 719h1v1h-1zM64 710h1v1h-1zM68 713h1v1h-1zM56 713h1v1h-1zM61 722h1v1h-1zM44 700h1v1h-1zM54 704h1v1h-1zM62 713h1v1h-1zM60 715h1v1h-1zM68 720h1v1h-1zM57 714h1v1h-1zM59 745h1v1h-1zM56 748h1v1h-1zM47 728h1v1h-1zM58 716h1v1h-1zM55 717h1v1h-1zM56 726h1v1h-1zM50 705h1v1h-1zM48 703h1v1h-1zM71 729h1v1h-1zM55 698h1v1h-1zM66 701h1v1h-1zM55 715h1v1h-1zM60 691h1v1h-1zM61 720h1v1h-1zM59 723h1v1h-1zM58 718h1v1h-1zM51 711h1v1h-1z" fill="#777" fill-opacity="0.55"/>
<path d="M42 730h1v1h-1zM54 729h1v1h-1zM47 730h1v1h-1zM41 713h1v1h-1zM40 723h1v1h-1zM39 725h1v1h-1zM47 719h1v1h-1zM41 717h1v1h-1zM49 717h1v1h-1zM51 728h1v1h-1zM41 723h1v1h-1zM40 731h1v1h-1zM37 722h1v1h-1zM45 718h1v1h-1zM46 725h1v1h-1zM44 725h1v1h-1zM38 717h1v1h-1zM39 735h1v1h-1zM55 728h1v1h-1zM42 719h1v1h-1zM46 723h1v1h-1zM44 717h1v1h-1zM47 721h1v1h-1zM38 727h1v1h-1zM46 729h1v1h-1zM45 730h1v1h-1zM41 729h1v1h-1zM42 714h1v1h-1zM41 727h1v1h-1zM45 714h1v1h-1zM39 712h1v1h-1zM59 720h1v1h-1zM43 717h1v1h-1zM43 715h1v1h-1zM49 727h1v1h-1zM36 729h1v1h-1zM42 728h1v1h-1zM49 725h1v1h-1zM40 724h1v1h-1zM44 718h1v1h-1zM41 718h1v1h-1zM42 718h1v1h-1zM43 734h1v1h-1zM38 718h1v1h-1zM43 732h1v1h-1zM39 724h1v1h-1zM46 719h1v1h-1zM41 724h1v1h-1zM47 733h1v1h-1zM47 723h1v1h-1zM46 721h1v1h-1zM45 724h1v1h-1zM34 705h1v1h-1zM41 728h1v1h-1zM40 727h1v1h-1zM52 736h1v1h-1zM35 729h1v1h-1zM52 725h1v1h-1zM47 726h1v1h-1zM40 717h1v1h-1zM35 724h1v1h-1zM52 727h1v1h-1zM50 718h1v1h-1zM44 721h1v1h-1zM38 725h1v1h-1zM49 728h1v1h-1zM50 726h1v1h-1zM46 728h1v1h-1zM46 720h1v1h-1zM42 720h1v1h-1zM51 717h1v1h-1zM47 731h1v1h-1zM47 713h1v1h-1zM41 726h1v1h-1zM45 715h1v1h-1zM47 712h1v1h-1zM44 715h1v1h-1zM46 724h1v1h-1zM50 722h1v1h-1zM38 723h1v1h-1zM53 725h1v1h-1zM41 725h1v1h-1zM46 711h1v1h-1zM45 725h1v1h-1zM53 728h1v1h-1zM48 716h1v1h-1zM47 716h1v1h-1zM45 719h1v1h-1zM36 728h1v1h-1zM44 719h1v1h-1zM35 733h1v1h-1zM36 720h1v1h-1zM49 724h1v1h-1zM48 726h1v1h-1zM55 732h1v1h-1zM42 711h1v1h-1zM48 725h1v1h-1zM54 719h1v1h-1zM50 727h1v1h-1zM38 730h1v1h-1zM46 727h1v1h-1zM48 722h1v1h-1zM55 716h1v1h-1zM41 722h1v1h-1zM49 730h1v1h-1zM56 729h1v1h-1zM48 719h1v1h-1zM46 726h1v1h-1zM50 732h1v1h-1zM44 726h1v1h-1zM40 722h1v1h-1zM46 716h1v1h-1zM39 720h1v1h-1zM43 709h1v1h-1zM45 711h1v1h-1zM44 730h1v1h-1zM43 719h1v1h-1zM49 719h1v1h-1zM51 721h1v1h-1zM42 729h1v1h-1zM41 720h1v1h-1zM44 727h1v1h-1zM42 722h1v1h-1zM53 717h1v1h-1zM45 731h1v1h-1zM51 727h1v1h-1zM43 710h1v1h-1zM47 711h1v1h-1zM39 723h1v1h-1zM44 722h1v1h-1zM43 723h1v1h-1zM51 715h1v1h-1zM41 733h1v1h-1zM49 737h1v1h-1zM40 732h1v1h-1zM46 718h1v1h-1zM47 718h1v1h-1zM49 723h1v1h-1zM51 719h1v1h-1zM45 721h1v1h-1zM57 728h1v1h-1zM40 726h1v1h-1zM49 731h1v1h-1zM37 734h1v1h-1zM38 722h1v1h-1zM37 719h1v1h-1zM48 720h1v1h-1zM34 725h1v1h-1zM43 716h1v1h-1zM53 727h1v1h-1zM47 738h1v1h-1zM34 717h1v1h-1zM40 728h1v1h-1zM44 709h1v1h-1zM48 727h1v1h-1zM50 736h1v1h-1zM35 726h1v1h-1zM46 715h1v1h-1zM46 730h1v1h-1zM39 718h1v1h-1zM38 721h1v1h-1zM48 723h1v1h-1zM37 723h1v1h-1zM51 720h1v1h-1zM40 716h1v1h-1zM48 713h1v1h-1zM35 715h1v1h-1zM52 726h1v1h-1zM45 709h1v1h-1zM43 725h1v1h-1zM43 718h1v1h-1zM42 726h1v1h-1zM35 725h1v1h-1zM49 729h1v1h-1zM42 732h1v1h-1zM45 726h1v1h-1zM54 720h1v1h-1zM34 714h1v1h-1zM46 731h1v1h-1zM48 732h1v1h-1zM43 726h1v1h-1zM39 732h1v1h-1zM52 714h1v1h-1zM42 721h1v1h-1zM40 729h1v1h-1zM41 708h1v1h-1zM38 724h1v1h-1z" fill="#999" fill-opacity="0.5"/>
<g>
<ellipse cx="60.7" cy="721.0" rx="7.40" ry="7.40" fill="none" stroke="#444" stroke-width="1.43" stroke-opacity="0.8" filter="url(#bl)"/>
<ellipse cx="60.7" cy="721.0" rx="7.00" ry="7.00" fill="#dedede" stroke="#6a6a6a" stroke-width="0.55"/>
<ellipse cx="60.7" cy="721.0" rx="4.88" ry="4.88" fill="#e9e9e9" stroke="#8a8a8a" stroke-width="0.55"/>
<ellipse cx="60.7" cy="721.0" rx="2.76" ry="2.76" fill="#f2f2f2" stroke="#a0a0a0" stroke-width="0.55"/>
</g>
<g>
<ellipse cx="58.5" cy="706.6" rx="7.40" ry="6.40" fill="none" stroke="#444" stroke-width="1.43" stroke-opacity="0.8" filter="url(#bl)"/>
<ellipse cx="58.5" cy="706.6" rx="7.00" ry="6.00" fill="#dedede" stroke="#6a6a6a" stroke-width="0.55"/>
<ellipse cx="58.5" cy="706.6" rx="4.88" ry="4.18" fill="#e9e9e9" stroke="#8a8a8a" stroke-width="0.55"/>
<ellipse cx="58.5" cy="706.6" rx="2.76" ry="2.36" fill="#f2f2f2" stroke="#a0a0a0" stroke-width="0.55"/>
</g>
<line x1="54.60" y1="695.50" x2="54.60" y2="742.70" stroke="#444" stroke-width="0.9"/>
<rect x="54.60" y="695.50" width="18.90" height="47.20" stroke="#444" stroke-width="0.9" fill="none"/>
<line x1="32.40" y1="715.50" x2="73.50" y2="715.50" stroke="#444" stroke-width="0.9"/>
<line x1="32.40" y1="742.70" x2="73.50" y2="742.70" stroke="#444" stroke-width="0.9"/>
<circle cx="32.60" cy="740.00" r="1.10" fill="#111" stroke="none" stroke-width="0"/>
<text x="64.6" y="682.9" font-size="8.8" text-anchor="middle" fill="#111" stroke="#111" stroke-width="0.18">Lin<tspan font-size="5.5" dy="-3.5">-</tspan><tspan dy="3.5"> c-Kit</tspan><tspan font-size="5.5" dy="-3.5">+</tspan></text>
<text x="43.3" y="701.6" font-size="9.2" text-anchor="middle" fill="#111" stroke="#111" stroke-width="0.18">MEP</text>
<text x="43.4" y="712.7" font-size="9.2" text-anchor="middle" fill="#111" stroke="#111" stroke-width="0.18">14.5</text>
<text x="85.9" y="701.6" font-size="9.2" text-anchor="middle" fill="#111" stroke="#111" stroke-width="0.18">GMP</text>
<text x="86.8" y="712.7" font-size="9.2" text-anchor="middle" fill="#111" stroke="#111" stroke-width="0.18">36.1</text>
<text x="85.8" y="728.8" font-size="9.2" text-anchor="middle" fill="#111" stroke="#111" stroke-width="0.18">CMP</text>
<text x="85.9" y="739.9" font-size="9.2" text-anchor="middle" fill="#111" stroke="#111" stroke-width="0.18">35.9</text>
<text x="28.4" y="722.3" font-size="9.2" text-anchor="middle" fill="#111" stroke="#111" stroke-width="0.18" transform="rotate(-90 28.4 722.3)">CD16/32</text>
<text x="60.5" y="763.5" font-size="9.2" text-anchor="middle" fill="#111" stroke="#111" stroke-width="0.18">CD34</text>
<line x1="8.40" y1="423.40" x2="8.40" y2="623.60" stroke="#555" stroke-width="0.8"/>
<line x1="8.40" y1="423.40" x2="14.00" y2="423.40" stroke="#555" stroke-width="0.8"/>
<path d="M17.0,423.4 L13.0,421.6 L13.0,425.2 Z" fill="#555"/>
<line x1="8.40" y1="536.40" x2="47.40" y2="536.40" stroke="#555" stroke-width="0.8"/>
<line x1="8.40" y1="623.60" x2="14.00" y2="623.60" stroke="#555" stroke-width="0.8"/>
<path d="M17.0,623.6 L13.0,621.8 L13.0,625.4 Z" fill="#555"/>
<rect x="123.40" y="390.80" width="68.70" height="69.00" stroke="#5a5a5a" stroke-width="0.9" fill="none"/>
<line x1="123.40" y1="399.43" x2="124.90" y2="399.43" stroke="#888" stroke-width="0.5"/>
<line x1="123.40" y1="408.05" x2="124.90" y2="408.05" stroke="#888" stroke-width="0.5"/>
<line x1="123.40" y1="416.68" x2="124.90" y2="416.68" stroke="#888" stroke-width="0.5"/>
<line x1="123.40" y1="425.30" x2="124.90" y2="425.30" stroke="#888" stroke-width="0.5"/>
<line x1="123.40" y1="433.93" x2="124.90" y2="433.93" stroke="#888" stroke-width="0.5"/>
<line x1="123.40" y1="442.55" x2="124.90" y2="442.55" stroke="#888" stroke-width="0.5"/>
<line x1="123.40" y1="451.18" x2="124.90" y2="451.18" stroke="#888" stroke-width="0.5"/>
<line x1="130.27" y1="459.80" x2="130.27" y2="458.50" stroke="#888" stroke-width="0.5"/>
<line x1="137.14" y1="459.80" x2="137.14" y2="458.50" stroke="#888" stroke-width="0.5"/>
<line x1="144.01" y1="459.80" x2="144.01" y2="458.50" stroke="#888" stroke-width="0.5"/>
<line x1="150.88" y1="459.80" x2="150.88" y2="458.50" stroke="#888" stroke-width="0.5"/>
<line x1="157.75" y1="459.80" x2="157.75" y2="458.50" stroke="#888" stroke-width="0.5"/>
<line x1="164.62" y1="459.80" x2="164.62" y2="458.50" stroke="#888" stroke-width="0.5"/>
<line x1="171.49" y1="459.80" x2="171.49" y2="458.50" stroke="#888" stroke-width="0.5"/>
<line x1="178.36" y1="459.80" x2="178.36" y2="458.50" stroke="#888" stroke-width="0.5"/>
<line x1="185.23" y1="459.80" x2="185.23" y2="458.50" stroke="#888" stroke-width="0.5"/>
<path d="M123.9,459.4 L123.9,459.4 L124.4,459.4 L124.9,459.4 L125.4,459.4 L125.9,459.4 L126.4,459.4 L126.9,459.4 L127.4,459.4 L127.9,459.4 L128.4,459.4 L128.9,459.4 L129.4,459.4 L129.9,459.4 L130.4,459.4 L130.9,459.4 L131.4,459.4 L131.9,459.4 L132.4,459.4 L132.9,459.4 L133.4,459.4 L133.9,459.4 L134.4,459.4 L134.9,459.4 L135.4,459.3 L135.9,459.1 L136.4,458.4 L136.9,456.9 L137.4,453.8 L137.9,448.6 L138.4,441.3 L138.9,433.1 L139.4,426.6 L139.9,424.0 L140.4,425.7 L140.9,430.1 L141.4,436.3 L141.9,442.8 L142.4,448.4 L142.9,452.5 L143.4,455.2 L143.9,456.6 L144.4,457.2 L144.9,457.4 L145.4,457.2 L145.9,457.0 L146.4,456.7 L146.9,456.3 L147.4,456.0 L147.9,455.6 L148.4,455.3 L148.9,454.8 L149.4,454.3 L149.9,453.7 L150.4,452.9 L150.9,451.9 L151.4,450.7 L151.9,449.1 L152.4,447.2 L152.9,445.0 L153.4,442.4 L153.9,439.8 L154.4,437.0 L154.9,434.3 L155.4,432.0 L155.9,430.0 L156.4,428.7 L156.9,428.0 L157.4,428.2 L157.9,429.9 L158.4,432.7 L158.9,436.1 L159.4,439.3 L159.9,441.8 L160.4,443.4 L160.9,444.2 L161.4,444.3 L161.9,444.3 L162.4,444.5 L162.9,445.1 L163.4,446.1 L163.9,447.3 L164.4,448.9 L164.9,450.6 L165.4,452.2 L165.9,453.8 L166.4,455.3 L166.9,456.4 L167.4,457.3 L167.9,458.0 L168.4,458.5 L168.9,458.9 L169.4,459.1 L169.9,459.2 L170.4,459.3 L170.9,459.4 L171.4,459.4 L171.9,459.4 L172.4,459.4 L172.9,459.4 L173.4,459.4 L173.9,459.4 L174.4,459.4 L174.9,459.4 L175.4,459.4 L175.9,459.4 L176.4,459.4 L176.9,459.4 L177.4,459.4 L177.9,459.4 L178.4,459.4 L178.9,459.4 L179.4,459.4 L179.9,459.4 L180.4,459.4 L180.9,459.4 L181.4,459.4 L181.9,459.4 L182.4,459.4 L182.9,459.4 L183.4,459.4 L183.9,459.4 L184.4,459.4 L184.9,459.4 L185.4,459.4 L185.9,459.4 L186.4,459.4 L186.9,459.4 L187.4,459.4 L187.9,459.4 L188.4,459.4 L188.9,459.4 L189.4,459.4 L189.9,459.4 L190.4,459.4 L190.9,459.4 L191.4,459.4 L191.4,459.4 Z" fill="#9fcdf6" stroke="#5ea8ef" stroke-width="0.6"/>
<circle cx="139.90" cy="459.30" r="1.00" fill="#111" stroke="none" stroke-width="0"/>
<line x1="146.60" y1="406.40" x2="176.40" y2="406.40" stroke="#555" stroke-width="0.8"/>
<line x1="146.60" y1="404.80" x2="146.60" y2="408.00" stroke="#555" stroke-width="0.7"/>
<line x1="176.40" y1="404.80" x2="176.40" y2="408.00" stroke="#555" stroke-width="0.7"/>
<text x="161.5" y="402.0" font-size="7.7" text-anchor="middle" fill="#111" stroke="#111" stroke-width="0.18">75.0</text>
<rect x="195.90" y="390.80" width="68.70" height="69.00" stroke="#5a5a5a" stroke-width="0.9" fill="none"/>
<line x1="195.90" y1="399.43" x2="197.40" y2="399.43" stroke="#888" stroke-width="0.5"/>
<line x1="195.90" y1="408.05" x2="197.40" y2="408.05" stroke="#888" stroke-width="0.5"/>
<line x1="195.90" y1="416.68" x2="197.40" y2="416.68" stroke="#888" stroke-width="0.5"/>
<line x1="195.90" y1="425.30" x2="197.40" y2="425.30" stroke="#888" stroke-width="0.5"/>
<line x1="195.90" y1="433.93" x2="197.40" y2="433.93" stroke="#888" stroke-width="0.5"/>
<line x1="195.90" y1="442.55" x2="197.40" y2="442.55" stroke="#888" stroke-width="0.5"/>
<line x1="195.90" y1="451.18" x2="197.40" y2="451.18" stroke="#888" stroke-width="0.5"/>
<line x1="202.77" y1="459.80" x2="202.77" y2="458.50" stroke="#888" stroke-width="0.5"/>
<line x1="209.64" y1="459.80" x2="209.64" y2="458.50" stroke="#888" stroke-width="0.5"/>
<line x1="216.51" y1="459.80" x2="216.51" y2="458.50" stroke="#888" stroke-width="0.5"/>
<line x1="223.38" y1="459.80" x2="223.38" y2="458.50" stroke="#888" stroke-width="0.5"/>
<line x1="230.25" y1="459.80" x2="230.25" y2="458.50" stroke="#888" stroke-width="0.5"/>
<line x1="237.12" y1="459.80" x2="237.12" y2="458.50" stroke="#888" stroke-width="0.5"/>
<line x1="243.99" y1="459.80" x2="243.99" y2="458.50" stroke="#888" stroke-width="0.5"/>
<line x1="250.86" y1="459.80" x2="250.86" y2="458.50" stroke="#888" stroke-width="0.5"/>
<line x1="257.73" y1="459.80" x2="257.73" y2="458.50" stroke="#888" stroke-width="0.5"/>
<path d="M196.4,459.4 L196.4,459.4 L196.9,459.4 L197.4,459.4 L197.9,459.4 L198.4,459.4 L198.9,459.4 L199.4,459.4 L199.9,459.4 L200.4,459.4 L200.9,459.4 L201.4,459.4 L201.9,459.4 L202.4,459.4 L202.9,459.4 L203.4,459.4 L203.9,459.4 L204.4,459.4 L204.9,459.4 L205.4,459.4 L205.9,459.4 L206.4,459.4 L206.9,459.4 L207.4,459.4 L207.9,459.4 L208.4,459.3 L208.9,459.0 L209.4,458.2 L209.9,456.0 L210.4,451.4 L210.9,443.6 L211.4,433.3 L211.9,423.1 L212.4,417.0 L212.9,417.1 L213.4,421.5 L213.9,428.5 L214.4,436.6 L214.9,444.1 L215.4,450.1 L215.9,454.3 L216.4,456.8 L216.9,458.2 L217.4,458.9 L217.9,459.2 L218.4,459.3 L218.9,459.4 L219.4,459.4 L219.9,459.4 L220.4,459.4 L220.9,459.4 L221.4,459.4 L221.9,459.4 L222.4,459.4 L222.9,459.4 L223.4,459.4 L223.9,459.4 L224.4,459.4 L224.9,459.4 L225.4,459.4 L225.9,459.4 L226.4,459.4 L226.9,459.4 L227.4,459.4 L227.9,459.4 L228.4,459.4 L228.9,459.4 L229.4,459.4 L229.9,459.4 L230.4,459.4 L230.9,459.4 L231.4,459.4 L231.9,459.4 L232.4,459.4 L232.9,459.4 L233.4,459.4 L233.9,459.4 L234.4,459.4 L234.9,459.4 L235.4,459.4 L235.9,459.4 L236.4,459.4 L236.9,459.4 L237.4,459.4 L237.9,459.4 L238.4,459.4 L238.9,459.4 L239.4,459.4 L239.9,459.4 L240.4,459.4 L240.9,459.4 L241.4,459.4 L241.9,459.4 L242.4,459.4 L242.9,459.4 L243.4,459.4 L243.9,459.4 L244.4,459.4 L244.9,459.4 L245.4,459.4 L245.9,459.4 L246.4,459.4 L246.9,459.4 L247.4,459.4 L247.9,459.4 L248.4,459.4 L248.9,459.4 L249.4,459.4 L249.9,459.4 L250.4,459.4 L250.9,459.4 L251.4,459.4 L251.9,459.4 L252.4,459.4 L252.9,459.4 L253.4,459.4 L253.9,459.4 L254.4,459.4 L254.9,459.4 L255.4,459.4 L255.9,459.4 L256.4,459.4 L256.9,459.4 L257.4,459.4 L257.9,459.4 L258.4,459.4 L258.9,459.4 L259.4,459.4 L259.9,459.4 L260.4,459.4 L260.9,459.4 L261.4,459.4 L261.9,459.4 L262.4,459.4 L262.9,459.4 L263.4,459.4 L263.9,459.4 L263.9,459.4 Z" fill="#9fcdf6" stroke="#5ea8ef" stroke-width="0.6"/>
<circle cx="212.40" cy="459.30" r="1.00" fill="#111" stroke="none" stroke-width="0"/>
<line x1="219.00" y1="406.40" x2="248.70" y2="406.40" stroke="#555" stroke-width="0.8"/>
<line x1="219.00" y1="404.80" x2="219.00" y2="408.00" stroke="#555" stroke-width="0.7"/>
<line x1="248.70" y1="404.80" x2="248.70" y2="408.00" stroke="#555" stroke-width="0.7"/>
<text x="233.8" y="402.0" font-size="7.7" text-anchor="middle" fill="#111" stroke="#111" stroke-width="0.18">1.2</text>
<rect x="295.00" y="390.80" width="68.70" height="69.00" stroke="#5a5a5a" stroke-width="0.9" fill="none"/>
<line x1="295.00" y1="399.43" x2="296.50" y2="399.43" stroke="#888" stroke-width="0.5"/>
<line x1="295.00" y1="408.05" x2="296.50" y2="408.05" stroke="#888" stroke-width="0.5"/>
<line x1="295.00" y1="416.68" x2="296.50" y2="416.68" stroke="#888" stroke-width="0.5"/>
<line x1="295.00" y1="425.30" x2="296.50" y2="425.30" stroke="#888" stroke-width="0.5"/>
<line x1="295.00" y1="433.93" x2="296.50" y2="433.93" stroke="#888" stroke-width="0.5"/>
<line x1="295.00" y1="442.55" x2="296.50" y2="442.55" stroke="#888" stroke-width="0.5"/>
<line x1="295.00" y1="451.18" x2="296.50" y2="451.18" stroke="#888" stroke-width="0.5"/>
<line x1="301.87" y1="459.80" x2="301.87" y2="458.50" stroke="#888" stroke-width="0.5"/>
<line x1="308.74" y1="459.80" x2="308.74" y2="458.50" stroke="#888" stroke-width="0.5"/>
<line x1="315.61" y1="459.80" x2="315.61" y2="458.50" stroke="#888" stroke-width="0.5"/>
<line x1="322.48" y1="459.80" x2="322.48" y2="458.50" stroke="#888" stroke-width="0.5"/>
<line x1="329.35" y1="459.80" x2="329.35" y2="458.50" stroke="#888" stroke-width="0.5"/>
<line x1="336.22" y1="459.80" x2="336.22" y2="458.50" stroke="#888" stroke-width="0.5"/>
<line x1="343.09" y1="459.80" x2="343.09" y2="458.50" stroke="#888" stroke-width="0.5"/>
<line x1="349.96" y1="459.80" x2="349.96" y2="458.50" stroke="#888" stroke-width="0.5"/>
<line x1="356.83" y1="459.80" x2="356.83" y2="458.50" stroke="#888" stroke-width="0.5"/>
<path d="M295.5,459.4 L295.5,459.4 L296.0,459.4 L296.5,459.4 L297.0,459.4 L297.5,459.4 L298.0,459.4 L298.5,459.4 L299.0,459.4 L299.5,459.4 L300.0,459.4 L300.5,459.4 L301.0,459.3 L301.5,459.2 L302.0,458.8 L302.5,458.1 L303.0,456.7 L303.5,454.3 L304.0,450.3 L304.5,444.4 L305.0,436.5 L305.5,426.9 L306.0,416.9 L306.5,407.8 L307.0,401.3 L307.5,398.9 L308.0,400.1 L308.5,404.2 L309.0,410.3 L309.5,417.8 L310.0,425.5 L310.5,432.7 L311.0,438.8 L311.5,443.6 L312.0,447.0 L312.5,449.1 L313.0,450.2 L313.5,450.6 L314.0,450.4 L314.5,449.8 L315.0,449.0 L315.5,448.0 L316.0,446.7 L316.5,445.3 L317.0,443.6 L317.5,441.6 L318.0,439.4 L318.5,436.9 L319.0,434.2 L319.5,431.3 L320.0,428.4 L320.5,425.5 L321.0,422.9 L321.5,420.5 L322.0,418.7 L322.5,417.5 L323.0,417.0 L323.5,417.3 L324.0,418.6 L324.5,420.9 L325.0,424.0 L325.5,427.7 L326.0,431.8 L326.5,436.0 L327.0,440.1 L327.5,444.0 L328.0,447.4 L328.5,450.3 L329.0,452.6 L329.5,454.6 L330.0,456.0 L330.5,457.1 L331.0,457.9 L331.5,458.4 L332.0,458.8 L332.5,459.0 L333.0,459.2 L333.5,459.3 L334.0,459.3 L334.5,459.4 L335.0,459.4 L335.5,459.4 L336.0,459.4 L336.5,459.4 L337.0,459.4 L337.5,459.4 L338.0,459.4 L338.5,459.4 L339.0,459.4 L339.5,459.4 L340.0,459.4 L340.5,459.4 L341.0,459.4 L341.5,459.4 L342.0,459.4 L342.5,459.4 L343.0,459.4 L343.5,459.4 L344.0,459.4 L344.5,459.4 L345.0,459.4 L345.5,459.4 L346.0,459.4 L346.5,459.4 L347.0,459.4 L347.5,459.4 L348.0,459.4 L348.5,459.4 L349.0,459.4 L349.5,459.4 L350.0,459.4 L350.5,459.4 L351.0,459.4 L351.5,459.4 L352.0,459.4 L352.5,459.4 L353.0,459.4 L353.5,459.4 L354.0,459.4 L354.5,459.4 L355.0,459.4 L355.5,459.4 L356.0,459.4 L356.5,459.4 L357.0,459.4 L357.5,459.4 L358.0,459.4 L358.5,459.4 L359.0,459.4 L359.5,459.4 L360.0,459.4 L360.5,459.4 L361.0,459.4 L361.5,459.4 L362.0,459.4 L362.5,459.4 L363.0,459.4 L363.0,459.4 Z" fill="#9fcdf6" stroke="#5ea8ef" stroke-width="0.6"/>
<circle cx="311.50" cy="459.30" r="1.00" fill="#111" stroke="none" stroke-width="0"/>
<line x1="315.40" y1="406.40" x2="346.20" y2="406.40" stroke="#555" stroke-width="0.8"/>
<line x1="315.40" y1="404.80" x2="315.40" y2="408.00" stroke="#555" stroke-width="0.7"/>
<line x1="346.20" y1="404.80" x2="346.20" y2="408.00" stroke="#555" stroke-width="0.7"/>
<text x="333.3" y="402.0" font-size="7.7" text-anchor="middle" fill="#111" stroke="#111" stroke-width="0.18">55.7</text>
<rect x="367.40" y="390.80" width="68.70" height="69.00" stroke="#5a5a5a" stroke-width="0.9" fill="none"/>
<line x1="367.40" y1="399.43" x2="368.90" y2="399.43" stroke="#888" stroke-width="0.5"/>
<line x1="367.40" y1="408.05" x2="368.90" y2="408.05" stroke="#888" stroke-width="0.5"/>
<line x1="367.40" y1="416.68" x2="368.90" y2="416.68" stroke="#888" stroke-width="0.5"/>
<line x1="367.40" y1="425.30" x2="368.90" y2="425.30" stroke="#888" stroke-width="0.5"/>
<line x1="367.40" y1="433.93" x2="368.90" y2="433.93" stroke="#888" stroke-width="0.5"/>
<line x1="367.40" y1="442.55" x2="368.90" y2="442.55" stroke="#888" stroke-width="0.5"/>
<line x1="367.40" y1="451.18" x2="368.90" y2="451.18" stroke="#888" stroke-width="0.5"/>
<line x1="374.27" y1="459.80" x2="374.27" y2="458.50" stroke="#888" stroke-width="0.5"/>
<line x1="381.14" y1="459.80" x2="381.14" y2="458.50" stroke="#888" stroke-width="0.5"/>
<line x1="388.01" y1="459.80" x2="388.01" y2="458.50" stroke="#888" stroke-width="0.5"/>
<line x1="394.88" y1="459.80" x2="394.88" y2="458.50" stroke="#888" stroke-width="0.5"/>
<line x1="401.75" y1="459.80" x2="401.75" y2="458.50" stroke="#888" stroke-width="0.5"/>
<line x1="408.62" y1="459.80" x2="408.62" y2="458.50" stroke="#888" stroke-width="0.5"/>
<line x1="415.49" y1="459.80" x2="415.49" y2="458.50" stroke="#888" stroke-width="0.5"/>
<line x1="422.36" y1="459.80" x2="422.36" y2="458.50" stroke="#888" stroke-width="0.5"/>
<line x1="429.23" y1="459.80" x2="429.23" y2="458.50" stroke="#888" stroke-width="0.5"/>
<path d="M367.9,459.4 L367.9,459.4 L368.4,459.4 L368.9,459.4 L369.4,459.4 L369.9,459.4 L370.4,459.4 L370.9,459.4 L371.4,459.4 L371.9,459.4 L372.4,459.4 L372.9,459.3 L373.4,459.2 L373.9,459.0 L374.4,458.5 L374.9,457.4 L375.4,455.4 L375.9,452.0 L376.4,446.8 L376.9,439.6 L377.4,430.5 L377.9,420.3 L378.4,410.6 L378.9,402.8 L379.4,398.8 L379.9,398.9 L380.4,401.7 L380.9,406.7 L381.4,413.4 L381.9,420.9 L382.4,428.5 L382.9,435.7 L383.4,442.0 L383.9,447.1 L384.4,451.1 L384.9,454.1 L385.4,456.1 L385.9,457.5 L386.4,458.3 L386.9,458.8 L387.4,459.1 L387.9,459.2 L388.4,459.3 L388.9,459.4 L389.4,459.4 L389.9,459.4 L390.4,459.4 L390.9,459.4 L391.4,459.4 L391.9,459.4 L392.4,459.4 L392.9,459.4 L393.4,459.4 L393.9,459.4 L394.4,459.4 L394.9,459.4 L395.4,459.4 L395.9,459.4 L396.4,459.4 L396.9,459.4 L397.4,459.4 L397.9,459.4 L398.4,459.4 L398.9,459.4 L399.4,459.4 L399.9,459.4 L400.4,459.4 L400.9,459.4 L401.4,459.4 L401.9,459.4 L402.4,459.4 L402.9,459.4 L403.4,459.4 L403.9,459.4 L404.4,459.4 L404.9,459.4 L405.4,459.4 L405.9,459.4 L406.4,459.4 L406.9,459.4 L407.4,459.4 L407.9,459.4 L408.4,459.4 L408.9,459.4 L409.4,459.4 L409.9,459.4 L410.4,459.4 L410.9,459.4 L411.4,459.4 L411.9,459.4 L412.4,459.4 L412.9,459.4 L413.4,459.4 L413.9,459.4 L414.4,459.4 L414.9,459.4 L415.4,459.4 L415.9,459.4 L416.4,459.4 L416.9,459.4 L417.4,459.4 L417.9,459.4 L418.4,459.4 L418.9,459.4 L419.4,459.4 L419.9,459.4 L420.4,459.4 L420.9,459.4 L421.4,459.4 L421.9,459.4 L422.4,459.4 L422.9,459.4 L423.4,459.4 L423.9,459.4 L424.4,459.4 L424.9,459.4 L425.4,459.4 L425.9,459.4 L426.4,459.4 L426.9,459.4 L427.4,459.4 L427.9,459.4 L428.4,459.4 L428.9,459.4 L429.4,459.4 L429.9,459.4 L430.4,459.4 L430.9,459.4 L431.4,459.4 L431.9,459.4 L432.4,459.4 L432.9,459.4 L433.4,459.4 L433.9,459.4 L434.4,459.4 L434.9,459.4 L435.4,459.4 L435.4,459.4 Z" fill="#9fcdf6" stroke="#5ea8ef" stroke-width="0.6"/>
<circle cx="383.90" cy="459.30" r="1.00" fill="#111" stroke="none" stroke-width="0"/>
<line x1="388.20" y1="406.40" x2="418.60" y2="406.40" stroke="#555" stroke-width="0.8"/>
<line x1="388.20" y1="404.80" x2="388.20" y2="408.00" stroke="#555" stroke-width="0.7"/>
<line x1="418.60" y1="404.80" x2="418.60" y2="408.00" stroke="#555" stroke-width="0.7"/>
<text x="403.4" y="402.0" font-size="7.7" text-anchor="middle" fill="#111" stroke="#111" stroke-width="0.18">4.1</text>
<text x="279.2" y="430.9" font-size="9" text-anchor="middle" fill="#111" stroke="#111" stroke-width="0.18">HSPC</text>
<rect x="123.40" y="462.50" width="68.70" height="69.00" stroke="#5a5a5a" stroke-width="0.9" fill="none"/>
<line x1="123.40" y1="471.12" x2="124.90" y2="471.12" stroke="#888" stroke-width="0.5"/>
<line x1="123.40" y1="479.75" x2="124.90" y2="479.75" stroke="#888" stroke-width="0.5"/>
<line x1="123.40" y1="488.38" x2="124.90" y2="488.38" stroke="#888" stroke-width="0.5"/>
<line x1="123.40" y1="497.00" x2="124.90" y2="497.00" stroke="#888" stroke-width="0.5"/>
<line x1="123.40" y1="505.62" x2="124.90" y2="505.62" stroke="#888" stroke-width="0.5"/>
<line x1="123.40" y1="514.25" x2="124.90" y2="514.25" stroke="#888" stroke-width="0.5"/>
<line x1="123.40" y1="522.88" x2="124.90" y2="522.88" stroke="#888" stroke-width="0.5"/>
<line x1="130.27" y1="531.50" x2="130.27" y2="530.20" stroke="#888" stroke-width="0.5"/>
<line x1="137.14" y1="531.50" x2="137.14" y2="530.20" stroke="#888" stroke-width="0.5"/>
<line x1="144.01" y1="531.50" x2="144.01" y2="530.20" stroke="#888" stroke-width="0.5"/>
<line x1="150.88" y1="531.50" x2="150.88" y2="530.20" stroke="#888" stroke-width="0.5"/>
<line x1="157.75" y1="531.50" x2="157.75" y2="530.20" stroke="#888" stroke-width="0.5"/>
<line x1="164.62" y1="531.50" x2="164.62" y2="530.20" stroke="#888" stroke-width="0.5"/>
<line x1="171.49" y1="531.50" x2="171.49" y2="530.20" stroke="#888" stroke-width="0.5"/>
<line x1="178.36" y1="531.50" x2="178.36" y2="530.20" stroke="#888" stroke-width="0.5"/>
<line x1="185.23" y1="531.50" x2="185.23" y2="530.20" stroke="#888" stroke-width="0.5"/>
<path d="M123.9,531.1 L123.9,531.1 L124.4,531.1 L124.9,531.1 L125.4,531.1 L125.9,531.1 L126.4,531.1 L126.9,531.1 L127.4,531.1 L127.9,531.1 L128.4,531.1 L128.9,531.1 L129.4,531.1 L129.9,531.1 L130.4,531.1 L130.9,531.1 L131.4,531.1 L131.9,531.1 L132.4,531.1 L132.9,531.1 L133.4,531.1 L133.9,531.1 L134.4,531.1 L134.9,531.1 L135.4,531.0 L135.9,530.8 L136.4,530.1 L136.9,528.4 L137.4,524.5 L137.9,517.8 L138.4,508.3 L138.9,498.2 L139.4,491.2 L139.9,490.2 L140.4,494.2 L140.9,501.6 L141.4,509.8 L141.9,516.9 L142.4,521.8 L142.9,524.6 L143.4,525.7 L143.9,525.8 L144.4,525.5 L144.9,524.9 L145.4,524.3 L145.9,523.5 L146.4,522.6 L146.9,521.3 L147.4,519.7 L147.9,517.5 L148.4,514.8 L148.9,511.4 L149.4,507.6 L149.9,503.6 L150.4,499.7 L150.9,496.3 L151.4,493.8 L151.9,492.5 L152.4,492.5 L152.9,493.4 L153.4,495.0 L153.9,497.1 L154.4,499.8 L154.9,502.8 L155.4,506.0 L155.9,509.3 L156.4,512.6 L156.9,515.7 L157.4,518.5 L157.9,521.0 L158.4,523.2 L158.9,525.0 L159.4,526.5 L159.9,527.7 L160.4,528.7 L160.9,529.4 L161.4,529.9 L161.9,530.3 L162.4,530.6 L162.9,530.7 L163.4,530.9 L163.9,531.0 L164.4,531.0 L164.9,531.0 L165.4,531.1 L165.9,531.1 L166.4,531.1 L166.9,531.1 L167.4,531.1 L167.9,531.1 L168.4,531.1 L168.9,531.1 L169.4,531.1 L169.9,531.1 L170.4,531.1 L170.9,531.1 L171.4,531.1 L171.9,531.1 L172.4,531.1 L172.9,531.1 L173.4,531.1 L173.9,531.1 L174.4,531.1 L174.9,531.1 L175.4,531.1 L175.9,531.1 L176.4,531.1 L176.9,531.1 L177.4,531.1 L177.9,531.1 L178.4,531.1 L178.9,531.1 L179.4,531.1 L179.9,531.1 L180.4,531.1 L180.9,531.1 L181.4,531.1 L181.9,531.1 L182.4,531.1 L182.9,531.1 L183.4,531.1 L183.9,531.1 L184.4,531.1 L184.9,531.1 L185.4,531.1 L185.9,531.1 L186.4,531.1 L186.9,531.1 L187.4,531.1 L187.9,531.1 L188.4,531.1 L188.9,531.1 L189.4,531.1 L189.9,531.1 L190.4,531.1 L190.9,531.1 L191.4,531.1 L191.4,531.1 Z" fill="#9fcdf6" stroke="#5ea8ef" stroke-width="0.6"/>
<circle cx="139.90" cy="531.00" r="1.00" fill="#111" stroke="none" stroke-width="0"/>
<line x1="146.60" y1="478.10" x2="176.40" y2="478.10" stroke="#555" stroke-width="0.8"/>
<line x1="146.60" y1="476.50" x2="146.60" y2="479.70" stroke="#555" stroke-width="0.7"/>
<line x1="176.40" y1="476.50" x2="176.40" y2="479.70" stroke="#555" stroke-width="0.7"/>
<text x="161.5" y="473.7" font-size="7.7" text-anchor="middle" fill="#111" stroke="#111" stroke-width="0.18">71.8</text>
<rect x="195.90" y="462.50" width="68.70" height="69.00" stroke="#5a5a5a" stroke-width="0.9" fill="none"/>
<line x1="195.90" y1="471.12" x2="197.40" y2="471.12" stroke="#888" stroke-width="0.5"/>
<line x1="195.90" y1="479.75" x2="197.40" y2="479.75" stroke="#888" stroke-width="0.5"/>
<line x1="195.90" y1="488.38" x2="197.40" y2="488.38" stroke="#888" stroke-width="0.5"/>
<line x1="195.90" y1="497.00" x2="197.40" y2="497.00" stroke="#888" stroke-width="0.5"/>
<line x1="195.90" y1="505.62" x2="197.40" y2="505.62" stroke="#888" stroke-width="0.5"/>
<line x1="195.90" y1="514.25" x2="197.40" y2="514.25" stroke="#888" stroke-width="0.5"/>
<line x1="195.90" y1="522.88" x2="197.40" y2="522.88" stroke="#888" stroke-width="0.5"/>
<line x1="202.77" y1="531.50" x2="202.77" y2="530.20" stroke="#888" stroke-width="0.5"/>
<line x1="209.64" y1="531.50" x2="209.64" y2="530.20" stroke="#888" stroke-width="0.5"/>
<line x1="216.51" y1="531.50" x2="216.51" y2="530.20" stroke="#888" stroke-width="0.5"/>
<line x1="223.38" y1="531.50" x2="223.38" y2="530.20" stroke="#888" stroke-width="0.5"/>
<line x1="230.25" y1="531.50" x2="230.25" y2="530.20" stroke="#888" stroke-width="0.5"/>
<line x1="237.12" y1="531.50" x2="237.12" y2="530.20" stroke="#888" stroke-width="0.5"/>
<line x1="243.99" y1="531.50" x2="243.99" y2="530.20" stroke="#888" stroke-width="0.5"/>
<line x1="250.86" y1="531.50" x2="250.86" y2="530.20" stroke="#888" stroke-width="0.5"/>
<line x1="257.73" y1="531.50" x2="257.73" y2="530.20" stroke="#888" stroke-width="0.5"/>
<path d="M196.4,531.1 L196.4,531.1 L196.9,531.1 L197.4,531.1 L197.9,531.1 L198.4,531.1 L198.9,531.1 L199.4,531.1 L199.9,531.1 L200.4,531.1 L200.9,531.1 L201.4,531.1 L201.9,531.1 L202.4,531.1 L202.9,531.1 L203.4,531.1 L203.9,531.1 L204.4,531.1 L204.9,531.1 L205.4,531.1 L205.9,531.1 L206.4,531.1 L206.9,531.1 L207.4,531.1 L207.9,531.1 L208.4,530.9 L208.9,530.5 L209.4,529.1 L209.9,526.0 L210.4,519.9 L210.9,510.5 L211.4,499.3 L211.9,489.8 L212.4,486.1 L212.9,488.2 L213.4,494.1 L213.9,502.1 L214.4,510.5 L214.9,517.8 L215.4,523.3 L215.9,527.0 L216.4,529.1 L216.9,530.2 L217.4,530.8 L217.9,531.0 L218.4,531.1 L218.9,531.1 L219.4,531.1 L219.9,531.1 L220.4,531.1 L220.9,531.1 L221.4,531.1 L221.9,531.1 L222.4,531.1 L222.9,531.1 L223.4,531.1 L223.9,531.1 L224.4,531.1 L224.9,531.1 L225.4,531.1 L225.9,531.1 L226.4,531.1 L226.9,531.1 L227.4,531.1 L227.9,531.1 L228.4,531.1 L228.9,531.1 L229.4,531.1 L229.9,531.1 L230.4,531.1 L230.9,531.1 L231.4,531.1 L231.9,531.1 L232.4,531.1 L232.9,531.1 L233.4,531.1 L233.9,531.1 L234.4,531.1 L234.9,531.1 L235.4,531.1 L235.9,531.1 L236.4,531.1 L236.9,531.1 L237.4,531.1 L237.9,531.1 L238.4,531.1 L238.9,531.1 L239.4,531.1 L239.9,531.1 L240.4,531.1 L240.9,531.1 L241.4,531.1 L241.9,531.1 L242.4,531.1 L242.9,531.1 L243.4,531.1 L243.9,531.1 L244.4,531.1 L244.9,531.1 L245.4,531.1 L245.9,531.1 L246.4,531.1 L246.9,531.1 L247.4,531.1 L247.9,531.1 L248.4,531.1 L248.9,531.1 L249.4,531.1 L249.9,531.1 L250.4,531.1 L250.9,531.1 L251.4,531.1 L251.9,531.1 L252.4,531.1 L252.9,531.1 L253.4,531.1 L253.9,531.1 L254.4,531.1 L254.9,531.1 L255.4,531.1 L255.9,531.1 L256.4,531.1 L256.9,531.1 L257.4,531.1 L257.9,531.1 L258.4,531.1 L258.9,531.1 L259.4,531.1 L259.9,531.1 L260.4,531.1 L260.9,531.1 L261.4,531.1 L261.9,531.1 L262.4,531.1 L262.9,531.1 L263.4,531.1 L263.9,531.1 L263.9,531.1 Z" fill="#9fcdf6" stroke="#5ea8ef" stroke-width="0.6"/>
<circle cx="212.40" cy="531.00" r="1.00" fill="#111" stroke="none" stroke-width="0"/>
<line x1="219.00" y1="478.10" x2="248.70" y2="478.10" stroke="#555" stroke-width="0.8"/>
<line x1="219.00" y1="476.50" x2="219.00" y2="479.70" stroke="#555" stroke-width="0.7"/>
<line x1="248.70" y1="476.50" x2="248.70" y2="479.70" stroke="#555" stroke-width="0.7"/>
<text x="233.8" y="473.7" font-size="7.7" text-anchor="middle" fill="#111" stroke="#111" stroke-width="0.18">0.7</text>
<rect x="295.00" y="462.50" width="68.70" height="69.00" stroke="#5a5a5a" stroke-width="0.9" fill="none"/>
<line x1="295.00" y1="471.12" x2="296.50" y2="471.12" stroke="#888" stroke-width="0.5"/>
<line x1="295.00" y1="479.75" x2="296.50" y2="479.75" stroke="#888" stroke-width="0.5"/>
<line x1="295.00" y1="488.38" x2="296.50" y2="488.38" stroke="#888" stroke-width="0.5"/>
<line x1="295.00" y1="497.00" x2="296.50" y2="497.00" stroke="#888" stroke-width="0.5"/>
<line x1="295.00" y1="505.62" x2="296.50" y2="505.62" stroke="#888" stroke-width="0.5"/>
<line x1="295.00" y1="514.25" x2="296.50" y2="514.25" stroke="#888" stroke-width="0.5"/>
<line x1="295.00" y1="522.88" x2="296.50" y2="522.88" stroke="#888" stroke-width="0.5"/>
<line x1="301.87" y1="531.50" x2="301.87" y2="530.20" stroke="#888" stroke-width="0.5"/>
<line x1="308.74" y1="531.50" x2="308.74" y2="530.20" stroke="#888" stroke-width="0.5"/>
<line x1="315.61" y1="531.50" x2="315.61" y2="530.20" stroke="#888" stroke-width="0.5"/>
<line x1="322.48" y1="531.50" x2="322.48" y2="530.20" stroke="#888" stroke-width="0.5"/>
<line x1="329.35" y1="531.50" x2="329.35" y2="530.20" stroke="#888" stroke-width="0.5"/>
<line x1="336.22" y1="531.50" x2="336.22" y2="530.20" stroke="#888" stroke-width="0.5"/>
<line x1="343.09" y1="531.50" x2="343.09" y2="530.20" stroke="#888" stroke-width="0.5"/>
<line x1="349.96" y1="531.50" x2="349.96" y2="530.20" stroke="#888" stroke-width="0.5"/>
<line x1="356.83" y1="531.50" x2="356.83" y2="530.20" stroke="#888" stroke-width="0.5"/>
<path d="M295.5,531.1 L295.5,531.1 L296.0,531.1 L296.5,531.1 L297.0,531.1 L297.5,531.1 L298.0,531.1 L298.5,531.1 L299.0,531.1 L299.5,531.1 L300.0,531.1 L300.5,531.0 L301.0,530.8 L301.5,530.5 L302.0,529.7 L302.5,528.2 L303.0,525.6 L303.5,521.5 L304.0,515.5 L304.5,507.7 L305.0,498.4 L305.5,489.0 L306.0,480.8 L306.5,475.5 L307.0,474.2 L307.5,476.2 L308.0,480.8 L308.5,487.3 L309.0,494.9 L309.5,502.7 L310.0,509.9 L310.5,516.0 L311.0,520.8 L311.5,524.4 L312.0,526.8 L312.5,528.3 L313.0,529.1 L313.5,529.4 L314.0,529.4 L314.5,529.2 L315.0,528.9 L315.5,528.4 L316.0,527.8 L316.5,527.2 L317.0,526.5 L317.5,525.8 L318.0,525.0 L318.5,524.3 L319.0,523.5 L319.5,522.8 L320.0,522.1 L320.5,521.6 L321.0,521.1 L321.5,520.7 L322.0,520.3 L322.5,520.1 L323.0,519.8 L323.5,519.6 L324.0,519.2 L324.5,518.7 L325.0,518.1 L325.5,517.2 L326.0,516.1 L326.5,514.6 L327.0,512.9 L327.5,511.0 L328.0,508.8 L328.5,506.6 L329.0,504.4 L329.5,502.4 L330.0,500.7 L330.5,499.3 L331.0,498.5 L331.5,498.2 L332.0,498.8 L332.5,500.5 L333.0,503.3 L333.5,506.7 L334.0,510.6 L334.5,514.5 L335.0,518.2 L335.5,521.5 L336.0,524.2 L336.5,526.4 L337.0,528.0 L337.5,529.1 L338.0,529.9 L338.5,530.4 L339.0,530.7 L339.5,530.9 L340.0,531.0 L340.5,531.0 L341.0,531.1 L341.5,531.1 L342.0,531.1 L342.5,531.1 L343.0,531.1 L343.5,531.1 L344.0,531.1 L344.5,531.1 L345.0,531.1 L345.5,531.1 L346.0,531.1 L346.5,531.1 L347.0,531.1 L347.5,531.1 L348.0,531.1 L348.5,531.1 L349.0,531.1 L349.5,531.1 L350.0,531.1 L350.5,531.1 L351.0,531.1 L351.5,531.1 L352.0,531.1 L352.5,531.1 L353.0,531.1 L353.5,531.1 L354.0,531.1 L354.5,531.1 L355.0,531.1 L355.5,531.1 L356.0,531.1 L356.5,531.1 L357.0,531.1 L357.5,531.1 L358.0,531.1 L358.5,531.1 L359.0,531.1 L359.5,531.1 L360.0,531.1 L360.5,531.1 L361.0,531.1 L361.5,531.1 L362.0,531.1 L362.5,531.1 L363.0,531.1 L363.0,531.1 Z" fill="#9fcdf6" stroke="#5ea8ef" stroke-width="0.6"/>
<circle cx="311.50" cy="531.00" r="1.00" fill="#111" stroke="none" stroke-width="0"/>
<line x1="315.40" y1="478.10" x2="346.20" y2="478.10" stroke="#555" stroke-width="0.8"/>
<line x1="315.40" y1="476.50" x2="315.40" y2="479.70" stroke="#555" stroke-width="0.7"/>
<line x1="346.20" y1="476.50" x2="346.20" y2="479.70" stroke="#555" stroke-width="0.7"/>
<text x="333.3" y="473.7" font-size="7.7" text-anchor="middle" fill="#111" stroke="#111" stroke-width="0.18">47.6</text>
<rect x="367.40" y="462.50" width="68.70" height="69.00" stroke="#5a5a5a" stroke-width="0.9" fill="none"/>
<line x1="367.40" y1="471.12" x2="368.90" y2="471.12" stroke="#888" stroke-width="0.5"/>
<line x1="367.40" y1="479.75" x2="368.90" y2="479.75" stroke="#888" stroke-width="0.5"/>
<line x1="367.40" y1="488.38" x2="368.90" y2="488.38" stroke="#888" stroke-width="0.5"/>
<line x1="367.40" y1="497.00" x2="368.90" y2="497.00" stroke="#888" stroke-width="0.5"/>
<line x1="367.40" y1="505.62" x2="368.90" y2="505.62" stroke="#888" stroke-width="0.5"/>
<line x1="367.40" y1="514.25" x2="368.90" y2="514.25" stroke="#888" stroke-width="0.5"/>
<line x1="367.40" y1="522.88" x2="368.90" y2="522.88" stroke="#888" stroke-width="0.5"/>
<line x1="374.27" y1="531.50" x2="374.27" y2="530.20" stroke="#888" stroke-width="0.5"/>
<line x1="381.14" y1="531.50" x2="381.14" y2="530.20" stroke="#888" stroke-width="0.5"/>
<line x1="388.01" y1="531.50" x2="388.01" y2="530.20" stroke="#888" stroke-width="0.5"/>
<line x1="394.88" y1="531.50" x2="394.88" y2="530.20" stroke="#888" stroke-width="0.5"/>
<line x1="401.75" y1="531.50" x2="401.75" y2="530.20" stroke="#888" stroke-width="0.5"/>
<line x1="408.62" y1="531.50" x2="408.62" y2="530.20" stroke="#888" stroke-width="0.5"/>
<line x1="415.49" y1="531.50" x2="415.49" y2="530.20" stroke="#888" stroke-width="0.5"/>
<line x1="422.36" y1="531.50" x2="422.36" y2="530.20" stroke="#888" stroke-width="0.5"/>
<line x1="429.23" y1="531.50" x2="429.23" y2="530.20" stroke="#888" stroke-width="0.5"/>
<path d="M367.9,531.1 L367.9,531.1 L368.4,531.1 L368.9,531.1 L369.4,531.1 L369.9,531.1 L370.4,531.1 L370.9,531.1 L371.4,531.1 L371.9,531.1 L372.4,531.1 L372.9,531.1 L373.4,531.0 L373.9,531.0 L374.4,530.8 L374.9,530.4 L375.4,529.7 L375.9,528.5 L376.4,526.3 L376.9,523.0 L377.4,518.1 L377.9,511.6 L378.4,503.6 L378.9,494.7 L379.4,485.8 L379.9,478.2 L380.4,472.9 L380.9,471.1 L381.4,472.4 L381.9,476.1 L382.4,481.7 L382.9,488.7 L383.4,496.2 L383.9,503.6 L384.4,510.4 L384.9,516.1 L385.4,520.8 L385.9,524.3 L386.4,526.8 L386.9,528.5 L387.4,529.6 L387.9,530.2 L388.4,530.6 L388.9,530.9 L389.4,531.0 L389.9,531.0 L390.4,531.1 L390.9,531.1 L391.4,531.1 L391.9,531.1 L392.4,531.1 L392.9,531.1 L393.4,531.1 L393.9,531.1 L394.4,531.1 L394.9,531.1 L395.4,531.1 L395.9,531.0 L396.4,530.9 L396.9,530.8 L397.4,530.6 L397.9,530.3 L398.4,530.0 L398.9,529.7 L399.4,529.3 L399.9,529.0 L400.4,528.7 L400.9,528.6 L401.4,528.6 L401.9,528.8 L402.4,529.1 L402.9,529.5 L403.4,529.9 L403.9,530.2 L404.4,530.5 L404.9,530.7 L405.4,530.9 L405.9,531.0 L406.4,531.0 L406.9,531.1 L407.4,531.1 L407.9,531.1 L408.4,531.1 L408.9,531.1 L409.4,531.1 L409.9,531.1 L410.4,531.1 L410.9,531.1 L411.4,531.1 L411.9,531.1 L412.4,531.1 L412.9,531.1 L413.4,531.1 L413.9,531.1 L414.4,531.1 L414.9,531.1 L415.4,531.1 L415.9,531.1 L416.4,531.1 L416.9,531.1 L417.4,531.1 L417.9,531.1 L418.4,531.1 L418.9,531.1 L419.4,531.1 L419.9,531.1 L420.4,531.1 L420.9,531.1 L421.4,531.1 L421.9,531.1 L422.4,531.1 L422.9,531.1 L423.4,531.1 L423.9,531.1 L424.4,531.1 L424.9,531.1 L425.4,531.1 L425.9,531.1 L426.4,531.1 L426.9,531.1 L427.4,531.1 L427.9,531.1 L428.4,531.1 L428.9,531.1 L429.4,531.1 L429.9,531.1 L430.4,531.1 L430.9,531.1 L431.4,531.1 L431.9,531.1 L432.4,531.1 L432.9,531.1 L433.4,531.1 L433.9,531.1 L434.4,531.1 L434.9,531.1 L435.4,531.1 L435.4,531.1 Z" fill="#9fcdf6" stroke="#5ea8ef" stroke-width="0.6"/>
<circle cx="383.90" cy="531.00" r="1.00" fill="#111" stroke="none" stroke-width="0"/>
<line x1="388.20" y1="478.10" x2="418.60" y2="478.10" stroke="#555" stroke-width="0.8"/>
<line x1="388.20" y1="476.50" x2="388.20" y2="479.70" stroke="#555" stroke-width="0.7"/>
<line x1="418.60" y1="476.50" x2="418.60" y2="479.70" stroke="#555" stroke-width="0.7"/>
<text x="403.4" y="473.7" font-size="7.7" text-anchor="middle" fill="#111" stroke="#111" stroke-width="0.18">3.7</text>
<text x="277.8" y="498.9" font-size="9" text-anchor="middle" fill="#111" stroke="#111" stroke-width="0.18">CLP</text>
<rect x="123.40" y="534.00" width="68.70" height="69.00" stroke="#5a5a5a" stroke-width="0.9" fill="none"/>
<line x1="123.40" y1="542.62" x2="124.90" y2="542.62" stroke="#888" stroke-width="0.5"/>
<line x1="123.40" y1="551.25" x2="124.90" y2="551.25" stroke="#888" stroke-width="0.5"/>
<line x1="123.40" y1="559.88" x2="124.90" y2="559.88" stroke="#888" stroke-width="0.5"/>
<line x1="123.40" y1="568.50" x2="124.90" y2="568.50" stroke="#888" stroke-width="0.5"/>
<line x1="123.40" y1="577.12" x2="124.90" y2="577.12" stroke="#888" stroke-width="0.5"/>
<line x1="123.40" y1="585.75" x2="124.90" y2="585.75" stroke="#888" stroke-width="0.5"/>
<line x1="123.40" y1="594.38" x2="124.90" y2="594.38" stroke="#888" stroke-width="0.5"/>
<line x1="130.27" y1="603.00" x2="130.27" y2="601.70" stroke="#888" stroke-width="0.5"/>
<line x1="137.14" y1="603.00" x2="137.14" y2="601.70" stroke="#888" stroke-width="0.5"/>
<line x1="144.01" y1="603.00" x2="144.01" y2="601.70" stroke="#888" stroke-width="0.5"/>
<line x1="150.88" y1="603.00" x2="150.88" y2="601.70" stroke="#888" stroke-width="0.5"/>
<line x1="157.75" y1="603.00" x2="157.75" y2="601.70" stroke="#888" stroke-width="0.5"/>
<line x1="164.62" y1="603.00" x2="164.62" y2="601.70" stroke="#888" stroke-width="0.5"/>
<line x1="171.49" y1="603.00" x2="171.49" y2="601.70" stroke="#888" stroke-width="0.5"/>
<line x1="178.36" y1="603.00" x2="178.36" y2="601.70" stroke="#888" stroke-width="0.5"/>
<line x1="185.23" y1="603.00" x2="185.23" y2="601.70" stroke="#888" stroke-width="0.5"/>
<path d="M123.9,602.6 L123.9,602.6 L124.4,602.6 L124.9,602.6 L125.4,602.6 L125.9,602.6 L126.4,602.6 L126.9,602.6 L127.4,602.6 L127.9,602.6 L128.4,602.6 L128.9,602.6 L129.4,602.6 L129.9,602.6 L130.4,602.6 L130.9,602.6 L131.4,602.6 L131.9,602.6 L132.4,602.6 L132.9,602.6 L133.4,602.6 L133.9,602.6 L134.4,602.6 L134.9,602.6 L135.4,602.6 L135.9,602.6 L136.4,602.5 L136.9,602.2 L137.4,601.4 L137.9,599.5 L138.4,595.8 L138.9,589.7 L139.4,581.6 L139.9,573.1 L140.4,566.8 L140.9,565.2 L141.4,568.0 L141.9,573.9 L142.4,581.4 L142.9,588.5 L143.4,594.2 L143.9,598.1 L144.4,600.5 L144.9,601.6 L145.4,602.1 L145.9,602.2 L146.4,602.1 L146.9,601.9 L147.4,601.5 L147.9,600.9 L148.4,600.1 L148.9,598.9 L149.4,597.4 L149.9,595.3 L150.4,592.8 L150.9,589.8 L151.4,586.3 L151.9,582.4 L152.4,578.3 L152.9,574.2 L153.4,570.2 L153.9,566.7 L154.4,563.9 L154.9,562.0 L155.4,561.2 L155.9,561.5 L156.4,562.5 L156.9,564.4 L157.4,566.9 L157.9,569.9 L158.4,573.2 L158.9,576.8 L159.4,580.3 L159.9,583.8 L160.4,587.1 L160.9,590.0 L161.4,592.6 L161.9,594.8 L162.4,596.7 L162.9,598.2 L163.4,599.4 L163.9,600.3 L164.4,601.0 L164.9,601.5 L165.4,601.8 L165.9,602.1 L166.4,602.3 L166.9,602.4 L167.4,602.5 L167.9,602.5 L168.4,602.6 L168.9,602.6 L169.4,602.6 L169.9,602.6 L170.4,602.6 L170.9,602.6 L171.4,602.6 L171.9,602.6 L172.4,602.6 L172.9,602.6 L173.4,602.6 L173.9,602.6 L174.4,602.6 L174.9,602.6 L175.4,602.6 L175.9,602.6 L176.4,602.6 L176.9,602.6 L177.4,602.6 L177.9,602.6 L178.4,602.6 L178.9,602.6 L179.4,602.6 L179.9,602.6 L180.4,602.6 L180.9,602.6 L181.4,602.6 L181.9,602.6 L182.4,602.6 L182.9,602.6 L183.4,602.6 L183.9,602.6 L184.4,602.6 L184.9,602.6 L185.4,602.6 L185.9,602.6 L186.4,602.6 L186.9,602.6 L187.4,602.6 L187.9,602.6 L188.4,602.6 L188.9,602.6 L189.4,602.6 L189.9,602.6 L190.4,602.6 L190.9,602.6 L191.4,602.6 L191.4,602.6 Z" fill="#9fcdf6" stroke="#5ea8ef" stroke-width="0.6"/>
<circle cx="139.90" cy="602.50" r="1.00" fill="#111" stroke="none" stroke-width="0"/>
<line x1="146.60" y1="549.60" x2="176.40" y2="549.60" stroke="#555" stroke-width="0.8"/>
<line x1="146.60" y1="548.00" x2="146.60" y2="551.20" stroke="#555" stroke-width="0.7"/>
<line x1="176.40" y1="548.00" x2="176.40" y2="551.20" stroke="#555" stroke-width="0.7"/>
<text x="161.5" y="545.2" font-size="7.7" text-anchor="middle" fill="#111" stroke="#111" stroke-width="0.18">70.8</text>
<rect x="195.90" y="534.00" width="68.70" height="69.00" stroke="#5a5a5a" stroke-width="0.9" fill="none"/>
<line x1="195.90" y1="542.62" x2="197.40" y2="542.62" stroke="#888" stroke-width="0.5"/>
<line x1="195.90" y1="551.25" x2="197.40" y2="551.25" stroke="#888" stroke-width="0.5"/>
<line x1="195.90" y1="559.88" x2="197.40" y2="559.88" stroke="#888" stroke-width="0.5"/>
<line x1="195.90" y1="568.50" x2="197.40" y2="568.50" stroke="#888" stroke-width="0.5"/>
<line x1="195.90" y1="577.12" x2="197.40" y2="577.12" stroke="#888" stroke-width="0.5"/>
<line x1="195.90" y1="585.75" x2="197.40" y2="585.75" stroke="#888" stroke-width="0.5"/>
<line x1="195.90" y1="594.38" x2="197.40" y2="594.38" stroke="#888" stroke-width="0.5"/>
<line x1="202.77" y1="603.00" x2="202.77" y2="601.70" stroke="#888" stroke-width="0.5"/>
<line x1="209.64" y1="603.00" x2="209.64" y2="601.70" stroke="#888" stroke-width="0.5"/>
<line x1="216.51" y1="603.00" x2="216.51" y2="601.70" stroke="#888" stroke-width="0.5"/>
<line x1="223.38" y1="603.00" x2="223.38" y2="601.70" stroke="#888" stroke-width="0.5"/>
<line x1="230.25" y1="603.00" x2="230.25" y2="601.70" stroke="#888" stroke-width="0.5"/>
<line x1="237.12" y1="603.00" x2="237.12" y2="601.70" stroke="#888" stroke-width="0.5"/>
<line x1="243.99" y1="603.00" x2="243.99" y2="601.70" stroke="#888" stroke-width="0.5"/>
<line x1="250.86" y1="603.00" x2="250.86" y2="601.70" stroke="#888" stroke-width="0.5"/>
<line x1="257.73" y1="603.00" x2="257.73" y2="601.70" stroke="#888" stroke-width="0.5"/>
<path d="M196.4,602.6 L196.4,602.6 L196.9,602.6 L197.4,602.6 L197.9,602.6 L198.4,602.6 L198.9,602.6 L199.4,602.6 L199.9,602.6 L200.4,602.6 L200.9,602.6 L201.4,602.6 L201.9,602.6 L202.4,602.6 L202.9,602.6 L203.4,602.6 L203.9,602.6 L204.4,602.6 L204.9,602.6 L205.4,602.6 L205.9,602.6 L206.4,602.6 L206.9,602.6 L207.4,602.6 L207.9,602.6 L208.4,602.6 L208.9,602.4 L209.4,601.9 L209.9,600.5 L210.4,596.9 L210.9,589.7 L211.4,578.0 L211.9,563.3 L212.4,549.8 L212.9,543.0 L213.4,544.9 L213.9,552.7 L214.4,563.9 L214.9,575.8 L215.4,586.0 L215.9,593.4 L216.4,598.0 L216.9,600.6 L217.4,601.8 L217.9,602.3 L218.4,602.5 L218.9,602.6 L219.4,602.6 L219.9,602.6 L220.4,602.6 L220.9,602.6 L221.4,602.6 L221.9,602.6 L222.4,602.6 L222.9,602.6 L223.4,602.6 L223.9,602.6 L224.4,602.6 L224.9,602.6 L225.4,602.6 L225.9,602.6 L226.4,602.6 L226.9,602.6 L227.4,602.6 L227.9,602.6 L228.4,602.6 L228.9,602.6 L229.4,602.6 L229.9,602.6 L230.4,602.6 L230.9,602.6 L231.4,602.6 L231.9,602.6 L232.4,602.6 L232.9,602.6 L233.4,602.6 L233.9,602.6 L234.4,602.6 L234.9,602.6 L235.4,602.6 L235.9,602.6 L236.4,602.6 L236.9,602.6 L237.4,602.6 L237.9,602.6 L238.4,602.6 L238.9,602.6 L239.4,602.6 L239.9,602.6 L240.4,602.6 L240.9,602.6 L241.4,602.6 L241.9,602.6 L242.4,602.6 L242.9,602.6 L243.4,602.6 L243.9,602.6 L244.4,602.6 L244.9,602.6 L245.4,602.6 L245.9,602.6 L246.4,602.6 L246.9,602.6 L247.4,602.6 L247.9,602.6 L248.4,602.6 L248.9,602.6 L249.4,602.6 L249.9,602.6 L250.4,602.6 L250.9,602.6 L251.4,602.6 L251.9,602.6 L252.4,602.6 L252.9,602.6 L253.4,602.6 L253.9,602.6 L254.4,602.6 L254.9,602.6 L255.4,602.6 L255.9,602.6 L256.4,602.6 L256.9,602.6 L257.4,602.6 L257.9,602.6 L258.4,602.6 L258.9,602.6 L259.4,602.6 L259.9,602.6 L260.4,602.6 L260.9,602.6 L261.4,602.6 L261.9,602.6 L262.4,602.6 L262.9,602.6 L263.4,602.6 L263.9,602.6 L263.9,602.6 Z" fill="#9fcdf6" stroke="#5ea8ef" stroke-width="0.6"/>
<circle cx="212.40" cy="602.50" r="1.00" fill="#111" stroke="none" stroke-width="0"/>
<line x1="219.00" y1="549.60" x2="248.70" y2="549.60" stroke="#555" stroke-width="0.8"/>
<line x1="219.00" y1="548.00" x2="219.00" y2="551.20" stroke="#555" stroke-width="0.7"/>
<line x1="248.70" y1="548.00" x2="248.70" y2="551.20" stroke="#555" stroke-width="0.7"/>
<text x="233.8" y="545.2" font-size="7.7" text-anchor="middle" fill="#111" stroke="#111" stroke-width="0.18">0.35</text>
<rect x="295.00" y="534.00" width="68.70" height="69.00" stroke="#5a5a5a" stroke-width="0.9" fill="none"/>
<line x1="295.00" y1="542.62" x2="296.50" y2="542.62" stroke="#888" stroke-width="0.5"/>
<line x1="295.00" y1="551.25" x2="296.50" y2="551.25" stroke="#888" stroke-width="0.5"/>
<line x1="295.00" y1="559.88" x2="296.50" y2="559.88" stroke="#888" stroke-width="0.5"/>
<line x1="295.00" y1="568.50" x2="296.50" y2="568.50" stroke="#888" stroke-width="0.5"/>
<line x1="295.00" y1="577.12" x2="296.50" y2="577.12" stroke="#888" stroke-width="0.5"/>
<line x1="295.00" y1="585.75" x2="296.50" y2="585.75" stroke="#888" stroke-width="0.5"/>
<line x1="295.00" y1="594.38" x2="296.50" y2="594.38" stroke="#888" stroke-width="0.5"/>
<line x1="301.87" y1="603.00" x2="301.87" y2="601.70" stroke="#888" stroke-width="0.5"/>
<line x1="308.74" y1="603.00" x2="308.74" y2="601.70" stroke="#888" stroke-width="0.5"/>
<line x1="315.61" y1="603.00" x2="315.61" y2="601.70" stroke="#888" stroke-width="0.5"/>
<line x1="322.48" y1="603.00" x2="322.48" y2="601.70" stroke="#888" stroke-width="0.5"/>
<line x1="329.35" y1="603.00" x2="329.35" y2="601.70" stroke="#888" stroke-width="0.5"/>
<line x1="336.22" y1="603.00" x2="336.22" y2="601.70" stroke="#888" stroke-width="0.5"/>
<line x1="343.09" y1="603.00" x2="343.09" y2="601.70" stroke="#888" stroke-width="0.5"/>
<line x1="349.96" y1="603.00" x2="349.96" y2="601.70" stroke="#888" stroke-width="0.5"/>
<line x1="356.83" y1="603.00" x2="356.83" y2="601.70" stroke="#888" stroke-width="0.5"/>
<path d="M295.5,602.6 L295.5,602.6 L296.0,602.6 L296.5,602.6 L297.0,602.6 L297.5,602.6 L298.0,602.6 L298.5,602.6 L299.0,602.6 L299.5,602.6 L300.0,602.6 L300.5,602.6 L301.0,602.6 L301.5,602.6 L302.0,602.6 L302.5,602.6 L303.0,602.5 L303.5,602.3 L304.0,602.0 L304.5,601.4 L305.0,600.3 L305.5,598.3 L306.0,595.2 L306.5,590.6 L307.0,584.4 L307.5,576.6 L308.0,567.7 L308.5,558.6 L309.0,550.5 L309.5,544.7 L310.0,542.1 L310.5,542.7 L311.0,545.6 L311.5,550.5 L312.0,556.8 L312.5,563.8 L313.0,570.9 L313.5,577.5 L314.0,583.2 L314.5,587.8 L315.0,591.4 L315.5,593.8 L316.0,595.3 L316.5,596.0 L317.0,596.2 L317.5,596.0 L318.0,595.5 L318.5,594.9 L319.0,594.2 L319.5,593.5 L320.0,592.9 L320.5,592.3 L321.0,591.9 L321.5,591.7 L322.0,591.6 L322.5,591.6 L323.0,591.8 L323.5,592.1 L324.0,592.4 L324.5,592.7 L325.0,592.8 L325.5,592.6 L326.0,592.0 L326.5,590.7 L327.0,588.7 L327.5,585.7 L328.0,581.9 L328.5,577.2 L329.0,572.0 L329.5,566.7 L330.0,561.7 L330.5,557.5 L331.0,554.7 L331.5,553.6 L332.0,554.3 L332.5,556.9 L333.0,561.0 L333.5,566.2 L334.0,571.9 L334.5,577.8 L335.0,583.3 L335.5,588.2 L336.0,592.3 L336.5,595.5 L337.0,597.9 L337.5,599.6 L338.0,600.8 L338.5,601.5 L339.0,602.0 L339.5,602.3 L340.0,602.4 L340.5,602.5 L341.0,602.6 L341.5,602.6 L342.0,602.6 L342.5,602.6 L343.0,602.6 L343.5,602.6 L344.0,602.6 L344.5,602.6 L345.0,602.6 L345.5,602.6 L346.0,602.6 L346.5,602.6 L347.0,602.6 L347.5,602.6 L348.0,602.6 L348.5,602.6 L349.0,602.6 L349.5,602.6 L350.0,602.6 L350.5,602.6 L351.0,602.6 L351.5,602.6 L352.0,602.6 L352.5,602.6 L353.0,602.6 L353.5,602.6 L354.0,602.6 L354.5,602.6 L355.0,602.6 L355.5,602.6 L356.0,602.6 L356.5,602.6 L357.0,602.6 L357.5,602.6 L358.0,602.6 L358.5,602.6 L359.0,602.6 L359.5,602.6 L360.0,602.6 L360.5,602.6 L361.0,602.6 L361.5,602.6 L362.0,602.6 L362.5,602.6 L363.0,602.6 L363.0,602.6 Z" fill="#9fcdf6" stroke="#5ea8ef" stroke-width="0.6"/>
<circle cx="311.50" cy="602.50" r="1.00" fill="#111" stroke="none" stroke-width="0"/>
<line x1="315.40" y1="549.60" x2="346.20" y2="549.60" stroke="#555" stroke-width="0.8"/>
<line x1="315.40" y1="548.00" x2="315.40" y2="551.20" stroke="#555" stroke-width="0.7"/>
<line x1="346.20" y1="548.00" x2="346.20" y2="551.20" stroke="#555" stroke-width="0.7"/>
<text x="333.3" y="545.2" font-size="7.7" text-anchor="middle" fill="#111" stroke="#111" stroke-width="0.18">54.3</text>
<rect x="367.40" y="534.00" width="68.70" height="69.00" stroke="#5a5a5a" stroke-width="0.9" fill="none"/>
<line x1="367.40" y1="542.62" x2="368.90" y2="542.62" stroke="#888" stroke-width="0.5"/>
<line x1="367.40" y1="551.25" x2="368.90" y2="551.25" stroke="#888" stroke-width="0.5"/>
<line x1="367.40" y1="559.88" x2="368.90" y2="559.88" stroke="#888" stroke-width="0.5"/>
<line x1="367.40" y1="568.50" x2="368.90" y2="568.50" stroke="#888" stroke-width="0.5"/>
<line x1="367.40" y1="577.12" x2="368.90" y2="577.12" stroke="#888" stroke-width="0.5"/>
<line x1="367.40" y1="585.75" x2="368.90" y2="585.75" stroke="#888" stroke-width="0.5"/>
<line x1="367.40" y1="594.38" x2="368.90" y2="594.38" stroke="#888" stroke-width="0.5"/>
<line x1="374.27" y1="603.00" x2="374.27" y2="601.70" stroke="#888" stroke-width="0.5"/>
<line x1="381.14" y1="603.00" x2="381.14" y2="601.70" stroke="#888" stroke-width="0.5"/>
<line x1="388.01" y1="603.00" x2="388.01" y2="601.70" stroke="#888" stroke-width="0.5"/>
<line x1="394.88" y1="603.00" x2="394.88" y2="601.70" stroke="#888" stroke-width="0.5"/>
<line x1="401.75" y1="603.00" x2="401.75" y2="601.70" stroke="#888" stroke-width="0.5"/>
<line x1="408.62" y1="603.00" x2="408.62" y2="601.70" stroke="#888" stroke-width="0.5"/>
<line x1="415.49" y1="603.00" x2="415.49" y2="601.70" stroke="#888" stroke-width="0.5"/>
<line x1="422.36" y1="603.00" x2="422.36" y2="601.70" stroke="#888" stroke-width="0.5"/>
<line x1="429.23" y1="603.00" x2="429.23" y2="601.70" stroke="#888" stroke-width="0.5"/>
<path d="M367.9,602.6 L367.9,602.6 L368.4,602.6 L368.9,602.6 L369.4,602.6 L369.9,602.6 L370.4,602.6 L370.9,602.6 L371.4,602.6 L371.9,602.5 L372.4,602.5 L372.9,602.4 L373.4,602.1 L373.9,601.8 L374.4,601.2 L374.9,600.3 L375.4,599.0 L375.9,597.1 L376.4,594.5 L376.9,591.3 L377.4,587.3 L377.9,582.7 L378.4,577.9 L378.9,573.0 L379.4,568.5 L379.9,564.9 L380.4,562.6 L380.9,561.8 L381.4,562.4 L381.9,564.0 L382.4,566.6 L382.9,569.9 L383.4,573.8 L383.9,577.9 L384.4,581.9 L384.9,585.8 L385.4,589.4 L385.9,592.4 L386.4,595.0 L386.9,597.1 L387.4,598.7 L387.9,599.9 L388.4,600.8 L388.9,601.4 L389.4,601.9 L389.9,602.1 L390.4,602.3 L390.9,602.4 L391.4,602.5 L391.9,602.6 L392.4,602.6 L392.9,602.6 L393.4,602.6 L393.9,602.6 L394.4,602.6 L394.9,602.6 L395.4,602.6 L395.9,602.6 L396.4,602.6 L396.9,602.6 L397.4,602.6 L397.9,602.6 L398.4,602.6 L398.9,602.6 L399.4,602.6 L399.9,602.6 L400.4,602.6 L400.9,602.6 L401.4,602.6 L401.9,602.6 L402.4,602.6 L402.9,602.6 L403.4,602.6 L403.9,602.6 L404.4,602.6 L404.9,602.6 L405.4,602.6 L405.9,602.6 L406.4,602.6 L406.9,602.6 L407.4,602.6 L407.9,602.6 L408.4,602.6 L408.9,602.6 L409.4,602.6 L409.9,602.6 L410.4,602.6 L410.9,602.6 L411.4,602.6 L411.9,602.6 L412.4,602.6 L412.9,602.6 L413.4,602.6 L413.9,602.6 L414.4,602.6 L414.9,602.6 L415.4,602.6 L415.9,602.6 L416.4,602.6 L416.9,602.6 L417.4,602.6 L417.9,602.6 L418.4,602.6 L418.9,602.6 L419.4,602.6 L419.9,602.6 L420.4,602.6 L420.9,602.6 L421.4,602.6 L421.9,602.6 L422.4,602.6 L422.9,602.6 L423.4,602.6 L423.9,602.6 L424.4,602.6 L424.9,602.6 L425.4,602.6 L425.9,602.6 L426.4,602.6 L426.9,602.6 L427.4,602.6 L427.9,602.6 L428.4,602.6 L428.9,602.6 L429.4,602.6 L429.9,602.6 L430.4,602.6 L430.9,602.6 L431.4,602.6 L431.9,602.6 L432.4,602.6 L432.9,602.6 L433.4,602.6 L433.9,602.6 L434.4,602.6 L434.9,602.6 L435.4,602.6 L435.4,602.6 Z" fill="#9fcdf6" stroke="#5ea8ef" stroke-width="0.6"/>
<circle cx="383.90" cy="602.50" r="1.00" fill="#111" stroke="none" stroke-width="0"/>
<line x1="388.20" y1="549.60" x2="418.60" y2="549.60" stroke="#555" stroke-width="0.8"/>
<line x1="388.20" y1="548.00" x2="388.20" y2="551.20" stroke="#555" stroke-width="0.7"/>
<line x1="418.60" y1="548.00" x2="418.60" y2="551.20" stroke="#555" stroke-width="0.7"/>
<text x="403.4" y="545.2" font-size="7.7" text-anchor="middle" fill="#111" stroke="#111" stroke-width="0.18">1.0</text>
<text x="279.2" y="574.7" font-size="9" text-anchor="middle" fill="#111" stroke="#111" stroke-width="0.18">GMP</text>
<rect x="123.40" y="605.30" width="68.70" height="69.00" stroke="#5a5a5a" stroke-width="0.9" fill="none"/>
<line x1="123.40" y1="613.92" x2="124.90" y2="613.92" stroke="#888" stroke-width="0.5"/>
<line x1="123.40" y1="622.55" x2="124.90" y2="622.55" stroke="#888" stroke-width="0.5"/>
<line x1="123.40" y1="631.17" x2="124.90" y2="631.17" stroke="#888" stroke-width="0.5"/>
<line x1="123.40" y1="639.80" x2="124.90" y2="639.80" stroke="#888" stroke-width="0.5"/>
<line x1="123.40" y1="648.42" x2="124.90" y2="648.42" stroke="#888" stroke-width="0.5"/>
<line x1="123.40" y1="657.05" x2="124.90" y2="657.05" stroke="#888" stroke-width="0.5"/>
<line x1="123.40" y1="665.67" x2="124.90" y2="665.67" stroke="#888" stroke-width="0.5"/>
<line x1="130.27" y1="674.30" x2="130.27" y2="673.00" stroke="#888" stroke-width="0.5"/>
<line x1="137.14" y1="674.30" x2="137.14" y2="673.00" stroke="#888" stroke-width="0.5"/>
<line x1="144.01" y1="674.30" x2="144.01" y2="673.00" stroke="#888" stroke-width="0.5"/>
<line x1="150.88" y1="674.30" x2="150.88" y2="673.00" stroke="#888" stroke-width="0.5"/>
<line x1="157.75" y1="674.30" x2="157.75" y2="673.00" stroke="#888" stroke-width="0.5"/>
<line x1="164.62" y1="674.30" x2="164.62" y2="673.00" stroke="#888" stroke-width="0.5"/>
<line x1="171.49" y1="674.30" x2="171.49" y2="673.00" stroke="#888" stroke-width="0.5"/>
<line x1="178.36" y1="674.30" x2="178.36" y2="673.00" stroke="#888" stroke-width="0.5"/>
<line x1="185.23" y1="674.30" x2="185.23" y2="673.00" stroke="#888" stroke-width="0.5"/>
<path d="M123.9,673.9 L123.9,673.9 L124.4,673.9 L124.9,673.9 L125.4,673.9 L125.9,673.9 L126.4,673.9 L126.9,673.9 L127.4,673.9 L127.9,673.9 L128.4,673.9 L128.9,673.9 L129.4,673.9 L129.9,673.9 L130.4,673.9 L130.9,673.9 L131.4,673.9 L131.9,673.9 L132.4,673.9 L132.9,673.9 L133.4,673.9 L133.9,673.9 L134.4,673.9 L134.9,673.9 L135.4,673.9 L135.9,673.7 L136.4,673.4 L136.9,672.6 L137.4,670.9 L137.9,668.0 L138.4,663.6 L138.9,658.6 L139.4,654.2 L139.9,652.0 L140.4,652.7 L140.9,655.4 L141.4,659.4 L141.9,663.5 L142.4,667.0 L142.9,669.3 L143.4,670.7 L143.9,671.2 L144.4,671.1 L144.9,670.8 L145.4,670.2 L145.9,669.7 L146.4,669.1 L146.9,668.4 L147.4,667.8 L147.9,667.1 L148.4,666.3 L148.9,665.4 L149.4,664.3 L149.9,662.9 L150.4,661.3 L150.9,659.4 L151.4,657.2 L151.9,655.0 L152.4,652.6 L152.9,650.4 L153.4,648.5 L153.9,647.0 L154.4,646.1 L154.9,645.8 L155.4,646.3 L155.9,647.4 L156.4,649.0 L156.9,651.1 L157.4,653.4 L157.9,656.0 L158.4,658.7 L158.9,661.2 L159.4,663.6 L159.9,665.7 L160.4,667.6 L160.9,669.1 L161.4,670.4 L161.9,671.4 L162.4,672.1 L162.9,672.7 L163.4,673.1 L163.9,673.4 L164.4,673.6 L164.9,673.7 L165.4,673.8 L165.9,673.8 L166.4,673.9 L166.9,673.9 L167.4,673.9 L167.9,673.9 L168.4,673.9 L168.9,673.9 L169.4,673.9 L169.9,673.9 L170.4,673.9 L170.9,673.9 L171.4,673.9 L171.9,673.9 L172.4,673.9 L172.9,673.9 L173.4,673.9 L173.9,673.9 L174.4,673.9 L174.9,673.9 L175.4,673.9 L175.9,673.9 L176.4,673.9 L176.9,673.9 L177.4,673.9 L177.9,673.9 L178.4,673.9 L178.9,673.9 L179.4,673.9 L179.9,673.9 L180.4,673.9 L180.9,673.9 L181.4,673.9 L181.9,673.9 L182.4,673.9 L182.9,673.9 L183.4,673.9 L183.9,673.9 L184.4,673.9 L184.9,673.9 L185.4,673.9 L185.9,673.9 L186.4,673.9 L186.9,673.9 L187.4,673.9 L187.9,673.9 L188.4,673.9 L188.9,673.9 L189.4,673.9 L189.9,673.9 L190.4,673.9 L190.9,673.9 L191.4,673.9 L191.4,673.9 Z" fill="#9fcdf6" stroke="#5ea8ef" stroke-width="0.6"/>
<circle cx="139.90" cy="673.80" r="1.00" fill="#111" stroke="none" stroke-width="0"/>
<line x1="146.60" y1="620.90" x2="176.40" y2="620.90" stroke="#555" stroke-width="0.8"/>
<line x1="146.60" y1="619.30" x2="146.60" y2="622.50" stroke="#555" stroke-width="0.7"/>
<line x1="176.40" y1="619.30" x2="176.40" y2="622.50" stroke="#555" stroke-width="0.7"/>
<text x="161.5" y="616.5" font-size="7.7" text-anchor="middle" fill="#111" stroke="#111" stroke-width="0.18">72.4</text>
<rect x="195.90" y="605.30" width="68.70" height="69.00" stroke="#5a5a5a" stroke-width="0.9" fill="none"/>
<line x1="195.90" y1="613.92" x2="197.40" y2="613.92" stroke="#888" stroke-width="0.5"/>
<line x1="195.90" y1="622.55" x2="197.40" y2="622.55" stroke="#888" stroke-width="0.5"/>
<line x1="195.90" y1="631.17" x2="197.40" y2="631.17" stroke="#888" stroke-width="0.5"/>
<line x1="195.90" y1="639.80" x2="197.40" y2="639.80" stroke="#888" stroke-width="0.5"/>
<line x1="195.90" y1="648.42" x2="197.40" y2="648.42" stroke="#888" stroke-width="0.5"/>
<line x1="195.90" y1="657.05" x2="197.40" y2="657.05" stroke="#888" stroke-width="0.5"/>
<line x1="195.90" y1="665.67" x2="197.40" y2="665.67" stroke="#888" stroke-width="0.5"/>
<line x1="202.77" y1="674.30" x2="202.77" y2="673.00" stroke="#888" stroke-width="0.5"/>
<line x1="209.64" y1="674.30" x2="209.64" y2="673.00" stroke="#888" stroke-width="0.5"/>
<line x1="216.51" y1="674.30" x2="216.51" y2="673.00" stroke="#888" stroke-width="0.5"/>
<line x1="223.38" y1="674.30" x2="223.38" y2="673.00" stroke="#888" stroke-width="0.5"/>
<line x1="230.25" y1="674.30" x2="230.25" y2="673.00" stroke="#888" stroke-width="0.5"/>
<line x1="237.12" y1="674.30" x2="237.12" y2="673.00" stroke="#888" stroke-width="0.5"/>
<line x1="243.99" y1="674.30" x2="243.99" y2="673.00" stroke="#888" stroke-width="0.5"/>
<line x1="250.86" y1="674.30" x2="250.86" y2="673.00" stroke="#888" stroke-width="0.5"/>
<line x1="257.73" y1="674.30" x2="257.73" y2="673.00" stroke="#888" stroke-width="0.5"/>
<path d="M196.4,673.9 L196.4,673.9 L196.9,673.9 L197.4,673.9 L197.9,673.9 L198.4,673.9 L198.9,673.9 L199.4,673.9 L199.9,673.9 L200.4,673.9 L200.9,673.9 L201.4,673.9 L201.9,673.9 L202.4,673.9 L202.9,673.9 L203.4,673.9 L203.9,673.9 L204.4,673.9 L204.9,673.9 L205.4,673.9 L205.9,673.9 L206.4,673.9 L206.9,673.9 L207.4,673.9 L207.9,673.8 L208.4,673.7 L208.9,673.2 L209.4,671.9 L209.9,669.0 L210.4,663.9 L210.9,656.0 L211.4,646.5 L211.9,637.6 L212.4,632.4 L212.9,632.6 L213.4,636.8 L213.9,643.7 L214.4,651.6 L214.9,659.0 L215.4,664.8 L215.9,668.9 L216.4,671.4 L216.9,672.8 L217.4,673.4 L217.9,673.7 L218.4,673.8 L218.9,673.9 L219.4,673.9 L219.9,673.9 L220.4,673.9 L220.9,673.9 L221.4,673.9 L221.9,673.9 L222.4,673.9 L222.9,673.9 L223.4,673.9 L223.9,673.9 L224.4,673.9 L224.9,673.9 L225.4,673.9 L225.9,673.9 L226.4,673.9 L226.9,673.9 L227.4,673.9 L227.9,673.9 L228.4,673.9 L228.9,673.9 L229.4,673.9 L229.9,673.9 L230.4,673.9 L230.9,673.9 L231.4,673.9 L231.9,673.9 L232.4,673.9 L232.9,673.9 L233.4,673.9 L233.9,673.9 L234.4,673.9 L234.9,673.9 L235.4,673.9 L235.9,673.9 L236.4,673.9 L236.9,673.9 L237.4,673.9 L237.9,673.9 L238.4,673.9 L238.9,673.9 L239.4,673.9 L239.9,673.9 L240.4,673.9 L240.9,673.9 L241.4,673.9 L241.9,673.9 L242.4,673.9 L242.9,673.9 L243.4,673.9 L243.9,673.9 L244.4,673.9 L244.9,673.9 L245.4,673.9 L245.9,673.9 L246.4,673.9 L246.9,673.9 L247.4,673.9 L247.9,673.9 L248.4,673.9 L248.9,673.9 L249.4,673.9 L249.9,673.9 L250.4,673.9 L250.9,673.9 L251.4,673.9 L251.9,673.9 L252.4,673.9 L252.9,673.9 L253.4,673.9 L253.9,673.9 L254.4,673.9 L254.9,673.9 L255.4,673.9 L255.9,673.9 L256.4,673.9 L256.9,673.9 L257.4,673.9 L257.9,673.9 L258.4,673.9 L258.9,673.9 L259.4,673.9 L259.9,673.9 L260.4,673.9 L260.9,673.9 L261.4,673.9 L261.9,673.9 L262.4,673.9 L262.9,673.9 L263.4,673.9 L263.9,673.9 L263.9,673.9 Z" fill="#9fcdf6" stroke="#5ea8ef" stroke-width="0.6"/>
<circle cx="212.40" cy="673.80" r="1.00" fill="#111" stroke="none" stroke-width="0"/>
<line x1="219.00" y1="620.90" x2="248.70" y2="620.90" stroke="#555" stroke-width="0.8"/>
<line x1="219.00" y1="619.30" x2="219.00" y2="622.50" stroke="#555" stroke-width="0.7"/>
<line x1="248.70" y1="619.30" x2="248.70" y2="622.50" stroke="#555" stroke-width="0.7"/>
<text x="233.8" y="616.5" font-size="7.7" text-anchor="middle" fill="#111" stroke="#111" stroke-width="0.18">1.9</text>
<rect x="295.00" y="605.30" width="68.70" height="69.00" stroke="#5a5a5a" stroke-width="0.9" fill="none"/>
<line x1="295.00" y1="613.92" x2="296.50" y2="613.92" stroke="#888" stroke-width="0.5"/>
<line x1="295.00" y1="622.55" x2="296.50" y2="622.55" stroke="#888" stroke-width="0.5"/>
<line x1="295.00" y1="631.17" x2="296.50" y2="631.17" stroke="#888" stroke-width="0.5"/>
<line x1="295.00" y1="639.80" x2="296.50" y2="639.80" stroke="#888" stroke-width="0.5"/>
<line x1="295.00" y1="648.42" x2="296.50" y2="648.42" stroke="#888" stroke-width="0.5"/>
<line x1="295.00" y1="657.05" x2="296.50" y2="657.05" stroke="#888" stroke-width="0.5"/>
<line x1="295.00" y1="665.67" x2="296.50" y2="665.67" stroke="#888" stroke-width="0.5"/>
<line x1="301.87" y1="674.30" x2="301.87" y2="673.00" stroke="#888" stroke-width="0.5"/>
<line x1="308.74" y1="674.30" x2="308.74" y2="673.00" stroke="#888" stroke-width="0.5"/>
<line x1="315.61" y1="674.30" x2="315.61" y2="673.00" stroke="#888" stroke-width="0.5"/>
<line x1="322.48" y1="674.30" x2="322.48" y2="673.00" stroke="#888" stroke-width="0.5"/>
<line x1="329.35" y1="674.30" x2="329.35" y2="673.00" stroke="#888" stroke-width="0.5"/>
<line x1="336.22" y1="674.30" x2="336.22" y2="673.00" stroke="#888" stroke-width="0.5"/>
<line x1="343.09" y1="674.30" x2="343.09" y2="673.00" stroke="#888" stroke-width="0.5"/>
<line x1="349.96" y1="674.30" x2="349.96" y2="673.00" stroke="#888" stroke-width="0.5"/>
<line x1="356.83" y1="674.30" x2="356.83" y2="673.00" stroke="#888" stroke-width="0.5"/>
<path d="M295.5,673.9 L295.5,673.9 L296.0,673.9 L296.5,673.9 L297.0,673.9 L297.5,673.9 L298.0,673.9 L298.5,673.9 L299.0,673.9 L299.5,673.9 L300.0,673.9 L300.5,673.9 L301.0,673.9 L301.5,673.9 L302.0,673.9 L302.5,673.9 L303.0,673.8 L303.5,673.7 L304.0,673.5 L304.5,673.1 L305.0,672.3 L305.5,670.9 L306.0,668.5 L306.5,664.8 L307.0,659.6 L307.5,652.7 L308.0,644.4 L308.5,635.3 L309.0,626.4 L309.5,619.0 L310.0,614.3 L310.5,613.0 L311.0,614.8 L311.5,619.1 L312.0,625.3 L312.5,632.5 L313.0,640.1 L313.5,647.1 L314.0,653.2 L314.5,658.1 L315.0,661.6 L315.5,664.0 L316.0,665.3 L316.5,666.0 L317.0,666.1 L317.5,666.0 L318.0,665.7 L318.5,665.4 L319.0,665.1 L319.5,664.9 L320.0,664.9 L320.5,664.9 L321.0,665.1 L321.5,665.4 L322.0,665.7 L322.5,666.1 L323.0,666.4 L323.5,666.5 L324.0,666.3 L324.5,665.8 L325.0,664.6 L325.5,662.8 L326.0,660.2 L326.5,656.9 L327.0,652.9 L327.5,648.4 L328.0,643.7 L328.5,639.4 L329.0,635.8 L329.5,633.3 L330.0,632.3 L330.5,632.9 L331.0,634.7 L331.5,637.7 L332.0,641.6 L332.5,646.1 L333.0,650.7 L333.5,655.2 L334.0,659.4 L334.5,663.0 L335.0,666.0 L335.5,668.3 L336.0,670.1 L336.5,671.4 L337.0,672.3 L337.5,672.9 L338.0,673.3 L338.5,673.6 L339.0,673.7 L339.5,673.8 L340.0,673.9 L340.5,673.9 L341.0,673.9 L341.5,673.9 L342.0,673.9 L342.5,673.9 L343.0,673.9 L343.5,673.9 L344.0,673.9 L344.5,673.9 L345.0,673.9 L345.5,673.9 L346.0,673.9 L346.5,673.9 L347.0,673.9 L347.5,673.9 L348.0,673.9 L348.5,673.9 L349.0,673.9 L349.5,673.9 L350.0,673.9 L350.5,673.9 L351.0,673.9 L351.5,673.9 L352.0,673.9 L352.5,673.9 L353.0,673.9 L353.5,673.9 L354.0,673.9 L354.5,673.9 L355.0,673.9 L355.5,673.9 L356.0,673.9 L356.5,673.9 L357.0,673.9 L357.5,673.9 L358.0,673.9 L358.5,673.9 L359.0,673.9 L359.5,673.9 L360.0,673.9 L360.5,673.9 L361.0,673.9 L361.5,673.9 L362.0,673.9 L362.5,673.9 L363.0,673.9 L363.0,673.9 Z" fill="#9fcdf6" stroke="#5ea8ef" stroke-width="0.6"/>
<circle cx="311.50" cy="673.80" r="1.00" fill="#111" stroke="none" stroke-width="0"/>
<line x1="315.40" y1="620.90" x2="346.20" y2="620.90" stroke="#555" stroke-width="0.8"/>
<line x1="315.40" y1="619.30" x2="315.40" y2="622.50" stroke="#555" stroke-width="0.7"/>
<line x1="346.20" y1="619.30" x2="346.20" y2="622.50" stroke="#555" stroke-width="0.7"/>
<text x="333.3" y="616.5" font-size="7.7" text-anchor="middle" fill="#111" stroke="#111" stroke-width="0.18">48.5</text>
<rect x="367.40" y="605.30" width="68.70" height="69.00" stroke="#5a5a5a" stroke-width="0.9" fill="none"/>
<line x1="367.40" y1="613.92" x2="368.90" y2="613.92" stroke="#888" stroke-width="0.5"/>
<line x1="367.40" y1="622.55" x2="368.90" y2="622.55" stroke="#888" stroke-width="0.5"/>
<line x1="367.40" y1="631.17" x2="368.90" y2="631.17" stroke="#888" stroke-width="0.5"/>
<line x1="367.40" y1="639.80" x2="368.90" y2="639.80" stroke="#888" stroke-width="0.5"/>
<line x1="367.40" y1="648.42" x2="368.90" y2="648.42" stroke="#888" stroke-width="0.5"/>
<line x1="367.40" y1="657.05" x2="368.90" y2="657.05" stroke="#888" stroke-width="0.5"/>
<line x1="367.40" y1="665.67" x2="368.90" y2="665.67" stroke="#888" stroke-width="0.5"/>
<line x1="374.27" y1="674.30" x2="374.27" y2="673.00" stroke="#888" stroke-width="0.5"/>
<line x1="381.14" y1="674.30" x2="381.14" y2="673.00" stroke="#888" stroke-width="0.5"/>
<line x1="388.01" y1="674.30" x2="388.01" y2="673.00" stroke="#888" stroke-width="0.5"/>
<line x1="394.88" y1="674.30" x2="394.88" y2="673.00" stroke="#888" stroke-width="0.5"/>
<line x1="401.75" y1="674.30" x2="401.75" y2="673.00" stroke="#888" stroke-width="0.5"/>
<line x1="408.62" y1="674.30" x2="408.62" y2="673.00" stroke="#888" stroke-width="0.5"/>
<line x1="415.49" y1="674.30" x2="415.49" y2="673.00" stroke="#888" stroke-width="0.5"/>
<line x1="422.36" y1="674.30" x2="422.36" y2="673.00" stroke="#888" stroke-width="0.5"/>
<line x1="429.23" y1="674.30" x2="429.23" y2="673.00" stroke="#888" stroke-width="0.5"/>
<path d="M367.9,673.9 L367.9,673.9 L368.4,673.9 L368.9,673.9 L369.4,673.9 L369.9,673.9 L370.4,673.9 L370.9,673.9 L371.4,673.9 L371.9,673.9 L372.4,673.9 L372.9,673.9 L373.4,673.8 L373.9,673.7 L374.4,673.6 L374.9,673.3 L375.4,672.9 L375.9,672.1 L376.4,671.0 L376.9,669.3 L377.4,666.9 L377.9,663.6 L378.4,659.4 L378.9,654.4 L379.4,648.6 L379.9,642.4 L380.4,636.1 L380.9,630.5 L381.4,625.9 L381.9,622.9 L382.4,621.9 L382.9,622.6 L383.4,624.7 L383.9,628.0 L384.4,632.3 L384.9,637.2 L385.4,642.4 L385.9,647.6 L386.4,652.5 L386.9,657.0 L387.4,660.9 L387.9,664.2 L388.4,666.9 L388.9,668.9 L389.4,670.5 L389.9,671.6 L390.4,672.4 L390.9,673.0 L391.4,673.3 L391.9,673.6 L392.4,673.7 L392.9,673.8 L393.4,673.8 L393.9,673.9 L394.4,673.9 L394.9,673.9 L395.4,673.9 L395.9,673.9 L396.4,673.9 L396.9,673.9 L397.4,673.9 L397.9,673.9 L398.4,673.9 L398.9,673.9 L399.4,673.9 L399.9,673.9 L400.4,673.9 L400.9,673.9 L401.4,673.9 L401.9,673.9 L402.4,673.9 L402.9,673.9 L403.4,673.9 L403.9,673.9 L404.4,673.9 L404.9,673.9 L405.4,673.9 L405.9,673.9 L406.4,673.9 L406.9,673.9 L407.4,673.9 L407.9,673.9 L408.4,673.9 L408.9,673.9 L409.4,673.9 L409.9,673.9 L410.4,673.9 L410.9,673.9 L411.4,673.9 L411.9,673.9 L412.4,673.9 L412.9,673.9 L413.4,673.9 L413.9,673.9 L414.4,673.9 L414.9,673.9 L415.4,673.9 L415.9,673.9 L416.4,673.9 L416.9,673.9 L417.4,673.9 L417.9,673.9 L418.4,673.9 L418.9,673.9 L419.4,673.9 L419.9,673.9 L420.4,673.9 L420.9,673.9 L421.4,673.9 L421.9,673.9 L422.4,673.9 L422.9,673.9 L423.4,673.9 L423.9,673.9 L424.4,673.9 L424.9,673.9 L425.4,673.9 L425.9,673.9 L426.4,673.9 L426.9,673.9 L427.4,673.9 L427.9,673.9 L428.4,673.9 L428.9,673.9 L429.4,673.9 L429.9,673.9 L430.4,673.9 L430.9,673.9 L431.4,673.9 L431.9,673.9 L432.4,673.9 L432.9,673.9 L433.4,673.9 L433.9,673.9 L434.4,673.9 L434.9,673.9 L435.4,673.9 L435.4,673.9 Z" fill="#9fcdf6" stroke="#5ea8ef" stroke-width="0.6"/>
<circle cx="383.90" cy="673.80" r="1.00" fill="#111" stroke="none" stroke-width="0"/>
<line x1="388.20" y1="620.90" x2="418.60" y2="620.90" stroke="#555" stroke-width="0.8"/>
<line x1="388.20" y1="619.30" x2="388.20" y2="622.50" stroke="#555" stroke-width="0.7"/>
<line x1="418.60" y1="619.30" x2="418.60" y2="622.50" stroke="#555" stroke-width="0.7"/>
<text x="403.4" y="616.5" font-size="7.7" text-anchor="middle" fill="#111" stroke="#111" stroke-width="0.18">1.2</text>
<text x="278.9" y="643.3" font-size="9" text-anchor="middle" fill="#111" stroke="#111" stroke-width="0.18">CMP</text>
<rect x="123.40" y="681.80" width="68.70" height="69.00" stroke="#5a5a5a" stroke-width="0.9" fill="none"/>
<line x1="123.40" y1="690.42" x2="124.90" y2="690.42" stroke="#888" stroke-width="0.5"/>
<line x1="123.40" y1="699.05" x2="124.90" y2="699.05" stroke="#888" stroke-width="0.5"/>
<line x1="123.40" y1="707.67" x2="124.90" y2="707.67" stroke="#888" stroke-width="0.5"/>
<line x1="123.40" y1="716.30" x2="124.90" y2="716.30" stroke="#888" stroke-width="0.5"/>
<line x1="123.40" y1="724.92" x2="124.90" y2="724.92" stroke="#888" stroke-width="0.5"/>
<line x1="123.40" y1="733.55" x2="124.90" y2="733.55" stroke="#888" stroke-width="0.5"/>
<line x1="123.40" y1="742.17" x2="124.90" y2="742.17" stroke="#888" stroke-width="0.5"/>
<line x1="130.27" y1="750.80" x2="130.27" y2="749.50" stroke="#888" stroke-width="0.5"/>
<line x1="137.14" y1="750.80" x2="137.14" y2="749.50" stroke="#888" stroke-width="0.5"/>
<line x1="144.01" y1="750.80" x2="144.01" y2="749.50" stroke="#888" stroke-width="0.5"/>
<line x1="150.88" y1="750.80" x2="150.88" y2="749.50" stroke="#888" stroke-width="0.5"/>
<line x1="157.75" y1="750.80" x2="157.75" y2="749.50" stroke="#888" stroke-width="0.5"/>
<line x1="164.62" y1="750.80" x2="164.62" y2="749.50" stroke="#888" stroke-width="0.5"/>
<line x1="171.49" y1="750.80" x2="171.49" y2="749.50" stroke="#888" stroke-width="0.5"/>
<line x1="178.36" y1="750.80" x2="178.36" y2="749.50" stroke="#888" stroke-width="0.5"/>
<line x1="185.23" y1="750.80" x2="185.23" y2="749.50" stroke="#888" stroke-width="0.5"/>
<path d="M123.9,750.4 L123.9,750.4 L124.4,750.4 L124.9,750.4 L125.4,750.4 L125.9,750.4 L126.4,750.4 L126.9,750.4 L127.4,750.4 L127.9,750.4 L128.4,750.4 L128.9,750.4 L129.4,750.4 L129.9,750.4 L130.4,750.4 L130.9,750.4 L131.4,750.4 L131.9,750.4 L132.4,750.4 L132.9,750.4 L133.4,750.4 L133.9,750.4 L134.4,750.4 L134.9,750.4 L135.4,750.4 L135.9,750.4 L136.4,750.3 L136.9,749.9 L137.4,749.1 L137.9,747.5 L138.4,744.5 L138.9,740.3 L139.4,735.3 L139.9,731.0 L140.4,728.9 L140.9,729.6 L141.4,732.4 L141.9,736.4 L142.4,740.7 L142.9,744.4 L143.4,747.1 L143.9,748.7 L144.4,749.6 L144.9,750.1 L145.4,750.2 L145.9,750.2 L146.4,750.2 L146.9,750.0 L147.4,749.8 L147.9,749.5 L148.4,749.0 L148.9,748.4 L149.4,747.5 L149.9,746.3 L150.4,744.7 L150.9,742.9 L151.4,740.6 L151.9,738.1 L152.4,735.4 L152.9,732.5 L153.4,729.6 L153.9,727.0 L154.4,724.8 L154.9,723.1 L155.4,722.1 L155.9,721.8 L156.4,722.4 L156.9,723.7 L157.4,725.6 L157.9,728.0 L158.4,730.8 L158.9,733.6 L159.4,736.5 L159.9,739.2 L160.4,741.6 L160.9,743.7 L161.4,745.4 L161.9,746.8 L162.4,747.9 L162.9,748.7 L163.4,749.2 L163.9,749.7 L164.4,749.9 L164.9,750.1 L165.4,750.2 L165.9,750.3 L166.4,750.3 L166.9,750.4 L167.4,750.4 L167.9,750.4 L168.4,750.4 L168.9,750.4 L169.4,750.4 L169.9,750.4 L170.4,750.4 L170.9,750.4 L171.4,750.4 L171.9,750.4 L172.4,750.4 L172.9,750.4 L173.4,750.4 L173.9,750.4 L174.4,750.4 L174.9,750.4 L175.4,750.4 L175.9,750.4 L176.4,750.4 L176.9,750.4 L177.4,750.4 L177.9,750.4 L178.4,750.4 L178.9,750.4 L179.4,750.4 L179.9,750.4 L180.4,750.4 L180.9,750.4 L181.4,750.4 L181.9,750.4 L182.4,750.4 L182.9,750.4 L183.4,750.4 L183.9,750.4 L184.4,750.4 L184.9,750.4 L185.4,750.4 L185.9,750.4 L186.4,750.4 L186.9,750.4 L187.4,750.4 L187.9,750.4 L188.4,750.4 L188.9,750.4 L189.4,750.4 L189.9,750.4 L190.4,750.4 L190.9,750.4 L191.4,750.4 L191.4,750.4 Z" fill="#9fcdf6" stroke="#5ea8ef" stroke-width="0.6"/>
<circle cx="139.90" cy="750.30" r="1.00" fill="#111" stroke="none" stroke-width="0"/>
<line x1="146.60" y1="697.40" x2="176.40" y2="697.40" stroke="#555" stroke-width="0.8"/>
<line x1="146.60" y1="695.80" x2="146.60" y2="699.00" stroke="#555" stroke-width="0.7"/>
<line x1="176.40" y1="695.80" x2="176.40" y2="699.00" stroke="#555" stroke-width="0.7"/>
<text x="161.5" y="693.0" font-size="7.7" text-anchor="middle" fill="#111" stroke="#111" stroke-width="0.18">71.8</text>
<rect x="195.90" y="681.80" width="68.70" height="69.00" stroke="#5a5a5a" stroke-width="0.9" fill="none"/>
<line x1="195.90" y1="690.42" x2="197.40" y2="690.42" stroke="#888" stroke-width="0.5"/>
<line x1="195.90" y1="699.05" x2="197.40" y2="699.05" stroke="#888" stroke-width="0.5"/>
<line x1="195.90" y1="707.67" x2="197.40" y2="707.67" stroke="#888" stroke-width="0.5"/>
<line x1="195.90" y1="716.30" x2="197.40" y2="716.30" stroke="#888" stroke-width="0.5"/>
<line x1="195.90" y1="724.92" x2="197.40" y2="724.92" stroke="#888" stroke-width="0.5"/>
<line x1="195.90" y1="733.55" x2="197.40" y2="733.55" stroke="#888" stroke-width="0.5"/>
<line x1="195.90" y1="742.17" x2="197.40" y2="742.17" stroke="#888" stroke-width="0.5"/>
<line x1="202.77" y1="750.80" x2="202.77" y2="749.50" stroke="#888" stroke-width="0.5"/>
<line x1="209.64" y1="750.80" x2="209.64" y2="749.50" stroke="#888" stroke-width="0.5"/>
<line x1="216.51" y1="750.80" x2="216.51" y2="749.50" stroke="#888" stroke-width="0.5"/>
<line x1="223.38" y1="750.80" x2="223.38" y2="749.50" stroke="#888" stroke-width="0.5"/>
<line x1="230.25" y1="750.80" x2="230.25" y2="749.50" stroke="#888" stroke-width="0.5"/>
<line x1="237.12" y1="750.80" x2="237.12" y2="749.50" stroke="#888" stroke-width="0.5"/>
<line x1="243.99" y1="750.80" x2="243.99" y2="749.50" stroke="#888" stroke-width="0.5"/>
<line x1="250.86" y1="750.80" x2="250.86" y2="749.50" stroke="#888" stroke-width="0.5"/>
<line x1="257.73" y1="750.80" x2="257.73" y2="749.50" stroke="#888" stroke-width="0.5"/>
<path d="M196.4,750.4 L196.4,750.4 L196.9,750.4 L197.4,750.4 L197.9,750.4 L198.4,750.4 L198.9,750.4 L199.4,750.4 L199.9,750.4 L200.4,750.4 L200.9,750.4 L201.4,750.4 L201.9,750.4 L202.4,750.4 L202.9,750.4 L203.4,750.4 L203.9,750.4 L204.4,750.4 L204.9,750.4 L205.4,750.4 L205.9,750.4 L206.4,750.4 L206.9,750.4 L207.4,750.4 L207.9,750.4 L208.4,750.4 L208.9,750.3 L209.4,750.1 L209.9,749.3 L210.4,747.2 L210.9,742.7 L211.4,734.7 L211.9,723.4 L212.4,711.6 L212.9,703.4 L213.4,702.3 L213.9,706.9 L214.4,715.2 L214.9,724.9 L215.4,733.9 L215.9,740.8 L216.4,745.4 L216.9,748.1 L217.4,749.4 L217.9,750.0 L218.4,750.3 L218.9,750.4 L219.4,750.4 L219.9,750.4 L220.4,750.4 L220.9,750.4 L221.4,750.4 L221.9,750.4 L222.4,750.4 L222.9,750.4 L223.4,750.4 L223.9,750.4 L224.4,750.4 L224.9,750.4 L225.4,750.4 L225.9,750.4 L226.4,750.4 L226.9,750.4 L227.4,750.4 L227.9,750.4 L228.4,750.4 L228.9,750.4 L229.4,750.4 L229.9,750.4 L230.4,750.4 L230.9,750.4 L231.4,750.4 L231.9,750.4 L232.4,750.4 L232.9,750.4 L233.4,750.4 L233.9,750.4 L234.4,750.4 L234.9,750.4 L235.4,750.4 L235.9,750.4 L236.4,750.4 L236.9,750.4 L237.4,750.4 L237.9,750.4 L238.4,750.4 L238.9,750.4 L239.4,750.4 L239.9,750.4 L240.4,750.4 L240.9,750.4 L241.4,750.4 L241.9,750.4 L242.4,750.4 L242.9,750.4 L243.4,750.4 L243.9,750.4 L244.4,750.4 L244.9,750.4 L245.4,750.4 L245.9,750.4 L246.4,750.4 L246.9,750.4 L247.4,750.4 L247.9,750.4 L248.4,750.4 L248.9,750.4 L249.4,750.4 L249.9,750.4 L250.4,750.4 L250.9,750.4 L251.4,750.4 L251.9,750.4 L252.4,750.4 L252.9,750.4 L253.4,750.4 L253.9,750.4 L254.4,750.4 L254.9,750.4 L255.4,750.4 L255.9,750.4 L256.4,750.4 L256.9,750.4 L257.4,750.4 L257.9,750.4 L258.4,750.4 L258.9,750.4 L259.4,750.4 L259.9,750.4 L260.4,750.4 L260.9,750.4 L261.4,750.4 L261.9,750.4 L262.4,750.4 L262.9,750.4 L263.4,750.4 L263.9,750.4 L263.9,750.4 Z" fill="#9fcdf6" stroke="#5ea8ef" stroke-width="0.6"/>
<circle cx="212.40" cy="750.30" r="1.00" fill="#111" stroke="none" stroke-width="0"/>
<line x1="219.00" y1="697.40" x2="248.70" y2="697.40" stroke="#555" stroke-width="0.8"/>
<line x1="219.00" y1="695.80" x2="219.00" y2="699.00" stroke="#555" stroke-width="0.7"/>
<line x1="248.70" y1="695.80" x2="248.70" y2="699.00" stroke="#555" stroke-width="0.7"/>
<text x="233.8" y="693.0" font-size="7.7" text-anchor="middle" fill="#111" stroke="#111" stroke-width="0.18">0.0</text>
<rect x="295.00" y="681.80" width="68.70" height="69.00" stroke="#5a5a5a" stroke-width="0.9" fill="none"/>
<line x1="295.00" y1="690.42" x2="296.50" y2="690.42" stroke="#888" stroke-width="0.5"/>
<line x1="295.00" y1="699.05" x2="296.50" y2="699.05" stroke="#888" stroke-width="0.5"/>
<line x1="295.00" y1="707.67" x2="296.50" y2="707.67" stroke="#888" stroke-width="0.5"/>
<line x1="295.00" y1="716.30" x2="296.50" y2="716.30" stroke="#888" stroke-width="0.5"/>
<line x1="295.00" y1="724.92" x2="296.50" y2="724.92" stroke="#888" stroke-width="0.5"/>
<line x1="295.00" y1="733.55" x2="296.50" y2="733.55" stroke="#888" stroke-width="0.5"/>
<line x1="295.00" y1="742.17" x2="296.50" y2="742.17" stroke="#888" stroke-width="0.5"/>
<line x1="301.87" y1="750.80" x2="301.87" y2="749.50" stroke="#888" stroke-width="0.5"/>
<line x1="308.74" y1="750.80" x2="308.74" y2="749.50" stroke="#888" stroke-width="0.5"/>
<line x1="315.61" y1="750.80" x2="315.61" y2="749.50" stroke="#888" stroke-width="0.5"/>
<line x1="322.48" y1="750.80" x2="322.48" y2="749.50" stroke="#888" stroke-width="0.5"/>
<line x1="329.35" y1="750.80" x2="329.35" y2="749.50" stroke="#888" stroke-width="0.5"/>
<line x1="336.22" y1="750.80" x2="336.22" y2="749.50" stroke="#888" stroke-width="0.5"/>
<line x1="343.09" y1="750.80" x2="343.09" y2="749.50" stroke="#888" stroke-width="0.5"/>
<line x1="349.96" y1="750.80" x2="349.96" y2="749.50" stroke="#888" stroke-width="0.5"/>
<line x1="356.83" y1="750.80" x2="356.83" y2="749.50" stroke="#888" stroke-width="0.5"/>
<path d="M295.5,750.4 L295.5,750.4 L296.0,750.4 L296.5,750.4 L297.0,750.4 L297.5,750.4 L298.0,750.4 L298.5,750.4 L299.0,750.4 L299.5,750.4 L300.0,750.3 L300.5,750.3 L301.0,750.1 L301.5,749.7 L302.0,749.0 L302.5,747.8 L303.0,745.7 L303.5,742.3 L304.0,737.5 L304.5,731.0 L305.0,723.1 L305.5,714.2 L306.0,705.3 L306.5,697.7 L307.0,692.5 L307.5,690.7 L308.0,691.9 L308.5,695.3 L309.0,700.5 L309.5,707.0 L310.0,714.2 L310.5,721.3 L311.0,728.0 L311.5,733.8 L312.0,738.6 L312.5,742.3 L313.0,745.1 L313.5,747.0 L314.0,748.3 L314.5,749.1 L315.0,749.6 L315.5,749.7 L316.0,749.7 L316.5,749.5 L317.0,749.2 L317.5,748.6 L318.0,747.8 L318.5,746.6 L319.0,745.2 L319.5,743.4 L320.0,741.2 L320.5,738.7 L321.0,735.9 L321.5,733.0 L322.0,730.0 L322.5,727.2 L323.0,724.6 L323.5,722.6 L324.0,721.3 L324.5,720.7 L325.0,720.9 L325.5,721.7 L326.0,723.0 L326.5,724.8 L327.0,726.9 L327.5,729.3 L328.0,731.9 L328.5,734.4 L329.0,736.9 L329.5,739.3 L330.0,741.4 L330.5,743.2 L331.0,744.8 L331.5,746.1 L332.0,747.2 L332.5,748.1 L333.0,748.7 L333.5,749.2 L334.0,749.6 L334.5,749.9 L335.0,750.0 L335.5,750.2 L336.0,750.3 L336.5,750.3 L337.0,750.3 L337.5,750.4 L338.0,750.4 L338.5,750.4 L339.0,750.4 L339.5,750.4 L340.0,750.4 L340.5,750.4 L341.0,750.4 L341.5,750.4 L342.0,750.4 L342.5,750.4 L343.0,750.4 L343.5,750.4 L344.0,750.4 L344.5,750.4 L345.0,750.4 L345.5,750.4 L346.0,750.4 L346.5,750.4 L347.0,750.4 L347.5,750.4 L348.0,750.4 L348.5,750.4 L349.0,750.4 L349.5,750.4 L350.0,750.4 L350.5,750.4 L351.0,750.4 L351.5,750.4 L352.0,750.4 L352.5,750.4 L353.0,750.4 L353.5,750.4 L354.0,750.4 L354.5,750.4 L355.0,750.4 L355.5,750.4 L356.0,750.4 L356.5,750.4 L357.0,750.4 L357.5,750.4 L358.0,750.4 L358.5,750.4 L359.0,750.4 L359.5,750.4 L360.0,750.4 L360.5,750.4 L361.0,750.4 L361.5,750.4 L362.0,750.4 L362.5,750.4 L363.0,750.4 L363.0,750.4 Z" fill="#9fcdf6" stroke="#5ea8ef" stroke-width="0.6"/>
<circle cx="311.50" cy="750.30" r="1.00" fill="#111" stroke="none" stroke-width="0"/>
<line x1="315.40" y1="697.40" x2="346.20" y2="697.40" stroke="#555" stroke-width="0.8"/>
<line x1="315.40" y1="695.80" x2="315.40" y2="699.00" stroke="#555" stroke-width="0.7"/>
<line x1="346.20" y1="695.80" x2="346.20" y2="699.00" stroke="#555" stroke-width="0.7"/>
<text x="333.3" y="693.0" font-size="7.7" text-anchor="middle" fill="#111" stroke="#111" stroke-width="0.18">42.1</text>
<rect x="367.40" y="681.80" width="68.70" height="69.00" stroke="#5a5a5a" stroke-width="0.9" fill="none"/>
<line x1="367.40" y1="690.42" x2="368.90" y2="690.42" stroke="#888" stroke-width="0.5"/>
<line x1="367.40" y1="699.05" x2="368.90" y2="699.05" stroke="#888" stroke-width="0.5"/>
<line x1="367.40" y1="707.67" x2="368.90" y2="707.67" stroke="#888" stroke-width="0.5"/>
<line x1="367.40" y1="716.30" x2="368.90" y2="716.30" stroke="#888" stroke-width="0.5"/>
<line x1="367.40" y1="724.92" x2="368.90" y2="724.92" stroke="#888" stroke-width="0.5"/>
<line x1="367.40" y1="733.55" x2="368.90" y2="733.55" stroke="#888" stroke-width="0.5"/>
<line x1="367.40" y1="742.17" x2="368.90" y2="742.17" stroke="#888" stroke-width="0.5"/>
<line x1="374.27" y1="750.80" x2="374.27" y2="749.50" stroke="#888" stroke-width="0.5"/>
<line x1="381.14" y1="750.80" x2="381.14" y2="749.50" stroke="#888" stroke-width="0.5"/>
<line x1="388.01" y1="750.80" x2="388.01" y2="749.50" stroke="#888" stroke-width="0.5"/>
<line x1="394.88" y1="750.80" x2="394.88" y2="749.50" stroke="#888" stroke-width="0.5"/>
<line x1="401.75" y1="750.80" x2="401.75" y2="749.50" stroke="#888" stroke-width="0.5"/>
<line x1="408.62" y1="750.80" x2="408.62" y2="749.50" stroke="#888" stroke-width="0.5"/>
<line x1="415.49" y1="750.80" x2="415.49" y2="749.50" stroke="#888" stroke-width="0.5"/>
<line x1="422.36" y1="750.80" x2="422.36" y2="749.50" stroke="#888" stroke-width="0.5"/>
<line x1="429.23" y1="750.80" x2="429.23" y2="749.50" stroke="#888" stroke-width="0.5"/>
<path d="M367.9,750.4 L367.9,750.4 L368.4,750.4 L368.9,750.4 L369.4,750.4 L369.9,750.4 L370.4,750.4 L370.9,750.4 L371.4,750.4 L371.9,750.4 L372.4,750.4 L372.9,750.3 L373.4,750.3 L373.9,750.2 L374.4,750.0 L374.9,749.7 L375.4,749.2 L375.9,748.4 L376.4,747.2 L376.9,745.5 L377.4,743.2 L377.9,740.1 L378.4,736.4 L378.9,732.1 L379.4,727.5 L379.9,722.7 L380.4,718.3 L380.9,714.6 L381.4,712.1 L381.9,711.0 L382.4,711.3 L382.9,712.7 L383.4,715.1 L383.9,718.2 L384.4,721.8 L384.9,725.7 L385.4,729.7 L385.9,733.5 L386.4,737.0 L386.9,740.0 L387.4,742.6 L387.9,744.7 L388.4,746.4 L388.9,747.6 L389.4,748.5 L389.9,749.2 L390.4,749.6 L390.9,749.9 L391.4,750.1 L391.9,750.2 L392.4,750.3 L392.9,750.3 L393.4,750.4 L393.9,750.4 L394.4,750.4 L394.9,750.4 L395.4,750.4 L395.9,750.4 L396.4,750.4 L396.9,750.4 L397.4,750.4 L397.9,750.4 L398.4,750.4 L398.9,750.4 L399.4,750.4 L399.9,750.4 L400.4,750.4 L400.9,750.4 L401.4,750.4 L401.9,750.4 L402.4,750.4 L402.9,750.4 L403.4,750.4 L403.9,750.4 L404.4,750.4 L404.9,750.4 L405.4,750.4 L405.9,750.4 L406.4,750.4 L406.9,750.4 L407.4,750.4 L407.9,750.4 L408.4,750.4 L408.9,750.4 L409.4,750.4 L409.9,750.4 L410.4,750.4 L410.9,750.4 L411.4,750.4 L411.9,750.4 L412.4,750.4 L412.9,750.4 L413.4,750.4 L413.9,750.4 L414.4,750.4 L414.9,750.4 L415.4,750.4 L415.9,750.4 L416.4,750.4 L416.9,750.4 L417.4,750.4 L417.9,750.4 L418.4,750.4 L418.9,750.4 L419.4,750.4 L419.9,750.4 L420.4,750.4 L420.9,750.4 L421.4,750.4 L421.9,750.4 L422.4,750.4 L422.9,750.4 L423.4,750.4 L423.9,750.4 L424.4,750.4 L424.9,750.4 L425.4,750.4 L425.9,750.4 L426.4,750.4 L426.9,750.4 L427.4,750.4 L427.9,750.4 L428.4,750.4 L428.9,750.4 L429.4,750.4 L429.9,750.4 L430.4,750.4 L430.9,750.4 L431.4,750.4 L431.9,750.4 L432.4,750.4 L432.9,750.4 L433.4,750.4 L433.9,750.4 L434.4,750.4 L434.9,750.4 L435.4,750.4 L435.4,750.4 Z" fill="#9fcdf6" stroke="#5ea8ef" stroke-width="0.6"/>
<circle cx="383.90" cy="750.30" r="1.00" fill="#111" stroke="none" stroke-width="0"/>
<line x1="388.20" y1="697.40" x2="418.60" y2="697.40" stroke="#555" stroke-width="0.8"/>
<line x1="388.20" y1="695.80" x2="388.20" y2="699.00" stroke="#555" stroke-width="0.7"/>
<line x1="418.60" y1="695.80" x2="418.60" y2="699.00" stroke="#555" stroke-width="0.7"/>
<text x="403.4" y="693.0" font-size="7.7" text-anchor="middle" fill="#111" stroke="#111" stroke-width="0.18">2.1</text>
<text x="278.9" y="718.0" font-size="9" text-anchor="middle" fill="#111" stroke="#111" stroke-width="0.18">MEP</text>
<text x="156.8" y="385.8" font-size="9.2" text-anchor="middle" fill="#111" stroke="#111" stroke-width="0.18">sgRosa26</text>
<text x="229.2" y="385.8" font-size="9.2" text-anchor="middle" fill="#111" stroke="#111" stroke-width="0.18">sgTfdp1-2</text>
<text x="328.4" y="385.8" font-size="9.2" text-anchor="middle" fill="#111" stroke="#111" stroke-width="0.18">sgRosa26</text>
<text x="400.8" y="385.8" font-size="9.2" text-anchor="middle" fill="#111" stroke="#111" stroke-width="0.18">sgE2f4-3</text>
<line x1="115.00" y1="404.00" x2="115.00" y2="718.00" stroke="#444" stroke-width="0.8"/>
<path d="M115,400 L113.5,405 L116.5,405 Z" fill="#444"/>
<text x="118.3" y="733.2" font-size="9.2" text-anchor="middle" fill="#111" stroke="#111" stroke-width="0.18" transform="rotate(-90 118.3 733.2)">Count</text>
<text x="123.9" y="763.1" font-size="9.2" text-anchor="start" fill="#111" stroke="#111" stroke-width="0.18">GFP (Cas9)</text>
<line x1="176.60" y1="759.30" x2="430.00" y2="759.30" stroke="#444" stroke-width="0.8"/>
<path d="M434,759.3 L429,757.8 L429,760.8 Z" fill="#444"/>
<text x="470.7" y="389.8" font-size="18.5" text-anchor="start" fill="#111" font-weight="bold">E</text>
<line x1="509.40" y1="392.60" x2="509.40" y2="528.30" stroke="#444" stroke-width="1.2"/>
<line x1="505.50" y1="393.20" x2="509.40" y2="393.20" stroke="#444" stroke-width="1.2"/>
<text x="503.5" y="396.5" font-size="9.2" text-anchor="end" fill="#111" stroke="#111" stroke-width="0.18">3.5</text>
<line x1="505.50" y1="412.50" x2="509.40" y2="412.50" stroke="#444" stroke-width="1.2"/>
<text x="503.5" y="415.8" font-size="9.2" text-anchor="end" fill="#111" stroke="#111" stroke-width="0.18">3.0</text>
<line x1="505.50" y1="431.80" x2="509.40" y2="431.80" stroke="#444" stroke-width="1.2"/>
<text x="503.5" y="435.1" font-size="9.2" text-anchor="end" fill="#111" stroke="#111" stroke-width="0.18">2.5</text>
<line x1="505.50" y1="451.10" x2="509.40" y2="451.10" stroke="#444" stroke-width="1.2"/>
<text x="503.5" y="454.4" font-size="9.2" text-anchor="end" fill="#111" stroke="#111" stroke-width="0.18">2.0</text>
<line x1="505.50" y1="470.40" x2="509.40" y2="470.40" stroke="#444" stroke-width="1.2"/>
<text x="503.5" y="473.7" font-size="9.2" text-anchor="end" fill="#111" stroke="#111" stroke-width="0.18">1.5</text>
<line x1="505.50" y1="489.70" x2="509.40" y2="489.70" stroke="#444" stroke-width="1.2"/>
<text x="503.5" y="493.0" font-size="9.2" text-anchor="end" fill="#111" stroke="#111" stroke-width="0.18">1.0</text>
<line x1="505.50" y1="509.00" x2="509.40" y2="509.00" stroke="#444" stroke-width="1.2"/>
<text x="503.5" y="512.3" font-size="9.2" text-anchor="end" fill="#111" stroke="#111" stroke-width="0.18">0.5</text>
<line x1="505.50" y1="528.30" x2="509.40" y2="528.30" stroke="#444" stroke-width="1.2"/>
<text x="503.5" y="531.6" font-size="9.2" text-anchor="end" fill="#111" stroke="#111" stroke-width="0.18">0.0</text>
<line x1="505.00" y1="528.30" x2="684.00" y2="528.30" stroke="#444" stroke-width="1.3"/>
<line x1="525.30" y1="528.30" x2="525.30" y2="532.30" stroke="#444" stroke-width="1.2"/>
<text x="525.3" y="542.5" font-size="9.2" text-anchor="middle" fill="#111" stroke="#111" stroke-width="0.18">HSPC</text>
<line x1="560.50" y1="528.30" x2="560.50" y2="532.30" stroke="#444" stroke-width="1.2"/>
<text x="560.5" y="542.5" font-size="9.2" text-anchor="middle" fill="#111" stroke="#111" stroke-width="0.18">CLP</text>
<line x1="596.10" y1="528.30" x2="596.10" y2="532.30" stroke="#444" stroke-width="1.2"/>
<text x="596.1" y="542.5" font-size="9.2" text-anchor="middle" fill="#111" stroke="#111" stroke-width="0.18">GMP</text>
<line x1="631.40" y1="528.30" x2="631.40" y2="532.30" stroke="#444" stroke-width="1.2"/>
<text x="631.4" y="542.5" font-size="9.2" text-anchor="middle" fill="#111" stroke="#111" stroke-width="0.18">CMP</text>
<line x1="667.00" y1="528.30" x2="667.00" y2="532.30" stroke="#444" stroke-width="1.2"/>
<text x="667.0" y="542.5" font-size="9.2" text-anchor="middle" fill="#111" stroke="#111" stroke-width="0.18">MEP</text>
<text x="482.6" y="462.8" font-size="9.2" text-anchor="middle" fill="#111" stroke="#111" stroke-width="0.18" transform="rotate(-90 482.6 462.75)">GFP+/GFP- ratio</text>
<circle cx="517.00" cy="386.50" r="2.30" fill="#8a8a8a" stroke="none" stroke-width="0"/>
<text x="522.2" y="389.6" font-size="9.8" text-anchor="start" fill="#111" stroke="#111" stroke-width="0.18">sgRosa26</text>
<circle cx="572.80" cy="386.50" r="2.30" fill="#1f1ff5" stroke="none" stroke-width="0"/>
<text x="578.0" y="389.6" font-size="9.8" text-anchor="start" fill="#111" stroke="#111" stroke-width="0.18">sgTfdp1-1</text>
<circle cx="628.50" cy="386.50" r="2.30" fill="#f39a30" stroke="none" stroke-width="0"/>
<text x="633.7" y="389.6" font-size="9.8" text-anchor="start" fill="#111" stroke="#111" stroke-width="0.18">sgTfdp1-2</text>
<circle cx="515.50" cy="412.60" r="2.60" fill="#8a8a8a" stroke="none" stroke-width="0"/>
<circle cx="515.50" cy="432.20" r="2.60" fill="#8a8a8a" stroke="none" stroke-width="0"/>
<circle cx="515.50" cy="448.00" r="2.60" fill="#8a8a8a" stroke="none" stroke-width="0"/>
<line x1="511.50" y1="430.70" x2="519.50" y2="430.70" stroke="#111" stroke-width="1.3"/>
<circle cx="551.00" cy="437.00" r="2.60" fill="#8a8a8a" stroke="none" stroke-width="0"/>
<circle cx="551.00" cy="450.80" r="2.60" fill="#8a8a8a" stroke="none" stroke-width="0"/>
<circle cx="551.00" cy="455.00" r="2.60" fill="#8a8a8a" stroke="none" stroke-width="0"/>
<line x1="547.00" y1="447.40" x2="555.00" y2="447.40" stroke="#111" stroke-width="1.3"/>
<circle cx="586.60" cy="423.90" r="2.60" fill="#8a8a8a" stroke="none" stroke-width="0"/>
<circle cx="586.60" cy="431.80" r="2.60" fill="#8a8a8a" stroke="none" stroke-width="0"/>
<circle cx="586.60" cy="434.90" r="2.60" fill="#8a8a8a" stroke="none" stroke-width="0"/>
<line x1="582.60" y1="430.70" x2="590.60" y2="430.70" stroke="#111" stroke-width="1.3"/>
<circle cx="622.10" cy="426.50" r="2.60" fill="#8a8a8a" stroke="none" stroke-width="0"/>
<circle cx="622.10" cy="447.00" r="2.60" fill="#8a8a8a" stroke="none" stroke-width="0"/>
<circle cx="622.10" cy="456.70" r="2.60" fill="#8a8a8a" stroke="none" stroke-width="0"/>
<line x1="618.10" y1="443.40" x2="626.10" y2="443.40" stroke="#111" stroke-width="1.3"/>
<circle cx="657.50" cy="423.90" r="2.60" fill="#8a8a8a" stroke="none" stroke-width="0"/>
<circle cx="657.50" cy="431.80" r="2.60" fill="#8a8a8a" stroke="none" stroke-width="0"/>
<circle cx="657.50" cy="469.90" r="2.60" fill="#8a8a8a" stroke="none" stroke-width="0"/>
<line x1="653.50" y1="441.50" x2="661.50" y2="441.50" stroke="#111" stroke-width="1.3"/>
<circle cx="525.30" cy="510.70" r="2.60" fill="#1f1ff5" stroke="none" stroke-width="0"/>
<circle cx="525.30" cy="525.50" r="2.60" fill="#1f1ff5" stroke="none" stroke-width="0"/>
<circle cx="525.30" cy="526.50" r="2.60" fill="#1f1ff5" stroke="none" stroke-width="0"/>
<line x1="521.30" y1="520.70" x2="529.30" y2="520.70" stroke="#111" stroke-width="1.3"/>
<circle cx="560.50" cy="509.20" r="2.60" fill="#1f1ff5" stroke="none" stroke-width="0"/>
<circle cx="560.50" cy="523.80" r="2.60" fill="#1f1ff5" stroke="none" stroke-width="0"/>
<circle cx="560.50" cy="526.40" r="2.60" fill="#1f1ff5" stroke="none" stroke-width="0"/>
<line x1="556.50" y1="520.00" x2="564.50" y2="520.00" stroke="#111" stroke-width="1.3"/>
<circle cx="596.10" cy="507.50" r="2.60" fill="#1f1ff5" stroke="none" stroke-width="0"/>
<circle cx="596.10" cy="522.80" r="2.60" fill="#1f1ff5" stroke="none" stroke-width="0"/>
<circle cx="596.10" cy="526.00" r="2.60" fill="#1f1ff5" stroke="none" stroke-width="0"/>
<line x1="592.10" y1="519.00" x2="600.10" y2="519.00" stroke="#111" stroke-width="1.3"/>
<circle cx="631.40" cy="497.00" r="2.60" fill="#1f1ff5" stroke="none" stroke-width="0"/>
<circle cx="631.40" cy="526.40" r="2.60" fill="#1f1ff5" stroke="none" stroke-width="0"/>
<circle cx="631.40" cy="527.00" r="2.60" fill="#1f1ff5" stroke="none" stroke-width="0"/>
<line x1="627.40" y1="516.40" x2="635.40" y2="516.40" stroke="#111" stroke-width="1.3"/>
<circle cx="667.00" cy="503.30" r="2.60" fill="#1f1ff5" stroke="none" stroke-width="0"/>
<circle cx="667.00" cy="522.40" r="2.60" fill="#1f1ff5" stroke="none" stroke-width="0"/>
<circle cx="667.00" cy="524.50" r="2.60" fill="#1f1ff5" stroke="none" stroke-width="0"/>
<line x1="663.00" y1="516.90" x2="671.00" y2="516.90" stroke="#111" stroke-width="1.3"/>
<circle cx="535.50" cy="523.40" r="2.60" fill="#f39a30" stroke="none" stroke-width="0"/>
<circle cx="535.50" cy="525.50" r="2.60" fill="#f39a30" stroke="none" stroke-width="0"/>
<circle cx="535.50" cy="527.00" r="2.60" fill="#f39a30" stroke="none" stroke-width="0"/>
<line x1="531.50" y1="526.50" x2="539.50" y2="526.50" stroke="#111" stroke-width="1.3"/>
<circle cx="570.70" cy="522.40" r="2.60" fill="#f39a30" stroke="none" stroke-width="0"/>
<circle cx="570.70" cy="527.60" r="2.60" fill="#f39a30" stroke="none" stroke-width="0"/>
<line x1="566.70" y1="526.60" x2="574.70" y2="526.60" stroke="#111" stroke-width="1.3"/>
<circle cx="606.00" cy="520.20" r="2.60" fill="#f39a30" stroke="none" stroke-width="0"/>
<circle cx="606.00" cy="522.80" r="2.60" fill="#f39a30" stroke="none" stroke-width="0"/>
<circle cx="606.00" cy="528.00" r="2.60" fill="#f39a30" stroke="none" stroke-width="0"/>
<line x1="602.00" y1="524.50" x2="610.00" y2="524.50" stroke="#111" stroke-width="1.3"/>
<circle cx="641.20" cy="524.90" r="2.60" fill="#f39a30" stroke="none" stroke-width="0"/>
<circle cx="641.20" cy="528.00" r="2.60" fill="#f39a30" stroke="none" stroke-width="0"/>
<line x1="637.20" y1="527.00" x2="645.20" y2="527.00" stroke="#111" stroke-width="1.3"/>
<circle cx="677.20" cy="525.30" r="2.60" fill="#f39a30" stroke="none" stroke-width="0"/>
<circle cx="677.20" cy="528.00" r="2.60" fill="#f39a30" stroke="none" stroke-width="0"/>
<line x1="673.20" y1="527.00" x2="681.20" y2="527.00" stroke="#111" stroke-width="1.3"/>
<line x1="509.40" y1="584.70" x2="509.40" y2="721.30" stroke="#444" stroke-width="1.2"/>
<line x1="505.50" y1="585.30" x2="509.40" y2="585.30" stroke="#444" stroke-width="1.2"/>
<text x="503.5" y="588.6" font-size="9.2" text-anchor="end" fill="#111" stroke="#111" stroke-width="0.18">2.5</text>
<line x1="505.50" y1="612.50" x2="509.40" y2="612.50" stroke="#444" stroke-width="1.2"/>
<text x="503.5" y="615.8" font-size="9.2" text-anchor="end" fill="#111" stroke="#111" stroke-width="0.18">2.0</text>
<line x1="505.50" y1="639.70" x2="509.40" y2="639.70" stroke="#444" stroke-width="1.2"/>
<text x="503.5" y="643.0" font-size="9.2" text-anchor="end" fill="#111" stroke="#111" stroke-width="0.18">1.5</text>
<line x1="505.50" y1="666.90" x2="509.40" y2="666.90" stroke="#444" stroke-width="1.2"/>
<text x="503.5" y="670.2" font-size="9.2" text-anchor="end" fill="#111" stroke="#111" stroke-width="0.18">1.0</text>
<line x1="505.50" y1="694.10" x2="509.40" y2="694.10" stroke="#444" stroke-width="1.2"/>
<text x="503.5" y="697.4" font-size="9.2" text-anchor="end" fill="#111" stroke="#111" stroke-width="0.18">0.5</text>
<line x1="505.50" y1="721.30" x2="509.40" y2="721.30" stroke="#444" stroke-width="1.2"/>
<text x="503.5" y="724.6" font-size="9.2" text-anchor="end" fill="#111" stroke="#111" stroke-width="0.18">0.0</text>
<line x1="505.00" y1="721.30" x2="684.00" y2="721.30" stroke="#444" stroke-width="1.3"/>
<line x1="525.30" y1="721.30" x2="525.30" y2="725.30" stroke="#444" stroke-width="1.2"/>
<text x="525.3" y="735.5" font-size="9.2" text-anchor="middle" fill="#111" stroke="#111" stroke-width="0.18">HSPC</text>
<line x1="560.50" y1="721.30" x2="560.50" y2="725.30" stroke="#444" stroke-width="1.2"/>
<text x="560.5" y="735.5" font-size="9.2" text-anchor="middle" fill="#111" stroke="#111" stroke-width="0.18">CLP</text>
<line x1="596.10" y1="721.30" x2="596.10" y2="725.30" stroke="#444" stroke-width="1.2"/>
<text x="596.1" y="735.5" font-size="9.2" text-anchor="middle" fill="#111" stroke="#111" stroke-width="0.18">GMP</text>
<line x1="631.40" y1="721.30" x2="631.40" y2="725.30" stroke="#444" stroke-width="1.2"/>
<text x="631.4" y="735.5" font-size="9.2" text-anchor="middle" fill="#111" stroke="#111" stroke-width="0.18">CMP</text>
<line x1="667.00" y1="721.30" x2="667.00" y2="725.30" stroke="#444" stroke-width="1.2"/>
<text x="667.0" y="735.5" font-size="9.2" text-anchor="middle" fill="#111" stroke="#111" stroke-width="0.18">MEP</text>
<text x="482.6" y="655.3" font-size="9.2" text-anchor="middle" fill="#111" stroke="#111" stroke-width="0.18" transform="rotate(-90 482.6 655.3)">GFP+/GFP- ratio</text>
<circle cx="517.00" cy="578.60" r="2.30" fill="#8a8a8a" stroke="none" stroke-width="0"/>
<text x="522.2" y="581.7" font-size="9.8" text-anchor="start" fill="#111" stroke="#111" stroke-width="0.18">sgRosa26</text>
<circle cx="572.80" cy="578.60" r="2.30" fill="#b07d42" stroke="none" stroke-width="0"/>
<text x="578.0" y="581.7" font-size="9.8" text-anchor="start" fill="#111" stroke="#111" stroke-width="0.18">sgE2f4-2</text>
<circle cx="628.50" cy="578.60" r="2.30" fill="#ff3df5" stroke="none" stroke-width="0"/>
<text x="633.7" y="581.7" font-size="9.8" text-anchor="start" fill="#111" stroke="#111" stroke-width="0.18">sgE2f4-3</text>
<circle cx="515.50" cy="653.90" r="2.60" fill="#8a8a8a" stroke="none" stroke-width="0"/>
<circle cx="515.50" cy="671.70" r="2.60" fill="#8a8a8a" stroke="none" stroke-width="0"/>
<circle cx="515.50" cy="682.20" r="2.60" fill="#8a8a8a" stroke="none" stroke-width="0"/>
<circle cx="515.50" cy="688.00" r="2.60" fill="#8a8a8a" stroke="none" stroke-width="0"/>
<line x1="511.50" y1="674.10" x2="519.50" y2="674.10" stroke="#111" stroke-width="1.3"/>
<circle cx="551.00" cy="642.00" r="2.60" fill="#8a8a8a" stroke="none" stroke-width="0"/>
<circle cx="551.00" cy="669.60" r="2.60" fill="#8a8a8a" stroke="none" stroke-width="0"/>
<circle cx="551.00" cy="678.30" r="2.60" fill="#8a8a8a" stroke="none" stroke-width="0"/>
<circle cx="551.00" cy="678.30" r="2.60" fill="#8a8a8a" stroke="none" stroke-width="0"/>
<line x1="547.00" y1="667.30" x2="555.00" y2="667.30" stroke="#111" stroke-width="1.3"/>
<circle cx="586.40" cy="618.90" r="2.60" fill="#8a8a8a" stroke="none" stroke-width="0"/>
<circle cx="586.40" cy="671.70" r="2.60" fill="#8a8a8a" stroke="none" stroke-width="0"/>
<circle cx="586.40" cy="676.70" r="2.60" fill="#8a8a8a" stroke="none" stroke-width="0"/>
<circle cx="586.40" cy="678.30" r="2.60" fill="#8a8a8a" stroke="none" stroke-width="0"/>
<line x1="582.40" y1="661.50" x2="590.40" y2="661.50" stroke="#111" stroke-width="1.3"/>
<circle cx="622.40" cy="648.60" r="2.60" fill="#8a8a8a" stroke="none" stroke-width="0"/>
<circle cx="622.40" cy="664.40" r="2.60" fill="#8a8a8a" stroke="none" stroke-width="0"/>
<circle cx="622.40" cy="676.20" r="2.60" fill="#8a8a8a" stroke="none" stroke-width="0"/>
<circle cx="622.40" cy="688.80" r="2.60" fill="#8a8a8a" stroke="none" stroke-width="0"/>
<line x1="618.40" y1="669.60" x2="626.40" y2="669.60" stroke="#111" stroke-width="1.3"/>
<circle cx="657.40" cy="635.50" r="2.60" fill="#8a8a8a" stroke="none" stroke-width="0"/>
<circle cx="657.40" cy="649.10" r="2.60" fill="#8a8a8a" stroke="none" stroke-width="0"/>
<circle cx="657.40" cy="670.40" r="2.60" fill="#8a8a8a" stroke="none" stroke-width="0"/>
<circle cx="657.40" cy="688.00" r="2.60" fill="#8a8a8a" stroke="none" stroke-width="0"/>
<line x1="653.40" y1="661.00" x2="661.40" y2="661.00" stroke="#111" stroke-width="1.3"/>
<circle cx="525.20" cy="710.40" r="2.60" fill="#b07d42" stroke="none" stroke-width="0"/>
<circle cx="525.20" cy="714.00" r="2.60" fill="#b07d42" stroke="none" stroke-width="0"/>
<circle cx="525.20" cy="717.00" r="2.60" fill="#b07d42" stroke="none" stroke-width="0"/>
<circle cx="525.20" cy="720.00" r="2.60" fill="#b07d42" stroke="none" stroke-width="0"/>
<line x1="521.20" y1="715.10" x2="529.20" y2="715.10" stroke="#111" stroke-width="1.3"/>
<circle cx="560.70" cy="691.20" r="2.60" fill="#b07d42" stroke="none" stroke-width="0"/>
<circle cx="560.70" cy="710.40" r="2.60" fill="#b07d42" stroke="none" stroke-width="0"/>
<circle cx="560.70" cy="714.00" r="2.60" fill="#b07d42" stroke="none" stroke-width="0"/>
<circle cx="560.70" cy="718.00" r="2.60" fill="#b07d42" stroke="none" stroke-width="0"/>
<circle cx="560.70" cy="721.00" r="2.60" fill="#b07d42" stroke="none" stroke-width="0"/>
<line x1="556.70" y1="710.90" x2="564.70" y2="710.90" stroke="#111" stroke-width="1.3"/>
<circle cx="596.20" cy="703.30" r="2.60" fill="#b07d42" stroke="none" stroke-width="0"/>
<circle cx="596.20" cy="706.40" r="2.60" fill="#b07d42" stroke="none" stroke-width="0"/>
<circle cx="596.20" cy="712.00" r="2.60" fill="#b07d42" stroke="none" stroke-width="0"/>
<circle cx="596.20" cy="717.00" r="2.60" fill="#b07d42" stroke="none" stroke-width="0"/>
<circle cx="596.20" cy="720.00" r="2.60" fill="#b07d42" stroke="none" stroke-width="0"/>
<line x1="592.20" y1="713.50" x2="600.20" y2="713.50" stroke="#111" stroke-width="1.3"/>
<circle cx="631.60" cy="703.30" r="2.60" fill="#b07d42" stroke="none" stroke-width="0"/>
<circle cx="631.60" cy="711.10" r="2.60" fill="#b07d42" stroke="none" stroke-width="0"/>
<circle cx="631.60" cy="717.00" r="2.60" fill="#b07d42" stroke="none" stroke-width="0"/>
<circle cx="631.60" cy="720.00" r="2.60" fill="#b07d42" stroke="none" stroke-width="0"/>
<line x1="627.60" y1="714.80" x2="635.60" y2="714.80" stroke="#111" stroke-width="1.3"/>
<circle cx="667.10" cy="708.20" r="2.60" fill="#b07d42" stroke="none" stroke-width="0"/>
<circle cx="667.10" cy="716.00" r="2.60" fill="#b07d42" stroke="none" stroke-width="0"/>
<circle cx="667.10" cy="720.00" r="2.60" fill="#b07d42" stroke="none" stroke-width="0"/>
<line x1="663.10" y1="717.20" x2="671.10" y2="717.20" stroke="#111" stroke-width="1.3"/>
<circle cx="534.70" cy="713.00" r="2.60" fill="#ff3df5" stroke="none" stroke-width="0"/>
<circle cx="534.70" cy="716.00" r="2.60" fill="#ff3df5" stroke="none" stroke-width="0"/>
<circle cx="534.70" cy="719.00" r="2.60" fill="#ff3df5" stroke="none" stroke-width="0"/>
<circle cx="534.70" cy="720.00" r="2.60" fill="#ff3df5" stroke="none" stroke-width="0"/>
<circle cx="570.20" cy="712.20" r="2.60" fill="#ff3df5" stroke="none" stroke-width="0"/>
<circle cx="570.20" cy="715.00" r="2.60" fill="#ff3df5" stroke="none" stroke-width="0"/>
<circle cx="570.20" cy="718.00" r="2.60" fill="#ff3df5" stroke="none" stroke-width="0"/>
<circle cx="570.20" cy="720.00" r="2.60" fill="#ff3df5" stroke="none" stroke-width="0"/>
<circle cx="605.60" cy="710.40" r="2.60" fill="#ff3df5" stroke="none" stroke-width="0"/>
<circle cx="605.60" cy="716.00" r="2.60" fill="#ff3df5" stroke="none" stroke-width="0"/>
<circle cx="605.60" cy="720.00" r="2.60" fill="#ff3df5" stroke="none" stroke-width="0"/>
<circle cx="641.10" cy="713.80" r="2.60" fill="#ff3df5" stroke="none" stroke-width="0"/>
<circle cx="641.10" cy="717.00" r="2.60" fill="#ff3df5" stroke="none" stroke-width="0"/>
<circle cx="641.10" cy="720.00" r="2.60" fill="#ff3df5" stroke="none" stroke-width="0"/>
<circle cx="676.30" cy="718.50" r="2.60" fill="#ff3df5" stroke="none" stroke-width="0"/>
<circle cx="676.30" cy="720.00" r="2.60" fill="#ff3df5" stroke="none" stroke-width="0"/>
<text x="0.4" y="798.7" font-size="18.5" text-anchor="start" fill="#111" font-weight="bold">F</text>
<line x1="43.40" y1="801.10" x2="43.40" y2="890.20" stroke="#444" stroke-width="1.2"/>
<line x1="39.40" y1="801.70" x2="43.40" y2="801.70" stroke="#444" stroke-width="1.2"/>
<text x="37.1" y="805.4" font-size="10.4" text-anchor="end" fill="#111" stroke="#111" stroke-width="0.18">8</text>
<line x1="39.40" y1="823.83" x2="43.40" y2="823.83" stroke="#444" stroke-width="1.2"/>
<text x="37.1" y="827.5" font-size="10.4" text-anchor="end" fill="#111" stroke="#111" stroke-width="0.18">6</text>
<line x1="39.40" y1="845.95" x2="43.40" y2="845.95" stroke="#444" stroke-width="1.2"/>
<text x="37.1" y="849.7" font-size="10.4" text-anchor="end" fill="#111" stroke="#111" stroke-width="0.18">4</text>
<line x1="39.40" y1="868.08" x2="43.40" y2="868.08" stroke="#444" stroke-width="1.2"/>
<text x="37.1" y="871.8" font-size="10.4" text-anchor="end" fill="#111" stroke="#111" stroke-width="0.18">2</text>
<line x1="39.40" y1="890.20" x2="43.40" y2="890.20" stroke="#444" stroke-width="1.2"/>
<text x="37.1" y="893.9" font-size="10.4" text-anchor="end" fill="#111" stroke="#111" stroke-width="0.18">0</text>
<line x1="39.40" y1="890.20" x2="330.30" y2="890.20" stroke="#333" stroke-width="1.3"/>
<line x1="55.50" y1="890.20" x2="55.50" y2="894.20" stroke="#333" stroke-width="1.2"/>
<line x1="81.70" y1="890.20" x2="81.70" y2="894.20" stroke="#333" stroke-width="1.2"/>
<line x1="107.90" y1="890.20" x2="107.90" y2="894.20" stroke="#333" stroke-width="1.2"/>
<line x1="134.10" y1="890.20" x2="134.10" y2="894.20" stroke="#333" stroke-width="1.2"/>
<line x1="160.40" y1="890.20" x2="160.40" y2="894.20" stroke="#333" stroke-width="1.2"/>
<line x1="213.30" y1="890.20" x2="213.30" y2="894.20" stroke="#333" stroke-width="1.2"/>
<line x1="239.50" y1="890.20" x2="239.50" y2="894.20" stroke="#333" stroke-width="1.2"/>
<line x1="265.70" y1="890.20" x2="265.70" y2="894.20" stroke="#333" stroke-width="1.2"/>
<line x1="291.90" y1="890.20" x2="291.90" y2="894.20" stroke="#333" stroke-width="1.2"/>
<line x1="318.10" y1="890.20" x2="318.10" y2="894.20" stroke="#333" stroke-width="1.2"/>
<line x1="187.00" y1="890.20" x2="187.00" y2="894.20" stroke="#333" stroke-width="1.2"/>
<text x="58.9" y="905.2" font-size="10.9" text-anchor="end" fill="#111" stroke="#111" stroke-width="0.18" transform="rotate(-45 58.9 905.2)">T cell</text>
<text x="85.1" y="905.2" font-size="10.9" text-anchor="end" fill="#111" stroke="#111" stroke-width="0.18" transform="rotate(-45 85.10000000000001 905.2)">NK cell</text>
<text x="111.3" y="905.2" font-size="10.9" text-anchor="end" fill="#111" stroke="#111" stroke-width="0.18" transform="rotate(-45 111.30000000000001 905.2)">B cell</text>
<text x="137.5" y="905.2" font-size="10.9" text-anchor="end" fill="#111" stroke="#111" stroke-width="0.18" transform="rotate(-45 137.5 905.2)">Gr-1<tspan font-size="8" dy="-3.8">+</tspan><tspan dy="3.8"> cell</tspan></text>
<text x="163.8" y="905.2" font-size="10.9" text-anchor="end" fill="#111" stroke="#111" stroke-width="0.18" transform="rotate(-45 163.8 905.2)">CD11b<tspan font-size="8" dy="-3.8">+</tspan><tspan dy="3.8"> cell</tspan></text>
<text x="216.7" y="905.2" font-size="10.9" text-anchor="end" fill="#111" stroke="#111" stroke-width="0.18" transform="rotate(-45 216.70000000000002 905.2)">T cell</text>
<text x="242.9" y="905.2" font-size="10.9" text-anchor="end" fill="#111" stroke="#111" stroke-width="0.18" transform="rotate(-45 242.9 905.2)">NK cell</text>
<text x="269.1" y="905.2" font-size="10.9" text-anchor="end" fill="#111" stroke="#111" stroke-width="0.18" transform="rotate(-45 269.09999999999997 905.2)">B cell</text>
<text x="295.3" y="905.2" font-size="10.9" text-anchor="end" fill="#111" stroke="#111" stroke-width="0.18" transform="rotate(-45 295.29999999999995 905.2)">Gr-1<tspan font-size="8" dy="-3.8">+</tspan><tspan dy="3.8"> cell</tspan></text>
<text x="321.5" y="905.2" font-size="10.9" text-anchor="end" fill="#111" stroke="#111" stroke-width="0.18" transform="rotate(-45 321.5 905.2)">CD11b<tspan font-size="8" dy="-3.8">+</tspan><tspan dy="3.8"> cell</tspan></text>
<circle cx="80.30" cy="796.40" r="2.60" fill="#8a8a8a" stroke="none" stroke-width="0"/>
<text x="86.7" y="800.2" font-size="10.5" text-anchor="start" fill="#111" stroke="#111" stroke-width="0.18">sgRosa26</text>
<circle cx="159.40" cy="796.40" r="2.60" fill="#1f1ff5" stroke="none" stroke-width="0"/>
<text x="165.8" y="800.2" font-size="10.5" text-anchor="start" fill="#111" stroke="#111" stroke-width="0.18">sgTfdp1-1</text>
<circle cx="233.80" cy="796.40" r="2.60" fill="#f39a30" stroke="none" stroke-width="0"/>
<text x="240.2" y="800.2" font-size="10.5" text-anchor="start" fill="#111" stroke="#111" stroke-width="0.18">sgTfdp1-2</text>
<circle cx="48.40" cy="812.90" r="2.70" fill="#8a8a8a" stroke="none" stroke-width="0"/>
<circle cx="48.40" cy="820.20" r="2.70" fill="#8a8a8a" stroke="none" stroke-width="0"/>
<circle cx="48.40" cy="829.80" r="2.70" fill="#8a8a8a" stroke="none" stroke-width="0"/>
<line x1="44.80" y1="820.20" x2="52.00" y2="820.20" stroke="#111" stroke-width="1.3"/>
<circle cx="55.50" cy="849.40" r="2.70" fill="#1f1ff5" stroke="none" stroke-width="0"/>
<circle cx="55.50" cy="887.40" r="2.70" fill="#1f1ff5" stroke="none" stroke-width="0"/>
<circle cx="55.50" cy="890.00" r="2.70" fill="#1f1ff5" stroke="none" stroke-width="0"/>
<line x1="51.90" y1="875.60" x2="59.10" y2="875.60" stroke="#111" stroke-width="1.3"/>
<circle cx="62.60" cy="869.80" r="2.70" fill="#f39a30" stroke="none" stroke-width="0"/>
<circle cx="62.60" cy="890.20" r="2.70" fill="#f39a30" stroke="none" stroke-width="0"/>
<line x1="59.00" y1="884.90" x2="66.20" y2="884.90" stroke="#111" stroke-width="1.3"/>
<circle cx="74.60" cy="851.70" r="2.70" fill="#8a8a8a" stroke="none" stroke-width="0"/>
<circle cx="74.60" cy="854.30" r="2.70" fill="#8a8a8a" stroke="none" stroke-width="0"/>
<circle cx="74.60" cy="860.50" r="2.70" fill="#8a8a8a" stroke="none" stroke-width="0"/>
<line x1="71.00" y1="855.20" x2="78.20" y2="855.20" stroke="#111" stroke-width="1.3"/>
<circle cx="81.70" cy="889.50" r="2.70" fill="#1f1ff5" stroke="none" stroke-width="0"/>
<circle cx="81.70" cy="890.00" r="2.70" fill="#1f1ff5" stroke="none" stroke-width="0"/>
<line x1="78.10" y1="889.00" x2="85.30" y2="889.00" stroke="#111" stroke-width="1.3"/>
<circle cx="88.80" cy="887.50" r="2.70" fill="#f39a30" stroke="none" stroke-width="0"/>
<circle cx="88.80" cy="890.00" r="2.70" fill="#f39a30" stroke="none" stroke-width="0"/>
<line x1="85.20" y1="889.00" x2="92.40" y2="889.00" stroke="#111" stroke-width="1.3"/>
<circle cx="100.80" cy="819.90" r="2.70" fill="#8a8a8a" stroke="none" stroke-width="0"/>
<circle cx="100.80" cy="843.30" r="2.70" fill="#8a8a8a" stroke="none" stroke-width="0"/>
<circle cx="100.80" cy="857.70" r="2.70" fill="#8a8a8a" stroke="none" stroke-width="0"/>
<line x1="97.20" y1="840.20" x2="104.40" y2="840.20" stroke="#111" stroke-width="1.3"/>
<circle cx="107.90" cy="887.50" r="2.70" fill="#1f1ff5" stroke="none" stroke-width="0"/>
<circle cx="107.90" cy="889.50" r="2.70" fill="#1f1ff5" stroke="none" stroke-width="0"/>
<line x1="104.30" y1="888.50" x2="111.50" y2="888.50" stroke="#111" stroke-width="1.3"/>
<circle cx="115.00" cy="884.50" r="2.70" fill="#f39a30" stroke="none" stroke-width="0"/>
<circle cx="115.00" cy="888.00" r="2.70" fill="#f39a30" stroke="none" stroke-width="0"/>
<circle cx="115.00" cy="890.00" r="2.70" fill="#f39a30" stroke="none" stroke-width="0"/>
<line x1="111.40" y1="885.00" x2="118.60" y2="885.00" stroke="#111" stroke-width="1.3"/>
<circle cx="127.00" cy="839.50" r="2.70" fill="#8a8a8a" stroke="none" stroke-width="0"/>
<circle cx="127.00" cy="852.60" r="2.70" fill="#8a8a8a" stroke="none" stroke-width="0"/>
<circle cx="127.00" cy="851.00" r="2.70" fill="#8a8a8a" stroke="none" stroke-width="0"/>
<line x1="123.40" y1="847.90" x2="130.60" y2="847.90" stroke="#111" stroke-width="1.3"/>
<circle cx="134.10" cy="888.00" r="2.70" fill="#1f1ff5" stroke="none" stroke-width="0"/>
<circle cx="134.10" cy="889.50" r="2.70" fill="#1f1ff5" stroke="none" stroke-width="0"/>
<line x1="130.50" y1="888.50" x2="137.70" y2="888.50" stroke="#111" stroke-width="1.3"/>
<circle cx="141.20" cy="889.00" r="2.70" fill="#f39a30" stroke="none" stroke-width="0"/>
<circle cx="141.20" cy="890.30" r="2.70" fill="#f39a30" stroke="none" stroke-width="0"/>
<line x1="137.60" y1="889.00" x2="144.80" y2="889.00" stroke="#111" stroke-width="1.3"/>
<circle cx="153.30" cy="851.20" r="2.70" fill="#8a8a8a" stroke="none" stroke-width="0"/>
<circle cx="153.30" cy="851.90" r="2.70" fill="#8a8a8a" stroke="none" stroke-width="0"/>
<circle cx="153.30" cy="864.70" r="2.70" fill="#8a8a8a" stroke="none" stroke-width="0"/>
<line x1="149.70" y1="856.60" x2="156.90" y2="856.60" stroke="#111" stroke-width="1.3"/>
<circle cx="160.40" cy="888.50" r="2.70" fill="#1f1ff5" stroke="none" stroke-width="0"/>
<circle cx="160.40" cy="890.00" r="2.70" fill="#1f1ff5" stroke="none" stroke-width="0"/>
<line x1="156.80" y1="889.00" x2="164.00" y2="889.00" stroke="#111" stroke-width="1.3"/>
<circle cx="167.50" cy="889.00" r="2.70" fill="#f39a30" stroke="none" stroke-width="0"/>
<circle cx="167.50" cy="890.30" r="2.70" fill="#f39a30" stroke="none" stroke-width="0"/>
<line x1="163.90" y1="889.00" x2="171.10" y2="889.00" stroke="#111" stroke-width="1.3"/>
<circle cx="206.20" cy="837.00" r="2.70" fill="#8a8a8a" stroke="none" stroke-width="0"/>
<circle cx="206.20" cy="854.00" r="2.70" fill="#8a8a8a" stroke="none" stroke-width="0"/>
<circle cx="206.20" cy="863.30" r="2.70" fill="#8a8a8a" stroke="none" stroke-width="0"/>
<line x1="202.60" y1="851.50" x2="209.80" y2="851.50" stroke="#111" stroke-width="1.3"/>
<circle cx="213.30" cy="882.60" r="2.70" fill="#1f1ff5" stroke="none" stroke-width="0"/>
<circle cx="213.30" cy="884.50" r="2.70" fill="#1f1ff5" stroke="none" stroke-width="0"/>
<circle cx="213.30" cy="890.00" r="2.70" fill="#1f1ff5" stroke="none" stroke-width="0"/>
<line x1="209.70" y1="886.00" x2="216.90" y2="886.00" stroke="#111" stroke-width="1.3"/>
<circle cx="220.40" cy="876.80" r="2.70" fill="#f39a30" stroke="none" stroke-width="0"/>
<circle cx="220.40" cy="890.00" r="2.70" fill="#f39a30" stroke="none" stroke-width="0"/>
<line x1="216.80" y1="887.00" x2="224.00" y2="887.00" stroke="#111" stroke-width="1.3"/>
<circle cx="232.40" cy="844.90" r="2.70" fill="#8a8a8a" stroke="none" stroke-width="0"/>
<circle cx="232.40" cy="850.90" r="2.70" fill="#8a8a8a" stroke="none" stroke-width="0"/>
<circle cx="232.40" cy="863.80" r="2.70" fill="#8a8a8a" stroke="none" stroke-width="0"/>
<line x1="228.80" y1="853.60" x2="236.00" y2="853.60" stroke="#111" stroke-width="1.3"/>
<circle cx="239.50" cy="890.00" r="2.70" fill="#1f1ff5" stroke="none" stroke-width="0"/>
<line x1="235.90" y1="889.00" x2="243.10" y2="889.00" stroke="#111" stroke-width="1.3"/>
<circle cx="246.60" cy="890.00" r="2.70" fill="#f39a30" stroke="none" stroke-width="0"/>
<line x1="243.00" y1="889.00" x2="250.20" y2="889.00" stroke="#111" stroke-width="1.3"/>
<circle cx="258.60" cy="853.60" r="2.70" fill="#8a8a8a" stroke="none" stroke-width="0"/>
<circle cx="258.60" cy="854.90" r="2.70" fill="#8a8a8a" stroke="none" stroke-width="0"/>
<circle cx="258.60" cy="863.80" r="2.70" fill="#8a8a8a" stroke="none" stroke-width="0"/>
<line x1="255.00" y1="856.70" x2="262.20" y2="856.70" stroke="#111" stroke-width="1.3"/>
<circle cx="265.70" cy="888.00" r="2.70" fill="#1f1ff5" stroke="none" stroke-width="0"/>
<circle cx="265.70" cy="890.00" r="2.70" fill="#1f1ff5" stroke="none" stroke-width="0"/>
<line x1="262.10" y1="889.00" x2="269.30" y2="889.00" stroke="#111" stroke-width="1.3"/>
<circle cx="272.80" cy="889.00" r="2.70" fill="#f39a30" stroke="none" stroke-width="0"/>
<line x1="269.20" y1="889.00" x2="276.40" y2="889.00" stroke="#111" stroke-width="1.3"/>
<circle cx="284.80" cy="863.30" r="2.70" fill="#8a8a8a" stroke="none" stroke-width="0"/>
<circle cx="284.80" cy="869.30" r="2.70" fill="#8a8a8a" stroke="none" stroke-width="0"/>
<circle cx="284.80" cy="872.50" r="2.70" fill="#8a8a8a" stroke="none" stroke-width="0"/>
<line x1="281.20" y1="869.30" x2="288.40" y2="869.30" stroke="#111" stroke-width="1.3"/>
<circle cx="291.90" cy="884.00" r="2.70" fill="#1f1ff5" stroke="none" stroke-width="0"/>
<circle cx="291.90" cy="890.00" r="2.70" fill="#1f1ff5" stroke="none" stroke-width="0"/>
<line x1="288.30" y1="888.00" x2="295.50" y2="888.00" stroke="#111" stroke-width="1.3"/>
<circle cx="299.00" cy="890.00" r="2.70" fill="#f39a30" stroke="none" stroke-width="0"/>
<line x1="295.40" y1="889.00" x2="302.60" y2="889.00" stroke="#111" stroke-width="1.3"/>
<circle cx="311.00" cy="864.60" r="2.70" fill="#8a8a8a" stroke="none" stroke-width="0"/>
<circle cx="311.00" cy="869.80" r="2.70" fill="#8a8a8a" stroke="none" stroke-width="0"/>
<circle cx="311.00" cy="872.00" r="2.70" fill="#8a8a8a" stroke="none" stroke-width="0"/>
<line x1="307.40" y1="869.30" x2="314.60" y2="869.30" stroke="#111" stroke-width="1.3"/>
<circle cx="318.10" cy="884.00" r="2.70" fill="#1f1ff5" stroke="none" stroke-width="0"/>
<circle cx="318.10" cy="890.00" r="2.70" fill="#1f1ff5" stroke="none" stroke-width="0"/>
<line x1="314.50" y1="888.00" x2="321.70" y2="888.00" stroke="#111" stroke-width="1.3"/>
<circle cx="325.20" cy="890.00" r="2.70" fill="#f39a30" stroke="none" stroke-width="0"/>
<line x1="321.60" y1="889.00" x2="328.80" y2="889.00" stroke="#111" stroke-width="1.3"/>
<line x1="44.90" y1="948.80" x2="176.00" y2="948.80" stroke="#555" stroke-width="0.9"/>
<text x="106.2" y="960.5" font-size="10.7" text-anchor="middle" fill="#111" stroke="#111" stroke-width="0.18">Bone marrow</text>
<line x1="198.40" y1="948.80" x2="329.20" y2="948.80" stroke="#555" stroke-width="0.9"/>
<text x="258.7" y="960.5" font-size="10.7" text-anchor="middle" fill="#111" stroke="#111" stroke-width="0.18">Spleen</text>
<line x1="393.60" y1="798.50" x2="393.60" y2="887.50" stroke="#444" stroke-width="1.2"/>
<line x1="389.60" y1="799.10" x2="393.60" y2="799.10" stroke="#444" stroke-width="1.2"/>
<text x="387.3" y="802.8" font-size="10.4" text-anchor="end" fill="#111" stroke="#111" stroke-width="0.18">2.5</text>
<line x1="389.60" y1="816.78" x2="393.60" y2="816.78" stroke="#444" stroke-width="1.2"/>
<text x="387.3" y="820.5" font-size="10.4" text-anchor="end" fill="#111" stroke="#111" stroke-width="0.18">2.0</text>
<line x1="389.60" y1="834.46" x2="393.60" y2="834.46" stroke="#444" stroke-width="1.2"/>
<text x="387.3" y="838.2" font-size="10.4" text-anchor="end" fill="#111" stroke="#111" stroke-width="0.18">1.5</text>
<line x1="389.60" y1="852.14" x2="393.60" y2="852.14" stroke="#444" stroke-width="1.2"/>
<text x="387.3" y="855.8" font-size="10.4" text-anchor="end" fill="#111" stroke="#111" stroke-width="0.18">1.0</text>
<line x1="389.60" y1="869.82" x2="393.60" y2="869.82" stroke="#444" stroke-width="1.2"/>
<text x="387.3" y="873.5" font-size="10.4" text-anchor="end" fill="#111" stroke="#111" stroke-width="0.18">0.5</text>
<line x1="389.60" y1="887.50" x2="393.60" y2="887.50" stroke="#444" stroke-width="1.2"/>
<text x="387.3" y="891.2" font-size="10.4" text-anchor="end" fill="#111" stroke="#111" stroke-width="0.18">0.0</text>
<line x1="389.60" y1="887.50" x2="680.50" y2="887.50" stroke="#333" stroke-width="1.3"/>
<line x1="405.10" y1="887.50" x2="405.10" y2="891.50" stroke="#333" stroke-width="1.2"/>
<line x1="431.30" y1="887.50" x2="431.30" y2="891.50" stroke="#333" stroke-width="1.2"/>
<line x1="457.60" y1="887.50" x2="457.60" y2="891.50" stroke="#333" stroke-width="1.2"/>
<line x1="483.90" y1="887.50" x2="483.90" y2="891.50" stroke="#333" stroke-width="1.2"/>
<line x1="510.20" y1="887.50" x2="510.20" y2="891.50" stroke="#333" stroke-width="1.2"/>
<line x1="562.80" y1="887.50" x2="562.80" y2="891.50" stroke="#333" stroke-width="1.2"/>
<line x1="589.10" y1="887.50" x2="589.10" y2="891.50" stroke="#333" stroke-width="1.2"/>
<line x1="615.40" y1="887.50" x2="615.40" y2="891.50" stroke="#333" stroke-width="1.2"/>
<line x1="641.60" y1="887.50" x2="641.60" y2="891.50" stroke="#333" stroke-width="1.2"/>
<line x1="668.10" y1="887.50" x2="668.10" y2="891.50" stroke="#333" stroke-width="1.2"/>
<line x1="537.00" y1="887.50" x2="537.00" y2="891.50" stroke="#333" stroke-width="1.2"/>
<text x="408.5" y="902.5" font-size="10.9" text-anchor="end" fill="#111" stroke="#111" stroke-width="0.18" transform="rotate(-45 408.5 902.5)">T cell</text>
<text x="434.7" y="902.5" font-size="10.9" text-anchor="end" fill="#111" stroke="#111" stroke-width="0.18" transform="rotate(-45 434.7 902.5)">NK cell</text>
<text x="461.0" y="902.5" font-size="10.9" text-anchor="end" fill="#111" stroke="#111" stroke-width="0.18" transform="rotate(-45 461.0 902.5)">B cell</text>
<text x="487.3" y="902.5" font-size="10.9" text-anchor="end" fill="#111" stroke="#111" stroke-width="0.18" transform="rotate(-45 487.29999999999995 902.5)">Gr-1<tspan font-size="8" dy="-3.8">+</tspan><tspan dy="3.8"> cell</tspan></text>
<text x="513.6" y="902.5" font-size="10.9" text-anchor="end" fill="#111" stroke="#111" stroke-width="0.18" transform="rotate(-45 513.6 902.5)">CD11b<tspan font-size="8" dy="-3.8">+</tspan><tspan dy="3.8"> cell</tspan></text>
<text x="566.2" y="902.5" font-size="10.9" text-anchor="end" fill="#111" stroke="#111" stroke-width="0.18" transform="rotate(-45 566.1999999999999 902.5)">T cell</text>
<text x="592.5" y="902.5" font-size="10.9" text-anchor="end" fill="#111" stroke="#111" stroke-width="0.18" transform="rotate(-45 592.5 902.5)">NK cell</text>
<text x="618.8" y="902.5" font-size="10.9" text-anchor="end" fill="#111" stroke="#111" stroke-width="0.18" transform="rotate(-45 618.8 902.5)">B cell</text>
<text x="645.0" y="902.5" font-size="10.9" text-anchor="end" fill="#111" stroke="#111" stroke-width="0.18" transform="rotate(-45 645.0 902.5)">Gr-1<tspan font-size="8" dy="-3.8">+</tspan><tspan dy="3.8"> cell</tspan></text>
<text x="671.5" y="902.5" font-size="10.9" text-anchor="end" fill="#111" stroke="#111" stroke-width="0.18" transform="rotate(-45 671.5 902.5)">CD11b<tspan font-size="8" dy="-3.8">+</tspan><tspan dy="3.8"> cell</tspan></text>
<circle cx="430.00" cy="796.40" r="2.60" fill="#8a8a8a" stroke="none" stroke-width="0"/>
<text x="436.4" y="800.2" font-size="10.5" text-anchor="start" fill="#111" stroke="#111" stroke-width="0.18">sgRosa26</text>
<circle cx="509.30" cy="796.40" r="2.60" fill="#b07d42" stroke="none" stroke-width="0"/>
<text x="515.7" y="800.2" font-size="10.5" text-anchor="start" fill="#111" stroke="#111" stroke-width="0.18">sgE2f4-2</text>
<circle cx="583.00" cy="796.40" r="2.60" fill="#ff3df5" stroke="none" stroke-width="0"/>
<text x="589.4" y="800.2" font-size="10.5" text-anchor="start" fill="#111" stroke="#111" stroke-width="0.18">sgE2f4-3</text>
<circle cx="398.00" cy="818.40" r="2.70" fill="#8a8a8a" stroke="none" stroke-width="0"/>
<circle cx="398.00" cy="844.30" r="2.70" fill="#8a8a8a" stroke="none" stroke-width="0"/>
<circle cx="398.00" cy="854.20" r="2.70" fill="#8a8a8a" stroke="none" stroke-width="0"/>
<circle cx="398.00" cy="862.40" r="2.70" fill="#8a8a8a" stroke="none" stroke-width="0"/>
<line x1="394.40" y1="844.30" x2="401.60" y2="844.30" stroke="#111" stroke-width="1.3"/>
<circle cx="405.10" cy="876.40" r="2.70" fill="#b07d42" stroke="none" stroke-width="0"/>
<circle cx="405.10" cy="879.00" r="2.70" fill="#b07d42" stroke="none" stroke-width="0"/>
<circle cx="405.10" cy="882.00" r="2.70" fill="#b07d42" stroke="none" stroke-width="0"/>
<circle cx="405.10" cy="885.00" r="2.70" fill="#b07d42" stroke="none" stroke-width="0"/>
<circle cx="405.10" cy="887.00" r="2.70" fill="#b07d42" stroke="none" stroke-width="0"/>
<line x1="401.50" y1="883.00" x2="408.70" y2="883.00" stroke="#111" stroke-width="1.3"/>
<circle cx="412.20" cy="879.90" r="2.70" fill="#ff3df5" stroke="none" stroke-width="0"/>
<circle cx="412.20" cy="882.00" r="2.70" fill="#ff3df5" stroke="none" stroke-width="0"/>
<circle cx="412.20" cy="885.00" r="2.70" fill="#ff3df5" stroke="none" stroke-width="0"/>
<circle cx="412.20" cy="887.00" r="2.70" fill="#ff3df5" stroke="none" stroke-width="0"/>
<circle cx="424.20" cy="829.10" r="2.70" fill="#8a8a8a" stroke="none" stroke-width="0"/>
<circle cx="424.20" cy="839.60" r="2.70" fill="#8a8a8a" stroke="none" stroke-width="0"/>
<circle cx="424.20" cy="848.40" r="2.70" fill="#8a8a8a" stroke="none" stroke-width="0"/>
<circle cx="424.20" cy="856.80" r="2.70" fill="#8a8a8a" stroke="none" stroke-width="0"/>
<line x1="420.60" y1="843.50" x2="427.80" y2="843.50" stroke="#111" stroke-width="1.3"/>
<circle cx="431.30" cy="870.60" r="2.70" fill="#b07d42" stroke="none" stroke-width="0"/>
<circle cx="431.30" cy="877.00" r="2.70" fill="#b07d42" stroke="none" stroke-width="0"/>
<circle cx="431.30" cy="881.00" r="2.70" fill="#b07d42" stroke="none" stroke-width="0"/>
<circle cx="431.30" cy="885.00" r="2.70" fill="#b07d42" stroke="none" stroke-width="0"/>
<circle cx="431.30" cy="887.00" r="2.70" fill="#b07d42" stroke="none" stroke-width="0"/>
<line x1="427.70" y1="882.00" x2="434.90" y2="882.00" stroke="#111" stroke-width="1.3"/>
<circle cx="438.40" cy="875.00" r="2.70" fill="#ff3df5" stroke="none" stroke-width="0"/>
<circle cx="438.40" cy="878.00" r="2.70" fill="#ff3df5" stroke="none" stroke-width="0"/>
<circle cx="438.40" cy="882.00" r="2.70" fill="#ff3df5" stroke="none" stroke-width="0"/>
<circle cx="438.40" cy="886.00" r="2.70" fill="#ff3df5" stroke="none" stroke-width="0"/>
<circle cx="450.50" cy="831.00" r="2.70" fill="#8a8a8a" stroke="none" stroke-width="0"/>
<circle cx="450.50" cy="843.00" r="2.70" fill="#8a8a8a" stroke="none" stroke-width="0"/>
<circle cx="450.50" cy="854.60" r="2.70" fill="#8a8a8a" stroke="none" stroke-width="0"/>
<circle cx="450.50" cy="855.90" r="2.70" fill="#8a8a8a" stroke="none" stroke-width="0"/>
<line x1="446.90" y1="845.70" x2="454.10" y2="845.70" stroke="#111" stroke-width="1.3"/>
<circle cx="457.60" cy="877.00" r="2.70" fill="#b07d42" stroke="none" stroke-width="0"/>
<circle cx="457.60" cy="880.00" r="2.70" fill="#b07d42" stroke="none" stroke-width="0"/>
<circle cx="457.60" cy="882.00" r="2.70" fill="#b07d42" stroke="none" stroke-width="0"/>
<circle cx="457.60" cy="886.00" r="2.70" fill="#b07d42" stroke="none" stroke-width="0"/>
<line x1="454.00" y1="882.00" x2="461.20" y2="882.00" stroke="#111" stroke-width="1.3"/>
<circle cx="464.70" cy="880.00" r="2.70" fill="#ff3df5" stroke="none" stroke-width="0"/>
<circle cx="464.70" cy="884.00" r="2.70" fill="#ff3df5" stroke="none" stroke-width="0"/>
<circle cx="464.70" cy="887.00" r="2.70" fill="#ff3df5" stroke="none" stroke-width="0"/>
<circle cx="476.80" cy="824.40" r="2.70" fill="#8a8a8a" stroke="none" stroke-width="0"/>
<circle cx="476.80" cy="831.00" r="2.70" fill="#8a8a8a" stroke="none" stroke-width="0"/>
<circle cx="476.80" cy="851.50" r="2.70" fill="#8a8a8a" stroke="none" stroke-width="0"/>
<circle cx="476.80" cy="858.00" r="2.70" fill="#8a8a8a" stroke="none" stroke-width="0"/>
<line x1="473.20" y1="840.90" x2="480.40" y2="840.90" stroke="#111" stroke-width="1.3"/>
<circle cx="483.90" cy="880.00" r="2.70" fill="#b07d42" stroke="none" stroke-width="0"/>
<circle cx="483.90" cy="886.00" r="2.70" fill="#b07d42" stroke="none" stroke-width="0"/>
<line x1="480.30" y1="884.00" x2="487.50" y2="884.00" stroke="#111" stroke-width="1.3"/>
<circle cx="491.00" cy="880.00" r="2.70" fill="#ff3df5" stroke="none" stroke-width="0"/>
<circle cx="491.00" cy="884.00" r="2.70" fill="#ff3df5" stroke="none" stroke-width="0"/>
<circle cx="491.00" cy="887.00" r="2.70" fill="#ff3df5" stroke="none" stroke-width="0"/>
<circle cx="503.10" cy="837.80" r="2.70" fill="#8a8a8a" stroke="none" stroke-width="0"/>
<circle cx="503.10" cy="844.40" r="2.70" fill="#8a8a8a" stroke="none" stroke-width="0"/>
<circle cx="503.10" cy="846.70" r="2.70" fill="#8a8a8a" stroke="none" stroke-width="0"/>
<circle cx="503.10" cy="862.00" r="2.70" fill="#8a8a8a" stroke="none" stroke-width="0"/>
<line x1="499.50" y1="847.00" x2="506.70" y2="847.00" stroke="#111" stroke-width="1.3"/>
<circle cx="510.20" cy="882.00" r="2.70" fill="#b07d42" stroke="none" stroke-width="0"/>
<circle cx="510.20" cy="886.00" r="2.70" fill="#b07d42" stroke="none" stroke-width="0"/>
<line x1="506.60" y1="885.00" x2="513.80" y2="885.00" stroke="#111" stroke-width="1.3"/>
<circle cx="517.30" cy="877.70" r="2.70" fill="#ff3df5" stroke="none" stroke-width="0"/>
<circle cx="517.30" cy="882.00" r="2.70" fill="#ff3df5" stroke="none" stroke-width="0"/>
<circle cx="517.30" cy="887.00" r="2.70" fill="#ff3df5" stroke="none" stroke-width="0"/>
<circle cx="555.70" cy="816.00" r="2.70" fill="#8a8a8a" stroke="none" stroke-width="0"/>
<circle cx="555.70" cy="821.20" r="2.70" fill="#8a8a8a" stroke="none" stroke-width="0"/>
<circle cx="555.70" cy="848.80" r="2.70" fill="#8a8a8a" stroke="none" stroke-width="0"/>
<circle cx="555.70" cy="860.60" r="2.70" fill="#8a8a8a" stroke="none" stroke-width="0"/>
<line x1="552.10" y1="837.00" x2="559.30" y2="837.00" stroke="#111" stroke-width="1.3"/>
<circle cx="562.80" cy="879.00" r="2.70" fill="#b07d42" stroke="none" stroke-width="0"/>
<circle cx="562.80" cy="882.00" r="2.70" fill="#b07d42" stroke="none" stroke-width="0"/>
<circle cx="562.80" cy="885.00" r="2.70" fill="#b07d42" stroke="none" stroke-width="0"/>
<circle cx="562.80" cy="887.00" r="2.70" fill="#b07d42" stroke="none" stroke-width="0"/>
<line x1="559.20" y1="884.00" x2="566.40" y2="884.00" stroke="#111" stroke-width="1.3"/>
<circle cx="569.90" cy="882.00" r="2.70" fill="#ff3df5" stroke="none" stroke-width="0"/>
<circle cx="569.90" cy="885.00" r="2.70" fill="#ff3df5" stroke="none" stroke-width="0"/>
<circle cx="569.90" cy="887.00" r="2.70" fill="#ff3df5" stroke="none" stroke-width="0"/>
<circle cx="582.00" cy="840.90" r="2.70" fill="#8a8a8a" stroke="none" stroke-width="0"/>
<circle cx="582.00" cy="843.60" r="2.70" fill="#8a8a8a" stroke="none" stroke-width="0"/>
<circle cx="582.00" cy="848.80" r="2.70" fill="#8a8a8a" stroke="none" stroke-width="0"/>
<circle cx="582.00" cy="856.70" r="2.70" fill="#8a8a8a" stroke="none" stroke-width="0"/>
<line x1="578.40" y1="848.30" x2="585.60" y2="848.30" stroke="#111" stroke-width="1.3"/>
<circle cx="589.10" cy="866.70" r="2.70" fill="#b07d42" stroke="none" stroke-width="0"/>
<circle cx="589.10" cy="875.10" r="2.70" fill="#b07d42" stroke="none" stroke-width="0"/>
<circle cx="589.10" cy="883.00" r="2.70" fill="#b07d42" stroke="none" stroke-width="0"/>
<circle cx="589.10" cy="887.00" r="2.70" fill="#b07d42" stroke="none" stroke-width="0"/>
<line x1="585.50" y1="882.00" x2="592.70" y2="882.00" stroke="#111" stroke-width="1.3"/>
<circle cx="596.20" cy="877.00" r="2.70" fill="#ff3df5" stroke="none" stroke-width="0"/>
<circle cx="596.20" cy="880.00" r="2.70" fill="#ff3df5" stroke="none" stroke-width="0"/>
<circle cx="596.20" cy="884.00" r="2.70" fill="#ff3df5" stroke="none" stroke-width="0"/>
<circle cx="596.20" cy="887.00" r="2.70" fill="#ff3df5" stroke="none" stroke-width="0"/>
<circle cx="608.30" cy="845.70" r="2.70" fill="#8a8a8a" stroke="none" stroke-width="0"/>
<circle cx="608.30" cy="858.00" r="2.70" fill="#8a8a8a" stroke="none" stroke-width="0"/>
<circle cx="608.30" cy="862.00" r="2.70" fill="#8a8a8a" stroke="none" stroke-width="0"/>
<line x1="604.70" y1="852.80" x2="611.90" y2="852.80" stroke="#111" stroke-width="1.3"/>
<circle cx="615.40" cy="880.00" r="2.70" fill="#b07d42" stroke="none" stroke-width="0"/>
<circle cx="615.40" cy="883.00" r="2.70" fill="#b07d42" stroke="none" stroke-width="0"/>
<circle cx="615.40" cy="887.00" r="2.70" fill="#b07d42" stroke="none" stroke-width="0"/>
<line x1="611.80" y1="884.00" x2="619.00" y2="884.00" stroke="#111" stroke-width="1.3"/>
<circle cx="622.50" cy="877.00" r="2.70" fill="#ff3df5" stroke="none" stroke-width="0"/>
<circle cx="622.50" cy="881.00" r="2.70" fill="#ff3df5" stroke="none" stroke-width="0"/>
<circle cx="622.50" cy="885.00" r="2.70" fill="#ff3df5" stroke="none" stroke-width="0"/>
<circle cx="622.50" cy="887.00" r="2.70" fill="#ff3df5" stroke="none" stroke-width="0"/>
<circle cx="634.50" cy="842.30" r="2.70" fill="#8a8a8a" stroke="none" stroke-width="0"/>
<circle cx="634.50" cy="852.80" r="2.70" fill="#8a8a8a" stroke="none" stroke-width="0"/>
<circle cx="634.50" cy="860.60" r="2.70" fill="#8a8a8a" stroke="none" stroke-width="0"/>
<line x1="630.90" y1="852.80" x2="638.10" y2="852.80" stroke="#111" stroke-width="1.3"/>
<circle cx="641.60" cy="880.00" r="2.70" fill="#b07d42" stroke="none" stroke-width="0"/>
<circle cx="641.60" cy="884.00" r="2.70" fill="#b07d42" stroke="none" stroke-width="0"/>
<circle cx="641.60" cy="887.00" r="2.70" fill="#b07d42" stroke="none" stroke-width="0"/>
<line x1="638.00" y1="884.00" x2="645.20" y2="884.00" stroke="#111" stroke-width="1.3"/>
<circle cx="648.70" cy="880.00" r="2.70" fill="#ff3df5" stroke="none" stroke-width="0"/>
<circle cx="648.70" cy="884.00" r="2.70" fill="#ff3df5" stroke="none" stroke-width="0"/>
<circle cx="648.70" cy="887.00" r="2.70" fill="#ff3df5" stroke="none" stroke-width="0"/>
<circle cx="661.00" cy="840.40" r="2.70" fill="#8a8a8a" stroke="none" stroke-width="0"/>
<circle cx="661.00" cy="851.50" r="2.70" fill="#8a8a8a" stroke="none" stroke-width="0"/>
<circle cx="661.00" cy="863.30" r="2.70" fill="#8a8a8a" stroke="none" stroke-width="0"/>
<line x1="657.40" y1="851.50" x2="664.60" y2="851.50" stroke="#111" stroke-width="1.3"/>
<circle cx="668.10" cy="882.00" r="2.70" fill="#b07d42" stroke="none" stroke-width="0"/>
<circle cx="668.10" cy="885.00" r="2.70" fill="#b07d42" stroke="none" stroke-width="0"/>
<circle cx="668.10" cy="887.00" r="2.70" fill="#b07d42" stroke="none" stroke-width="0"/>
<line x1="664.50" y1="885.00" x2="671.70" y2="885.00" stroke="#111" stroke-width="1.3"/>
<circle cx="675.20" cy="882.00" r="2.70" fill="#ff3df5" stroke="none" stroke-width="0"/>
<circle cx="675.20" cy="885.00" r="2.70" fill="#ff3df5" stroke="none" stroke-width="0"/>
<circle cx="675.20" cy="887.00" r="2.70" fill="#ff3df5" stroke="none" stroke-width="0"/>
<line x1="394.60" y1="946.30" x2="525.70" y2="946.30" stroke="#555" stroke-width="0.9"/>
<text x="456.0" y="958.9" font-size="10.7" text-anchor="middle" fill="#111" stroke="#111" stroke-width="0.18">Bone marrow</text>
<line x1="548.30" y1="946.30" x2="678.40" y2="946.30" stroke="#555" stroke-width="0.9"/>
<text x="608.2" y="958.9" font-size="10.7" text-anchor="middle" fill="#111" stroke="#111" stroke-width="0.18">Spleen</text>
<text x="19.3" y="841.0" font-size="10.4" text-anchor="middle" fill="#111" stroke="#111" stroke-width="0.18" transform="rotate(-90 19.3 841)">GFP+/GFP- ratio</text>
<text x="360.5" y="842.2" font-size="10.4" text-anchor="middle" fill="#111" stroke="#111" stroke-width="0.18" transform="rotate(-90 360.5 842.2)">GFP+/GFP- ratio</text>
</svg></body></html>
